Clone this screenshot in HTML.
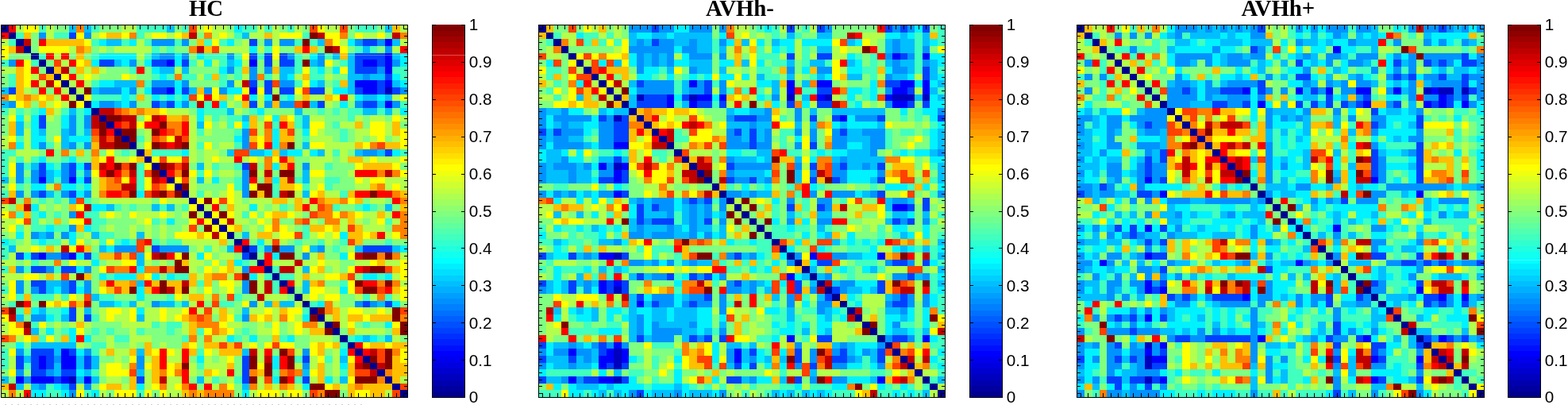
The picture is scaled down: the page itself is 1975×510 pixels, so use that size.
<!DOCTYPE html>
<html><head><meta charset="utf-8"><title>Connectivity matrices</title>
<style>
html,body{margin:0;padding:0;background:#fff;}
body{width:1975px;height:510px;overflow:hidden;position:relative;}
svg{position:absolute;left:0;top:0;display:block;}
.t{font-family:"Liberation Serif",serif;font-weight:bold;font-size:28.8px;text-anchor:middle;fill:#000;}
.l{font-family:"Liberation Sans",sans-serif;font-size:20.7px;fill:#000;}
.k{stroke:#000;stroke-width:1;fill:none;}
</style></head><body>
<svg width="1975" height="510" viewBox="0 0 1975 510">
<rect width="1975" height="510" fill="#fff"/>
<g shape-rendering="crispEdges">
<path fill="#00008f" d="M1.5 32H10.98V40.67H1.5zM10.98 40.67H20.46V49.33H10.98zM20.46 49.33H29.94V58H20.46zM29.94 58H39.42V66.67H29.94zM39.42 66.67H48.9V75.33H39.42zM48.9 75.33H58.38V84H48.9zM58.38 84H67.86V92.67H58.38zM67.86 92.67H77.34V101.33H67.86zM77.34 101.33H86.82V110H77.34zM86.82 110H96.3V118.67H86.82zM96.3 118.67H105.78V127.33H96.3zM105.78 127.33H115.26V136H105.78zM115.26 136H124.74V144.67H115.26zM124.74 144.67H134.21V153.33H124.74zM134.21 153.33H143.69V162H134.21zM143.69 162H153.17V170.67H143.69zM153.17 170.67H162.65V179.33H153.17zM162.65 179.33H172.13V188H162.65zM172.13 188H181.61V196.67H172.13zM181.61 196.67H191.09V205.33H181.61zM191.09 205.33H200.57V214H191.09zM200.57 214H210.05V222.67H200.57zM210.05 222.67H219.53V231.33H210.05zM219.53 231.33H229.01V240H219.53zM229.01 240H238.49V248.67H229.01zM238.49 248.67H247.97V257.33H238.49zM247.97 257.33H257.45V266H247.97zM257.45 266H266.93V274.67H257.45zM266.93 274.67H276.41V283.33H266.93zM276.41 283.33H285.89V292H276.41zM285.89 292H295.37V300.67H285.89zM295.37 300.67H304.85V309.33H295.37zM304.85 309.33H314.33V318H304.85zM314.33 318H323.81V326.67H314.33zM323.81 326.67H333.29V335.33H323.81zM333.29 335.33H342.77V344H333.29zM342.77 344H352.25V352.67H342.77zM352.25 352.67H361.73V361.33H352.25zM361.73 361.33H371.21V370H361.73zM371.21 370H380.69V378.67H371.21zM380.69 378.67H390.16V387.33H380.69zM390.16 387.33H399.64V396H390.16zM399.64 396H409.12V404.67H399.64zM409.12 404.67H418.6V413.33H409.12zM418.6 413.33H428.08V422H418.6zM428.08 422H437.56V430.67H428.08zM437.56 430.67H447.04V439.33H437.56zM447.04 439.33H456.52V448H447.04zM456.52 448H466V456.67H456.52zM466 456.67H475.48V465.33H466zM475.48 465.33H484.96V474H475.48zM484.96 474H494.44V482.67H484.96zM494.44 482.67H503.92V491.33H494.44zM503.92 491.33H513.4V500H503.92z"/>
<path fill="#0000bf" d="M484.96 110H494.44V118.67H484.96zM86.82 474H96.3V482.67H86.82z"/>
<path fill="#0000ff" d="M484.96 49.33H494.44V58H484.96zM484.96 66.67H494.44V75.33H484.96zM210.05 75.33H219.53V84H210.05zM314.33 75.33H323.81V84H314.33zM456.52 75.33H475.48V84H456.52zM484.96 75.33H494.44V84H484.96zM484.96 84H494.44V92.67H484.96zM447.04 101.33H475.48V110H447.04zM484.96 101.33H494.44V110H484.96zM210.05 110H219.53V118.67H210.05zM314.33 110H323.81V118.67H314.33zM456.52 110H475.48V118.67H456.52zM484.96 127.33H494.44V136H484.96zM48.9 222.67H58.38V231.33H48.9zM86.82 222.67H96.3V231.33H86.82zM48.9 318H58.38V326.67H48.9zM86.82 318H96.3V326.67H86.82zM77.34 439.33H86.82V448H77.34zM48.9 448H58.38V456.67H48.9zM77.34 448H96.3V456.67H77.34zM48.9 456.67H58.38V465.33H48.9zM77.34 456.67H96.3V465.33H77.34zM20.46 474H29.94V482.67H20.46zM39.42 474H67.86V482.67H39.42zM77.34 474H86.82V482.67H77.34zM105.78 474H115.26V482.67H105.78z"/>
<path fill="#0040ff" d="M86.82 40.67H96.3V49.33H86.82zM314.33 49.33H323.81V58H314.33zM456.52 49.33H475.48V58H456.52zM314.33 66.67H323.81V75.33H314.33zM333.29 66.67H342.77V75.33H333.29zM352.25 66.67H361.73V75.33H352.25zM447.04 66.67H484.96V75.33H447.04zM124.74 75.33H143.69V84H124.74zM191.09 75.33H210.05V84H191.09zM229.01 75.33H238.49V84H229.01zM333.29 75.33H342.77V84H333.29zM352.25 75.33H371.21V84H352.25zM447.04 75.33H456.52V84H447.04zM475.48 75.33H484.96V84H475.48zM447.04 84H475.48V92.67H447.04zM484.96 92.67H494.44V101.33H484.96zM314.33 101.33H323.81V110H314.33zM333.29 101.33H342.77V110H333.29zM475.48 101.33H484.96V110H475.48zM10.98 110H20.46V118.67H10.98zM191.09 110H210.05V118.67H191.09zM229.01 110H238.49V118.67H229.01zM333.29 110H342.77V118.67H333.29zM352.25 110H371.21V118.67H352.25zM390.16 110H409.12V118.67H390.16zM447.04 110H456.52V118.67H447.04zM475.48 110H484.96V118.67H475.48zM494.44 110H503.92V118.67H494.44zM191.09 127.33H200.57V136H191.09zM210.05 127.33H219.53V136H210.05zM314.33 127.33H323.81V136H314.33zM399.64 127.33H409.12V136H399.64zM456.52 127.33H475.48V136H456.52zM48.9 144.67H58.38V153.33H48.9zM48.9 153.33H58.38V162H48.9zM484.96 188H494.44V196.67H484.96zM48.9 205.33H58.38V214H48.9zM86.82 205.33H96.3V214H86.82zM105.78 205.33H115.26V214H105.78zM304.85 205.33H314.33V214H304.85zM48.9 214H58.38V222.67H48.9zM86.82 214H96.3V222.67H86.82zM105.78 222.67H115.26V231.33H105.78zM48.9 240H58.38V248.67H48.9zM86.82 240H96.3V248.67H86.82zM191.09 309.33H200.57V318H191.09zM314.33 309.33H323.81V318H314.33zM456.52 309.33H494.44V318H456.52zM20.46 318H29.94V326.67H20.46zM39.42 318H48.9V326.67H39.42zM77.34 318H86.82V326.67H77.34zM105.78 318H115.26V326.67H105.78zM304.85 318H314.33V326.67H304.85zM39.42 335.33H58.38V344H39.42zM77.34 335.33H96.3V344H77.34zM39.42 352.67H58.38V361.33H39.42zM86.82 352.67H96.3V361.33H86.82zM48.9 361.33H58.38V370H48.9zM86.82 361.33H96.3V370H86.82zM456.52 378.67H466V387.33H456.52zM484.96 378.67H494.44V387.33H484.96zM86.82 387.33H96.3V396H86.82zM86.82 396H96.3V404.67H86.82zM105.78 396H115.26V404.67H105.78zM39.42 439.33H67.86V448H39.42zM86.82 439.33H96.3V448H86.82zM20.46 448H29.94V456.67H20.46zM39.42 448H48.9V456.67H39.42zM58.38 448H67.86V456.67H58.38zM105.78 448H115.26V456.67H105.78zM304.85 448H314.33V456.67H304.85zM380.69 448H390.16V456.67H380.69zM20.46 456.67H29.94V465.33H20.46zM39.42 456.67H48.9V465.33H39.42zM58.38 456.67H67.86V465.33H58.38zM105.78 456.67H115.26V465.33H105.78zM304.85 456.67H314.33V465.33H304.85zM39.42 465.33H58.38V474H39.42zM77.34 465.33H96.3V474H77.34zM304.85 465.33H314.33V474H304.85zM67.86 474H77.34V482.67H67.86zM172.13 474H181.61V482.67H172.13zM304.85 474H314.33V482.67H304.85zM380.69 474H390.16V482.67H380.69zM86.82 482.67H96.3V491.33H86.82z"/>
<path fill="#0093ff" d="M48.9 40.67H58.38V49.33H48.9zM105.78 40.67H115.26V49.33H105.78zM191.09 49.33H219.53V58H191.09zM229.01 49.33H238.49V58H229.01zM333.29 49.33H342.77V58H333.29zM352.25 49.33H371.21V58H352.25zM447.04 49.33H456.52V58H447.04zM475.48 49.33H484.96V58H475.48zM484.96 58H494.44V66.67H484.96zM200.57 66.67H219.53V75.33H200.57zM229.01 66.67H238.49V75.33H229.01zM285.89 66.67H295.37V75.33H285.89zM361.73 66.67H371.21V75.33H361.73zM399.64 66.67H409.12V75.33H399.64zM10.98 75.33H20.46V84H10.98zM162.65 75.33H172.13V84H162.65zM399.64 75.33H409.12V84H399.64zM494.44 75.33H503.92V84H494.44zM285.89 84H295.37V92.67H285.89zM314.33 84H323.81V92.67H314.33zM333.29 84H342.77V92.67H333.29zM475.48 84H484.96V92.67H475.48zM314.33 92.67H323.81V101.33H314.33zM456.52 92.67H466V101.33H456.52zM191.09 101.33H219.53V110H191.09zM229.01 101.33H238.49V110H229.01zM285.89 101.33H295.37V110H285.89zM352.25 101.33H371.21V110H352.25zM124.74 110H153.17V118.67H124.74zM162.65 110H172.13V118.67H162.65zM257.45 110H266.93V118.67H257.45zM276.41 110H285.89V118.67H276.41zM503.92 110H513.4V118.67H503.92zM10.98 127.33H20.46V136H10.98zM124.74 127.33H143.69V136H124.74zM162.65 127.33H172.13V136H162.65zM200.57 127.33H210.05V136H200.57zM229.01 127.33H238.49V136H229.01zM333.29 127.33H342.77V136H333.29zM352.25 127.33H371.21V136H352.25zM447.04 127.33H456.52V136H447.04zM494.44 127.33H503.92V136H494.44zM86.82 144.67H96.3V153.33H86.82zM105.78 144.67H115.26V153.33H105.78zM86.82 153.33H96.3V162H86.82zM105.78 153.33H115.26V162H105.78zM86.82 162H96.3V170.67H86.82zM304.85 162H314.33V170.67H304.85zM304.85 170.67H314.33V179.33H304.85zM48.9 179.33H58.38V188H48.9zM86.82 179.33H96.3V188H86.82zM105.78 179.33H115.26V188H105.78zM304.85 179.33H314.33V188H304.85zM456.52 188H475.48V196.67H456.52zM20.46 205.33H29.94V214H20.46zM77.34 205.33H86.82V214H77.34zM380.69 205.33H390.16V214H380.69zM20.46 214H29.94V222.67H20.46zM39.42 214H48.9V222.67H39.42zM77.34 214H86.82V222.67H77.34zM105.78 214H115.26V222.67H105.78zM304.85 214H314.33V222.67H304.85zM20.46 222.67H29.94V231.33H20.46zM39.42 222.67H48.9V231.33H39.42zM77.34 222.67H86.82V231.33H77.34zM304.85 222.67H314.33V231.33H304.85zM304.85 231.33H314.33V240H304.85zM20.46 240H29.94V248.67H20.46zM39.42 240H48.9V248.67H39.42zM77.34 240H86.82V248.67H77.34zM105.78 240H115.26V248.67H105.78zM304.85 240H314.33V248.67H304.85zM86.82 266H96.3V274.67H86.82zM86.82 283.33H96.3V292H86.82zM39.42 292H48.9V300.67H39.42zM58.38 292H67.86V300.67H58.38zM77.34 292H86.82V300.67H77.34zM143.69 309.33H172.13V318H143.69zM200.57 309.33H238.49V318H200.57zM333.29 309.33H342.77V318H333.29zM352.25 309.33H371.21V318H352.25zM399.64 309.33H409.12V318H399.64zM58.38 318H77.34V326.67H58.38zM380.69 318H390.16V326.67H380.69zM20.46 335.33H29.94V344H20.46zM58.38 335.33H67.86V344H58.38zM105.78 335.33H115.26V344H105.78zM304.85 335.33H314.33V344H304.85zM20.46 352.67H29.94V361.33H20.46zM77.34 352.67H86.82V361.33H77.34zM105.78 352.67H115.26V361.33H105.78zM304.85 352.67H314.33V361.33H304.85zM20.46 361.33H29.94V370H20.46zM39.42 361.33H48.9V370H39.42zM77.34 361.33H86.82V370H77.34zM105.78 361.33H115.26V370H105.78zM304.85 361.33H314.33V370H304.85zM191.09 378.67H200.57V387.33H191.09zM314.33 378.67H323.81V387.33H314.33zM447.04 378.67H456.52V387.33H447.04zM466 378.67H475.48V387.33H466zM39.42 396H58.38V404.67H39.42zM304.85 396H314.33V404.67H304.85zM20.46 439.33H29.94V448H20.46zM105.78 439.33H115.26V448H105.78zM380.69 439.33H390.16V448H380.69zM67.86 448H77.34V456.67H67.86zM172.13 448H181.61V456.67H172.13zM172.13 456.67H181.61V465.33H172.13zM380.69 456.67H390.16V465.33H380.69zM20.46 465.33H29.94V474H20.46zM58.38 465.33H67.86V474H58.38zM29.94 474H39.42V482.67H29.94zM48.9 482.67H58.38V491.33H48.9zM105.78 482.67H115.26V491.33H105.78zM86.82 491.33H96.3V500H86.82z"/>
<path fill="#00bfff" d="M86.82 32H96.3V40.67H86.82zM105.78 32H115.26V40.67H105.78zM210.05 32H219.53V40.67H210.05zM484.96 32H494.44V40.67H484.96zM304.85 40.67H314.33V49.33H304.85zM134.21 49.33H153.17V58H134.21zM399.64 49.33H409.12V58H399.64zM494.44 49.33H503.92V58H494.44zM456.52 58H466V66.67H456.52zM191.09 66.67H200.57V75.33H191.09zM418.6 66.67H428.08V75.33H418.6zM437.56 66.67H447.04V75.33H437.56zM494.44 66.67H503.92V75.33H494.44zM143.69 75.33H153.17V84H143.69zM285.89 75.33H295.37V84H285.89zM390.16 75.33H399.64V84H390.16zM437.56 75.33H447.04V84H437.56zM200.57 84H219.53V92.67H200.57zM229.01 84H238.49V92.67H229.01zM352.25 84H371.21V92.67H352.25zM437.56 84H447.04V92.67H437.56zM352.25 92.67H361.73V101.33H352.25zM437.56 92.67H456.52V101.33H437.56zM466 92.67H484.96V101.33H466zM143.69 101.33H172.13V110H143.69zM399.64 101.33H409.12V110H399.64zM437.56 101.33H447.04V110H437.56zM494.44 101.33H503.92V110H494.44zM1.5 110H10.98V118.67H1.5zM115.26 110H124.74V118.67H115.26zM238.49 110H247.97V118.67H238.49zM437.56 110H447.04V118.67H437.56zM456.52 118.67H475.48V127.33H456.52zM484.96 118.67H494.44V127.33H484.96zM1.5 127.33H10.98V136H1.5zM143.69 127.33H153.17V136H143.69zM390.16 127.33H399.64V136H390.16zM475.48 127.33H484.96V136H475.48zM86.82 136H96.3V144.67H86.82zM285.89 136H295.37V144.67H285.89zM371.21 136H380.69V144.67H371.21zM456.52 136H475.48V144.67H456.52zM484.96 136H494.44V144.67H484.96zM304.85 144.67H314.33V153.33H304.85zM380.69 144.67H390.16V153.33H380.69zM20.46 153.33H29.94V162H20.46zM247.97 153.33H257.45V162H247.97zM380.69 153.33H390.16V162H380.69zM20.46 162H29.94V170.67H20.46zM48.9 162H58.38V170.67H48.9zM77.34 162H86.82V170.67H77.34zM105.78 162H115.26V170.67H105.78zM77.34 170.67H86.82V179.33H77.34zM77.34 179.33H86.82V188H77.34zM380.69 179.33H390.16V188H380.69zM285.89 188H295.37V196.67H285.89zM314.33 188H333.29V196.67H314.33zM352.25 188H361.73V196.67H352.25zM399.64 188H409.12V196.67H399.64zM447.04 188H456.52V196.67H447.04zM475.48 188H484.96V196.67H475.48zM39.42 205.33H48.9V214H39.42zM247.97 205.33H257.45V214H247.97zM58.38 214H67.86V222.67H58.38zM380.69 214H390.16V222.67H380.69zM1.5 222.67H10.98V231.33H1.5zM58.38 222.67H67.86V231.33H58.38zM247.97 222.67H257.45V231.33H247.97zM380.69 222.67H390.16V231.33H380.69zM58.38 240H67.86V248.67H58.38zM380.69 240H390.16V248.67H380.69zM86.82 248.67H96.3V257.33H86.82zM134.21 257.33H143.69V266H134.21zM191.09 257.33H200.57V266H191.09zM210.05 257.33H219.53V266H210.05zM484.96 257.33H494.44V266H484.96zM48.9 292H58.38V300.67H48.9zM115.26 292H124.74V300.67H115.26zM172.13 292H181.61V300.67H172.13zM304.85 292H314.33V300.67H304.85zM10.98 309.33H20.46V318H10.98zM124.74 309.33H134.21V318H124.74zM285.89 309.33H295.37V318H285.89zM390.16 309.33H399.64V318H390.16zM447.04 309.33H456.52V318H447.04zM494.44 309.33H503.92V318H494.44zM172.13 318H181.61V326.67H172.13zM172.13 326.67H181.61V335.33H172.13zM380.69 335.33H390.16V344H380.69zM58.38 352.67H77.34V361.33H58.38zM172.13 352.67H181.61V361.33H172.13zM380.69 352.67H390.16V361.33H380.69zM58.38 361.33H67.86V370H58.38zM380.69 361.33H390.16V370H380.69zM115.26 370H124.74V378.67H115.26zM124.74 378.67H143.69V387.33H124.74zM162.65 378.67H172.13V387.33H162.65zM200.57 378.67H219.53V387.33H200.57zM229.01 378.67H238.49V387.33H229.01zM333.29 378.67H342.77V387.33H333.29zM352.25 378.67H371.21V387.33H352.25zM475.48 378.67H484.96V387.33H475.48zM48.9 387.33H58.38V396H48.9zM105.78 387.33H115.26V396H105.78zM304.85 387.33H314.33V396H304.85zM20.46 396H29.94V404.67H20.46zM77.34 396H86.82V404.67H77.34zM172.13 396H181.61V404.67H172.13zM39.42 413.33H48.9V422H39.42zM456.52 422H466V430.67H456.52zM484.96 422H494.44V430.67H484.96zM39.42 430.67H96.3V439.33H39.42zM67.86 439.33H77.34V448H67.86zM172.13 439.33H181.61V448H172.13zM304.85 439.33H314.33V448H304.85zM29.94 448H39.42V456.67H29.94zM96.3 448H105.78V456.67H96.3zM115.26 448H124.74V456.67H115.26zM428.08 448H437.56V456.67H428.08zM67.86 456.67H77.34V465.33H67.86zM96.3 456.67H105.78V465.33H96.3zM115.26 456.67H124.74V465.33H115.26zM67.86 465.33H77.34V474H67.86zM105.78 465.33H115.26V474H105.78zM172.13 465.33H181.61V474H172.13zM380.69 465.33H390.16V474H380.69zM1.5 474H10.98V482.67H1.5zM96.3 474H105.78V482.67H96.3zM115.26 474H124.74V482.67H115.26zM247.97 474H257.45V482.67H247.97zM428.08 474H437.56V482.67H428.08zM20.46 482.67H29.94V491.33H20.46zM39.42 482.67H48.9V491.33H39.42zM77.34 482.67H86.82V491.33H77.34zM304.85 482.67H314.33V491.33H304.85z"/>
<path fill="#00f2ff" d="M295.37 32H304.85V40.67H295.37zM124.74 49.33H134.21V58H124.74zM162.65 49.33H172.13V58H162.65zM285.89 49.33H295.37V58H285.89zM437.56 49.33H447.04V58H437.56zM314.33 58H323.81V66.67H314.33zM124.74 66.67H172.13V75.33H124.74zM219.53 66.67H229.01V75.33H219.53zM247.97 66.67H257.45V75.33H247.97zM390.16 66.67H399.64V75.33H390.16zM503.92 66.67H513.4V75.33H503.92zM115.26 75.33H124.74V84H115.26zM153.17 75.33H162.65V84H153.17zM181.61 75.33H191.09V84H181.61zM219.53 75.33H229.01V84H219.53zM257.45 75.33H266.93V84H257.45zM295.37 75.33H304.85V84H295.37zM503.92 75.33H513.4V84H503.92zM191.09 84H200.57V92.67H191.09zM276.41 84H285.89V92.67H276.41zM399.64 84H409.12V92.67H399.64zM418.6 84H428.08V92.67H418.6zM200.57 92.67H210.05V101.33H200.57zM361.73 92.67H371.21V101.33H361.73zM494.44 92.67H503.92V101.33H494.44zM124.74 101.33H143.69V110H124.74zM219.53 101.33H229.01V110H219.53zM390.16 101.33H399.64V110H390.16zM503.92 101.33H513.4V110H503.92zM153.17 110H162.65V118.67H153.17zM181.61 110H191.09V118.67H181.61zM219.53 110H229.01V118.67H219.53zM285.89 110H304.85V118.67H285.89zM418.6 110H437.56V118.67H418.6zM153.17 118.67H162.65V127.33H153.17zM191.09 118.67H200.57V127.33H191.09zM210.05 118.67H219.53V127.33H210.05zM229.01 118.67H238.49V127.33H229.01zM314.33 118.67H323.81V127.33H314.33zM333.29 118.67H342.77V127.33H333.29zM361.73 118.67H371.21V127.33H361.73zM447.04 118.67H456.52V127.33H447.04zM475.48 118.67H484.96V127.33H475.48zM115.26 127.33H124.74V136H115.26zM153.17 127.33H162.65V136H153.17zM219.53 127.33H229.01V136H219.53zM276.41 127.33H285.89V136H276.41zM428.08 127.33H437.56V136H428.08zM48.9 136H58.38V144.67H48.9zM105.78 136H115.26V144.67H105.78zM247.97 136H257.45V144.67H247.97zM323.81 136H333.29V144.67H323.81zM503.92 136H513.4V144.67H503.92zM20.46 144.67H29.94V153.33H20.46zM39.42 144.67H48.9V153.33H39.42zM77.34 144.67H86.82V153.33H77.34zM247.97 144.67H257.45V153.33H247.97zM342.77 144.67H352.25V153.33H342.77zM39.42 153.33H48.9V162H39.42zM77.34 153.33H86.82V162H77.34zM304.85 153.33H314.33V162H304.85zM39.42 162H48.9V170.67H39.42zM342.77 162H352.25V170.67H342.77zM380.69 162H390.16V170.67H380.69zM39.42 170.67H58.38V179.33H39.42zM86.82 170.67H115.26V179.33H86.82zM295.37 170.67H304.85V179.33H295.37zM342.77 170.67H352.25V179.33H342.77zM20.46 179.33H29.94V188H20.46zM39.42 179.33H48.9V188H39.42zM342.77 179.33H352.25V188H342.77zM229.01 188H238.49V196.67H229.01zM333.29 188H342.77V196.67H333.29zM361.73 188H380.69V196.67H361.73zM390.16 188H399.64V196.67H390.16zM494.44 188H503.92V196.67H494.44zM48.9 196.67H58.38V205.33H48.9zM86.82 196.67H96.3V205.33H86.82zM58.38 205.33H67.86V214H58.38zM96.3 205.33H105.78V214H96.3zM342.77 205.33H352.25V214H342.77zM67.86 214H77.34V222.67H67.86zM96.3 222.67H105.78V231.33H96.3zM266.93 222.67H276.41V231.33H266.93zM342.77 222.67H352.25V231.33H342.77zM39.42 231.33H58.38V240H39.42zM77.34 231.33H96.3V240H77.34zM105.78 231.33H115.26V240H105.78zM96.3 240H105.78V248.67H96.3zM172.13 240H181.61V248.67H172.13zM39.42 257.33H48.9V266H39.42zM115.26 257.33H134.21V266H115.26zM314.33 257.33H323.81V266H314.33zM456.52 257.33H466V266H456.52zM48.9 266H58.38V274.67H48.9zM210.05 274.67H219.53V283.33H210.05zM58.38 283.33H67.86V292H58.38zM105.78 283.33H115.26V292H105.78zM20.46 292H29.94V300.67H20.46zM86.82 292H96.3V300.67H86.82zM428.08 292H437.56V300.67H428.08zM1.5 300.67H10.98V309.33H1.5zM48.9 300.67H58.38V309.33H48.9zM86.82 300.67H96.3V309.33H86.82zM153.17 300.67H162.65V309.33H153.17zM323.81 300.67H333.29V309.33H323.81zM134.21 309.33H143.69V318H134.21zM503.92 309.33H513.4V318H503.92zM29.94 318H39.42V326.67H29.94zM96.3 318H105.78V326.67H96.3zM247.97 318H257.45V326.67H247.97zM342.77 318H352.25V326.67H342.77zM428.08 318H437.56V326.67H428.08zM115.26 326.67H124.74V335.33H115.26zM295.37 326.67H304.85V335.33H295.37zM96.3 335.33H105.78V344H96.3zM172.13 335.33H181.61V344H172.13zM124.74 344H134.21V352.67H124.74zM143.69 344H172.13V352.67H143.69zM191.09 344H200.57V352.67H191.09zM210.05 344H219.53V352.67H210.05zM314.33 344H323.81V352.67H314.33zM456.52 344H475.48V352.67H456.52zM484.96 344H494.44V352.67H484.96zM67.86 361.33H77.34V370H67.86zM96.3 361.33H105.78V370H96.3zM172.13 361.33H181.61V370H172.13zM428.08 361.33H437.56V370H428.08zM172.13 370H181.61V378.67H172.13zM143.69 378.67H153.17V387.33H143.69zM399.64 378.67H409.12V387.33H399.64zM494.44 378.67H503.92V387.33H494.44zM39.42 387.33H48.9V396H39.42zM77.34 387.33H86.82V396H77.34zM172.13 387.33H181.61V396H172.13zM58.38 396H67.86V404.67H58.38zM380.69 396H390.16V404.67H380.69zM484.96 404.67H494.44V413.33H484.96zM58.38 413.33H67.86V422H58.38zM86.82 413.33H96.3V422H86.82zM86.82 422H96.3V430.67H86.82zM105.78 422H115.26V430.67H105.78zM285.89 422H295.37V430.67H285.89zM314.33 422H323.81V430.67H314.33zM361.73 422H371.21V430.67H361.73zM447.04 422H456.52V430.67H447.04zM466 422H475.48V430.67H466zM20.46 430.67H29.94V439.33H20.46zM96.3 439.33H105.78V448H96.3zM428.08 439.33H437.56V448H428.08zM247.97 448H257.45V456.67H247.97zM342.77 448H352.25V456.67H342.77zM342.77 456.67H352.25V465.33H342.77zM428.08 456.67H437.56V465.33H428.08zM96.3 465.33H105.78V474H96.3zM342.77 474H352.25V482.67H342.77zM409.12 474H418.6V482.67H409.12zM67.86 482.67H77.34V491.33H67.86zM172.13 482.67H181.61V491.33H172.13zM380.69 482.67H390.16V491.33H380.69zM39.42 491.33H58.38V500H39.42zM77.34 491.33H86.82V500H77.34zM115.26 491.33H124.74V500H115.26zM304.85 491.33H314.33V500H304.85z"/>
<path fill="#40ffbf" d="M48.9 32H58.38V40.67H48.9zM115.26 32H124.74V40.67H115.26zM172.13 32H210.05V40.67H172.13zM229.01 32H238.49V40.67H229.01zM304.85 32H323.81V40.67H304.85zM333.29 32H342.77V40.67H333.29zM361.73 32H371.21V40.67H361.73zM447.04 32H475.48V40.67H447.04zM20.46 40.67H29.94V49.33H20.46zM67.86 40.67H86.82V49.33H67.86zM172.13 40.67H181.61V49.33H172.13zM295.37 40.67H304.85V49.33H295.37zM380.69 40.67H390.16V49.33H380.69zM10.98 49.33H20.46V58H10.98zM115.26 49.33H124.74V58H115.26zM153.17 49.33H162.65V58H153.17zM181.61 49.33H191.09V58H181.61zM219.53 49.33H229.01V58H219.53zM257.45 49.33H266.93V58H257.45zM276.41 49.33H285.89V58H276.41zM371.21 49.33H380.69V58H371.21zM390.16 49.33H399.64V58H390.16zM191.09 58H200.57V66.67H191.09zM210.05 58H219.53V66.67H210.05zM333.29 58H342.77V66.67H333.29zM447.04 58H456.52V66.67H447.04zM466 58H475.48V66.67H466zM48.9 66.67H58.38V75.33H48.9zM115.26 66.67H124.74V75.33H115.26zM181.61 66.67H191.09V75.33H181.61zM257.45 66.67H285.89V75.33H257.45zM295.37 66.67H304.85V75.33H295.37zM323.81 66.67H333.29V75.33H323.81zM371.21 66.67H380.69V75.33H371.21zM409.12 66.67H418.6V75.33H409.12zM1.5 75.33H10.98V84H1.5zM39.42 75.33H48.9V84H39.42zM238.49 75.33H247.97V84H238.49zM276.41 75.33H285.89V84H276.41zM371.21 75.33H380.69V84H371.21zM428.08 75.33H437.56V84H428.08zM162.65 84H172.13V92.67H162.65zM295.37 84H304.85V92.67H295.37zM371.21 84H380.69V92.67H371.21zM390.16 84H399.64V92.67H390.16zM494.44 84H513.4V92.67H494.44zM10.98 92.67H20.46V101.33H10.98zM191.09 92.67H200.57V101.33H191.09zM210.05 92.67H219.53V101.33H210.05zM229.01 92.67H247.97V101.33H229.01zM257.45 92.67H266.93V101.33H257.45zM276.41 92.67H285.89V101.33H276.41zM295.37 92.67H304.85V101.33H295.37zM333.29 92.67H342.77V101.33H333.29zM390.16 92.67H409.12V101.33H390.16zM503.92 92.67H513.4V101.33H503.92zM10.98 101.33H20.46V110H10.98zM115.26 101.33H124.74V110H115.26zM181.61 101.33H191.09V110H181.61zM276.41 101.33H285.89V110H276.41zM371.21 101.33H380.69V110H371.21zM418.6 101.33H428.08V110H418.6zM115.26 118.67H153.17V127.33H115.26zM162.65 118.67H172.13V127.33H162.65zM200.57 118.67H210.05V127.33H200.57zM219.53 118.67H229.01V127.33H219.53zM352.25 118.67H361.73V127.33H352.25zM238.49 127.33H247.97V136H238.49zM257.45 127.33H266.93V136H257.45zM503.92 127.33H513.4V136H503.92zM1.5 136H10.98V144.67H1.5zM20.46 136H29.94V144.67H20.46zM39.42 136H48.9V144.67H39.42zM77.34 136H86.82V144.67H77.34zM96.3 136H105.78V144.67H96.3zM257.45 136H285.89V144.67H257.45zM314.33 136H323.81V144.67H314.33zM399.64 136H409.12V144.67H399.64zM418.6 136H428.08V144.67H418.6zM437.56 136H456.52V144.67H437.56zM475.48 136H484.96V144.67H475.48zM96.3 144.67H105.78V153.33H96.3zM266.93 144.67H276.41V153.33H266.93zM285.89 144.67H304.85V153.33H285.89zM371.21 144.67H380.69V153.33H371.21zM437.56 144.67H447.04V153.33H437.56zM96.3 153.33H105.78V162H96.3zM285.89 153.33H295.37V162H285.89zM342.77 153.33H352.25V162H342.77zM371.21 153.33H380.69V162H371.21zM418.6 153.33H428.08V162H418.6zM96.3 162H105.78V170.67H96.3zM247.97 162H257.45V170.67H247.97zM295.37 162H304.85V170.67H295.37zM428.08 162H437.56V170.67H428.08zM20.46 170.67H29.94V179.33H20.46zM172.13 170.67H181.61V179.33H172.13zM380.69 170.67H390.16V179.33H380.69zM428.08 170.67H437.56V179.33H428.08zM58.38 179.33H67.86V188H58.38zM96.3 179.33H105.78V188H96.3zM247.97 179.33H257.45V188H247.97zM295.37 179.33H304.85V188H295.37zM1.5 188H20.46V196.67H1.5zM153.17 188H162.65V196.67H153.17zM191.09 188H229.01V196.67H191.09zM418.6 188H428.08V196.67H418.6zM503.92 188H513.4V196.67H503.92zM1.5 196.67H10.98V205.33H1.5zM20.46 196.67H29.94V205.33H20.46zM39.42 196.67H48.9V205.33H39.42zM77.34 196.67H86.82V205.33H77.34zM1.5 205.33H10.98V214H1.5zM29.94 205.33H39.42V214H29.94zM67.86 205.33H77.34V214H67.86zM172.13 205.33H181.61V214H172.13zM266.93 205.33H276.41V214H266.93zM295.37 205.33H304.85V214H295.37zM409.12 205.33H418.6V214H409.12zM1.5 214H10.98V222.67H1.5zM96.3 214H105.78V222.67H96.3zM172.13 214H181.61V222.67H172.13zM247.97 214H257.45V222.67H247.97zM29.94 222.67H39.42V231.33H29.94zM67.86 222.67H77.34V231.33H67.86zM172.13 222.67H181.61V231.33H172.13zM295.37 222.67H304.85V231.33H295.37zM371.21 222.67H380.69V231.33H371.21zM409.12 222.67H428.08V231.33H409.12zM20.46 231.33H29.94V240H20.46zM96.3 231.33H105.78V240H96.3zM172.13 231.33H181.61V240H172.13zM295.37 231.33H304.85V240H295.37zM342.77 231.33H352.25V240H342.77zM380.69 231.33H390.16V240H380.69zM409.12 231.33H418.6V240H409.12zM1.5 240H10.98V248.67H1.5zM67.86 240H77.34V248.67H67.86zM247.97 240H257.45V248.67H247.97zM342.77 240H352.25V248.67H342.77zM428.08 240H437.56V248.67H428.08zM48.9 248.67H58.38V257.33H48.9zM67.86 248.67H77.34V257.33H67.86zM105.78 248.67H115.26V257.33H105.78zM143.69 257.33H153.17V266H143.69zM162.65 257.33H172.13V266H162.65zM200.57 257.33H210.05V266H200.57zM229.01 257.33H238.49V266H229.01zM352.25 257.33H361.73V266H352.25zM418.6 257.33H428.08V266H418.6zM447.04 257.33H456.52V266H447.04zM466 257.33H475.48V266H466zM20.46 266H29.94V274.67H20.46zM39.42 266H48.9V274.67H39.42zM67.86 266H77.34V274.67H67.86zM105.78 266H124.74V274.67H105.78zM304.85 266H314.33V274.67H304.85zM39.42 274.67H48.9V283.33H39.42zM115.26 274.67H134.21V283.33H115.26zM191.09 274.67H200.57V283.33H191.09zM484.96 274.67H494.44V283.33H484.96zM20.46 283.33H29.94V292H20.46zM39.42 283.33H58.38V292H39.42zM67.86 283.33H86.82V292H67.86zM115.26 283.33H124.74V292H115.26zM380.69 283.33H390.16V292H380.69zM124.74 292H143.69V300.67H124.74zM380.69 292H390.16V300.67H380.69zM10.98 300.67H20.46V309.33H10.98zM39.42 300.67H48.9V309.33H39.42zM58.38 300.67H77.34V309.33H58.38zM124.74 300.67H134.21V309.33H124.74zM143.69 300.67H153.17V309.33H143.69zM162.65 300.67H172.13V309.33H162.65zM191.09 300.67H200.57V309.33H191.09zM210.05 300.67H229.01V309.33H210.05zM371.21 300.67H380.69V309.33H371.21zM399.64 300.67H409.12V309.33H399.64zM428.08 300.67H437.56V309.33H428.08zM484.96 300.67H494.44V309.33H484.96zM1.5 309.33H10.98V318H1.5zM257.45 309.33H266.93V318H257.45zM323.81 309.33H333.29V318H323.81zM418.6 309.33H428.08V318H418.6zM1.5 318H10.98V326.67H1.5zM115.26 318H124.74V326.67H115.26zM39.42 326.67H48.9V335.33H39.42zM304.85 326.67H314.33V335.33H304.85zM1.5 335.33H10.98V344H1.5zM29.94 335.33H39.42V344H29.94zM67.86 335.33H77.34V344H67.86zM342.77 335.33H352.25V344H342.77zM134.21 344H143.69V352.67H134.21zM219.53 344H238.49V352.67H219.53zM333.29 344H342.77V352.67H333.29zM352.25 344H371.21V352.67H352.25zM475.48 344H484.96V352.67H475.48zM96.3 352.67H105.78V361.33H96.3zM247.97 352.67H257.45V361.33H247.97zM342.77 352.67H352.25V361.33H342.77zM428.08 352.67H437.56V361.33H428.08zM1.5 361.33H10.98V370H1.5zM342.77 361.33H352.25V370H342.77zM20.46 370H29.94V378.67H20.46zM39.42 370H67.86V378.67H39.42zM77.34 370H86.82V378.67H77.34zM124.74 370H143.69V378.67H124.74zM210.05 370H219.53V378.67H210.05zM295.37 370H304.85V378.67H295.37zM456.52 370H466V378.67H456.52zM484.96 370H494.44V378.67H484.96zM10.98 378.67H20.46V387.33H10.98zM153.17 378.67H162.65V387.33H153.17zM219.53 378.67H229.01V387.33H219.53zM276.41 378.67H295.37V387.33H276.41zM390.16 378.67H399.64V387.33H390.16zM20.46 387.33H29.94V396H20.46zM58.38 387.33H77.34V396H58.38zM380.69 387.33H390.16V396H380.69zM67.86 396H77.34V404.67H67.86zM115.26 396H124.74V404.67H115.26zM295.37 396H304.85V404.67H295.37zM39.42 404.67H48.9V413.33H39.42zM191.09 404.67H200.57V413.33H191.09zM210.05 404.67H229.01V413.33H210.05zM456.52 404.67H466V413.33H456.52zM77.34 413.33H86.82V422H77.34zM115.26 413.33H124.74V422H115.26zM134.21 413.33H143.69V422H134.21zM172.13 413.33H181.61V422H172.13zM210.05 413.33H219.53V422H210.05zM247.97 413.33H257.45V422H247.97zM304.85 413.33H314.33V422H304.85zM48.9 422H58.38V430.67H48.9zM143.69 422H162.65V430.67H143.69zM229.01 422H238.49V430.67H229.01zM295.37 422H304.85V430.67H295.37zM352.25 422H361.73V430.67H352.25zM437.56 422H447.04V430.67H437.56zM475.48 422H484.96V430.67H475.48zM115.26 430.67H134.21V439.33H115.26zM428.08 430.67H437.56V439.33H428.08zM1.5 439.33H10.98V448H1.5zM29.94 439.33H39.42V448H29.94zM115.26 439.33H124.74V448H115.26zM247.97 439.33H257.45V448H247.97zM1.5 448H10.98V456.67H1.5zM371.21 448H380.69V456.67H371.21zM409.12 448H418.6V456.67H409.12zM1.5 456.67H10.98V465.33H1.5zM29.94 456.67H39.42V465.33H29.94zM247.97 456.67H257.45V465.33H247.97zM115.26 465.33H124.74V474H115.26zM342.77 465.33H352.25V474H342.77zM428.08 465.33H437.56V474H428.08zM266.93 474H276.41V482.67H266.93zM295.37 474H304.85V482.67H295.37zM371.21 474H380.69V482.67H371.21zM58.38 482.67H67.86V491.33H58.38zM58.38 491.33H77.34V500H58.38zM105.78 491.33H115.26V500H105.78zM172.13 491.33H181.61V500H172.13z"/>
<path fill="#80ff80" d="M67.86 32H86.82V40.67H67.86zM124.74 32H153.17V40.67H124.74zM219.53 32H229.01V40.67H219.53zM285.89 32H295.37V40.67H285.89zM352.25 32H361.73V40.67H352.25zM380.69 32H390.16V40.67H380.69zM437.56 32H447.04V40.67H437.56zM475.48 32H484.96V40.67H475.48zM39.42 40.67H48.9V49.33H39.42zM247.97 40.67H257.45V49.33H247.97zM437.56 40.67H447.04V49.33H437.56zM484.96 40.67H494.44V49.33H484.96zM39.42 49.33H48.9V58H39.42zM238.49 49.33H247.97V58H238.49zM295.37 49.33H304.85V58H295.37zM323.81 49.33H333.29V58H323.81zM39.42 58H48.9V66.67H39.42zM115.26 58H124.74V66.67H115.26zM134.21 58H143.69V66.67H134.21zM200.57 58H210.05V66.67H200.57zM219.53 58H238.49V66.67H219.53zM352.25 58H371.21V66.67H352.25zM399.64 58H409.12V66.67H399.64zM437.56 58H447.04V66.67H437.56zM475.48 58H484.96V66.67H475.48zM10.98 66.67H39.42V75.33H10.98zM86.82 66.67H96.3V75.33H86.82zM105.78 66.67H115.26V75.33H105.78zM238.49 66.67H247.97V75.33H238.49zM380.69 66.67H390.16V75.33H380.69zM58.38 75.33H67.86V84H58.38zM172.13 75.33H181.61V84H172.13zM323.81 75.33H333.29V84H323.81zM418.6 75.33H428.08V84H418.6zM48.9 84H58.38V92.67H48.9zM86.82 84H96.3V92.67H86.82zM134.21 84H162.65V92.67H134.21zM181.61 84H191.09V92.67H181.61zM238.49 84H276.41V92.67H238.49zM323.81 84H333.29V92.67H323.81zM409.12 84H418.6V92.67H409.12zM1.5 92.67H10.98V101.33H1.5zM124.74 92.67H153.17V101.33H124.74zM172.13 92.67H191.09V101.33H172.13zM285.89 92.67H295.37V101.33H285.89zM418.6 92.67H437.56V101.33H418.6zM1.5 101.33H10.98V110H1.5zM238.49 101.33H276.41V110H238.49zM323.81 101.33H333.29V110H323.81zM409.12 101.33H418.6V110H409.12zM39.42 110H48.9V118.67H39.42zM58.38 110H67.86V118.67H58.38zM172.13 110H181.61V118.67H172.13zM181.61 118.67H191.09V127.33H181.61zM285.89 118.67H295.37V127.33H285.89zM39.42 127.33H48.9V136H39.42zM172.13 127.33H191.09V136H172.13zM295.37 127.33H304.85V136H295.37zM418.6 127.33H428.08V136H418.6zM437.56 127.33H447.04V136H437.56zM29.94 136H39.42V144.67H29.94zM238.49 136H247.97V144.67H238.49zM304.85 136H314.33V144.67H304.85zM333.29 136H371.21V144.67H333.29zM380.69 136H399.64V144.67H380.69zM409.12 136H418.6V144.67H409.12zM428.08 136H437.56V144.67H428.08zM494.44 136H503.92V144.67H494.44zM1.5 144.67H10.98V153.33H1.5zM67.86 144.67H77.34V153.33H67.86zM172.13 144.67H181.61V153.33H172.13zM276.41 144.67H285.89V153.33H276.41zM323.81 144.67H333.29V153.33H323.81zM409.12 144.67H437.56V153.33H409.12zM456.52 144.67H466V153.33H456.52zM484.96 144.67H494.44V153.33H484.96zM1.5 153.33H10.98V162H1.5zM29.94 153.33H39.42V162H29.94zM58.38 153.33H77.34V162H58.38zM266.93 153.33H276.41V162H266.93zM409.12 153.33H418.6V162H409.12zM456.52 153.33H466V162H456.52zM503.92 153.33H513.4V162H503.92zM1.5 162H10.98V170.67H1.5zM58.38 162H77.34V170.67H58.38zM172.13 162H181.61V170.67H172.13zM266.93 162H295.37V170.67H266.93zM371.21 162H380.69V170.67H371.21zM409.12 162H428.08V170.67H409.12zM437.56 162H447.04V170.67H437.56zM58.38 170.67H67.86V179.33H58.38zM247.97 170.67H295.37V179.33H247.97zM371.21 170.67H380.69V179.33H371.21zM418.6 170.67H428.08V179.33H418.6zM437.56 170.67H447.04V179.33H437.56zM456.52 170.67H466V179.33H456.52zM484.96 170.67H494.44V179.33H484.96zM172.13 179.33H181.61V188H172.13zM266.93 179.33H276.41V188H266.93zM371.21 179.33H380.69V188H371.21zM48.9 188H58.38V196.67H48.9zM67.86 188H77.34V196.67H67.86zM86.82 188H96.3V196.67H86.82zM105.78 188H115.26V196.67H105.78zM124.74 188H134.21V196.67H124.74zM143.69 188H153.17V196.67H143.69zM162.65 188H172.13V196.67H162.65zM247.97 188H257.45V196.67H247.97zM276.41 188H285.89V196.67H276.41zM437.56 188H447.04V196.67H437.56zM58.38 196.67H77.34V205.33H58.38zM96.3 196.67H115.26V205.33H96.3zM247.97 196.67H257.45V205.33H247.97zM371.21 196.67H390.16V205.33H371.21zM418.6 196.67H428.08V205.33H418.6zM238.49 205.33H247.97V214H238.49zM276.41 205.33H295.37V214H276.41zM323.81 205.33H333.29V214H323.81zM371.21 205.33H380.69V214H371.21zM418.6 205.33H447.04V214H418.6zM503.92 205.33H513.4V214H503.92zM29.94 214H39.42V222.67H29.94zM266.93 214H276.41V222.67H266.93zM295.37 214H304.85V222.67H295.37zM342.77 214H352.25V222.67H342.77zM371.21 214H380.69V222.67H371.21zM409.12 214H437.56V222.67H409.12zM276.41 222.67H295.37V231.33H276.41zM323.81 222.67H333.29V231.33H323.81zM428.08 222.67H447.04V231.33H428.08zM1.5 231.33H10.98V240H1.5zM29.94 231.33H39.42V240H29.94zM247.97 231.33H285.89V240H247.97zM418.6 231.33H447.04V240H418.6zM29.94 240H39.42V248.67H29.94zM266.93 240H276.41V248.67H266.93zM20.46 248.67H29.94V257.33H20.46zM39.42 248.67H48.9V257.33H39.42zM58.38 248.67H67.86V257.33H58.38zM77.34 248.67H86.82V257.33H77.34zM115.26 248.67H124.74V257.33H115.26zM191.09 248.67H200.57V257.33H191.09zM304.85 248.67H314.33V257.33H304.85zM456.52 248.67H466V257.33H456.52zM484.96 248.67H494.44V257.33H484.96zM10.98 257.33H20.46V266H10.98zM58.38 257.33H67.86V266H58.38zM77.34 257.33H86.82V266H77.34zM153.17 257.33H162.65V266H153.17zM172.13 257.33H191.09V266H172.13zM219.53 257.33H229.01V266H219.53zM276.41 257.33H285.89V266H276.41zM333.29 257.33H342.77V266H333.29zM361.73 257.33H371.21V266H361.73zM428.08 257.33H447.04V266H428.08zM475.48 257.33H484.96V266H475.48zM494.44 257.33H503.92V266H494.44zM58.38 266H67.86V274.67H58.38zM77.34 266H86.82V274.67H77.34zM153.17 266H162.65V274.67H153.17zM219.53 266H229.01V274.67H219.53zM323.81 266H333.29V274.67H323.81zM380.69 266H390.16V274.67H380.69zM58.38 274.67H67.86V283.33H58.38zM77.34 274.67H86.82V283.33H77.34zM134.21 274.67H172.13V283.33H134.21zM200.57 274.67H210.05V283.33H200.57zM219.53 274.67H238.49V283.33H219.53zM314.33 274.67H323.81V283.33H314.33zM352.25 274.67H371.21V283.33H352.25zM399.64 274.67H409.12V283.33H399.64zM456.52 274.67H466V283.33H456.52zM124.74 283.33H134.21V292H124.74zM143.69 283.33H162.65V292H143.69zM172.13 283.33H181.61V292H172.13zM191.09 283.33H200.57V292H191.09zM210.05 283.33H229.01V292H210.05zM247.97 283.33H257.45V292H247.97zM304.85 283.33H314.33V292H304.85zM323.81 283.33H333.29V292H323.81zM371.21 283.33H380.69V292H371.21zM484.96 283.33H494.44V292H484.96zM1.5 292H10.98V300.67H1.5zM67.86 292H77.34V300.67H67.86zM96.3 292H105.78V300.67H96.3zM143.69 292H162.65V300.67H143.69zM191.09 292H200.57V300.67H191.09zM210.05 292H219.53V300.67H210.05zM295.37 292H304.85V300.67H295.37zM20.46 300.67H29.94V309.33H20.46zM105.78 300.67H115.26V309.33H105.78zM200.57 300.67H210.05V309.33H200.57zM285.89 300.67H295.37V309.33H285.89zM314.33 300.67H323.81V309.33H314.33zM361.73 300.67H371.21V309.33H361.73zM380.69 300.67H399.64V309.33H380.69zM418.6 300.67H428.08V309.33H418.6zM456.52 300.67H484.96V309.33H456.52zM494.44 300.67H513.4V309.33H494.44zM115.26 309.33H124.74V318H115.26zM238.49 309.33H247.97V318H238.49zM276.41 309.33H285.89V318H276.41zM371.21 309.33H380.69V318H371.21zM409.12 309.33H418.6V318H409.12zM428.08 309.33H437.56V318H428.08zM266.93 318H276.41V326.67H266.93zM295.37 318H304.85V326.67H295.37zM323.81 318H333.29V326.67H323.81zM371.21 318H380.69V326.67H371.21zM409.12 318H428.08V326.67H409.12zM20.46 326.67H29.94V335.33H20.46zM48.9 326.67H67.86V335.33H48.9zM77.34 326.67H86.82V335.33H77.34zM124.74 326.67H134.21V335.33H124.74zM191.09 326.67H200.57V335.33H191.09zM210.05 326.67H219.53V335.33H210.05zM257.45 326.67H266.93V335.33H257.45zM276.41 326.67H285.89V335.33H276.41zM314.33 326.67H323.81V335.33H314.33zM428.08 326.67H447.04V335.33H428.08zM115.26 335.33H124.74V344H115.26zM247.97 335.33H257.45V344H247.97zM409.12 335.33H418.6V344H409.12zM428.08 335.33H437.56V344H428.08zM115.26 344H124.74V352.67H115.26zM200.57 344H210.05V352.67H200.57zM447.04 344H456.52V352.67H447.04zM1.5 352.67H10.98V361.33H1.5zM29.94 352.67H39.42V361.33H29.94zM115.26 352.67H124.74V361.33H115.26zM266.93 352.67H276.41V361.33H266.93zM409.12 352.67H428.08V361.33H409.12zM29.94 361.33H39.42V370H29.94zM115.26 361.33H124.74V370H115.26zM247.97 361.33H257.45V370H247.97zM266.93 361.33H276.41V370H266.93zM295.37 361.33H304.85V370H295.37zM371.21 361.33H380.69V370H371.21zM143.69 370H172.13V378.67H143.69zM181.61 370H210.05V378.67H181.61zM276.41 370H285.89V378.67H276.41zM304.85 370H323.81V378.67H304.85zM361.73 370H371.21V378.67H361.73zM428.08 370H447.04V378.67H428.08zM1.5 378.67H10.98V387.33H1.5zM39.42 378.67H48.9V387.33H39.42zM115.26 378.67H124.74V387.33H115.26zM181.61 378.67H191.09V387.33H181.61zM257.45 378.67H266.93V387.33H257.45zM295.37 378.67H304.85V387.33H295.37zM428.08 378.67H447.04V387.33H428.08zM503.92 378.67H513.4V387.33H503.92zM115.26 387.33H124.74V396H115.26zM295.37 387.33H304.85V396H295.37zM29.94 396H39.42V404.67H29.94zM266.93 396H276.41V404.67H266.93zM58.38 404.67H67.86V413.33H58.38zM77.34 404.67H86.82V413.33H77.34zM115.26 404.67H153.17V413.33H115.26zM200.57 404.67H210.05V413.33H200.57zM304.85 404.67H323.81V413.33H304.85zM333.29 404.67H342.77V413.33H333.29zM352.25 404.67H361.73V413.33H352.25zM447.04 404.67H456.52V413.33H447.04zM466 404.67H484.96V413.33H466zM48.9 413.33H58.38V422H48.9zM67.86 413.33H77.34V422H67.86zM105.78 413.33H115.26V422H105.78zM124.74 413.33H134.21V422H124.74zM143.69 413.33H162.65V422H143.69zM181.61 413.33H210.05V422H181.61zM219.53 413.33H229.01V422H219.53zM295.37 413.33H304.85V422H295.37zM314.33 413.33H323.81V422H314.33zM352.25 413.33H361.73V422H352.25zM428.08 413.33H437.56V422H428.08zM484.96 413.33H494.44V422H484.96zM67.86 422H77.34V430.67H67.86zM115.26 422H134.21V430.67H115.26zM191.09 422H229.01V430.67H191.09zM247.97 422H257.45V430.67H247.97zM304.85 422H314.33V430.67H304.85zM323.81 422H342.77V430.67H323.81zM371.21 422H390.16V430.67H371.21zM418.6 422H428.08V430.67H418.6zM503.92 422H513.4V430.67H503.92zM1.5 430.67H20.46V439.33H1.5zM29.94 430.67H39.42V439.33H29.94zM105.78 430.67H115.26V439.33H105.78zM143.69 430.67H162.65V439.33H143.69zM172.13 430.67H181.61V439.33H172.13zM191.09 430.67H200.57V439.33H191.09zM210.05 430.67H229.01V439.33H210.05zM247.97 430.67H257.45V439.33H247.97zM323.81 430.67H333.29V439.33H323.81zM371.21 430.67H390.16V439.33H371.21zM342.77 439.33H352.25V448H342.77zM409.12 439.33H418.6V448H409.12zM124.74 448H143.69V456.67H124.74zM153.17 448H162.65V456.67H153.17zM238.49 448H247.97V456.67H238.49zM266.93 448H276.41V456.67H266.93zM295.37 448H304.85V456.67H295.37zM295.37 456.67H304.85V465.33H295.37zM409.12 456.67H418.6V465.33H409.12zM1.5 465.33H10.98V474H1.5zM29.94 465.33H39.42V474H29.94zM247.97 465.33H257.45V474H247.97zM295.37 465.33H304.85V474H295.37zM409.12 465.33H418.6V474H409.12zM10.98 474H20.46V482.67H10.98zM124.74 474H134.21V482.67H124.74zM153.17 474H162.65V482.67H153.17zM238.49 474H247.97V482.67H238.49zM276.41 474H285.89V482.67H276.41zM418.6 474H428.08V482.67H418.6zM115.26 482.67H124.74V491.33H115.26zM247.97 482.67H257.45V491.33H247.97zM295.37 482.67H304.85V491.33H295.37zM134.21 491.33H143.69V500H134.21zM191.09 491.33H200.57V500H191.09zM295.37 491.33H304.85V500H295.37zM380.69 491.33H390.16V500H380.69zM428.08 491.33H437.56V500H428.08z"/>
<path fill="#b3ff4c" d="M20.46 32H29.94V40.67H20.46zM58.38 32H67.86V40.67H58.38zM153.17 32H172.13V40.67H153.17zM247.97 32H257.45V40.67H247.97zM266.93 32H285.89V40.67H266.93zM323.81 32H333.29V40.67H323.81zM342.77 32H352.25V40.67H342.77zM371.21 32H380.69V40.67H371.21zM409.12 32H428.08V40.67H409.12zM503.92 32H513.4V40.67H503.92zM58.38 40.67H67.86V49.33H58.38zM115.26 40.67H124.74V49.33H115.26zM181.61 40.67H191.09V49.33H181.61zM210.05 40.67H219.53V49.33H210.05zM266.93 40.67H276.41V49.33H266.93zM285.89 40.67H295.37V49.33H285.89zM314.33 40.67H333.29V49.33H314.33zM342.77 40.67H352.25V49.33H342.77zM456.52 40.67H475.48V49.33H456.52zM1.5 49.33H10.98V58H1.5zM172.13 49.33H181.61V58H172.13zM304.85 49.33H314.33V58H304.85zM342.77 49.33H352.25V58H342.77zM428.08 49.33H437.56V58H428.08zM503.92 49.33H513.4V58H503.92zM86.82 58H96.3V66.67H86.82zM124.74 58H134.21V66.67H124.74zM143.69 58H191.09V66.67H143.69zM276.41 58H314.33V66.67H276.41zM323.81 58H333.29V66.67H323.81zM494.44 58H503.92V66.67H494.44zM67.86 66.67H77.34V75.33H67.86zM172.13 66.67H181.61V75.33H172.13zM77.34 75.33H86.82V84H77.34zM247.97 75.33H257.45V84H247.97zM266.93 75.33H276.41V84H266.93zM304.85 75.33H314.33V84H304.85zM342.77 75.33H352.25V84H342.77zM1.5 84H20.46V92.67H1.5zM105.78 84H115.26V92.67H105.78zM124.74 84H134.21V92.67H124.74zM219.53 84H229.01V92.67H219.53zM39.42 92.67H48.9V101.33H39.42zM96.3 92.67H105.78V101.33H96.3zM115.26 92.67H124.74V101.33H115.26zM162.65 92.67H172.13V101.33H162.65zM247.97 92.67H257.45V101.33H247.97zM304.85 92.67H314.33V101.33H304.85zM342.77 92.67H352.25V101.33H342.77zM371.21 92.67H380.69V101.33H371.21zM409.12 92.67H418.6V101.33H409.12zM48.9 101.33H58.38V110H48.9zM86.82 101.33H96.3V110H86.82zM105.78 101.33H115.26V110H105.78zM295.37 101.33H304.85V110H295.37zM29.94 110H39.42V118.67H29.94zM77.34 110H86.82V118.67H77.34zM96.3 110H105.78V118.67H96.3zM342.77 110H352.25V118.67H342.77zM409.12 110H418.6V118.67H409.12zM67.86 118.67H77.34V127.33H67.86zM86.82 118.67H96.3V127.33H86.82zM323.81 118.67H333.29V127.33H323.81zM371.21 118.67H380.69V127.33H371.21zM390.16 118.67H409.12V127.33H390.16zM437.56 118.67H447.04V127.33H437.56zM494.44 118.67H503.92V127.33H494.44zM58.38 127.33H67.86V136H58.38zM77.34 127.33H86.82V136H77.34zM285.89 127.33H295.37V136H285.89zM323.81 127.33H333.29V136H323.81zM409.12 127.33H418.6V136H409.12zM10.98 136H20.46V144.67H10.98zM67.86 136H77.34V144.67H67.86zM210.05 136H238.49V144.67H210.05zM295.37 136H304.85V144.67H295.37zM29.94 144.67H39.42V153.33H29.94zM58.38 144.67H67.86V153.33H58.38zM238.49 144.67H247.97V153.33H238.49zM257.45 144.67H266.93V153.33H257.45zM390.16 144.67H409.12V153.33H390.16zM447.04 144.67H456.52V153.33H447.04zM466 144.67H484.96V153.33H466zM503.92 144.67H513.4V153.33H503.92zM238.49 153.33H247.97V162H238.49zM276.41 153.33H285.89V162H276.41zM323.81 153.33H333.29V162H323.81zM428.08 153.33H447.04V162H428.08zM484.96 153.33H494.44V162H484.96zM29.94 162H39.42V170.67H29.94zM181.61 162H191.09V170.67H181.61zM238.49 162H247.97V170.67H238.49zM257.45 162H266.93V170.67H257.45zM323.81 162H333.29V170.67H323.81zM399.64 162H409.12V170.67H399.64zM447.04 162H466V170.67H447.04zM484.96 162H494.44V170.67H484.96zM1.5 170.67H10.98V179.33H1.5zM29.94 170.67H39.42V179.33H29.94zM181.61 170.67H191.09V179.33H181.61zM238.49 170.67H247.97V179.33H238.49zM390.16 170.67H418.6V179.33H390.16zM447.04 170.67H456.52V179.33H447.04zM466 170.67H475.48V179.33H466zM494.44 170.67H503.92V179.33H494.44zM1.5 179.33H10.98V188H1.5zM29.94 179.33H39.42V188H29.94zM67.86 179.33H77.34V188H67.86zM238.49 179.33H247.97V188H238.49zM276.41 179.33H295.37V188H276.41zM409.12 179.33H447.04V188H409.12zM20.46 188H48.9V196.67H20.46zM238.49 188H247.97V196.67H238.49zM257.45 188H276.41V196.67H257.45zM380.69 188H390.16V196.67H380.69zM409.12 188H418.6V196.67H409.12zM428.08 188H437.56V196.67H428.08zM10.98 196.67H20.46V205.33H10.98zM29.94 196.67H39.42V205.33H29.94zM143.69 196.67H162.65V205.33H143.69zM238.49 196.67H247.97V205.33H238.49zM257.45 196.67H266.93V205.33H257.45zM276.41 196.67H295.37V205.33H276.41zM304.85 196.67H314.33V205.33H304.85zM323.81 196.67H333.29V205.33H323.81zM390.16 196.67H418.6V205.33H390.16zM428.08 196.67H437.56V205.33H428.08zM456.52 196.67H466V205.33H456.52zM475.48 196.67H503.92V205.33H475.48zM257.45 205.33H266.93V214H257.45zM390.16 205.33H409.12V214H390.16zM276.41 214H295.37V222.67H276.41zM323.81 214H333.29V222.67H323.81zM437.56 214H447.04V222.67H437.56zM10.98 222.67H20.46V231.33H10.98zM115.26 222.67H124.74V231.33H115.26zM238.49 222.67H247.97V231.33H238.49zM257.45 222.67H266.93V231.33H257.45zM390.16 222.67H409.12V231.33H390.16zM456.52 222.67H466V231.33H456.52zM484.96 222.67H513.4V231.33H484.96zM58.38 231.33H67.86V240H58.38zM115.26 231.33H124.74V240H115.26zM238.49 231.33H247.97V240H238.49zM390.16 231.33H399.64V240H390.16zM447.04 231.33H466V240H447.04zM484.96 231.33H494.44V240H484.96zM503.92 231.33H513.4V240H503.92zM115.26 240H124.74V248.67H115.26zM238.49 240H247.97V248.67H238.49zM257.45 240H266.93V248.67H257.45zM276.41 240H285.89V248.67H276.41zM295.37 240H304.85V248.67H295.37zM371.21 240H380.69V248.67H371.21zM409.12 240H428.08V248.67H409.12zM124.74 248.67H191.09V257.33H124.74zM210.05 248.67H238.49V257.33H210.05zM295.37 248.67H304.85V257.33H295.37zM314.33 248.67H342.77V257.33H314.33zM361.73 248.67H371.21V257.33H361.73zM380.69 248.67H390.16V257.33H380.69zM466 248.67H484.96V257.33H466zM1.5 257.33H10.98V266H1.5zM48.9 257.33H58.38V266H48.9zM67.86 257.33H77.34V266H67.86zM257.45 257.33H266.93V266H257.45zM295.37 257.33H314.33V266H295.37zM323.81 257.33H333.29V266H323.81zM342.77 257.33H352.25V266H342.77zM390.16 257.33H399.64V266H390.16zM124.74 266H134.21V274.67H124.74zM143.69 266H153.17V274.67H143.69zM172.13 266H200.57V274.67H172.13zM210.05 266H219.53V274.67H210.05zM229.01 266H238.49V274.67H229.01zM247.97 266H257.45V274.67H247.97zM295.37 266H304.85V274.67H295.37zM371.21 266H380.69V274.67H371.21zM456.52 266H475.48V274.67H456.52zM484.96 266H494.44V274.67H484.96zM1.5 274.67H20.46V283.33H1.5zM48.9 274.67H58.38V283.33H48.9zM172.13 274.67H181.61V283.33H172.13zM295.37 274.67H314.33V283.33H295.37zM333.29 274.67H342.77V283.33H333.29zM390.16 274.67H399.64V283.33H390.16zM428.08 274.67H437.56V283.33H428.08zM447.04 274.67H456.52V283.33H447.04zM466 274.67H475.48V283.33H466zM494.44 274.67H503.92V283.33H494.44zM1.5 283.33H10.98V292H1.5zM29.94 283.33H39.42V292H29.94zM134.21 283.33H143.69V292H134.21zM162.65 283.33H172.13V292H162.65zM181.61 283.33H191.09V292H181.61zM200.57 283.33H210.05V292H200.57zM229.01 283.33H238.49V292H229.01zM314.33 283.33H323.81V292H314.33zM361.73 283.33H371.21V292H361.73zM428.08 283.33H437.56V292H428.08zM456.52 283.33H484.96V292H456.52zM10.98 292H20.46V300.67H10.98zM29.94 292H39.42V300.67H29.94zM105.78 292H115.26V300.67H105.78zM162.65 292H172.13V300.67H162.65zM181.61 292H191.09V300.67H181.61zM200.57 292H210.05V300.67H200.57zM314.33 292H323.81V300.67H314.33zM342.77 292H352.25V300.67H342.77zM390.16 292H399.64V300.67H390.16zM409.12 292H418.6V300.67H409.12zM484.96 292H494.44V300.67H484.96zM29.94 300.67H39.42V309.33H29.94zM77.34 300.67H86.82V309.33H77.34zM115.26 300.67H124.74V309.33H115.26zM229.01 300.67H276.41V309.33H229.01zM333.29 300.67H342.77V309.33H333.29zM352.25 300.67H361.73V309.33H352.25zM409.12 300.67H418.6V309.33H409.12zM20.46 309.33H39.42V318H20.46zM48.9 309.33H58.38V318H48.9zM67.86 309.33H77.34V318H67.86zM181.61 309.33H191.09V318H181.61zM247.97 309.33H257.45V318H247.97zM266.93 309.33H276.41V318H266.93zM437.56 309.33H447.04V318H437.56zM10.98 318H20.46V326.67H10.98zM238.49 318H247.97V326.67H238.49zM276.41 318H295.37V326.67H276.41zM390.16 318H399.64V326.67H390.16zM503.92 318H513.4V326.67H503.92zM1.5 326.67H20.46V335.33H1.5zM29.94 326.67H39.42V335.33H29.94zM96.3 326.67H115.26V335.33H96.3zM134.21 326.67H153.17V335.33H134.21zM181.61 326.67H191.09V335.33H181.61zM200.57 326.67H210.05V335.33H200.57zM238.49 326.67H257.45V335.33H238.49zM342.77 326.67H371.21V335.33H342.77zM380.69 326.67H399.64V335.33H380.69zM409.12 326.67H428.08V335.33H409.12zM447.04 326.67H466V335.33H447.04zM484.96 326.67H503.92V335.33H484.96zM238.49 335.33H247.97V344H238.49zM266.93 335.33H276.41V344H266.93zM295.37 335.33H304.85V344H295.37zM371.21 335.33H380.69V344H371.21zM418.6 335.33H428.08V344H418.6zM1.5 344H29.94V352.67H1.5zM48.9 344H58.38V352.67H48.9zM67.86 344H77.34V352.67H67.86zM86.82 344H96.3V352.67H86.82zM247.97 344H257.45V352.67H247.97zM285.89 344H295.37V352.67H285.89zM323.81 344H333.29V352.67H323.81zM371.21 344H380.69V352.67H371.21zM390.16 344H409.12V352.67H390.16zM494.44 344H503.92V352.67H494.44zM295.37 352.67H304.85V361.33H295.37zM323.81 352.67H333.29V361.33H323.81zM371.21 352.67H380.69V361.33H371.21zM503.92 352.67H513.4V361.33H503.92zM238.49 361.33H247.97V370H238.49zM276.41 361.33H285.89V370H276.41zM323.81 361.33H333.29V370H323.81zM409.12 361.33H428.08V370H409.12zM1.5 370H10.98V378.67H1.5zM67.86 370H77.34V378.67H67.86zM96.3 370H105.78V378.67H96.3zM229.01 370H238.49V378.67H229.01zM257.45 370H266.93V378.67H257.45zM333.29 370H361.73V378.67H333.29zM380.69 370H390.16V378.67H380.69zM399.64 370H409.12V378.67H399.64zM447.04 370H456.52V378.67H447.04zM466 370H475.48V378.67H466zM494.44 370H503.92V378.67H494.44zM172.13 378.67H181.61V387.33H172.13zM238.49 378.67H247.97V387.33H238.49zM323.81 378.67H333.29V387.33H323.81zM371.21 378.67H380.69V387.33H371.21zM418.6 378.67H428.08V387.33H418.6zM96.3 387.33H105.78V396H96.3zM124.74 387.33H134.21V396H124.74zM153.17 387.33H162.65V396H153.17zM181.61 387.33H200.57V396H181.61zM210.05 387.33H229.01V396H210.05zM247.97 387.33H257.45V396H247.97zM266.93 387.33H276.41V396H266.93zM285.89 387.33H295.37V396H285.89zM314.33 387.33H333.29V396H314.33zM342.77 387.33H352.25V396H342.77zM428.08 387.33H437.56V396H428.08zM456.52 387.33H475.48V396H456.52zM484.96 387.33H494.44V396H484.96zM96.3 396H105.78V404.67H96.3zM124.74 396H134.21V404.67H124.74zM143.69 396H162.65V404.67H143.69zM181.61 396H200.57V404.67H181.61zM210.05 396H219.53V404.67H210.05zM342.77 396H352.25V404.67H342.77zM371.21 396H380.69V404.67H371.21zM409.12 396H418.6V404.67H409.12zM428.08 396H437.56V404.67H428.08zM1.5 404.67H10.98V413.33H1.5zM67.86 404.67H77.34V413.33H67.86zM86.82 404.67H96.3V413.33H86.82zM105.78 404.67H115.26V413.33H105.78zM153.17 404.67H191.09V413.33H153.17zM229.01 404.67H238.49V413.33H229.01zM285.89 404.67H304.85V413.33H285.89zM323.81 404.67H333.29V413.33H323.81zM361.73 404.67H371.21V413.33H361.73zM399.64 404.67H409.12V413.33H399.64zM428.08 404.67H437.56V413.33H428.08zM1.5 413.33H10.98V422H1.5zM162.65 413.33H172.13V422H162.65zM229.01 413.33H238.49V422H229.01zM323.81 413.33H342.77V422H323.81zM361.73 413.33H371.21V422H361.73zM380.69 413.33H390.16V422H380.69zM447.04 413.33H484.96V422H447.04zM20.46 422H29.94V430.67H20.46zM134.21 422H143.69V430.67H134.21zM162.65 422H191.09V430.67H162.65zM266.93 422H285.89V430.67H266.93zM390.16 422H418.6V430.67H390.16zM494.44 422H503.92V430.67H494.44zM96.3 430.67H105.78V439.33H96.3zM134.21 430.67H143.69V439.33H134.21zM162.65 430.67H172.13V439.33H162.65zM200.57 430.67H210.05V439.33H200.57zM304.85 430.67H314.33V439.33H304.85zM124.74 439.33H134.21V448H124.74zM143.69 439.33H162.65V448H143.69zM219.53 439.33H229.01V448H219.53zM266.93 439.33H276.41V448H266.93zM323.81 439.33H333.29V448H323.81zM371.21 439.33H380.69V448H371.21zM418.6 439.33H428.08V448H418.6zM10.98 448H20.46V456.67H10.98zM143.69 448H153.17V456.67H143.69zM181.61 448H191.09V456.67H181.61zM210.05 448H229.01V456.67H210.05zM257.45 448H266.93V456.67H257.45zM276.41 448H285.89V456.67H276.41zM323.81 448H333.29V456.67H323.81zM390.16 448H399.64V456.67H390.16zM418.6 448H428.08V456.67H418.6zM10.98 456.67H20.46V465.33H10.98zM124.74 456.67H134.21V465.33H124.74zM153.17 456.67H162.65V465.33H153.17zM238.49 456.67H247.97V465.33H238.49zM257.45 456.67H285.89V465.33H257.45zM371.21 456.67H380.69V465.33H371.21zM390.16 456.67H399.64V465.33H390.16zM418.6 456.67H428.08V465.33H418.6zM124.74 465.33H134.21V474H124.74zM181.61 465.33H191.09V474H181.61zM238.49 465.33H247.97V474H238.49zM276.41 465.33H285.89V474H276.41zM418.6 465.33H428.08V474H418.6zM134.21 474H153.17V482.67H134.21zM181.61 474H191.09V482.67H181.61zM210.05 474H229.01V482.67H210.05zM257.45 474H266.93V482.67H257.45zM285.89 474H295.37V482.67H285.89zM323.81 474H333.29V482.67H323.81zM390.16 474H399.64V482.67H390.16zM503.92 474H513.4V482.67H503.92zM29.94 482.67H39.42V491.33H29.94zM96.3 482.67H105.78V491.33H96.3zM153.17 482.67H162.65V491.33H153.17zM181.61 482.67H191.09V491.33H181.61zM210.05 482.67H219.53V491.33H210.05zM266.93 482.67H276.41V491.33H266.93zM323.81 482.67H333.29V491.33H323.81zM342.77 482.67H352.25V491.33H342.77zM371.21 482.67H380.69V491.33H371.21zM428.08 482.67H437.56V491.33H428.08zM1.5 491.33H10.98V500H1.5zM20.46 491.33H29.94V500H20.46zM124.74 491.33H134.21V500H124.74zM210.05 491.33H229.01V500H210.05zM314.33 491.33H323.81V500H314.33zM352.25 491.33H361.73V500H352.25zM484.96 491.33H494.44V500H484.96z"/>
<path fill="#ffff00" d="M29.94 32H48.9V40.67H29.94zM257.45 32H266.93V40.67H257.45zM399.64 32H409.12V40.67H399.64zM96.3 40.67H105.78V49.33H96.3zM124.74 40.67H134.21V49.33H124.74zM153.17 40.67H162.65V49.33H153.17zM191.09 40.67H210.05V49.33H191.09zM219.53 40.67H229.01V49.33H219.53zM276.41 40.67H285.89V49.33H276.41zM352.25 40.67H380.69V49.33H352.25zM409.12 40.67H428.08V49.33H409.12zM447.04 40.67H456.52V49.33H447.04zM475.48 40.67H484.96V49.33H475.48zM105.78 49.33H115.26V58H105.78zM266.93 49.33H276.41V58H266.93zM418.6 49.33H428.08V58H418.6zM1.5 58H10.98V66.67H1.5zM48.9 58H86.82V66.67H48.9zM342.77 58H352.25V66.67H342.77zM428.08 58H437.56V66.67H428.08zM1.5 66.67H10.98V75.33H1.5zM304.85 66.67H314.33V75.33H304.85zM342.77 66.67H352.25V75.33H342.77zM29.94 75.33H39.42V84H29.94zM96.3 75.33H105.78V84H96.3zM409.12 75.33H418.6V84H409.12zM29.94 84H39.42V92.67H29.94zM380.69 84H390.16V92.67H380.69zM428.08 84H437.56V92.67H428.08zM29.94 92.67H39.42V101.33H29.94zM77.34 92.67H86.82V101.33H77.34zM105.78 92.67H115.26V101.33H105.78zM153.17 92.67H162.65V101.33H153.17zM29.94 101.33H39.42V110H29.94zM67.86 101.33H77.34V110H67.86zM380.69 101.33H390.16V110H380.69zM266.93 110H276.41V118.67H266.93zM304.85 110H314.33V118.67H304.85zM323.81 110H333.29V118.67H323.81zM371.21 110H380.69V118.67H371.21zM10.98 118.67H20.46V127.33H10.98zM48.9 118.67H58.38V127.33H48.9zM105.78 118.67H115.26V127.33H105.78zM247.97 118.67H257.45V127.33H247.97zM266.93 118.67H276.41V127.33H266.93zM295.37 118.67H304.85V127.33H295.37zM418.6 118.67H428.08V127.33H418.6zM503.92 118.67H513.4V127.33H503.92zM20.46 127.33H29.94V136H20.46zM67.86 127.33H77.34V136H67.86zM96.3 127.33H105.78V136H96.3zM200.57 136H210.05V144.67H200.57zM10.98 144.67H20.46V153.33H10.98zM181.61 144.67H191.09V153.33H181.61zM333.29 144.67H342.77V153.33H333.29zM361.73 144.67H371.21V153.33H361.73zM494.44 144.67H503.92V153.33H494.44zM172.13 153.33H181.61V162H172.13zM257.45 153.33H266.93V162H257.45zM295.37 153.33H304.85V162H295.37zM390.16 153.33H409.12V162H390.16zM466 153.33H484.96V162H466zM390.16 162H399.64V170.67H390.16zM466 162H484.96V170.67H466zM503.92 162H513.4V170.67H503.92zM10.98 170.67H20.46V179.33H10.98zM67.86 170.67H77.34V179.33H67.86zM210.05 170.67H219.53V179.33H210.05zM323.81 170.67H333.29V179.33H323.81zM475.48 170.67H484.96V179.33H475.48zM503.92 170.67H513.4V179.33H503.92zM181.61 179.33H191.09V188H181.61zM257.45 179.33H266.93V188H257.45zM323.81 179.33H333.29V188H323.81zM390.16 179.33H409.12V188H390.16zM456.52 179.33H466V188H456.52zM503.92 179.33H513.4V188H503.92zM134.21 188H143.69V196.67H134.21zM124.74 196.67H134.21V205.33H124.74zM162.65 196.67H172.13V205.33H162.65zM191.09 196.67H200.57V205.33H191.09zM210.05 196.67H229.01V205.33H210.05zM266.93 196.67H276.41V205.33H266.93zM314.33 196.67H323.81V205.33H314.33zM342.77 196.67H352.25V205.33H342.77zM466 196.67H475.48V205.33H466zM503.92 196.67H513.4V205.33H503.92zM10.98 205.33H20.46V214H10.98zM181.61 205.33H191.09V214H181.61zM447.04 205.33H456.52V214H447.04zM494.44 205.33H503.92V214H494.44zM10.98 214H20.46V222.67H10.98zM115.26 214H124.74V222.67H115.26zM238.49 214H247.97V222.67H238.49zM257.45 214H266.93V222.67H257.45zM390.16 214H409.12V222.67H390.16zM503.92 214H513.4V222.67H503.92zM153.17 222.67H162.65V231.33H153.17zM181.61 222.67H191.09V231.33H181.61zM219.53 222.67H229.01V231.33H219.53zM447.04 222.67H456.52V231.33H447.04zM466 222.67H484.96V231.33H466zM10.98 231.33H20.46V240H10.98zM181.61 231.33H191.09V240H181.61zM210.05 231.33H219.53V240H210.05zM285.89 231.33H295.37V240H285.89zM314.33 231.33H323.81V240H314.33zM371.21 231.33H380.69V240H371.21zM399.64 231.33H409.12V240H399.64zM494.44 231.33H503.92V240H494.44zM285.89 240H295.37V248.67H285.89zM390.16 240H399.64V248.67H390.16zM200.57 248.67H210.05V257.33H200.57zM247.97 248.67H257.45V257.33H247.97zM266.93 248.67H276.41V257.33H266.93zM285.89 248.67H295.37V257.33H285.89zM437.56 248.67H447.04V257.33H437.56zM96.3 257.33H105.78V266H96.3zM238.49 257.33H247.97V266H238.49zM1.5 266H10.98V274.67H1.5zM134.21 266H143.69V274.67H134.21zM162.65 266H172.13V274.67H162.65zM200.57 266H210.05V274.67H200.57zM266.93 266H276.41V274.67H266.93zM285.89 266H295.37V274.67H285.89zM314.33 266H323.81V274.67H314.33zM333.29 266H342.77V274.67H333.29zM361.73 266H371.21V274.67H361.73zM418.6 266H428.08V274.67H418.6zM447.04 266H456.52V274.67H447.04zM20.46 274.67H29.94V283.33H20.46zM86.82 274.67H105.78V283.33H86.82zM181.61 274.67H191.09V283.33H181.61zM238.49 274.67H247.97V283.33H238.49zM257.45 274.67H266.93V283.33H257.45zM276.41 274.67H285.89V283.33H276.41zM323.81 274.67H333.29V283.33H323.81zM475.48 274.67H484.96V283.33H475.48zM10.98 283.33H20.46V292H10.98zM266.93 283.33H276.41V292H266.93zM285.89 283.33H295.37V292H285.89zM333.29 283.33H342.77V292H333.29zM352.25 283.33H361.73V292H352.25zM409.12 283.33H418.6V292H409.12zM219.53 292H247.97V300.67H219.53zM257.45 292H266.93V300.67H257.45zM276.41 292H285.89V300.67H276.41zM352.25 292H371.21V300.67H352.25zM399.64 292H409.12V300.67H399.64zM418.6 292H428.08V300.67H418.6zM456.52 292H466V300.67H456.52zM494.44 292H503.92V300.67H494.44zM96.3 300.67H105.78V309.33H96.3zM134.21 300.67H143.69V309.33H134.21zM39.42 309.33H48.9V318H39.42zM86.82 309.33H96.3V318H86.82zM380.69 309.33H390.16V318H380.69zM181.61 318H191.09V326.67H181.61zM219.53 318H229.01V326.67H219.53zM257.45 318H266.93V326.67H257.45zM437.56 318H447.04V326.67H437.56zM86.82 326.67H96.3V335.33H86.82zM153.17 326.67H172.13V335.33H153.17zM266.93 326.67H276.41V335.33H266.93zM399.64 326.67H409.12V335.33H399.64zM466 326.67H475.48V335.33H466zM503.92 326.67H513.4V335.33H503.92zM124.74 335.33H134.21V344H124.74zM257.45 335.33H266.93V344H257.45zM276.41 335.33H285.89V344H276.41zM390.16 335.33H399.64V344H390.16zM437.56 335.33H447.04V344H437.56zM503.92 335.33H513.4V344H503.92zM29.94 344H48.9V352.67H29.94zM181.61 344H191.09V352.67H181.61zM409.12 344H428.08V352.67H409.12zM503.92 344H513.4V352.67H503.92zM10.98 352.67H20.46V361.33H10.98zM276.41 352.67H295.37V361.33H276.41zM437.56 352.67H447.04V361.33H437.56zM10.98 361.33H20.46V370H10.98zM124.74 361.33H134.21V370H124.74zM257.45 361.33H266.93V370H257.45zM285.89 361.33H295.37V370H285.89zM390.16 361.33H409.12V370H390.16zM437.56 361.33H447.04V370H437.56zM503.92 361.33H513.4V370H503.92zM10.98 370H20.46V378.67H10.98zM86.82 370H96.3V378.67H86.82zM219.53 370H229.01V378.67H219.53zM390.16 370H399.64V378.67H390.16zM409.12 370H428.08V378.67H409.12zM503.92 370H513.4V378.67H503.92zM58.38 378.67H67.86V387.33H58.38zM77.34 378.67H86.82V387.33H77.34zM304.85 378.67H314.33V387.33H304.85zM134.21 387.33H153.17V396H134.21zM162.65 387.33H172.13V396H162.65zM200.57 387.33H210.05V396H200.57zM229.01 387.33H238.49V396H229.01zM333.29 387.33H342.77V396H333.29zM361.73 387.33H380.69V396H361.73zM437.56 387.33H456.52V396H437.56zM475.48 387.33H484.96V396H475.48zM1.5 396H10.98V404.67H1.5zM134.21 396H143.69V404.67H134.21zM162.65 396H172.13V404.67H162.65zM200.57 396H210.05V404.67H200.57zM219.53 396H229.01V404.67H219.53zM285.89 396H295.37V404.67H285.89zM323.81 396H333.29V404.67H323.81zM361.73 396H371.21V404.67H361.73zM456.52 396H466V404.67H456.52zM10.98 404.67H20.46V413.33H10.98zM48.9 404.67H58.38V413.33H48.9zM276.41 404.67H285.89V413.33H276.41zM342.77 404.67H352.25V413.33H342.77zM371.21 404.67H380.69V413.33H371.21zM437.56 404.67H447.04V413.33H437.56zM494.44 404.67H503.92V413.33H494.44zM10.98 413.33H29.94V422H10.98zM96.3 413.33H105.78V422H96.3zM257.45 413.33H266.93V422H257.45zM285.89 413.33H295.37V422H285.89zM342.77 413.33H352.25V422H342.77zM371.21 413.33H380.69V422H371.21zM29.94 422H39.42V430.67H29.94zM58.38 422H67.86V430.67H58.38zM238.49 430.67H247.97V439.33H238.49zM314.33 430.67H323.81V439.33H314.33zM333.29 430.67H342.77V439.33H333.29zM352.25 430.67H371.21V439.33H352.25zM390.16 430.67H399.64V439.33H390.16zM409.12 430.67H418.6V439.33H409.12zM456.52 430.67H466V439.33H456.52zM484.96 430.67H494.44V439.33H484.96zM10.98 439.33H20.46V448H10.98zM191.09 439.33H200.57V448H191.09zM210.05 439.33H219.53V448H210.05zM257.45 439.33H266.93V448H257.45zM390.16 439.33H399.64V448H390.16zM503.92 439.33H513.4V448H503.92zM162.65 448H172.13V456.67H162.65zM285.89 448H295.37V456.67H285.89zM399.64 448H409.12V456.67H399.64zM437.56 448H447.04V456.67H437.56zM503.92 448H513.4V456.67H503.92zM134.21 456.67H153.17V465.33H134.21zM181.61 456.67H191.09V465.33H181.61zM210.05 456.67H219.53V465.33H210.05zM323.81 456.67H333.29V465.33H323.81zM10.98 465.33H20.46V474H10.98zM134.21 465.33H162.65V474H134.21zM210.05 465.33H219.53V474H210.05zM266.93 465.33H276.41V474H266.93zM390.16 465.33H399.64V474H390.16zM437.56 474H447.04V482.67H437.56zM124.74 482.67H134.21V491.33H124.74zM191.09 482.67H200.57V491.33H191.09zM219.53 482.67H229.01V491.33H219.53zM285.89 482.67H295.37V491.33H285.89zM409.12 482.67H418.6V491.33H409.12zM96.3 491.33H105.78V500H96.3zM143.69 491.33H172.13V500H143.69zM181.61 491.33H191.09V500H181.61zM200.57 491.33H210.05V500H200.57zM323.81 491.33H352.25V500H323.81zM361.73 491.33H380.69V500H361.73zM447.04 491.33H466V500H447.04z"/>
<path fill="#ffbf00" d="M494.44 32H503.92V40.67H494.44zM29.94 40.67H39.42V49.33H29.94zM134.21 40.67H153.17V49.33H134.21zM229.01 40.67H238.49V49.33H229.01zM333.29 40.67H342.77V49.33H333.29zM58.38 49.33H105.78V58H58.38zM247.97 49.33H257.45V58H247.97zM10.98 58H20.46V66.67H10.98zM105.78 58H115.26V66.67H105.78zM257.45 58H266.93V66.67H257.45zM371.21 58H380.69V66.67H371.21zM390.16 58H399.64V66.67H390.16zM96.3 66.67H105.78V75.33H96.3zM428.08 66.67H437.56V75.33H428.08zM105.78 75.33H115.26V84H105.78zM20.46 84H29.94V92.67H20.46zM67.86 84H77.34V92.67H67.86zM96.3 84H105.78V92.67H96.3zM115.26 84H124.74V92.67H115.26zM304.85 84H314.33V92.67H304.85zM342.77 84H352.25V92.67H342.77zM20.46 92.67H29.94V101.33H20.46zM58.38 92.67H67.86V101.33H58.38zM266.93 92.67H276.41V101.33H266.93zM380.69 92.67H390.16V101.33H380.69zM20.46 101.33H29.94V110H20.46zM428.08 101.33H437.56V110H428.08zM20.46 110H29.94V118.67H20.46zM247.97 110H257.45V118.67H247.97zM20.46 118.67H29.94V127.33H20.46zM39.42 118.67H48.9V127.33H39.42zM58.38 118.67H67.86V127.33H58.38zM172.13 118.67H181.61V127.33H172.13zM276.41 118.67H285.89V127.33H276.41zM380.69 118.67H390.16V127.33H380.69zM409.12 118.67H418.6V127.33H409.12zM29.94 127.33H39.42V136H29.94zM48.9 127.33H58.38V136H48.9zM304.85 127.33H314.33V136H304.85zM342.77 127.33H352.25V136H342.77zM58.38 136H67.86V144.67H58.38zM162.65 136H172.13V144.67H162.65zM181.61 136H200.57V144.67H181.61zM210.05 144.67H229.01V153.33H210.05zM314.33 144.67H323.81V153.33H314.33zM352.25 144.67H361.73V153.33H352.25zM10.98 153.33H20.46V162H10.98zM314.33 153.33H323.81V162H314.33zM361.73 153.33H371.21V162H361.73zM447.04 153.33H456.52V162H447.04zM494.44 153.33H503.92V162H494.44zM10.98 162H20.46V170.67H10.98zM352.25 162H361.73V170.67H352.25zM494.44 162H503.92V170.67H494.44zM314.33 170.67H323.81V179.33H314.33zM352.25 170.67H371.21V179.33H352.25zM115.26 179.33H124.74V188H115.26zM447.04 179.33H456.52V188H447.04zM484.96 179.33H503.92V188H484.96zM96.3 188H105.78V196.67H96.3zM181.61 188H191.09V196.67H181.61zM342.77 188H352.25V196.67H342.77zM115.26 196.67H124.74V205.33H115.26zM172.13 196.67H181.61V205.33H172.13zM361.73 196.67H371.21V205.33H361.73zM437.56 196.67H456.52V205.33H437.56zM115.26 205.33H124.74V214H115.26zM352.25 205.33H361.73V214H352.25zM456.52 205.33H494.44V214H456.52zM124.74 222.67H134.21V231.33H124.74zM352.25 222.67H361.73V231.33H352.25zM124.74 231.33H134.21V240H124.74zM352.25 231.33H371.21V240H352.25zM466 231.33H475.48V240H466zM10.98 240H20.46V248.67H10.98zM323.81 240H333.29V248.67H323.81zM399.64 240H409.12V248.67H399.64zM437.56 240H447.04V248.67H437.56zM503.92 240H513.4V248.67H503.92zM342.77 248.67H361.73V257.33H342.77zM371.21 248.67H380.69V257.33H371.21zM409.12 248.67H428.08V257.33H409.12zM447.04 248.67H456.52V257.33H447.04zM20.46 257.33H29.94V266H20.46zM86.82 257.33H96.3V266H86.82zM285.89 257.33H295.37V266H285.89zM371.21 257.33H380.69V266H371.21zM503.92 257.33H513.4V266H503.92zM29.94 266H39.42V274.67H29.94zM342.77 266H361.73V274.67H342.77zM437.56 266H447.04V274.67H437.56zM475.48 266H484.96V274.67H475.48zM67.86 274.67H77.34V283.33H67.86zM437.56 274.67H447.04V283.33H437.56zM96.3 283.33H105.78V292H96.3zM295.37 283.33H304.85V292H295.37zM390.16 283.33H409.12V292H390.16zM418.6 283.33H428.08V292H418.6zM447.04 283.33H456.52V292H447.04zM247.97 292H257.45V300.67H247.97zM323.81 292H342.77V300.67H323.81zM437.56 292H456.52V300.67H437.56zM466 292H475.48V300.67H466zM276.41 300.67H285.89V309.33H276.41zM447.04 300.67H456.52V309.33H447.04zM58.38 309.33H67.86V318H58.38zM105.78 309.33H115.26V318H105.78zM124.74 318H143.69V326.67H124.74zM153.17 318H162.65V326.67H153.17zM399.64 318H409.12V326.67H399.64zM229.01 326.67H238.49V335.33H229.01zM285.89 326.67H295.37V335.33H285.89zM475.48 326.67H484.96V335.33H475.48zM10.98 335.33H20.46V344H10.98zM285.89 335.33H295.37V344H285.89zM399.64 335.33H409.12V344H399.64zM494.44 335.33H503.92V344H494.44zM58.38 344H67.86V352.67H58.38zM105.78 344H115.26V352.67H105.78zM172.13 344H181.61V352.67H172.13zM238.49 344H247.97V352.67H238.49zM257.45 344H266.93V352.67H257.45zM380.69 344H390.16V352.67H380.69zM428.08 344H437.56V352.67H428.08zM124.74 352.67H134.21V361.33H124.74zM143.69 352.67H162.65V361.33H143.69zM191.09 352.67H200.57V361.33H191.09zM210.05 352.67H229.01V361.33H210.05zM238.49 352.67H247.97V361.33H238.49zM257.45 352.67H266.93V361.33H257.45zM390.16 352.67H399.64V361.33H390.16zM134.21 361.33H143.69V370H134.21zM153.17 361.33H162.65V370H153.17zM181.61 361.33H191.09V370H181.61zM219.53 361.33H229.01V370H219.53zM494.44 361.33H503.92V370H494.44zM29.94 370H39.42V378.67H29.94zM238.49 370H257.45V378.67H238.49zM67.86 378.67H77.34V387.33H67.86zM96.3 378.67H105.78V387.33H96.3zM342.77 378.67H352.25V387.33H342.77zM29.94 387.33H39.42V396H29.94zM276.41 387.33H285.89V396H276.41zM352.25 387.33H361.73V396H352.25zM418.6 387.33H428.08V396H418.6zM229.01 396H238.49V404.67H229.01zM276.41 396H285.89V404.67H276.41zM314.33 396H323.81V404.67H314.33zM333.29 396H342.77V404.67H333.29zM418.6 396H428.08V404.67H418.6zM437.56 396H456.52V404.67H437.56zM466 396H494.44V404.67H466zM96.3 404.67H105.78V413.33H96.3zM238.49 404.67H247.97V413.33H238.49zM238.49 413.33H247.97V422H238.49zM276.41 413.33H285.89V422H276.41zM390.16 413.33H409.12V422H390.16zM437.56 413.33H447.04V422H437.56zM494.44 413.33H503.92V422H494.44zM39.42 422H48.9V430.67H39.42zM77.34 422H86.82V430.67H77.34zM342.77 422H352.25V430.67H342.77zM181.61 430.67H191.09V439.33H181.61zM229.01 430.67H238.49V439.33H229.01zM257.45 430.67H276.41V439.33H257.45zM285.89 430.67H295.37V439.33H285.89zM399.64 430.67H409.12V439.33H399.64zM418.6 430.67H428.08V439.33H418.6zM466 430.67H484.96V439.33H466zM494.44 430.67H513.4V439.33H494.44zM134.21 439.33H143.69V448H134.21zM162.65 439.33H172.13V448H162.65zM181.61 439.33H191.09V448H181.61zM238.49 439.33H247.97V448H238.49zM276.41 439.33H304.85V448H276.41zM399.64 439.33H409.12V448H399.64zM191.09 448H200.57V456.67H191.09zM494.44 448H503.92V456.67H494.44zM191.09 456.67H200.57V465.33H191.09zM219.53 456.67H229.01V465.33H219.53zM285.89 456.67H295.37V465.33H285.89zM399.64 456.67H409.12V465.33H399.64zM437.56 456.67H447.04V465.33H437.56zM494.44 456.67H513.4V465.33H494.44zM191.09 465.33H200.57V474H191.09zM257.45 465.33H266.93V474H257.45zM323.81 465.33H333.29V474H323.81zM399.64 465.33H409.12V474H399.64zM437.56 465.33H447.04V474H437.56zM494.44 465.33H513.4V474H494.44zM162.65 474H172.13V482.67H162.65zM191.09 474H200.57V482.67H191.09zM399.64 474H409.12V482.67H399.64zM494.44 474H503.92V482.67H494.44zM1.5 482.67H10.98V491.33H1.5zM134.21 482.67H153.17V491.33H134.21zM162.65 482.67H172.13V491.33H162.65zM333.29 482.67H342.77V491.33H333.29zM361.73 482.67H371.21V491.33H361.73zM418.6 482.67H428.08V491.33H418.6zM437.56 482.67H447.04V491.33H437.56zM456.52 482.67H494.44V491.33H456.52zM229.01 491.33H238.49V500H229.01zM247.97 491.33H257.45V500H247.97zM437.56 491.33H447.04V500H437.56zM466 491.33H484.96V500H466z"/>
<path fill="#ff8000" d="M96.3 32H105.78V40.67H96.3zM162.65 40.67H172.13V49.33H162.65zM257.45 40.67H266.93V49.33H257.45zM428.08 40.67H437.56V49.33H428.08zM503.92 40.67H513.4V49.33H503.92zM409.12 49.33H418.6V58H409.12zM96.3 58H105.78V66.67H96.3zM238.49 58H247.97V66.67H238.49zM219.53 92.67H229.01V101.33H219.53zM323.81 92.67H333.29V101.33H323.81zM172.13 101.33H181.61V110H172.13zM1.5 118.67H10.98V127.33H1.5zM29.94 118.67H39.42V127.33H29.94zM153.17 136H162.65V144.67H153.17zM172.13 136H181.61V144.67H172.13zM229.01 144.67H238.49V153.33H229.01zM210.05 153.33H229.01V162H210.05zM219.53 162H229.01V170.67H219.53zM333.29 162H342.77V170.67H333.29zM115.26 170.67H124.74V179.33H115.26zM200.57 170.67H210.05V179.33H200.57zM333.29 170.67H342.77V179.33H333.29zM10.98 179.33H20.46V188H10.98zM352.25 179.33H361.73V188H352.25zM466 179.33H475.48V188H466zM77.34 188H86.82V196.67H77.34zM115.26 188H124.74V196.67H115.26zM333.29 196.67H342.77V205.33H333.29zM333.29 205.33H342.77V214H333.29zM153.17 214H162.65V222.67H153.17zM219.53 214H229.01V222.67H219.53zM475.48 214H484.96V222.67H475.48zM494.44 214H503.92V222.67H494.44zM134.21 222.67H143.69V231.33H134.21zM333.29 222.67H342.77V231.33H333.29zM67.86 231.33H77.34V240H67.86zM134.21 231.33H153.17V240H134.21zM200.57 231.33H210.05V240H200.57zM475.48 231.33H484.96V240H475.48zM124.74 240H134.21V248.67H124.74zM494.44 240H503.92V248.67H494.44zM29.94 248.67H39.42V257.33H29.94zM399.64 248.67H409.12V257.33H399.64zM428.08 248.67H437.56V257.33H428.08zM503.92 248.67H513.4V257.33H503.92zM409.12 257.33H418.6V266H409.12zM10.98 266H20.46V274.67H10.98zM399.64 266H418.6V274.67H399.64zM428.08 266H437.56V274.67H428.08zM503.92 266H513.4V274.67H503.92zM342.77 274.67H352.25V283.33H342.77zM371.21 274.67H380.69V283.33H371.21zM409.12 274.67H428.08V283.33H409.12zM503.92 274.67H513.4V283.33H503.92zM342.77 283.33H352.25V292H342.77zM494.44 283.33H513.4V292H494.44zM503.92 292H513.4V300.67H503.92zM475.48 318H484.96V326.67H475.48zM494.44 318H503.92V326.67H494.44zM67.86 326.67H77.34V335.33H67.86zM143.69 335.33H162.65V344H143.69zM181.61 335.33H200.57V344H181.61zM210.05 335.33H219.53V344H210.05zM266.93 344H285.89V352.67H266.93zM162.65 352.67H172.13V361.33H162.65zM399.64 352.67H409.12V361.33H399.64zM475.48 352.67H484.96V361.33H475.48zM494.44 352.67H503.92V361.33H494.44zM266.93 370H276.41V378.67H266.93zM475.48 370H484.96V378.67H475.48zM409.12 378.67H418.6V387.33H409.12zM409.12 387.33H418.6V396H409.12zM238.49 396H247.97V404.67H238.49zM257.45 396H266.93V404.67H257.45zM352.25 396H361.73V404.67H352.25zM503.92 396H513.4V404.67H503.92zM20.46 404.67H29.94V413.33H20.46zM247.97 404.67H276.41V413.33H247.97zM380.69 404.67H399.64V413.33H380.69zM266.93 413.33H276.41V422H266.93zM10.98 422H20.46V430.67H10.98zM238.49 422H247.97V430.67H238.49zM257.45 422H266.93V430.67H257.45zM494.44 439.33H503.92V448H494.44zM162.65 456.67H172.13V465.33H162.65zM200.57 465.33H210.05V474H200.57zM219.53 465.33H229.01V474H219.53zM314.33 465.33H323.81V474H314.33zM352.25 465.33H361.73V474H352.25zM371.21 465.33H380.69V474H371.21zM484.96 465.33H494.44V474H484.96zM475.48 474H484.96V482.67H475.48zM200.57 482.67H210.05V491.33H200.57zM229.01 482.67H238.49V491.33H229.01zM276.41 482.67H285.89V491.33H276.41zM314.33 482.67H323.81V491.33H314.33zM352.25 482.67H361.73V491.33H352.25zM447.04 482.67H456.52V491.33H447.04zM10.98 491.33H20.46V500H10.98zM238.49 491.33H247.97V500H238.49zM257.45 491.33H295.37V500H257.45zM399.64 491.33H409.12V500H399.64z"/>
<path fill="#ff4000" d="M238.49 32H247.97V40.67H238.49zM390.16 32H399.64V40.67H390.16zM428.08 32H437.56V40.67H428.08zM266.93 58H276.41V66.67H266.93zM67.86 75.33H77.34V84H67.86zM48.9 92.67H58.38V101.33H48.9zM342.77 101.33H352.25V110H342.77zM380.69 110H390.16V118.67H380.69zM238.49 118.67H247.97V127.33H238.49zM371.21 127.33H380.69V136H371.21zM143.69 136H153.17V144.67H143.69zM153.17 153.33H162.65V162H153.17zM333.29 153.33H342.77V162H333.29zM115.26 162H124.74V170.67H115.26zM210.05 162H219.53V170.67H210.05zM314.33 162H323.81V170.67H314.33zM361.73 162H371.21V170.67H361.73zM134.21 170.67H143.69V179.33H134.21zM191.09 170.67H200.57V179.33H191.09zM229.01 170.67H238.49V179.33H229.01zM314.33 179.33H323.81V188H314.33zM475.48 179.33H484.96V188H475.48zM295.37 188H314.33V196.67H295.37zM200.57 196.67H210.05V205.33H200.57zM229.01 196.67H238.49V205.33H229.01zM153.17 205.33H162.65V214H153.17zM219.53 205.33H229.01V214H219.53zM181.61 214H191.09V222.67H181.61zM143.69 222.67H153.17V231.33H143.69zM229.01 222.67H238.49V231.33H229.01zM191.09 231.33H200.57V240H191.09zM153.17 240H162.65V248.67H153.17zM181.61 240H191.09V248.67H181.61zM210.05 240H219.53V248.67H210.05zM1.5 248.67H10.98V257.33H1.5zM96.3 248.67H105.78V257.33H96.3zM276.41 248.67H285.89V257.33H276.41zM399.64 257.33H409.12V266H399.64zM390.16 266H399.64V274.67H390.16zM29.94 274.67H39.42V283.33H29.94zM380.69 274.67H390.16V283.33H380.69zM238.49 283.33H247.97V292H238.49zM437.56 283.33H447.04V292H437.56zM371.21 292H380.69V300.67H371.21zM172.13 300.67H181.61V309.33H172.13zM342.77 300.67H352.25V309.33H342.77zM437.56 300.67H447.04V309.33H437.56zM172.13 309.33H181.61V318H172.13zM143.69 318H153.17V326.67H143.69zM162.65 318H172.13V326.67H162.65zM134.21 335.33H143.69V344H134.21zM484.96 335.33H494.44V344H484.96zM77.34 344H86.82V352.67H77.34zM295.37 344H304.85V352.67H295.37zM437.56 344H447.04V352.67H437.56zM143.69 361.33H153.17V370H143.69zM447.04 361.33H456.52V370H447.04zM475.48 361.33H484.96V370H475.48zM105.78 370H115.26V378.67H105.78zM285.89 370H295.37V378.67H285.89zM86.82 378.67H96.3V387.33H86.82zM266.93 378.67H276.41V387.33H266.93zM1.5 387.33H10.98V396H1.5zM257.45 387.33H266.93V396H257.45zM503.92 387.33H513.4V396H503.92zM247.97 396H257.45V404.67H247.97zM1.5 422H10.98V430.67H1.5zM276.41 430.67H285.89V439.33H276.41zM295.37 430.67H304.85V439.33H295.37zM342.77 430.67H352.25V439.33H342.77zM361.73 439.33H371.21V448H361.73zM475.48 439.33H484.96V448H475.48zM475.48 448H484.96V456.67H475.48zM162.65 465.33H172.13V474H162.65zM361.73 465.33H371.21V474H361.73zM447.04 465.33H466V474H447.04zM333.29 474H342.77V482.67H333.29zM503.92 482.67H513.4V491.33H503.92zM390.16 491.33H399.64V500H390.16zM494.44 491.33H503.92V500H494.44z"/>
<path fill="#ff0000" d="M10.98 32H20.46V40.67H10.98zM1.5 40.67H10.98V49.33H1.5zM48.9 49.33H58.38V58H48.9zM380.69 58H390.16V66.67H380.69zM503.92 58H513.4V66.67H503.92zM58.38 66.67H67.86V75.33H58.38zM77.34 66.67H86.82V75.33H77.34zM20.46 75.33H29.94V84H20.46zM86.82 75.33H96.3V84H86.82zM39.42 84H48.9V92.67H39.42zM172.13 84H181.61V92.67H172.13zM86.82 92.67H96.3V101.33H86.82zM39.42 101.33H48.9V110H39.42zM96.3 101.33H105.78V110H96.3zM48.9 110H58.38V118.67H48.9zM67.86 110H77.34V118.67H67.86zM77.34 118.67H86.82V127.33H77.34zM257.45 118.67H266.93V127.33H257.45zM304.85 118.67H314.33V127.33H304.85zM428.08 118.67H437.56V127.33H428.08zM266.93 127.33H276.41V136H266.93zM200.57 144.67H210.05V153.33H200.57zM143.69 153.33H153.17V162H143.69zM181.61 153.33H200.57V162H181.61zM229.01 153.33H238.49V162H229.01zM352.25 153.33H361.73V162H352.25zM134.21 162H143.69V170.67H134.21zM200.57 162H210.05V170.67H200.57zM229.01 162H238.49V170.67H229.01zM210.05 179.33H219.53V188H210.05zM333.29 179.33H342.77V188H333.29zM58.38 188H67.86V196.67H58.38zM134.21 196.67H143.69V205.33H134.21zM295.37 196.67H304.85V205.33H295.37zM352.25 196.67H361.73V205.33H352.25zM134.21 205.33H143.69V214H134.21zM361.73 205.33H371.21V214H361.73zM124.74 214H134.21V222.67H124.74zM143.69 214H153.17V222.67H143.69zM210.05 214H219.53V222.67H210.05zM447.04 214H475.48V222.67H447.04zM162.65 222.67H172.13V231.33H162.65zM200.57 222.67H210.05V231.33H200.57zM314.33 222.67H323.81V231.33H314.33zM134.21 240H153.17V248.67H134.21zM447.04 240H466V248.67H447.04zM475.48 240H494.44V248.67H475.48zM390.16 248.67H399.64V257.33H390.16zM494.44 248.67H503.92V257.33H494.44zM266.93 257.33H276.41V266H266.93zM380.69 257.33H390.16V266H380.69zM96.3 266H105.78V274.67H96.3zM494.44 266H503.92V274.67H494.44zM105.78 274.67H115.26V283.33H105.78zM247.97 274.67H257.45V283.33H247.97zM475.48 292H484.96V300.67H475.48zM181.61 300.67H191.09V309.33H181.61zM304.85 300.67H314.33V309.33H304.85zM96.3 309.33H105.78V318H96.3zM295.37 309.33H304.85V318H295.37zM210.05 318H219.53V326.67H210.05zM333.29 318H342.77V326.67H333.29zM333.29 326.67H342.77V335.33H333.29zM162.65 335.33H172.13V344H162.65zM314.33 335.33H333.29V344H314.33zM447.04 335.33H456.52V344H447.04zM134.21 352.67H143.69V361.33H134.21zM181.61 352.67H191.09V361.33H181.61zM361.73 352.67H371.21V361.33H361.73zM456.52 352.67H475.48V361.33H456.52zM191.09 361.33H200.57V370H191.09zM352.25 361.33H361.73V370H352.25zM484.96 361.33H494.44V370H484.96zM29.94 378.67H39.42V387.33H29.94zM247.97 378.67H257.45V387.33H247.97zM238.49 387.33H247.97V396H238.49zM96.3 422H105.78V430.67H96.3zM447.04 430.67H456.52V439.33H447.04zM200.57 439.33H210.05V448H200.57zM229.01 439.33H238.49V448H229.01zM333.29 439.33H342.77V448H333.29zM437.56 439.33H447.04V448H437.56zM456.52 439.33H466V448H456.52zM200.57 448H210.05V456.67H200.57zM229.01 448H238.49V456.67H229.01zM352.25 448H361.73V456.67H352.25zM447.04 448H456.52V456.67H447.04zM200.57 456.67H210.05V465.33H200.57zM352.25 456.67H361.73V465.33H352.25zM229.01 465.33H238.49V474H229.01zM285.89 465.33H295.37V474H285.89zM229.01 474H238.49V482.67H229.01zM361.73 474H371.21V482.67H361.73zM238.49 482.67H247.97V491.33H238.49zM257.45 482.67H266.93V491.33H257.45zM29.94 491.33H39.42V500H29.94z"/>
<path fill="#bf0000" d="M238.49 40.67H247.97V49.33H238.49zM399.64 40.67H409.12V49.33H399.64zM494.44 40.67H503.92V49.33H494.44zM29.94 49.33H39.42V58H29.94zM20.46 58H29.94V66.67H20.46zM247.97 58H257.45V66.67H247.97zM418.6 58H428.08V66.67H418.6zM77.34 84H86.82V92.67H77.34zM58.38 101.33H67.86V110H58.38zM304.85 101.33H314.33V110H304.85zM247.97 127.33H257.45V136H247.97zM380.69 127.33H390.16V136H380.69zM124.74 136H143.69V144.67H124.74zM115.26 144.67H124.74V153.33H115.26zM153.17 144.67H172.13V153.33H153.17zM191.09 144.67H200.57V153.33H191.09zM115.26 153.33H124.74V162H115.26zM162.65 153.33H172.13V162H162.65zM124.74 170.67H134.21V179.33H124.74zM219.53 170.67H229.01V179.33H219.53zM124.74 179.33H143.69V188H124.74zM200.57 179.33H210.05V188H200.57zM219.53 179.33H229.01V188H219.53zM124.74 205.33H134.21V214H124.74zM210.05 205.33H219.53V214H210.05zM229.01 205.33H238.49V214H229.01zM314.33 205.33H323.81V214H314.33zM162.65 214H172.13V222.67H162.65zM333.29 214H342.77V222.67H333.29zM484.96 214H494.44V222.67H484.96zM191.09 222.67H200.57V231.33H191.09zM361.73 222.67H371.21V231.33H361.73zM153.17 231.33H172.13V240H153.17zM191.09 240H200.57V248.67H191.09zM352.25 240H361.73V248.67H352.25zM10.98 248.67H20.46V257.33H10.98zM29.94 257.33H39.42V266H29.94zM105.78 257.33H115.26V266H105.78zM285.89 274.67H295.37V283.33H285.89zM266.93 292H276.41V300.67H266.93zM77.34 309.33H86.82V318H77.34zM191.09 318H200.57V326.67H191.09zM447.04 318H456.52V326.67H447.04zM371.21 326.67H380.69V335.33H371.21zM200.57 335.33H210.05V344H200.57zM352.25 335.33H371.21V344H352.25zM456.52 335.33H466V344H456.52zM229.01 352.67H238.49V361.33H229.01zM333.29 352.67H342.77V361.33H333.29zM210.05 361.33H219.53V370H210.05zM333.29 361.33H342.77V370H333.29zM323.81 370H333.29V378.67H323.81zM105.78 378.67H115.26V387.33H105.78zM10.98 396H20.46V404.67H10.98zM29.94 413.33H39.42V422H29.94zM314.33 439.33H323.81V448H314.33zM466 439.33H475.48V448H466zM333.29 448H342.77V456.67H333.29zM447.04 456.67H456.52V465.33H447.04zM475.48 456.67H484.96V465.33H475.48zM466 465.33H475.48V474H466zM200.57 474H210.05V482.67H200.57zM10.98 482.67H20.46V491.33H10.98z"/>
<path fill="#800000" d="M390.16 40.67H399.64V49.33H390.16zM380.69 49.33H390.16V58H380.69zM409.12 58H418.6V66.67H409.12zM380.69 75.33H390.16V84H380.69zM105.78 110H115.26V118.67H105.78zM342.77 118.67H352.25V127.33H342.77zM86.82 127.33H96.3V136H86.82zM134.21 144.67H153.17V153.33H134.21zM124.74 153.33H134.21V162H124.74zM200.57 153.33H210.05V162H200.57zM124.74 162H134.21V170.67H124.74zM153.17 162H172.13V170.67H153.17zM191.09 162H200.57V170.67H191.09zM143.69 170.67H153.17V179.33H143.69zM162.65 170.67H172.13V179.33H162.65zM143.69 179.33H162.65V188H143.69zM191.09 179.33H200.57V188H191.09zM229.01 179.33H238.49V188H229.01zM361.73 179.33H371.21V188H361.73zM143.69 205.33H153.17V214H143.69zM162.65 205.33H172.13V214H162.65zM200.57 205.33H210.05V214H200.57zM134.21 214H143.69V222.67H134.21zM191.09 214H200.57V222.67H191.09zM229.01 214H238.49V222.67H229.01zM314.33 214H323.81V222.67H314.33zM352.25 214H371.21V222.67H352.25zM229.01 231.33H238.49V240H229.01zM323.81 231.33H342.77V240H323.81zM162.65 240H172.13V248.67H162.65zM200.57 240H210.05V248.67H200.57zM219.53 240H229.01V248.67H219.53zM314.33 240H323.81V248.67H314.33zM333.29 240H342.77V248.67H333.29zM361.73 240H371.21V248.67H361.73zM466 240H475.48V248.67H466zM257.45 248.67H266.93V257.33H257.45zM238.49 266H247.97V274.67H238.49zM276.41 266H285.89V274.67H276.41zM257.45 283.33H266.93V292H257.45zM342.77 309.33H352.25V318H342.77zM200.57 318H210.05V326.67H200.57zM229.01 318H238.49V326.67H229.01zM352.25 318H371.21V326.67H352.25zM456.52 318H475.48V326.67H456.52zM484.96 318H494.44V326.67H484.96zM219.53 326.67H229.01V335.33H219.53zM219.53 335.33H238.49V344H219.53zM466 335.33H484.96V344H466zM96.3 344H105.78V352.67H96.3zM304.85 344H314.33V352.67H304.85zM200.57 352.67H210.05V361.33H200.57zM314.33 352.67H323.81V361.33H314.33zM447.04 352.67H456.52V361.33H447.04zM484.96 352.67H494.44V361.33H484.96zM162.65 361.33H172.13V370H162.65zM200.57 361.33H210.05V370H200.57zM229.01 361.33H238.49V370H229.01zM314.33 361.33H323.81V370H314.33zM456.52 361.33H475.48V370H456.52zM20.46 378.67H29.94V387.33H20.46zM48.9 378.67H58.38V387.33H48.9zM10.98 387.33H20.46V396H10.98zM399.64 387.33H409.12V396H399.64zM494.44 387.33H503.92V396H494.44zM390.16 396H399.64V404.67H390.16zM494.44 396H503.92V404.67H494.44zM29.94 404.67H39.42V413.33H29.94zM418.6 404.67H428.08V413.33H418.6zM503.92 404.67H513.4V413.33H503.92zM409.12 413.33H418.6V422H409.12zM503.92 413.33H513.4V422H503.92zM352.25 439.33H361.73V448H352.25zM484.96 439.33H494.44V448H484.96zM314.33 448H323.81V456.67H314.33zM361.73 448H371.21V456.67H361.73zM466 448H475.48V456.67H466zM484.96 448H494.44V456.67H484.96zM229.01 456.67H238.49V465.33H229.01zM314.33 456.67H323.81V465.33H314.33zM333.29 456.67H342.77V465.33H333.29zM361.73 456.67H371.21V465.33H361.73zM456.52 456.67H466V465.33H456.52zM484.96 456.67H494.44V465.33H484.96zM333.29 465.33H342.77V474H333.29zM314.33 474H323.81V482.67H314.33zM352.25 474H361.73V482.67H352.25zM447.04 474H475.48V482.67H447.04zM390.16 482.67H409.12V491.33H390.16zM409.12 491.33H428.08V500H409.12z"/>
<rect x="544.5" y="31" width="41" height="8.33" fill="#800000"/>
<rect x="544.5" y="38.83" width="41" height="7.83" fill="#8f0000"/>
<rect x="544.5" y="46.16" width="41" height="7.83" fill="#9f0000"/>
<rect x="544.5" y="53.48" width="41" height="7.83" fill="#af0000"/>
<rect x="544.5" y="60.81" width="41" height="7.83" fill="#bf0000"/>
<rect x="544.5" y="68.14" width="41" height="7.83" fill="#cf0000"/>
<rect x="544.5" y="75.47" width="41" height="7.83" fill="#df0000"/>
<rect x="544.5" y="82.8" width="41" height="7.83" fill="#ef0000"/>
<rect x="544.5" y="90.12" width="41" height="7.83" fill="#ff0000"/>
<rect x="544.5" y="97.45" width="41" height="7.83" fill="#ff1000"/>
<rect x="544.5" y="104.78" width="41" height="7.83" fill="#ff2000"/>
<rect x="544.5" y="112.11" width="41" height="7.83" fill="#ff3000"/>
<rect x="544.5" y="119.44" width="41" height="7.83" fill="#ff4000"/>
<rect x="544.5" y="126.77" width="41" height="7.83" fill="#ff5000"/>
<rect x="544.5" y="134.09" width="41" height="7.83" fill="#ff6000"/>
<rect x="544.5" y="141.42" width="41" height="7.83" fill="#ff7000"/>
<rect x="544.5" y="148.75" width="41" height="7.83" fill="#ff8000"/>
<rect x="544.5" y="156.08" width="41" height="7.83" fill="#ff8f00"/>
<rect x="544.5" y="163.41" width="41" height="7.83" fill="#ff9f00"/>
<rect x="544.5" y="170.73" width="41" height="7.83" fill="#ffaf00"/>
<rect x="544.5" y="178.06" width="41" height="7.83" fill="#ffbf00"/>
<rect x="544.5" y="185.39" width="41" height="7.83" fill="#ffcf00"/>
<rect x="544.5" y="192.72" width="41" height="7.83" fill="#ffdf00"/>
<rect x="544.5" y="200.05" width="41" height="7.83" fill="#ffef00"/>
<rect x="544.5" y="207.38" width="41" height="7.83" fill="#ffff00"/>
<rect x="544.5" y="214.7" width="41" height="7.83" fill="#efff10"/>
<rect x="544.5" y="222.03" width="41" height="7.83" fill="#dfff20"/>
<rect x="544.5" y="229.36" width="41" height="7.83" fill="#cfff30"/>
<rect x="544.5" y="236.69" width="41" height="7.83" fill="#bfff40"/>
<rect x="544.5" y="244.02" width="41" height="7.83" fill="#afff50"/>
<rect x="544.5" y="251.34" width="41" height="7.83" fill="#9fff60"/>
<rect x="544.5" y="258.67" width="41" height="7.83" fill="#8fff70"/>
<rect x="544.5" y="266" width="41" height="7.83" fill="#80ff80"/>
<rect x="544.5" y="273.33" width="41" height="7.83" fill="#70ff8f"/>
<rect x="544.5" y="280.66" width="41" height="7.83" fill="#60ff9f"/>
<rect x="544.5" y="287.98" width="41" height="7.83" fill="#50ffaf"/>
<rect x="544.5" y="295.31" width="41" height="7.83" fill="#40ffbf"/>
<rect x="544.5" y="302.64" width="41" height="7.83" fill="#30ffcf"/>
<rect x="544.5" y="309.97" width="41" height="7.83" fill="#20ffdf"/>
<rect x="544.5" y="317.3" width="41" height="7.83" fill="#10ffef"/>
<rect x="544.5" y="324.62" width="41" height="7.83" fill="#00ffff"/>
<rect x="544.5" y="331.95" width="41" height="7.83" fill="#00efff"/>
<rect x="544.5" y="339.28" width="41" height="7.83" fill="#00dfff"/>
<rect x="544.5" y="346.61" width="41" height="7.83" fill="#00cfff"/>
<rect x="544.5" y="353.94" width="41" height="7.83" fill="#00bfff"/>
<rect x="544.5" y="361.27" width="41" height="7.83" fill="#00afff"/>
<rect x="544.5" y="368.59" width="41" height="7.83" fill="#009fff"/>
<rect x="544.5" y="375.92" width="41" height="7.83" fill="#008fff"/>
<rect x="544.5" y="383.25" width="41" height="7.83" fill="#0080ff"/>
<rect x="544.5" y="390.58" width="41" height="7.83" fill="#0070ff"/>
<rect x="544.5" y="397.91" width="41" height="7.83" fill="#0060ff"/>
<rect x="544.5" y="405.23" width="41" height="7.83" fill="#0050ff"/>
<rect x="544.5" y="412.56" width="41" height="7.83" fill="#0040ff"/>
<rect x="544.5" y="419.89" width="41" height="7.83" fill="#0030ff"/>
<rect x="544.5" y="427.22" width="41" height="7.83" fill="#0020ff"/>
<rect x="544.5" y="434.55" width="41" height="7.83" fill="#0010ff"/>
<rect x="544.5" y="441.88" width="41" height="7.83" fill="#0000ff"/>
<rect x="544.5" y="449.2" width="41" height="7.83" fill="#0000ef"/>
<rect x="544.5" y="456.53" width="41" height="7.83" fill="#0000df"/>
<rect x="544.5" y="463.86" width="41" height="7.83" fill="#0000cf"/>
<rect x="544.5" y="471.19" width="41" height="7.83" fill="#0000bf"/>
<rect x="544.5" y="478.52" width="41" height="7.83" fill="#0000af"/>
<rect x="544.5" y="485.84" width="41" height="7.83" fill="#00009f"/>
<rect x="544.5" y="493.17" width="41" height="7.83" fill="#00008f"/>
<path fill="#000" d="M6 32h1v5h-1zM6 495h1v5h-1zM2 36h4v1h-4zM509 36h4v1h-4zM15 32h1v5h-1zM15 495h1v5h-1zM2 45h4v1h-4zM509 45h4v1h-4zM25 32h1v5h-1zM25 495h1v5h-1zM2 53h4v1h-4zM509 53h4v1h-4zM34 32h1v5h-1zM34 495h1v5h-1zM2 62h4v1h-4zM509 62h4v1h-4zM44 32h1v5h-1zM44 495h1v5h-1zM2 71h4v1h-4zM509 71h4v1h-4zM53 32h1v5h-1zM53 495h1v5h-1zM2 79h4v1h-4zM509 79h4v1h-4zM63 32h1v5h-1zM63 495h1v5h-1zM2 88h4v1h-4zM509 88h4v1h-4zM72 32h1v5h-1zM72 495h1v5h-1zM2 97h4v1h-4zM509 97h4v1h-4zM82 32h1v5h-1zM82 495h1v5h-1zM2 105h4v1h-4zM509 105h4v1h-4zM91 32h1v5h-1zM91 495h1v5h-1zM2 114h4v1h-4zM509 114h4v1h-4zM101 32h1v5h-1zM101 495h1v5h-1zM2 123h4v1h-4zM509 123h4v1h-4zM110 32h1v5h-1zM110 495h1v5h-1zM2 131h4v1h-4zM509 131h4v1h-4zM119 32h1v5h-1zM119 495h1v5h-1zM2 140h4v1h-4zM509 140h4v1h-4zM129 32h1v5h-1zM129 495h1v5h-1zM2 149h4v1h-4zM509 149h4v1h-4zM138 32h1v5h-1zM138 495h1v5h-1zM2 157h4v1h-4zM509 157h4v1h-4zM148 32h1v5h-1zM148 495h1v5h-1zM2 166h4v1h-4zM509 166h4v1h-4zM157 32h1v5h-1zM157 495h1v5h-1zM2 175h4v1h-4zM509 175h4v1h-4zM167 32h1v5h-1zM167 495h1v5h-1zM2 183h4v1h-4zM509 183h4v1h-4zM176 32h1v5h-1zM176 495h1v5h-1zM2 192h4v1h-4zM509 192h4v1h-4zM186 32h1v5h-1zM186 495h1v5h-1zM2 201h4v1h-4zM509 201h4v1h-4zM195 32h1v5h-1zM195 495h1v5h-1zM2 209h4v1h-4zM509 209h4v1h-4zM205 32h1v5h-1zM205 495h1v5h-1zM2 218h4v1h-4zM509 218h4v1h-4zM214 32h1v5h-1zM214 495h1v5h-1zM2 227h4v1h-4zM509 227h4v1h-4zM224 32h1v5h-1zM224 495h1v5h-1zM2 235h4v1h-4zM509 235h4v1h-4zM233 32h1v5h-1zM233 495h1v5h-1zM2 244h4v1h-4zM509 244h4v1h-4zM243 32h1v5h-1zM243 495h1v5h-1zM2 252h4v1h-4zM509 252h4v1h-4zM252 32h1v5h-1zM252 495h1v5h-1zM2 261h4v1h-4zM509 261h4v1h-4zM262 32h1v5h-1zM262 495h1v5h-1zM2 270h4v1h-4zM509 270h4v1h-4zM271 32h1v5h-1zM271 495h1v5h-1zM2 279h4v1h-4zM509 279h4v1h-4zM281 32h1v5h-1zM281 495h1v5h-1zM2 287h4v1h-4zM509 287h4v1h-4zM290 32h1v5h-1zM290 495h1v5h-1zM2 296h4v1h-4zM509 296h4v1h-4zM300 32h1v5h-1zM300 495h1v5h-1zM2 305h4v1h-4zM509 305h4v1h-4zM309 32h1v5h-1zM309 495h1v5h-1zM2 313h4v1h-4zM509 313h4v1h-4zM319 32h1v5h-1zM319 495h1v5h-1zM2 322h4v1h-4zM509 322h4v1h-4zM328 32h1v5h-1zM328 495h1v5h-1zM2 331h4v1h-4zM509 331h4v1h-4zM338 32h1v5h-1zM338 495h1v5h-1zM2 339h4v1h-4zM509 339h4v1h-4zM347 32h1v5h-1zM347 495h1v5h-1zM2 348h4v1h-4zM509 348h4v1h-4zM356 32h1v5h-1zM356 495h1v5h-1zM2 357h4v1h-4zM509 357h4v1h-4zM366 32h1v5h-1zM366 495h1v5h-1zM2 365h4v1h-4zM509 365h4v1h-4zM375 32h1v5h-1zM375 495h1v5h-1zM2 374h4v1h-4zM509 374h4v1h-4zM385 32h1v5h-1zM385 495h1v5h-1zM2 383h4v1h-4zM509 383h4v1h-4zM394 32h1v5h-1zM394 495h1v5h-1zM2 391h4v1h-4zM509 391h4v1h-4zM404 32h1v5h-1zM404 495h1v5h-1zM2 400h4v1h-4zM509 400h4v1h-4zM413 32h1v5h-1zM413 495h1v5h-1zM2 409h4v1h-4zM509 409h4v1h-4zM423 32h1v5h-1zM423 495h1v5h-1zM2 417h4v1h-4zM509 417h4v1h-4zM432 32h1v5h-1zM432 495h1v5h-1zM2 426h4v1h-4zM509 426h4v1h-4zM442 32h1v5h-1zM442 495h1v5h-1zM2 435h4v1h-4zM509 435h4v1h-4zM451 32h1v5h-1zM451 495h1v5h-1zM2 443h4v1h-4zM509 443h4v1h-4zM461 32h1v5h-1zM461 495h1v5h-1zM2 452h4v1h-4zM509 452h4v1h-4zM470 32h1v5h-1zM470 495h1v5h-1zM2 460h4v1h-4zM509 460h4v1h-4zM480 32h1v5h-1zM480 495h1v5h-1zM2 469h4v1h-4zM509 469h4v1h-4zM489 32h1v5h-1zM489 495h1v5h-1zM2 478h4v1h-4zM509 478h4v1h-4zM499 32h1v5h-1zM499 495h1v5h-1zM2 486h4v1h-4zM509 486h4v1h-4zM508 32h1v5h-1zM508 495h1v5h-1zM2 495h4v1h-4zM509 495h4v1h-4zM545 500h4v1h-4zM581 500h4v1h-4zM545 453h4v1h-4zM581 453h4v1h-4zM545 406h4v1h-4zM581 406h4v1h-4zM545 359h4v1h-4zM581 359h4v1h-4zM545 312h4v1h-4zM581 312h4v1h-4zM545 266h4v1h-4zM581 266h4v1h-4zM545 219h4v1h-4zM581 219h4v1h-4zM545 172h4v1h-4zM581 172h4v1h-4zM545 125h4v1h-4zM581 125h4v1h-4zM545 78h4v1h-4zM581 78h4v1h-4zM545 31h4v1h-4zM581 31h4v1h-4zM1 31h513v1h-513zM1 500h513v1h-513zM1 31h1v470h-1zM513 31h1v470h-1zM544 500h42v1h-42zM544 31h1v470h-1zM585 31h1v470h-1z"/>
</g>
<text class="l" x="590.7" y="507.4">0</text>
<text class="l" x="590.7" y="460.5">0.1</text>
<text class="l" x="590.7" y="413.6">0.2</text>
<text class="l" x="590.7" y="366.7">0.3</text>
<text class="l" x="590.7" y="319.8">0.4</text>
<text class="l" x="590.7" y="272.9">0.5</text>
<text class="l" x="590.7" y="226">0.6</text>
<text class="l" x="590.7" y="179.1">0.7</text>
<text class="l" x="590.7" y="132.2">0.8</text>
<text class="l" x="590.7" y="85.3">0.9</text>
<text class="l" x="590.7" y="38.4">1</text>
<text class="t" x="259.5" y="19.8">HC</text>
<g shape-rendering="crispEdges">
<path fill="#00008f" d="M678.5 32H687.98V40.67H678.5zM687.98 40.67H697.46V49.33H687.98zM697.46 49.33H706.94V58H697.46zM706.94 58H716.42V66.67H706.94zM716.42 66.67H725.9V75.33H716.42zM725.9 75.33H735.38V84H725.9zM735.38 84H744.86V92.67H735.38zM744.86 92.67H754.34V101.33H744.86zM754.34 101.33H763.82V110H754.34zM763.82 110H773.3V118.67H763.82zM773.3 118.67H782.78V127.33H773.3zM782.78 127.33H792.26V136H782.78zM792.26 136H801.74V144.67H792.26zM801.74 144.67H811.21V153.33H801.74zM811.21 153.33H820.69V162H811.21zM820.69 162H830.17V170.67H820.69zM830.17 170.67H839.65V179.33H830.17zM839.65 179.33H849.13V188H839.65zM849.13 188H858.61V196.67H849.13zM858.61 196.67H868.09V205.33H858.61zM868.09 205.33H877.57V214H868.09zM877.57 214H887.05V222.67H877.57zM887.05 222.67H896.53V231.33H887.05zM896.53 231.33H906.01V240H896.53zM906.01 240H915.49V248.67H906.01zM915.49 248.67H924.97V257.33H915.49zM924.97 257.33H934.45V266H924.97zM934.45 266H943.93V274.67H934.45zM943.93 274.67H953.41V283.33H943.93zM953.41 283.33H962.89V292H953.41zM962.89 292H972.37V300.67H962.89zM972.37 300.67H981.85V309.33H972.37zM981.85 309.33H991.33V318H981.85zM991.33 318H1000.81V326.67H991.33zM1000.81 326.67H1010.29V335.33H1000.81zM1010.29 335.33H1019.77V344H1010.29zM1019.77 344H1029.25V352.67H1019.77zM1029.25 352.67H1038.73V361.33H1029.25zM1038.73 361.33H1048.21V370H1038.73zM1048.21 370H1057.69V378.67H1048.21zM1057.69 378.67H1067.16V387.33H1057.69zM1067.16 387.33H1076.64V396H1067.16zM1076.64 396H1086.12V404.67H1076.64zM1086.12 404.67H1095.6V413.33H1086.12zM1095.6 413.33H1105.08V422H1095.6zM1105.08 422H1114.56V430.67H1105.08zM1114.56 430.67H1124.04V439.33H1114.56zM1124.04 439.33H1133.52V448H1124.04zM1133.52 448H1143V456.67H1133.52zM1143 456.67H1152.48V465.33H1143zM1152.48 465.33H1161.96V474H1152.48zM1161.96 474H1171.44V482.67H1161.96zM1171.44 482.67H1180.92V491.33H1171.44zM1180.92 491.33H1190.4V500H1180.92z"/>
<path fill="#0000bf" d="M801.74 118.67H811.21V127.33H801.74zM868.09 118.67H877.57V127.33H868.09zM991.33 118.67H1000.81V127.33H991.33zM1038.73 118.67H1048.21V127.33H1038.73zM1124.04 118.67H1152.48V127.33H1124.04zM1161.96 118.67H1171.44V127.33H1161.96zM773.3 144.67H782.78V153.33H773.3zM773.3 205.33H782.78V214H773.3zM773.3 318H782.78V326.67H773.3zM773.3 361.33H782.78V370H773.3zM773.3 439.33H782.78V448H773.3zM773.3 448H782.78V456.67H773.3zM773.3 456.67H782.78V465.33H773.3zM773.3 474H782.78V482.67H773.3z"/>
<path fill="#0000ff" d="M1124.04 66.67H1133.52V75.33H1124.04zM1161.96 66.67H1171.44V75.33H1161.96zM868.09 101.33H877.57V110H868.09zM991.33 101.33H1000.81V110H991.33zM1029.25 101.33H1048.21V110H1029.25zM1133.52 101.33H1152.48V110H1133.52zM1161.96 101.33H1171.44V110H1161.96zM991.33 110H1000.81V118.67H991.33zM1124.04 110H1143V118.67H1124.04zM1161.96 110H1171.44V118.67H1161.96zM839.65 118.67H849.13V127.33H839.65zM877.57 118.67H896.53V127.33H877.57zM906.01 118.67H915.49V127.33H906.01zM1029.25 118.67H1038.73V127.33H1029.25zM1114.56 118.67H1124.04V127.33H1114.56zM839.65 127.33H849.13V136H839.65zM868.09 127.33H877.57V136H868.09zM1124.04 127.33H1143V136H1124.04zM1057.69 144.67H1067.16V153.33H1057.69zM773.3 179.33H792.26V188H773.3zM754.34 205.33H763.82V214H754.34zM782.78 205.33H792.26V214H782.78zM773.3 214H782.78V222.67H773.3zM773.3 222.67H782.78V231.33H773.3zM773.3 240H782.78V248.67H773.3zM1124.04 257.33H1143V266H1124.04zM754.34 318H773.3V326.67H754.34zM1019.77 318H1029.25V326.67H1019.77zM1105.08 318H1114.56V326.67H1105.08zM991.33 344H1000.81V352.67H991.33zM754.34 352.67H763.82V361.33H754.34zM773.3 352.67H782.78V361.33H773.3zM754.34 361.33H763.82V370H754.34zM801.74 378.67H811.21V387.33H801.74zM991.33 422H1000.81V430.67H991.33zM1161.96 422H1171.44V430.67H1161.96zM773.3 430.67H782.78V439.33H773.3zM716.42 439.33H725.9V448H716.42zM763.82 439.33H773.3V448H763.82zM782.78 439.33H792.26V448H782.78zM924.97 439.33H934.45V448H924.97zM754.34 448H773.3V456.67H754.34zM782.78 448H792.26V456.67H782.78zM924.97 448H934.45V456.67H924.97zM754.34 456.67H763.82V465.33H754.34zM716.42 474H725.9V482.67H716.42zM754.34 474H773.3V482.67H754.34zM1105.08 474H1114.56V482.67H1105.08z"/>
<path fill="#0040ff" d="M820.69 32H830.17V40.67H820.69zM991.33 32H1000.81V40.67H991.33zM1029.25 32H1038.73V40.67H1029.25zM1114.56 32H1124.04V40.67H1114.56zM1133.52 32H1143V40.67H1133.52zM1161.96 32H1171.44V40.67H1161.96zM820.69 49.33H830.17V58H820.69zM991.33 66.67H1000.81V75.33H991.33zM1029.25 66.67H1048.21V75.33H1029.25zM1133.52 66.67H1143V75.33H1133.52zM1161.96 84H1171.44V92.67H1161.96zM1161.96 92.67H1171.44V101.33H1161.96zM801.74 101.33H811.21V110H801.74zM887.05 101.33H896.53V110H887.05zM1114.56 101.33H1133.52V110H1114.56zM887.05 110H896.53V118.67H887.05zM1029.25 110H1048.21V118.67H1029.25zM1143 110H1152.48V118.67H1143zM811.21 118.67H839.65V127.33H811.21zM858.61 118.67H868.09V127.33H858.61zM801.74 127.33H839.65V136H801.74zM877.57 127.33H896.53V136H877.57zM906.01 127.33H915.49V136H906.01zM991.33 127.33H1000.81V136H991.33zM1029.25 127.33H1048.21V136H1029.25zM1143 127.33H1152.48V136H1143zM1161.96 127.33H1171.44V136H1161.96zM754.34 144.67H763.82V153.33H754.34zM782.78 144.67H792.26V153.33H782.78zM924.97 144.67H953.41V153.33H924.97zM1019.77 144.67H1029.25V153.33H1019.77zM1048.21 144.67H1057.69V153.33H1048.21zM1105.08 144.67H1114.56V153.33H1105.08zM1180.92 144.67H1190.4V153.33H1180.92zM773.3 153.33H792.26V162H773.3zM678.5 162H687.98V170.67H678.5zM697.46 162H706.94V170.67H697.46zM773.3 162H792.26V170.67H773.3zM924.97 162H934.45V170.67H924.97zM943.93 162H953.41V170.67H943.93zM1057.69 162H1067.16V170.67H1057.69zM773.3 170.67H792.26V179.33H773.3zM943.93 170.67H953.41V179.33H943.93zM943.93 179.33H953.41V188H943.93zM1019.77 179.33H1029.25V188H1019.77zM773.3 196.67H782.78V205.33H773.3zM915.49 205.33H924.97V214H915.49zM1019.77 205.33H1029.25V214H1019.77zM1057.69 205.33H1067.16V214H1057.69zM1105.08 205.33H1114.56V214H1105.08zM782.78 214H792.26V222.67H782.78zM754.34 222.67H773.3V231.33H754.34zM782.78 222.67H792.26V231.33H782.78zM915.49 222.67H924.97V231.33H915.49zM943.93 222.67H953.41V231.33H943.93zM1019.77 222.67H1029.25V231.33H1019.77zM1048.21 222.67H1057.69V231.33H1048.21zM1105.08 222.67H1114.56V231.33H1105.08zM782.78 240H792.26V248.67H782.78zM1105.08 240H1114.56V248.67H1105.08zM868.09 248.67H877.57V257.33H868.09zM887.05 248.67H896.53V257.33H887.05zM1161.96 248.67H1171.44V257.33H1161.96zM801.74 257.33H811.21V266H801.74zM820.69 257.33H830.17V266H820.69zM991.33 257.33H1000.81V266H991.33zM1029.25 257.33H1038.73V266H1029.25zM1143 257.33H1152.48V266H1143zM1161.96 257.33H1171.44V266H1161.96zM801.74 266H811.21V274.67H801.74zM801.74 274.67H811.21V283.33H801.74zM820.69 274.67H849.13V283.33H820.69zM887.05 274.67H896.53V283.33H887.05zM1124.04 274.67H1133.52V283.33H1124.04zM1143 274.67H1152.48V283.33H1143zM678.5 318H687.98V326.67H678.5zM716.42 318H725.9V326.67H716.42zM782.78 318H792.26V326.67H782.78zM924.97 318H934.45V326.67H924.97zM1029.25 326.67H1048.21V335.33H1029.25zM1124.04 326.67H1143V335.33H1124.04zM1161.96 326.67H1171.44V335.33H1161.96zM801.74 344H811.21V352.67H801.74zM839.65 344H849.13V352.67H839.65zM868.09 344H877.57V352.67H868.09zM887.05 344H896.53V352.67H887.05zM1143 344H1152.48V352.67H1143zM678.5 352.67H687.98V361.33H678.5zM716.42 352.67H725.9V361.33H716.42zM763.82 352.67H773.3V361.33H763.82zM782.78 352.67H792.26V361.33H782.78zM924.97 352.67H934.45V361.33H924.97zM1000.81 352.67H1010.29V361.33H1000.81zM1105.08 352.67H1114.56V361.33H1105.08zM716.42 361.33H725.9V370H716.42zM763.82 361.33H773.3V370H763.82zM782.78 361.33H792.26V370H782.78zM1000.81 361.33H1010.29V370H1000.81zM1048.21 361.33H1057.69V370H1048.21zM1105.08 361.33H1114.56V370H1105.08zM801.74 370H811.21V378.67H801.74zM887.05 370H896.53V378.67H887.05zM1038.73 370H1048.21V378.67H1038.73zM1133.52 370H1143V378.67H1133.52zM820.69 378.67H830.17V387.33H820.69zM868.09 378.67H877.57V387.33H868.09zM1124.04 378.67H1143V387.33H1124.04zM801.74 422H811.21V430.67H801.74zM868.09 422H877.57V430.67H868.09zM887.05 422H896.53V430.67H887.05zM906.01 422H915.49V430.67H906.01zM1029.25 422H1048.21V430.67H1029.25zM1124.04 422H1143V430.67H1124.04zM678.5 430.67H687.98V439.33H678.5zM754.34 430.67H763.82V439.33H754.34zM754.34 439.33H763.82V448H754.34zM943.93 439.33H953.41V448H943.93zM1000.81 439.33H1010.29V448H1000.81zM1057.69 439.33H1067.16V448H1057.69zM1105.08 439.33H1114.56V448H1105.08zM678.5 448H687.98V456.67H678.5zM716.42 448H725.9V456.67H716.42zM1000.81 448H1010.29V456.67H1000.81zM1048.21 448H1067.16V456.67H1048.21zM1105.08 448H1114.56V456.67H1105.08zM763.82 456.67H773.3V465.33H763.82zM782.78 456.67H792.26V465.33H782.78zM924.97 456.67H934.45V465.33H924.97zM943.93 456.67H953.41V465.33H943.93zM1019.77 456.67H1029.25V465.33H1019.77zM678.5 474H687.98V482.67H678.5zM735.38 474H754.34V482.67H735.38zM782.78 474H792.26V482.67H782.78zM915.49 474H934.45V482.67H915.49zM1000.81 474H1010.29V482.67H1000.81zM801.74 491.33H811.21V500H801.74z"/>
<path fill="#0093ff" d="M792.26 32H820.69V40.67H792.26zM830.17 32H849.13V40.67H830.17zM868.09 32H896.53V40.67H868.09zM906.01 32H915.49V40.67H906.01zM1038.73 32H1048.21V40.67H1038.73zM1124.04 32H1133.52V40.67H1124.04zM1143 32H1152.48V40.67H1143zM801.74 49.33H811.21V58H801.74zM830.17 49.33H849.13V58H830.17zM868.09 49.33H877.57V58H868.09zM906.01 49.33H915.49V58H906.01zM1124.04 49.33H1133.52V58H1124.04zM792.26 58H849.13V66.67H792.26zM858.61 58H877.57V66.67H858.61zM1124.04 58H1133.52V66.67H1124.04zM1161.96 58H1171.44V66.67H1161.96zM801.74 66.67H811.21V75.33H801.74zM820.69 66.67H830.17V75.33H820.69zM839.65 66.67H849.13V75.33H839.65zM868.09 66.67H896.53V75.33H868.09zM906.01 66.67H915.49V75.33H906.01zM1114.56 66.67H1124.04V75.33H1114.56zM1143 66.67H1152.48V75.33H1143zM801.74 75.33H811.21V84H801.74zM820.69 75.33H830.17V84H820.69zM839.65 75.33H849.13V84H839.65zM1124.04 75.33H1133.52V84H1124.04zM1161.96 75.33H1171.44V84H1161.96zM801.74 84H811.21V92.67H801.74zM868.09 84H877.57V92.67H868.09zM991.33 84H1000.81V92.67H991.33zM1029.25 84H1048.21V92.67H1029.25zM1124.04 84H1143V92.67H1124.04zM1114.56 92.67H1124.04V101.33H1114.56zM811.21 101.33H849.13V110H811.21zM877.57 101.33H887.05V110H877.57zM906.01 101.33H915.49V110H906.01zM801.74 110H849.13V118.67H801.74zM868.09 110H887.05V118.67H868.09zM906.01 110H915.49V118.67H906.01zM1114.56 110H1124.04V118.67H1114.56zM972.37 118.67H981.85V127.33H972.37zM1114.56 127.33H1124.04V136H1114.56zM678.5 136H687.98V144.67H678.5zM706.94 136H716.42V144.67H706.94zM962.89 136H972.37V144.67H962.89zM1000.81 136H1010.29V144.67H1000.81zM1180.92 136H1190.4V144.67H1180.92zM678.5 144.67H687.98V153.33H678.5zM697.46 144.67H744.86V153.33H697.46zM763.82 144.67H773.3V153.33H763.82zM915.49 144.67H924.97V153.33H915.49zM953.41 144.67H972.37V153.33H953.41zM1000.81 144.67H1010.29V153.33H1000.81zM1076.64 144.67H1105.08V153.33H1076.64zM678.5 153.33H687.98V162H678.5zM706.94 153.33H716.42V162H706.94zM754.34 153.33H773.3V162H754.34zM943.93 153.33H953.41V162H943.93zM706.94 162H735.38V170.67H706.94zM754.34 162H773.3V170.67H754.34zM915.49 162H924.97V170.67H915.49zM962.89 162H972.37V170.67H962.89zM1000.81 162H1010.29V170.67H1000.81zM1019.77 162H1029.25V170.67H1019.77zM1048.21 162H1057.69V170.67H1048.21zM1086.12 162H1114.56V170.67H1086.12zM678.5 170.67H687.98V179.33H678.5zM697.46 170.67H716.42V179.33H697.46zM754.34 170.67H773.3V179.33H754.34zM915.49 170.67H934.45V179.33H915.49zM962.89 170.67H972.37V179.33H962.89zM1019.77 170.67H1029.25V179.33H1019.77zM1048.21 170.67H1067.16V179.33H1048.21zM1095.6 170.67H1114.56V179.33H1095.6zM678.5 179.33H687.98V188H678.5zM697.46 179.33H735.38V188H697.46zM754.34 179.33H773.3V188H754.34zM915.49 179.33H943.93V188H915.49zM953.41 179.33H972.37V188H953.41zM1000.81 179.33H1010.29V188H1000.81zM1048.21 179.33H1067.16V188H1048.21zM1095.6 179.33H1114.56V188H1095.6zM1095.6 188H1105.08V196.67H1095.6zM1180.92 188H1190.4V196.67H1180.92zM706.94 196.67H716.42V205.33H706.94zM915.49 196.67H924.97V205.33H915.49zM1057.69 196.67H1067.16V205.33H1057.69zM678.5 205.33H687.98V214H678.5zM697.46 205.33H725.9V214H697.46zM735.38 205.33H744.86V214H735.38zM763.82 205.33H773.3V214H763.82zM924.97 205.33H972.37V214H924.97zM1000.81 205.33H1010.29V214H1000.81zM1048.21 205.33H1057.69V214H1048.21zM1086.12 205.33H1095.6V214H1086.12zM678.5 214H687.98V222.67H678.5zM716.42 214H725.9V222.67H716.42zM754.34 214H773.3V222.67H754.34zM915.49 214H924.97V222.67H915.49zM1019.77 214H1029.25V222.67H1019.77zM1048.21 214H1067.16V222.67H1048.21zM1105.08 214H1114.56V222.67H1105.08zM678.5 222.67H687.98V231.33H678.5zM716.42 222.67H725.9V231.33H716.42zM924.97 222.67H943.93V231.33H924.97zM962.89 222.67H972.37V231.33H962.89zM1057.69 222.67H1067.16V231.33H1057.69zM678.5 240H687.98V248.67H678.5zM697.46 240H706.94V248.67H697.46zM716.42 240H725.9V248.67H716.42zM754.34 240H773.3V248.67H754.34zM915.49 240H934.45V248.67H915.49zM943.93 240H953.41V248.67H943.93zM1019.77 240H1029.25V248.67H1019.77zM1048.21 240H1076.64V248.67H1048.21zM1095.6 240H1105.08V248.67H1095.6zM1180.92 240H1190.4V248.67H1180.92zM801.74 248.67H811.21V257.33H801.74zM820.69 248.67H849.13V257.33H820.69zM858.61 248.67H868.09V257.33H858.61zM877.57 248.67H887.05V257.33H877.57zM906.01 248.67H915.49V257.33H906.01zM991.33 248.67H1000.81V257.33H991.33zM1029.25 248.67H1048.21V257.33H1029.25zM1124.04 248.67H1143V257.33H1124.04zM830.17 257.33H849.13V266H830.17zM868.09 257.33H877.57V266H868.09zM887.05 257.33H896.53V266H887.05zM906.01 257.33H915.49V266H906.01zM1038.73 257.33H1048.21V266H1038.73zM839.65 266H849.13V274.67H839.65zM868.09 266H877.57V274.67H868.09zM887.05 266H896.53V274.67H887.05zM811.21 274.67H820.69V283.33H811.21zM868.09 274.67H877.57V283.33H868.09zM906.01 274.67H915.49V283.33H906.01zM991.33 274.67H1000.81V283.33H991.33zM1029.25 274.67H1048.21V283.33H1029.25zM1133.52 274.67H1143V283.33H1133.52zM1161.96 274.67H1171.44V283.33H1161.96zM801.74 283.33H811.21V292H801.74zM839.65 283.33H849.13V292H839.65zM868.09 283.33H877.57V292H868.09zM792.26 292H811.21V300.67H792.26zM820.69 292H849.13V300.67H820.69zM868.09 292H877.57V300.67H868.09zM887.05 292H896.53V300.67H887.05zM773.3 300.67H782.78V309.33H773.3zM735.38 318H744.86V326.67H735.38zM915.49 318H924.97V326.67H915.49zM943.93 318H953.41V326.67H943.93zM1000.81 318H1010.29V326.67H1000.81zM1048.21 318H1067.16V326.67H1048.21zM792.26 326.67H811.21V335.33H792.26zM820.69 326.67H830.17V335.33H820.69zM839.65 326.67H849.13V335.33H839.65zM868.09 326.67H877.57V335.33H868.09zM991.33 326.67H1000.81V335.33H991.33zM1114.56 326.67H1124.04V335.33H1114.56zM1143 326.67H1152.48V335.33H1143zM820.69 344H839.65V352.67H820.69zM877.57 344H887.05V352.67H877.57zM906.01 344H915.49V352.67H906.01zM1038.73 344H1048.21V352.67H1038.73zM1124.04 344H1143V352.67H1124.04zM1161.96 344H1171.44V352.67H1161.96zM735.38 352.67H744.86V361.33H735.38zM915.49 352.67H924.97V361.33H915.49zM943.93 352.67H953.41V361.33H943.93zM1057.69 352.67H1076.64V361.33H1057.69zM678.5 361.33H687.98V370H678.5zM735.38 361.33H744.86V370H735.38zM915.49 361.33H934.45V370H915.49zM943.93 361.33H953.41V370H943.93zM1019.77 361.33H1029.25V370H1019.77zM1057.69 361.33H1067.16V370H1057.69zM820.69 370H849.13V378.67H820.69zM868.09 370H887.05V378.67H868.09zM906.01 370H915.49V378.67H906.01zM991.33 370H1000.81V378.67H991.33zM1124.04 370H1133.52V378.67H1124.04zM1143 370H1152.48V378.67H1143zM1161.96 370H1171.44V378.67H1161.96zM830.17 378.67H849.13V387.33H830.17zM858.61 378.67H868.09V387.33H858.61zM877.57 378.67H896.53V387.33H877.57zM906.01 378.67H915.49V387.33H906.01zM991.33 378.67H1000.81V387.33H991.33zM1029.25 378.67H1048.21V387.33H1029.25zM1114.56 378.67H1124.04V387.33H1114.56zM1143 378.67H1152.48V387.33H1143zM1161.96 378.67H1171.44V387.33H1161.96zM906.01 387.33H915.49V396H906.01zM1029.25 387.33H1038.73V396H1029.25zM1133.52 387.33H1143V396H1133.52zM801.74 396H811.21V404.67H801.74zM801.74 404.67H811.21V413.33H801.74zM820.69 404.67H830.17V413.33H820.69zM868.09 404.67H877.57V413.33H868.09zM1124.04 404.67H1133.52V413.33H1124.04zM801.74 413.33H811.21V422H801.74zM820.69 413.33H858.61V422H820.69zM906.01 413.33H915.49V422H906.01zM820.69 422H849.13V430.67H820.69zM877.57 422H887.05V430.67H877.57zM1114.56 422H1124.04V430.67H1114.56zM1143 422H1152.48V430.67H1143zM716.42 430.67H725.9V439.33H716.42zM744.86 430.67H754.34V439.33H744.86zM763.82 430.67H773.3V439.33H763.82zM782.78 430.67H792.26V439.33H782.78zM1000.81 430.67H1010.29V439.33H1000.81zM1057.69 430.67H1067.16V439.33H1057.69zM1105.08 430.67H1114.56V439.33H1105.08zM678.5 439.33H687.98V448H678.5zM697.46 439.33H716.42V448H697.46zM725.9 439.33H744.86V448H725.9zM915.49 439.33H924.97V448H915.49zM1019.77 439.33H1029.25V448H1019.77zM1048.21 439.33H1057.69V448H1048.21zM1086.12 439.33H1095.6V448H1086.12zM735.38 448H744.86V456.67H735.38zM915.49 448H924.97V456.67H915.49zM943.93 448H953.41V456.67H943.93zM1019.77 448H1029.25V456.67H1019.77zM1067.16 448H1076.64V456.67H1067.16zM678.5 456.67H687.98V465.33H678.5zM716.42 456.67H725.9V465.33H716.42zM1000.81 456.67H1010.29V465.33H1000.81zM1048.21 456.67H1067.16V465.33H1048.21zM1105.08 456.67H1114.56V465.33H1105.08zM706.94 474H716.42V482.67H706.94zM725.9 474H735.38V482.67H725.9zM943.93 474H953.41V482.67H943.93zM1019.77 474H1029.25V482.67H1019.77zM1048.21 474H1067.16V482.67H1048.21zM792.26 491.33H801.74V500H792.26zM849.13 491.33H858.61V500H849.13zM906.01 491.33H915.49V500H906.01z"/>
<path fill="#00bfff" d="M792.26 40.67H801.74V49.33H792.26zM820.69 40.67H839.65V49.33H820.69zM849.13 40.67H896.53V49.33H849.13zM991.33 40.67H1000.81V49.33H991.33zM1029.25 40.67H1048.21V49.33H1029.25zM1133.52 40.67H1143V49.33H1133.52zM1161.96 40.67H1171.44V49.33H1161.96zM792.26 49.33H801.74V58H792.26zM811.21 49.33H820.69V58H811.21zM849.13 49.33H868.09V58H849.13zM877.57 49.33H896.53V58H877.57zM934.45 49.33H943.93V58H934.45zM972.37 49.33H981.85V58H972.37zM1067.16 49.33H1076.64V58H1067.16zM1114.56 49.33H1124.04V58H1114.56zM1133.52 49.33H1152.48V58H1133.52zM1161.96 49.33H1171.44V58H1161.96zM877.57 58H896.53V66.67H877.57zM906.01 58H915.49V66.67H906.01zM1029.25 58H1048.21V66.67H1029.25zM1114.56 58H1124.04V66.67H1114.56zM1133.52 58H1152.48V66.67H1133.52zM811.21 66.67H820.69V75.33H811.21zM830.17 66.67H839.65V75.33H830.17zM773.3 75.33H782.78V84H773.3zM811.21 75.33H820.69V84H811.21zM830.17 75.33H839.65V84H830.17zM868.09 75.33H896.53V84H868.09zM934.45 75.33H943.93V84H934.45zM991.33 75.33H1000.81V84H991.33zM1019.77 75.33H1038.73V84H1019.77zM1067.16 75.33H1076.64V84H1067.16zM1114.56 75.33H1124.04V84H1114.56zM1133.52 75.33H1152.48V84H1133.52zM1171.44 75.33H1180.92V84H1171.44zM839.65 84H849.13V92.67H839.65zM877.57 84H896.53V92.67H877.57zM906.01 84H915.49V92.67H906.01zM1143 84H1152.48V92.67H1143zM1171.44 84H1180.92V92.67H1171.44zM953.41 92.67H962.89V101.33H953.41zM991.33 92.67H1000.81V101.33H991.33zM1029.25 92.67H1038.73V101.33H1029.25zM1067.16 92.67H1086.12V101.33H1067.16zM1124.04 92.67H1143V101.33H1124.04zM1171.44 92.67H1180.92V101.33H1171.44zM792.26 101.33H801.74V110H792.26zM858.61 101.33H868.09V110H858.61zM972.37 101.33H981.85V110H972.37zM1010.29 101.33H1019.77V110H1010.29zM1180.92 101.33H1190.4V110H1180.92zM858.61 110H868.09V118.67H858.61zM972.37 110H981.85V118.67H972.37zM1171.44 110H1180.92V118.67H1171.44zM725.9 118.67H735.38V127.33H725.9zM792.26 118.67H801.74V127.33H792.26zM1010.29 118.67H1019.77V127.33H1010.29zM1152.48 118.67H1161.96V127.33H1152.48zM1180.92 118.67H1190.4V127.33H1180.92zM792.26 127.33H801.74V136H792.26zM858.61 127.33H868.09V136H858.61zM687.98 136H706.94V144.67H687.98zM754.34 136H763.82V144.67H754.34zM773.3 136H792.26V144.67H773.3zM915.49 136H924.97V144.67H915.49zM943.93 136H962.89V144.67H943.93zM1019.77 136H1029.25V144.67H1019.77zM1048.21 136H1114.56V144.67H1048.21zM697.46 153.33H706.94V162H697.46zM716.42 153.33H735.38V162H716.42zM915.49 153.33H943.93V162H915.49zM953.41 153.33H972.37V162H953.41zM1000.81 153.33H1010.29V162H1000.81zM1019.77 153.33H1029.25V162H1019.77zM1057.69 153.33H1067.16V162H1057.69zM1105.08 153.33H1114.56V162H1105.08zM687.98 162H697.46V170.67H687.98zM934.45 162H943.93V170.67H934.45zM953.41 162H962.89V170.67H953.41zM1067.16 162H1086.12V170.67H1067.16zM1180.92 162H1190.4V170.67H1180.92zM687.98 170.67H697.46V179.33H687.98zM716.42 170.67H735.38V179.33H716.42zM934.45 170.67H943.93V179.33H934.45zM953.41 170.67H962.89V179.33H953.41zM1067.16 170.67H1095.6V179.33H1067.16zM1180.92 170.67H1190.4V179.33H1180.92zM735.38 179.33H744.86V188H735.38zM1086.12 179.33H1095.6V188H1086.12zM1180.92 179.33H1190.4V188H1180.92zM687.98 188H706.94V196.67H687.98zM953.41 188H972.37V196.67H953.41zM1067.16 188H1095.6V196.67H1067.16zM1171.44 188H1180.92V196.67H1171.44zM687.98 196.67H706.94V205.33H687.98zM754.34 196.67H773.3V205.33H754.34zM782.78 196.67H792.26V205.33H782.78zM924.97 196.67H953.41V205.33H924.97zM962.89 196.67H972.37V205.33H962.89zM1000.81 196.67H1010.29V205.33H1000.81zM1048.21 196.67H1057.69V205.33H1048.21zM1067.16 196.67H1114.56V205.33H1067.16zM687.98 205.33H697.46V214H687.98zM725.9 205.33H735.38V214H725.9zM1067.16 205.33H1086.12V214H1067.16zM1095.6 205.33H1105.08V214H1095.6zM1180.92 205.33H1190.4V214H1180.92zM687.98 214H716.42V222.67H687.98zM725.9 214H744.86V222.67H725.9zM924.97 214H962.89V222.67H924.97zM1000.81 214H1010.29V222.67H1000.81zM1180.92 214H1190.4V222.67H1180.92zM687.98 222.67H716.42V231.33H687.98zM725.9 222.67H744.86V231.33H725.9zM953.41 222.67H962.89V231.33H953.41zM1000.81 222.67H1010.29V231.33H1000.81zM1095.6 222.67H1105.08V231.33H1095.6zM1180.92 222.67H1190.4V231.33H1180.92zM706.94 240H716.42V248.67H706.94zM735.38 240H744.86V248.67H735.38zM934.45 240H943.93V248.67H934.45zM953.41 240H972.37V248.67H953.41zM1086.12 240H1095.6V248.67H1086.12zM792.26 248.67H801.74V257.33H792.26zM811.21 248.67H820.69V257.33H811.21zM1114.56 248.67H1124.04V257.33H1114.56zM1143 248.67H1152.48V257.33H1143zM811.21 257.33H820.69V266H811.21zM858.61 257.33H868.09V266H858.61zM877.57 257.33H887.05V266H877.57zM1114.56 257.33H1124.04V266H1114.56zM697.46 266H706.94V274.67H697.46zM725.9 266H735.38V274.67H725.9zM811.21 266H839.65V274.67H811.21zM858.61 266H868.09V274.67H858.61zM877.57 266H887.05V274.67H877.57zM906.01 266H915.49V274.67H906.01zM991.33 266H1000.81V274.67H991.33zM1029.25 266H1048.21V274.67H1029.25zM1124.04 266H1143V274.67H1124.04zM1161.96 266H1171.44V274.67H1161.96zM792.26 274.67H801.74V283.33H792.26zM858.61 274.67H868.09V283.33H858.61zM877.57 274.67H887.05V283.33H877.57zM1114.56 274.67H1124.04V283.33H1114.56zM744.86 283.33H754.34V292H744.86zM792.26 283.33H801.74V292H792.26zM811.21 283.33H839.65V292H811.21zM849.13 283.33H858.61V292H849.13zM877.57 283.33H896.53V292H877.57zM906.01 283.33H915.49V292H906.01zM1029.25 283.33H1038.73V292H1029.25zM811.21 292H820.69V300.67H811.21zM849.13 292H868.09V300.67H849.13zM906.01 292H915.49V300.67H906.01zM1038.73 292H1048.21V300.67H1038.73zM1133.52 292H1143V300.67H1133.52zM697.46 300.67H706.94V309.33H697.46zM754.34 300.67H773.3V309.33H754.34zM1048.21 300.67H1057.69V309.33H1048.21zM1180.92 300.67H1190.4V309.33H1180.92zM1133.52 309.33H1143V318H1133.52zM1161.96 309.33H1171.44V318H1161.96zM687.98 318H697.46V326.67H687.98zM725.9 318H735.38V326.67H725.9zM744.86 318H754.34V326.67H744.86zM934.45 318H943.93V326.67H934.45zM1067.16 318H1086.12V326.67H1067.16zM1180.92 318H1190.4V326.67H1180.92zM811.21 326.67H820.69V335.33H811.21zM858.61 326.67H868.09V335.33H858.61zM877.57 326.67H896.53V335.33H877.57zM754.34 335.33H763.82V344H754.34zM773.3 335.33H782.78V344H773.3zM1019.77 335.33H1029.25V344H1019.77zM1095.6 335.33H1105.08V344H1095.6zM1180.92 335.33H1190.4V344H1180.92zM725.9 344H735.38V352.67H725.9zM792.26 344H801.74V352.67H792.26zM811.21 344H820.69V352.67H811.21zM1010.29 344H1019.77V352.67H1010.29zM1029.25 344H1038.73V352.67H1029.25zM1152.48 344H1161.96V352.67H1152.48zM687.98 352.67H697.46V361.33H687.98zM706.94 352.67H716.42V361.33H706.94zM725.9 352.67H735.38V361.33H725.9zM744.86 352.67H754.34V361.33H744.86zM934.45 352.67H943.93V361.33H934.45zM953.41 352.67H962.89V361.33H953.41zM1019.77 352.67H1029.25V361.33H1019.77zM1048.21 352.67H1057.69V361.33H1048.21zM1180.92 352.67H1190.4V361.33H1180.92zM687.98 361.33H697.46V370H687.98zM706.94 361.33H716.42V370H706.94zM934.45 361.33H943.93V370H934.45zM962.89 361.33H972.37V370H962.89zM1067.16 361.33H1086.12V370H1067.16zM1095.6 361.33H1105.08V370H1095.6zM792.26 370H801.74V378.67H792.26zM858.61 370H868.09V378.67H858.61zM972.37 370H981.85V378.67H972.37zM1029.25 370H1038.73V378.67H1029.25zM1114.56 370H1124.04V378.67H1114.56zM792.26 378.67H801.74V387.33H792.26zM811.21 378.67H820.69V387.33H811.21zM697.46 387.33H706.94V396H697.46zM725.9 387.33H735.38V396H725.9zM744.86 387.33H754.34V396H744.86zM792.26 387.33H801.74V396H792.26zM820.69 387.33H839.65V396H820.69zM849.13 387.33H877.57V396H849.13zM991.33 387.33H1000.81V396H991.33zM1038.73 387.33H1048.21V396H1038.73zM1114.56 387.33H1133.52V396H1114.56zM744.86 396H754.34V404.67H744.86zM792.26 396H801.74V404.67H792.26zM820.69 396H839.65V404.67H820.69zM849.13 396H877.57V404.67H849.13zM991.33 396H1000.81V404.67H991.33zM1038.73 396H1048.21V404.67H1038.73zM1133.52 396H1143V404.67H1133.52zM792.26 404.67H801.74V413.33H792.26zM830.17 404.67H868.09V413.33H830.17zM906.01 404.67H915.49V413.33H906.01zM792.26 413.33H801.74V422H792.26zM858.61 413.33H877.57V422H858.61zM887.05 413.33H896.53V422H887.05zM1010.29 413.33H1019.77V422H1010.29zM1038.73 413.33H1048.21V422H1038.73zM1124.04 413.33H1143V422H1124.04zM1161.96 413.33H1171.44V422H1161.96zM792.26 422H801.74V430.67H792.26zM811.21 422H820.69V430.67H811.21zM858.61 422H868.09V430.67H858.61zM697.46 430.67H716.42V439.33H697.46zM725.9 430.67H735.38V439.33H725.9zM915.49 430.67H934.45V439.33H915.49zM943.93 430.67H953.41V439.33H943.93zM1048.21 430.67H1057.69V439.33H1048.21zM1067.16 430.67H1076.64V439.33H1067.16zM744.86 439.33H754.34V448H744.86zM934.45 439.33H943.93V448H934.45zM1067.16 439.33H1076.64V448H1067.16zM1095.6 439.33H1105.08V448H1095.6zM687.98 448H716.42V456.67H687.98zM725.9 448H735.38V456.67H725.9zM744.86 448H754.34V456.67H744.86zM934.45 448H943.93V456.67H934.45zM962.89 448H972.37V456.67H962.89zM981.85 448H991.33V456.67H981.85zM1076.64 448H1086.12V456.67H1076.64zM1095.6 448H1105.08V456.67H1095.6zM697.46 456.67H716.42V465.33H697.46zM725.9 456.67H744.86V465.33H725.9zM915.49 456.67H924.97V465.33H915.49zM773.3 465.33H782.78V474H773.3zM1019.77 465.33H1029.25V474H1019.77zM687.98 474H706.94V482.67H687.98zM934.45 474H943.93V482.67H934.45zM981.85 474H991.33V482.67H981.85zM1095.6 474H1105.08V482.67H1095.6zM1180.92 474H1190.4V482.67H1180.92zM725.9 482.67H754.34V491.33H725.9zM763.82 482.67H773.3V491.33H763.82zM849.13 482.67H858.61V491.33H849.13zM754.34 491.33H763.82V500H754.34zM773.3 491.33H782.78V500H773.3zM820.69 491.33H849.13V500H820.69zM868.09 491.33H896.53V500H868.09zM972.37 491.33H981.85V500H972.37zM991.33 491.33H1000.81V500H991.33zM1010.29 491.33H1019.77V500H1010.29zM1029.25 491.33H1038.73V500H1029.25zM1161.96 491.33H1171.44V500H1161.96z"/>
<path fill="#00f2ff" d="M849.13 32H868.09V40.67H849.13zM962.89 32H972.37V40.67H962.89zM1152.48 32H1161.96V40.67H1152.48zM725.9 40.67H735.38V49.33H725.9zM801.74 40.67H820.69V49.33H801.74zM839.65 40.67H849.13V49.33H839.65zM906.01 40.67H915.49V49.33H906.01zM1114.56 40.67H1133.52V49.33H1114.56zM1143 40.67H1152.48V49.33H1143zM915.49 49.33H924.97V58H915.49zM953.41 49.33H962.89V58H953.41zM981.85 49.33H1000.81V58H981.85zM1010.29 49.33H1048.21V58H1010.29zM1076.64 49.33H1086.12V58H1076.64zM1171.44 49.33H1180.92V58H1171.44zM849.13 58H858.61V66.67H849.13zM972.37 58H981.85V66.67H972.37zM991.33 58H1000.81V66.67H991.33zM792.26 66.67H801.74V75.33H792.26zM858.61 66.67H868.09V75.33H858.61zM1067.16 66.67H1076.64V75.33H1067.16zM1171.44 66.67H1190.4V75.33H1171.44zM687.98 75.33H697.46V84H687.98zM754.34 75.33H763.82V84H754.34zM792.26 75.33H801.74V84H792.26zM849.13 75.33H868.09V84H849.13zM906.01 75.33H924.97V84H906.01zM953.41 75.33H962.89V84H953.41zM1076.64 75.33H1086.12V84H1076.64zM1180.92 75.33H1190.4V84H1180.92zM811.21 84H830.17V92.67H811.21zM1010.29 84H1019.77V92.67H1010.29zM1067.16 84H1086.12V92.67H1067.16zM1114.56 84H1124.04V92.67H1114.56zM801.74 92.67H820.69V101.33H801.74zM839.65 92.67H849.13V101.33H839.65zM868.09 92.67H877.57V101.33H868.09zM887.05 92.67H896.53V101.33H887.05zM906.01 92.67H924.97V101.33H906.01zM934.45 92.67H943.93V101.33H934.45zM1038.73 92.67H1048.21V101.33H1038.73zM1143 92.67H1152.48V101.33H1143zM1180.92 92.67H1190.4V101.33H1180.92zM725.9 101.33H735.38V110H725.9zM953.41 101.33H972.37V110H953.41zM1095.6 101.33H1105.08V110H1095.6zM1152.48 101.33H1161.96V110H1152.48zM1171.44 101.33H1180.92V110H1171.44zM792.26 110H801.74V118.67H792.26zM1067.16 110H1086.12V118.67H1067.16zM1095.6 110H1105.08V118.67H1095.6zM849.13 118.67H858.61V127.33H849.13zM896.53 118.67H906.01V127.33H896.53zM953.41 118.67H962.89V127.33H953.41zM1067.16 118.67H1076.64V127.33H1067.16zM1095.6 118.67H1105.08V127.33H1095.6zM1171.44 118.67H1180.92V127.33H1171.44zM972.37 127.33H981.85V136H972.37zM1010.29 127.33H1019.77V136H1010.29zM1076.64 127.33H1086.12V136H1076.64zM1171.44 127.33H1190.4V136H1171.44zM716.42 136H735.38V144.67H716.42zM763.82 136H773.3V144.67H763.82zM924.97 136H943.93V144.67H924.97zM1133.52 136H1143V144.67H1133.52zM1161.96 136H1180.92V144.67H1161.96zM687.98 144.67H697.46V153.33H687.98zM744.86 144.67H754.34V153.33H744.86zM1067.16 144.67H1076.64V153.33H1067.16zM1171.44 144.67H1180.92V153.33H1171.44zM687.98 153.33H697.46V162H687.98zM735.38 153.33H754.34V162H735.38zM1048.21 153.33H1057.69V162H1048.21zM1067.16 153.33H1105.08V162H1067.16zM1180.92 153.33H1190.4V162H1180.92zM735.38 162H744.86V170.67H735.38zM1171.44 162H1180.92V170.67H1171.44zM1000.81 170.67H1010.29V179.33H1000.81zM1171.44 170.67H1180.92V179.33H1171.44zM687.98 179.33H697.46V188H687.98zM744.86 179.33H754.34V188H744.86zM1067.16 179.33H1086.12V188H1067.16zM1171.44 179.33H1180.92V188H1171.44zM678.5 188H687.98V196.67H678.5zM706.94 188H716.42V196.67H706.94zM725.9 188H735.38V196.67H725.9zM773.3 188H782.78V196.67H773.3zM915.49 188H934.45V196.67H915.49zM1029.25 188H1038.73V196.67H1029.25zM1048.21 188H1067.16V196.67H1048.21zM1133.52 188H1143V196.67H1133.52zM1152.48 188H1171.44V196.67H1152.48zM678.5 196.67H687.98V205.33H678.5zM716.42 196.67H735.38V205.33H716.42zM953.41 196.67H962.89V205.33H953.41zM1019.77 196.67H1029.25V205.33H1019.77zM1171.44 196.67H1190.4V205.33H1171.44zM744.86 205.33H754.34V214H744.86zM962.89 214H972.37V222.67H962.89zM1067.16 214H1105.08V222.67H1067.16zM744.86 222.67H754.34V231.33H744.86zM1067.16 222.67H1095.6V231.33H1067.16zM773.3 231.33H782.78V240H773.3zM934.45 231.33H943.93V240H934.45zM962.89 231.33H972.37V240H962.89zM1019.77 231.33H1029.25V240H1019.77zM1114.56 231.33H1143V240H1114.56zM1161.96 231.33H1171.44V240H1161.96zM1180.92 231.33H1190.4V240H1180.92zM687.98 240H697.46V248.67H687.98zM725.9 240H735.38V248.67H725.9zM744.86 240H754.34V248.67H744.86zM1076.64 240H1086.12V248.67H1076.64zM697.46 248.67H706.94V257.33H697.46zM725.9 248.67H735.38V257.33H725.9zM744.86 248.67H754.34V257.33H744.86zM849.13 248.67H858.61V257.33H849.13zM972.37 248.67H981.85V257.33H972.37zM792.26 257.33H801.74V266H792.26zM849.13 257.33H858.61V266H849.13zM744.86 266H754.34V274.67H744.86zM792.26 266H801.74V274.67H792.26zM896.53 266H906.01V274.67H896.53zM1143 266H1152.48V274.67H1143zM972.37 274.67H981.85V283.33H972.37zM1010.29 274.67H1019.77V283.33H1010.29zM697.46 283.33H706.94V292H697.46zM725.9 283.33H735.38V292H725.9zM754.34 283.33H763.82V292H754.34zM773.3 283.33H782.78V292H773.3zM858.61 283.33H868.09V292H858.61zM991.33 283.33H1000.81V292H991.33zM1124.04 283.33H1143V292H1124.04zM1161.96 283.33H1171.44V292H1161.96zM678.5 292H687.98V300.67H678.5zM754.34 292H763.82V300.67H754.34zM877.57 292H887.05V300.67H877.57zM896.53 292H906.01V300.67H896.53zM1010.29 292H1019.77V300.67H1010.29zM1029.25 292H1038.73V300.67H1029.25zM1067.16 292H1076.64V300.67H1067.16zM1143 292H1152.48V300.67H1143zM1161.96 292H1171.44V300.67H1161.96zM706.94 300.67H716.42V309.33H706.94zM782.78 300.67H792.26V309.33H782.78zM915.49 300.67H924.97V309.33H915.49zM943.93 300.67H953.41V309.33H943.93zM1000.81 300.67H1010.29V309.33H1000.81zM1067.16 300.67H1076.64V309.33H1067.16zM1086.12 300.67H1095.6V309.33H1086.12zM1105.08 300.67H1114.56V309.33H1105.08zM697.46 309.33H706.94V318H697.46zM991.33 309.33H1000.81V318H991.33zM1029.25 309.33H1038.73V318H1029.25zM1095.6 309.33H1105.08V318H1095.6zM1124.04 309.33H1133.52V318H1124.04zM1143 309.33H1152.48V318H1143zM1180.92 309.33H1190.4V318H1180.92zM697.46 318H716.42V326.67H697.46zM953.41 318H962.89V326.67H953.41zM981.85 318H991.33V326.67H981.85zM1086.12 318H1105.08V326.67H1086.12zM830.17 326.67H839.65V335.33H830.17zM972.37 326.67H981.85V335.33H972.37zM1019.77 326.67H1029.25V335.33H1019.77zM1171.44 326.67H1180.92V335.33H1171.44zM697.46 335.33H706.94V344H697.46zM735.38 335.33H744.86V344H735.38zM782.78 335.33H792.26V344H782.78zM943.93 335.33H953.41V344H943.93zM962.89 335.33H972.37V344H962.89zM1057.69 335.33H1067.16V344H1057.69zM1086.12 335.33H1095.6V344H1086.12zM697.46 344H706.94V352.67H697.46zM858.61 344H868.09V352.67H858.61zM896.53 344H906.01V352.67H896.53zM1000.81 344H1010.29V352.67H1000.81zM1180.92 344H1190.4V352.67H1180.92zM697.46 352.67H706.94V361.33H697.46zM849.13 352.67H858.61V361.33H849.13zM962.89 352.67H972.37V361.33H962.89zM981.85 352.67H991.33V361.33H981.85zM1076.64 352.67H1105.08V361.33H1076.64zM697.46 361.33H706.94V370H697.46zM744.86 361.33H754.34V370H744.86zM1086.12 361.33H1095.6V370H1086.12zM1180.92 361.33H1190.4V370H1180.92zM811.21 370H820.69V378.67H811.21zM849.13 370H858.61V378.67H849.13zM1067.16 370H1076.64V378.67H1067.16zM1171.44 370H1180.92V378.67H1171.44zM849.13 378.67H858.61V387.33H849.13zM1010.29 378.67H1019.77V387.33H1010.29zM1076.64 378.67H1086.12V387.33H1076.64zM1171.44 378.67H1180.92V387.33H1171.44zM716.42 387.33H725.9V396H716.42zM735.38 387.33H744.86V396H735.38zM763.82 387.33H782.78V396H763.82zM801.74 387.33H820.69V396H801.74zM839.65 387.33H849.13V396H839.65zM877.57 387.33H896.53V396H877.57zM962.89 387.33H981.85V396H962.89zM1048.21 387.33H1057.69V396H1048.21zM1143 387.33H1152.48V396H1143zM1161.96 387.33H1171.44V396H1161.96zM697.46 396H706.94V404.67H697.46zM725.9 396H744.86V404.67H725.9zM763.82 396H773.3V404.67H763.82zM782.78 396H792.26V404.67H782.78zM811.21 396H820.69V404.67H811.21zM839.65 396H849.13V404.67H839.65zM877.57 396H896.53V404.67H877.57zM906.01 396H915.49V404.67H906.01zM1029.25 396H1038.73V404.67H1029.25zM1057.69 396H1067.16V404.67H1057.69zM1114.56 396H1133.52V404.67H1114.56zM1143 396H1152.48V404.67H1143zM1161.96 396H1171.44V404.67H1161.96zM811.21 404.67H820.69V413.33H811.21zM877.57 404.67H896.53V413.33H877.57zM972.37 404.67H981.85V413.33H972.37zM991.33 404.67H1000.81V413.33H991.33zM1010.29 404.67H1019.77V413.33H1010.29zM1029.25 404.67H1048.21V413.33H1029.25zM1114.56 404.67H1124.04V413.33H1114.56zM1161.96 404.67H1171.44V413.33H1161.96zM754.34 413.33H782.78V422H754.34zM811.21 413.33H820.69V422H811.21zM877.57 413.33H887.05V422H877.57zM981.85 413.33H1000.81V422H981.85zM1029.25 413.33H1038.73V422H1029.25zM1114.56 413.33H1124.04V422H1114.56zM1143 413.33H1152.48V422H1143zM972.37 422H981.85V430.67H972.37zM1171.44 422H1180.92V430.67H1171.44zM687.98 430.67H697.46V439.33H687.98zM735.38 430.67H744.86V439.33H735.38zM896.53 430.67H906.01V439.33H896.53zM1076.64 430.67H1105.08V439.33H1076.64zM687.98 439.33H697.46V448H687.98zM896.53 439.33H906.01V448H896.53zM953.41 439.33H962.89V448H953.41zM981.85 439.33H991.33V448H981.85zM1076.64 439.33H1086.12V448H1076.64zM1180.92 439.33H1190.4V448H1180.92zM792.26 448H801.74V456.67H792.26zM849.13 448H858.61V456.67H849.13zM896.53 448H906.01V456.67H896.53zM953.41 448H962.89V456.67H953.41zM1171.44 448H1180.92V456.67H1171.44zM687.98 456.67H697.46V465.33H687.98zM744.86 456.67H754.34V465.33H744.86zM934.45 456.67H943.93V465.33H934.45zM962.89 456.67H972.37V465.33H962.89zM981.85 456.67H991.33V465.33H981.85zM1067.16 456.67H1086.12V465.33H1067.16zM1095.6 456.67H1105.08V465.33H1095.6zM1180.92 456.67H1190.4V465.33H1180.92zM678.5 465.33H687.98V474H678.5zM754.34 465.33H763.82V474H754.34zM849.13 465.33H858.61V474H849.13zM792.26 474H801.74V482.67H792.26zM849.13 474H858.61V482.67H849.13zM896.53 474H906.01V482.67H896.53zM953.41 474H972.37V482.67H953.41zM1067.16 474H1095.6V482.67H1067.16zM697.46 482.67H706.94V491.33H697.46zM716.42 482.67H725.9V491.33H716.42zM754.34 482.67H763.82V491.33H754.34zM773.3 482.67H811.21V491.33H773.3zM820.69 482.67H849.13V491.33H820.69zM858.61 482.67H868.09V491.33H858.61zM1000.81 482.67H1010.29V491.33H1000.81zM1048.21 482.67H1067.16V491.33H1048.21zM1105.08 482.67H1114.56V491.33H1105.08zM1133.52 482.67H1143V491.33H1133.52zM716.42 491.33H735.38V500H716.42zM744.86 491.33H754.34V500H744.86zM782.78 491.33H792.26V500H782.78zM811.21 491.33H820.69V500H811.21zM858.61 491.33H868.09V500H858.61zM896.53 491.33H906.01V500H896.53zM981.85 491.33H991.33V500H981.85zM1019.77 491.33H1029.25V500H1019.77zM1038.73 491.33H1048.21V500H1038.73zM1124.04 491.33H1133.52V500H1124.04zM1143 491.33H1152.48V500H1143z"/>
<path fill="#40ffbf" d="M953.41 32H962.89V40.67H953.41zM972.37 32H981.85V40.67H972.37zM1010.29 32H1019.77V40.67H1010.29zM1180.92 32H1190.4V40.67H1180.92zM697.46 40.67H706.94V49.33H697.46zM735.38 40.67H754.34V49.33H735.38zM763.82 40.67H773.3V49.33H763.82zM972.37 40.67H981.85V49.33H972.37zM1000.81 40.67H1010.29V49.33H1000.81zM1152.48 40.67H1161.96V49.33H1152.48zM1180.92 40.67H1190.4V49.33H1180.92zM687.98 49.33H697.46V58H687.98zM735.38 49.33H744.86V58H735.38zM754.34 49.33H763.82V58H754.34zM773.3 49.33H782.78V58H773.3zM896.53 49.33H906.01V58H896.53zM1152.48 49.33H1161.96V58H1152.48zM1180.92 49.33H1190.4V58H1180.92zM896.53 58H906.01V66.67H896.53zM953.41 58H962.89V66.67H953.41zM981.85 58H991.33V66.67H981.85zM1010.29 58H1019.77V66.67H1010.29zM1152.48 58H1161.96V66.67H1152.48zM953.41 66.67H981.85V75.33H953.41zM1010.29 66.67H1019.77V75.33H1010.29zM1076.64 66.67H1086.12V75.33H1076.64zM1095.6 66.67H1105.08V75.33H1095.6zM1152.48 66.67H1161.96V75.33H1152.48zM972.37 75.33H991.33V84H972.37zM1010.29 75.33H1019.77V84H1010.29zM1038.73 75.33H1048.21V84H1038.73zM1095.6 75.33H1105.08V84H1095.6zM1152.48 75.33H1161.96V84H1152.48zM687.98 84H706.94V92.67H687.98zM830.17 84H839.65V92.67H830.17zM953.41 84H972.37V92.67H953.41zM1086.12 84H1105.08V92.67H1086.12zM1152.48 84H1161.96V92.67H1152.48zM1180.92 84H1190.4V92.67H1180.92zM687.98 92.67H697.46V101.33H687.98zM820.69 92.67H830.17V101.33H820.69zM858.61 92.67H868.09V101.33H858.61zM877.57 92.67H887.05V101.33H877.57zM962.89 92.67H981.85V101.33H962.89zM1019.77 92.67H1029.25V101.33H1019.77zM1095.6 92.67H1105.08V101.33H1095.6zM697.46 101.33H706.94V110H697.46zM849.13 101.33H858.61V110H849.13zM896.53 101.33H906.01V110H896.53zM687.98 110H697.46V118.67H687.98zM849.13 110H858.61V118.67H849.13zM915.49 110H924.97V118.67H915.49zM934.45 110H943.93V118.67H934.45zM953.41 110H962.89V118.67H953.41zM1010.29 110H1029.25V118.67H1010.29zM1086.12 110H1095.6V118.67H1086.12zM1180.92 110H1190.4V118.67H1180.92zM697.46 118.67H706.94V127.33H697.46zM962.89 118.67H972.37V127.33H962.89zM1086.12 118.67H1095.6V127.33H1086.12zM849.13 127.33H858.61V136H849.13zM896.53 127.33H906.01V136H896.53zM1067.16 127.33H1076.64V136H1067.16zM1152.48 136H1161.96V144.67H1152.48zM981.85 144.67H991.33V153.33H981.85zM1133.52 144.67H1143V153.33H1133.52zM1152.48 144.67H1161.96V153.33H1152.48zM1171.44 153.33H1180.92V162H1171.44zM744.86 162H754.34V170.67H744.86zM849.13 162H858.61V170.67H849.13zM981.85 162H1000.81V170.67H981.85zM1114.56 162H1124.04V170.67H1114.56zM1133.52 162H1152.48V170.67H1133.52zM1161.96 162H1171.44V170.67H1161.96zM735.38 170.67H744.86V179.33H735.38zM849.13 170.67H868.09V179.33H849.13zM981.85 170.67H991.33V179.33H981.85zM1114.56 170.67H1124.04V179.33H1114.56zM981.85 179.33H991.33V188H981.85zM1114.56 179.33H1124.04V188H1114.56zM754.34 188H773.3V196.67H754.34zM782.78 188H792.26V196.67H782.78zM820.69 188H839.65V196.67H820.69zM934.45 188H953.41V196.67H934.45zM991.33 188H1010.29V196.67H991.33zM1019.77 188H1029.25V196.67H1019.77zM1038.73 188H1048.21V196.67H1038.73zM1124.04 188H1133.52V196.67H1124.04zM1143 188H1152.48V196.67H1143zM744.86 196.67H754.34V205.33H744.86zM830.17 196.67H839.65V205.33H830.17zM1171.44 205.33H1180.92V214H1171.44zM744.86 214H754.34V222.67H744.86zM1171.44 222.67H1180.92V231.33H1171.44zM697.46 231.33H716.42V240H697.46zM754.34 231.33H763.82V240H754.34zM782.78 231.33H792.26V240H782.78zM915.49 231.33H924.97V240H915.49zM953.41 231.33H962.89V240H953.41zM991.33 231.33H1000.81V240H991.33zM1029.25 231.33H1038.73V240H1029.25zM1095.6 231.33H1105.08V240H1095.6zM1143 231.33H1152.48V240H1143zM1000.81 240H1010.29V248.67H1000.81zM1171.44 240H1180.92V248.67H1171.44zM763.82 248.67H773.3V257.33H763.82zM896.53 248.67H906.01V257.33H896.53zM1010.29 248.67H1019.77V257.33H1010.29zM1057.69 248.67H1067.16V257.33H1057.69zM972.37 257.33H981.85V266H972.37zM1010.29 257.33H1019.77V266H1010.29zM763.82 266H773.3V274.67H763.82zM849.13 266H858.61V274.67H849.13zM972.37 266H981.85V274.67H972.37zM1000.81 266H1010.29V274.67H1000.81zM1114.56 266H1124.04V274.67H1114.56zM1180.92 266H1190.4V274.67H1180.92zM849.13 274.67H858.61V283.33H849.13zM1171.44 274.67H1180.92V283.33H1171.44zM678.5 283.33H687.98V292H678.5zM706.94 283.33H725.9V292H706.94zM735.38 283.33H744.86V292H735.38zM763.82 283.33H773.3V292H763.82zM896.53 283.33H906.01V292H896.53zM972.37 283.33H991.33V292H972.37zM1000.81 283.33H1019.77V292H1000.81zM1038.73 283.33H1048.21V292H1038.73zM1105.08 283.33H1114.56V292H1105.08zM716.42 292H725.9V300.67H716.42zM735.38 292H754.34V300.67H735.38zM773.3 292H782.78V300.67H773.3zM972.37 292H1000.81V300.67H972.37zM1105.08 292H1114.56V300.67H1105.08zM1124.04 292H1133.52V300.67H1124.04zM1180.92 292H1190.4V300.67H1180.92zM678.5 300.67H697.46V309.33H678.5zM716.42 300.67H735.38V309.33H716.42zM744.86 300.67H754.34V309.33H744.86zM924.97 300.67H943.93V309.33H924.97zM953.41 300.67H972.37V309.33H953.41zM1057.69 300.67H1067.16V309.33H1057.69zM1076.64 300.67H1086.12V309.33H1076.64zM1095.6 300.67H1105.08V309.33H1095.6zM706.94 309.33H716.42V318H706.94zM725.9 309.33H735.38V318H725.9zM801.74 309.33H811.21V318H801.74zM820.69 309.33H849.13V318H820.69zM953.41 309.33H972.37V318H953.41zM1038.73 309.33H1048.21V318H1038.73zM1067.16 309.33H1095.6V318H1067.16zM1152.48 309.33H1161.96V318H1152.48zM1171.44 309.33H1180.92V318H1171.44zM820.69 318H830.17V326.67H820.69zM849.13 318H858.61V326.67H849.13zM896.53 318H906.01V326.67H896.53zM962.89 318H972.37V326.67H962.89zM1171.44 318H1180.92V326.67H1171.44zM687.98 326.67H697.46V335.33H687.98zM849.13 326.67H858.61V335.33H849.13zM906.01 326.67H915.49V335.33H906.01zM934.45 326.67H943.93V335.33H934.45zM953.41 326.67H962.89V335.33H953.41zM1076.64 326.67H1105.08V335.33H1076.64zM1180.92 326.67H1190.4V335.33H1180.92zM678.5 335.33H687.98V344H678.5zM706.94 335.33H735.38V344H706.94zM763.82 335.33H773.3V344H763.82zM915.49 335.33H934.45V344H915.49zM953.41 335.33H962.89V344H953.41zM1048.21 335.33H1057.69V344H1048.21zM1067.16 335.33H1076.64V344H1067.16zM1105.08 335.33H1114.56V344H1105.08zM744.86 344H754.34V352.67H744.86zM763.82 344H773.3V352.67H763.82zM849.13 344H858.61V352.67H849.13zM1067.16 344H1076.64V352.67H1067.16zM1171.44 344H1180.92V352.67H1171.44zM896.53 352.67H906.01V361.33H896.53zM1171.44 352.67H1180.92V361.33H1171.44zM725.9 361.33H735.38V370H725.9zM849.13 361.33H858.61V370H849.13zM953.41 361.33H962.89V370H953.41zM981.85 361.33H991.33V370H981.85zM1171.44 361.33H1180.92V370H1171.44zM1010.29 370H1019.77V378.67H1010.29zM1076.64 370H1086.12V378.67H1076.64zM1180.92 370H1190.4V378.67H1180.92zM915.49 378.67H924.97V387.33H915.49zM972.37 378.67H981.85V387.33H972.37zM1067.16 378.67H1076.64V387.33H1067.16zM1180.92 378.67H1190.4V387.33H1180.92zM782.78 387.33H792.26V396H782.78zM981.85 387.33H991.33V396H981.85zM1010.29 387.33H1029.25V396H1010.29zM1057.69 387.33H1067.16V396H1057.69zM1180.92 387.33H1190.4V396H1180.92zM716.42 396H725.9V404.67H716.42zM972.37 396H991.33V404.67H972.37zM1000.81 396H1010.29V404.67H1000.81zM1048.21 396H1057.69V404.67H1048.21zM735.38 404.67H744.86V413.33H735.38zM763.82 404.67H782.78V413.33H763.82zM981.85 404.67H991.33V413.33H981.85zM1000.81 404.67H1010.29V413.33H1000.81zM1133.52 404.67H1152.48V413.33H1133.52zM716.42 413.33H754.34V422H716.42zM896.53 413.33H906.01V422H896.53zM972.37 413.33H981.85V422H972.37zM1000.81 413.33H1010.29V422H1000.81zM1152.48 413.33H1161.96V422H1152.48zM953.41 422H972.37V430.67H953.41zM1010.29 422H1019.77V430.67H1010.29zM1152.48 422H1161.96V430.67H1152.48zM1180.92 422H1190.4V430.67H1180.92zM820.69 430.67H849.13V439.33H820.69zM934.45 430.67H943.93V439.33H934.45zM1171.44 430.67H1190.4V439.33H1171.44zM849.13 439.33H858.61V448H849.13zM962.89 439.33H972.37V448H962.89zM801.74 448H811.21V456.67H801.74zM820.69 448H830.17V456.67H820.69zM1086.12 448H1095.6V456.67H1086.12zM1180.92 448H1190.4V456.67H1180.92zM820.69 456.67H830.17V465.33H820.69zM849.13 456.67H858.61V465.33H849.13zM896.53 456.67H906.01V465.33H896.53zM1086.12 456.67H1095.6V465.33H1086.12zM1171.44 456.67H1180.92V465.33H1171.44zM687.98 465.33H744.86V474H687.98zM792.26 465.33H811.21V474H792.26zM981.85 465.33H991.33V474H981.85zM1095.6 465.33H1114.56V474H1095.6zM1180.92 465.33H1190.4V474H1180.92zM820.69 474H830.17V482.67H820.69zM1171.44 474H1180.92V482.67H1171.44zM811.21 482.67H820.69V491.33H811.21zM868.09 482.67H877.57V491.33H868.09zM887.05 482.67H896.53V491.33H887.05zM906.01 482.67H915.49V491.33H906.01zM943.93 482.67H953.41V491.33H943.93zM981.85 482.67H1000.81V491.33H981.85zM1019.77 482.67H1048.21V491.33H1019.77zM1114.56 482.67H1124.04V491.33H1114.56zM1143 482.67H1152.48V491.33H1143zM1161.96 482.67H1171.44V491.33H1161.96zM678.5 491.33H706.94V500H678.5zM735.38 491.33H744.86V500H735.38zM763.82 491.33H773.3V500H763.82zM934.45 491.33H943.93V500H934.45zM962.89 491.33H972.37V500H962.89zM1000.81 491.33H1010.29V500H1000.81zM1048.21 491.33H1076.64V500H1048.21zM1105.08 491.33H1124.04V500H1105.08zM1133.52 491.33H1143V500H1133.52zM1152.48 491.33H1161.96V500H1152.48z"/>
<path fill="#80ff80" d="M697.46 32H716.42V40.67H697.46zM725.9 32H735.38V40.67H725.9zM763.82 32H773.3V40.67H763.82zM782.78 32H792.26V40.67H782.78zM896.53 32H906.01V40.67H896.53zM943.93 32H953.41V40.67H943.93zM1000.81 32H1010.29V40.67H1000.81zM1048.21 32H1105.08V40.67H1048.21zM1171.44 32H1180.92V40.67H1171.44zM782.78 40.67H792.26V49.33H782.78zM896.53 40.67H906.01V49.33H896.53zM943.93 40.67H953.41V49.33H943.93zM962.89 40.67H972.37V49.33H962.89zM981.85 40.67H991.33V49.33H981.85zM1010.29 40.67H1029.25V49.33H1010.29zM1048.21 40.67H1067.16V49.33H1048.21zM678.5 49.33H687.98V58H678.5zM962.89 49.33H972.37V58H962.89zM1105.08 49.33H1114.56V58H1105.08zM678.5 58H687.98V66.67H678.5zM716.42 58H773.3V66.67H716.42zM1019.77 58H1029.25V66.67H1019.77zM1105.08 58H1114.56V66.67H1105.08zM1171.44 58H1180.92V66.67H1171.44zM706.94 66.67H716.42V75.33H706.94zM896.53 66.67H906.01V75.33H896.53zM934.45 66.67H943.93V75.33H934.45zM1086.12 66.67H1095.6V75.33H1086.12zM678.5 75.33H687.98V84H678.5zM706.94 75.33H716.42V84H706.94zM896.53 75.33H906.01V84H896.53zM962.89 75.33H972.37V84H962.89zM1000.81 75.33H1010.29V84H1000.81zM1086.12 75.33H1095.6V84H1086.12zM1105.08 75.33H1114.56V84H1105.08zM706.94 84H716.42V92.67H706.94zM792.26 84H801.74V92.67H792.26zM858.61 84H868.09V92.67H858.61zM896.53 84H906.01V92.67H896.53zM934.45 84H943.93V92.67H934.45zM972.37 84H981.85V92.67H972.37zM1000.81 84H1010.29V92.67H1000.81zM706.94 92.67H716.42V101.33H706.94zM773.3 92.67H782.78V101.33H773.3zM830.17 92.67H839.65V101.33H830.17zM849.13 92.67H858.61V101.33H849.13zM981.85 92.67H991.33V101.33H981.85zM1010.29 92.67H1019.77V101.33H1010.29zM1086.12 92.67H1095.6V101.33H1086.12zM706.94 101.33H716.42V110H706.94zM1000.81 101.33H1010.29V110H1000.81zM1048.21 101.33H1057.69V110H1048.21zM1067.16 101.33H1095.6V110H1067.16zM678.5 110H687.98V118.67H678.5zM706.94 110H716.42V118.67H706.94zM1105.08 110H1114.56V118.67H1105.08zM744.86 118.67H754.34V127.33H744.86zM1000.81 118.67H1010.29V127.33H1000.81zM1057.69 118.67H1067.16V127.33H1057.69zM1076.64 118.67H1086.12V127.33H1076.64zM678.5 127.33H697.46V136H678.5zM934.45 127.33H943.93V136H934.45zM953.41 127.33H962.89V136H953.41zM981.85 127.33H991.33V136H981.85zM1095.6 127.33H1105.08V136H1095.6zM1152.48 127.33H1161.96V136H1152.48zM735.38 136H744.86V144.67H735.38zM887.05 136H915.49V144.67H887.05zM991.33 136H1000.81V144.67H991.33zM1010.29 136H1019.77V144.67H1010.29zM1029.25 136H1048.21V144.67H1029.25zM1114.56 136H1133.52V144.67H1114.56zM1143 136H1152.48V144.67H1143zM896.53 144.67H915.49V153.33H896.53zM991.33 144.67H1000.81V153.33H991.33zM1010.29 144.67H1019.77V153.33H1010.29zM1029.25 144.67H1038.73V153.33H1029.25zM1114.56 144.67H1133.52V153.33H1114.56zM1143 144.67H1152.48V153.33H1143zM1161.96 144.67H1171.44V153.33H1161.96zM1152.48 153.33H1161.96V162H1152.48zM858.61 162H868.09V170.67H858.61zM1029.25 162H1038.73V170.67H1029.25zM1124.04 162H1133.52V170.67H1124.04zM1152.48 162H1161.96V170.67H1152.48zM744.86 170.67H754.34V179.33H744.86zM972.37 170.67H981.85V179.33H972.37zM1029.25 170.67H1038.73V179.33H1029.25zM1124.04 170.67H1143V179.33H1124.04zM1161.96 170.67H1171.44V179.33H1161.96zM849.13 179.33H858.61V188H849.13zM991.33 179.33H1000.81V188H991.33zM1029.25 179.33H1038.73V188H1029.25zM1124.04 179.33H1133.52V188H1124.04zM1152.48 179.33H1171.44V188H1152.48zM744.86 188H754.34V196.67H744.86zM839.65 188H849.13V196.67H839.65zM896.53 188H906.01V196.67H896.53zM1105.08 188H1114.56V196.67H1105.08zM735.38 196.67H744.86V205.33H735.38zM820.69 196.67H830.17V205.33H820.69zM896.53 196.67H906.01V205.33H896.53zM1152.48 196.67H1161.96V205.33H1152.48zM981.85 205.33H991.33V214H981.85zM1152.48 205.33H1161.96V214H1152.48zM896.53 214H906.01V222.67H896.53zM981.85 214H991.33V222.67H981.85zM1171.44 214H1180.92V222.67H1171.44zM792.26 222.67H801.74V231.33H792.26zM896.53 222.67H906.01V231.33H896.53zM981.85 222.67H991.33V231.33H981.85zM1152.48 222.67H1161.96V231.33H1152.48zM678.5 231.33H697.46V240H678.5zM716.42 231.33H744.86V240H716.42zM792.26 231.33H811.21V240H792.26zM849.13 231.33H868.09V240H849.13zM877.57 231.33H896.53V240H877.57zM924.97 231.33H934.45V240H924.97zM943.93 231.33H953.41V240H943.93zM981.85 231.33H991.33V240H981.85zM1038.73 231.33H1067.16V240H1038.73zM1076.64 231.33H1095.6V240H1076.64zM1105.08 231.33H1114.56V240H1105.08zM792.26 240H811.21V248.67H792.26zM981.85 240H991.33V248.67H981.85zM1152.48 240H1161.96V248.67H1152.48zM981.85 248.67H991.33V257.33H981.85zM1000.81 248.67H1010.29V257.33H1000.81zM1048.21 248.67H1057.69V257.33H1048.21zM1086.12 248.67H1105.08V257.33H1086.12zM1180.92 248.67H1190.4V257.33H1180.92zM896.53 257.33H906.01V266H896.53zM953.41 257.33H962.89V266H953.41zM981.85 257.33H991.33V266H981.85zM1152.48 257.33H1161.96V266H1152.48zM1171.44 257.33H1180.92V266H1171.44zM716.42 266H725.9V274.67H716.42zM735.38 266H744.86V274.67H735.38zM782.78 266H792.26V274.67H782.78zM943.93 266H953.41V274.67H943.93zM981.85 266H991.33V274.67H981.85zM1010.29 266H1019.77V274.67H1010.29zM1048.21 266H1067.16V274.67H1048.21zM1086.12 266H1105.08V274.67H1086.12zM1152.48 266H1161.96V274.67H1152.48zM678.5 274.67H697.46V283.33H678.5zM896.53 274.67H906.01V283.33H896.53zM934.45 274.67H943.93V283.33H934.45zM953.41 274.67H962.89V283.33H953.41zM981.85 274.67H991.33V283.33H981.85zM1067.16 274.67H1086.12V283.33H1067.16zM1152.48 274.67H1161.96V283.33H1152.48zM782.78 283.33H792.26V292H782.78zM924.97 283.33H934.45V292H924.97zM943.93 283.33H953.41V292H943.93zM962.89 283.33H972.37V292H962.89zM1019.77 283.33H1029.25V292H1019.77zM1048.21 283.33H1067.16V292H1048.21zM1086.12 283.33H1095.6V292H1086.12zM1143 283.33H1161.96V292H1143zM1171.44 283.33H1190.4V292H1171.44zM687.98 292H706.94V300.67H687.98zM725.9 292H735.38V300.67H725.9zM953.41 292H962.89V300.67H953.41zM1000.81 292H1010.29V300.67H1000.81zM1019.77 292H1029.25V300.67H1019.77zM1076.64 292H1105.08V300.67H1076.64zM1114.56 292H1124.04V300.67H1114.56zM1171.44 292H1180.92V300.67H1171.44zM735.38 300.67H744.86V309.33H735.38zM830.17 300.67H839.65V309.33H830.17zM1019.77 300.67H1029.25V309.33H1019.77zM1171.44 300.67H1180.92V309.33H1171.44zM687.98 309.33H697.46V318H687.98zM744.86 309.33H754.34V318H744.86zM782.78 309.33H792.26V318H782.78zM868.09 309.33H953.41V318H868.09zM1000.81 309.33H1019.77V318H1000.81zM1048.21 309.33H1067.16V318H1048.21zM792.26 318H811.21V326.67H792.26zM839.65 318H849.13V326.67H839.65zM678.5 326.67H687.98V335.33H678.5zM725.9 326.67H744.86V335.33H725.9zM754.34 326.67H763.82V335.33H754.34zM773.3 326.67H782.78V335.33H773.3zM915.49 326.67H924.97V335.33H915.49zM962.89 326.67H972.37V335.33H962.89zM981.85 326.67H991.33V335.33H981.85zM1067.16 326.67H1076.64V335.33H1067.16zM1105.08 326.67H1114.56V335.33H1105.08zM687.98 335.33H697.46V344H687.98zM744.86 335.33H754.34V344H744.86zM792.26 335.33H811.21V344H792.26zM934.45 335.33H943.93V344H934.45zM981.85 335.33H991.33V344H981.85zM1029.25 335.33H1038.73V344H1029.25zM1076.64 335.33H1086.12V344H1076.64zM1161.96 335.33H1171.44V344H1161.96zM687.98 344H697.46V352.67H687.98zM706.94 344H716.42V352.67H706.94zM953.41 344H981.85V352.67H953.41zM1057.69 344H1067.16V352.67H1057.69zM1076.64 344H1105.08V352.67H1076.64zM1114.56 344H1124.04V352.67H1114.56zM792.26 352.67H811.21V361.33H792.26zM820.69 352.67H849.13V361.33H820.69zM1010.29 352.67H1019.77V361.33H1010.29zM792.26 361.33H801.74V370H792.26zM896.53 361.33H906.01V370H896.53zM678.5 370H697.46V378.67H678.5zM754.34 370H763.82V378.67H754.34zM896.53 370H906.01V378.67H896.53zM915.49 370H924.97V378.67H915.49zM934.45 370H943.93V378.67H934.45zM953.41 370H962.89V378.67H953.41zM981.85 370H991.33V378.67H981.85zM678.5 378.67H697.46V387.33H678.5zM773.3 378.67H782.78V387.33H773.3zM896.53 378.67H906.01V387.33H896.53zM934.45 378.67H943.93V387.33H934.45zM953.41 378.67H962.89V387.33H953.41zM981.85 378.67H991.33V387.33H981.85zM1019.77 378.67H1029.25V387.33H1019.77zM1152.48 378.67H1161.96V387.33H1152.48zM678.5 387.33H687.98V396H678.5zM754.34 387.33H763.82V396H754.34zM943.93 387.33H953.41V396H943.93zM1000.81 387.33H1010.29V396H1000.81zM1086.12 387.33H1095.6V396H1086.12zM1105.08 387.33H1114.56V396H1105.08zM1152.48 387.33H1161.96V396H1152.48zM678.5 396H687.98V404.67H678.5zM754.34 396H763.82V404.67H754.34zM773.3 396H782.78V404.67H773.3zM896.53 396H906.01V404.67H896.53zM943.93 396H953.41V404.67H943.93zM962.89 396H972.37V404.67H962.89zM1010.29 396H1029.25V404.67H1010.29zM1105.08 396H1114.56V404.67H1105.08zM1152.48 396H1161.96V404.67H1152.48zM678.5 404.67H687.98V413.33H678.5zM716.42 404.67H735.38V413.33H716.42zM744.86 404.67H763.82V413.33H744.86zM896.53 404.67H906.01V413.33H896.53zM915.49 404.67H924.97V413.33H915.49zM934.45 404.67H943.93V413.33H934.45zM953.41 404.67H972.37V413.33H953.41zM1019.77 404.67H1029.25V413.33H1019.77zM1067.16 404.67H1076.64V413.33H1067.16zM1105.08 404.67H1114.56V413.33H1105.08zM1152.48 404.67H1161.96V413.33H1152.48zM1171.44 404.67H1180.92V413.33H1171.44zM678.5 413.33H687.98V422H678.5zM782.78 413.33H792.26V422H782.78zM915.49 413.33H924.97V422H915.49zM934.45 413.33H943.93V422H934.45zM962.89 413.33H972.37V422H962.89zM1019.77 413.33H1029.25V422H1019.77zM1105.08 413.33H1114.56V422H1105.08zM697.46 422H716.42V430.67H697.46zM725.9 422H735.38V430.67H725.9zM763.82 422H773.3V430.67H763.82zM849.13 422H858.61V430.67H849.13zM896.53 422H906.01V430.67H896.53zM1000.81 422H1010.29V430.67H1000.81zM1067.16 422H1105.08V430.67H1067.16zM792.26 430.67H811.21V439.33H792.26zM962.89 430.67H972.37V439.33H962.89zM1019.77 430.67H1029.25V439.33H1019.77zM1152.48 430.67H1161.96V439.33H1152.48zM792.26 439.33H811.21V448H792.26zM820.69 439.33H849.13V448H820.69zM1171.44 439.33H1180.92V448H1171.44zM830.17 448H839.65V456.67H830.17zM792.26 456.67H811.21V465.33H792.26zM953.41 456.67H962.89V465.33H953.41zM782.78 465.33H792.26V474H782.78zM811.21 465.33H830.17V474H811.21zM839.65 465.33H849.13V474H839.65zM858.61 465.33H877.57V474H858.61zM887.05 465.33H896.53V474H887.05zM906.01 465.33H915.49V474H906.01zM924.97 465.33H962.89V474H924.97zM1057.69 465.33H1095.6V474H1057.69zM1114.56 465.33H1124.04V474H1114.56zM801.74 474H811.21V482.67H801.74zM830.17 474H849.13V482.67H830.17zM1010.29 474H1019.77V482.67H1010.29zM678.5 482.67H687.98V491.33H678.5zM706.94 482.67H716.42V491.33H706.94zM877.57 482.67H887.05V491.33H877.57zM924.97 482.67H934.45V491.33H924.97zM953.41 482.67H981.85V491.33H953.41zM1086.12 482.67H1095.6V491.33H1086.12zM1124.04 482.67H1133.52V491.33H1124.04zM915.49 491.33H924.97V500H915.49zM953.41 491.33H962.89V500H953.41z"/>
<path fill="#b3ff4c" d="M744.86 32H754.34V40.67H744.86zM773.3 32H782.78V40.67H773.3zM924.97 32H943.93V40.67H924.97zM981.85 32H991.33V40.67H981.85zM1019.77 32H1029.25V40.67H1019.77zM706.94 40.67H725.9V49.33H706.94zM754.34 40.67H763.82V49.33H754.34zM773.3 40.67H782.78V49.33H773.3zM924.97 40.67H934.45V49.33H924.97zM953.41 40.67H962.89V49.33H953.41zM1086.12 40.67H1114.56V49.33H1086.12zM716.42 49.33H725.9V58H716.42zM1000.81 49.33H1010.29V58H1000.81zM1095.6 49.33H1105.08V58H1095.6zM687.98 58H697.46V66.67H687.98zM773.3 58H782.78V66.67H773.3zM915.49 58H924.97V66.67H915.49zM934.45 58H943.93V66.67H934.45zM962.89 58H972.37V66.67H962.89zM1000.81 58H1010.29V66.67H1000.81zM1048.21 58H1057.69V66.67H1048.21zM1067.16 58H1086.12V66.67H1067.16zM687.98 66.67H706.94V75.33H687.98zM849.13 66.67H858.61V75.33H849.13zM915.49 66.67H924.97V75.33H915.49zM981.85 66.67H991.33V75.33H981.85zM1000.81 66.67H1010.29V75.33H1000.81zM1019.77 66.67H1029.25V75.33H1019.77zM1048.21 66.67H1067.16V75.33H1048.21zM735.38 75.33H744.86V84H735.38zM725.9 84H735.38V92.67H725.9zM915.49 84H934.45V92.67H915.49zM943.93 84H953.41V92.67H943.93zM1057.69 84H1067.16V92.67H1057.69zM678.5 92.67H687.98V101.33H678.5zM754.34 92.67H763.82V101.33H754.34zM792.26 92.67H801.74V101.33H792.26zM943.93 92.67H953.41V101.33H943.93zM1000.81 92.67H1010.29V101.33H1000.81zM1105.08 92.67H1114.56V101.33H1105.08zM1152.48 92.67H1161.96V101.33H1152.48zM687.98 101.33H697.46V110H687.98zM744.86 101.33H754.34V110H744.86zM782.78 101.33H792.26V110H782.78zM924.97 101.33H953.41V110H924.97zM1057.69 101.33H1067.16V110H1057.69zM773.3 110H782.78V118.67H773.3zM896.53 110H906.01V118.67H896.53zM962.89 110H972.37V118.67H962.89zM981.85 110H991.33V118.67H981.85zM1152.48 110H1161.96V118.67H1152.48zM678.5 118.67H697.46V127.33H678.5zM706.94 118.67H716.42V127.33H706.94zM763.82 118.67H773.3V127.33H763.82zM943.93 118.67H953.41V127.33H943.93zM981.85 118.67H991.33V127.33H981.85zM1048.21 118.67H1057.69V127.33H1048.21zM754.34 127.33H763.82V136H754.34zM915.49 127.33H924.97V136H915.49zM1019.77 127.33H1029.25V136H1019.77zM1086.12 127.33H1095.6V136H1086.12zM1105.08 127.33H1114.56V136H1105.08zM744.86 136H754.34V144.67H744.86zM877.57 136H887.05V144.67H877.57zM981.85 136H991.33V144.67H981.85zM830.17 144.67H839.65V153.33H830.17zM849.13 144.67H868.09V153.33H849.13zM887.05 144.67H896.53V153.33H887.05zM1038.73 144.67H1048.21V153.33H1038.73zM896.53 153.33H906.01V162H896.53zM1010.29 153.33H1019.77V162H1010.29zM1124.04 153.33H1152.48V162H1124.04zM1161.96 153.33H1171.44V162H1161.96zM896.53 162H915.49V170.67H896.53zM972.37 162H981.85V170.67H972.37zM1010.29 162H1019.77V170.67H1010.29zM801.74 170.67H811.21V179.33H801.74zM991.33 170.67H1000.81V179.33H991.33zM1143 170.67H1152.48V179.33H1143zM858.61 179.33H868.09V188H858.61zM896.53 179.33H906.01V188H896.53zM972.37 179.33H981.85V188H972.37zM1133.52 179.33H1143V188H1133.52zM716.42 188H725.9V196.67H716.42zM801.74 188H811.21V196.67H801.74zM868.09 188H896.53V196.67H868.09zM906.01 188H915.49V196.67H906.01zM1010.29 188H1019.77V196.67H1010.29zM1114.56 188H1124.04V196.67H1114.56zM801.74 196.67H811.21V205.33H801.74zM839.65 196.67H849.13V205.33H839.65zM1161.96 196.67H1171.44V205.33H1161.96zM849.13 205.33H858.61V214H849.13zM896.53 205.33H906.01V214H896.53zM1010.29 205.33H1019.77V214H1010.29zM1114.56 205.33H1124.04V214H1114.56zM792.26 214H801.74V222.67H792.26zM849.13 214H858.61V222.67H849.13zM1152.48 214H1161.96V222.67H1152.48zM801.74 222.67H811.21V231.33H801.74zM849.13 222.67H858.61V231.33H849.13zM763.82 231.33H773.3V240H763.82zM811.21 231.33H830.17V240H811.21zM839.65 231.33H849.13V240H839.65zM868.09 231.33H877.57V240H868.09zM972.37 231.33H981.85V240H972.37zM1067.16 231.33H1076.64V240H1067.16zM1171.44 231.33H1180.92V240H1171.44zM820.69 240H830.17V248.67H820.69zM849.13 240H858.61V248.67H849.13zM1029.25 240H1038.73V248.67H1029.25zM1114.56 240H1133.52V248.67H1114.56zM1161.96 240H1171.44V248.67H1161.96zM706.94 248.67H725.9V257.33H706.94zM735.38 248.67H744.86V257.33H735.38zM782.78 248.67H792.26V257.33H782.78zM924.97 248.67H934.45V257.33H924.97zM943.93 248.67H953.41V257.33H943.93zM962.89 248.67H972.37V257.33H962.89zM1019.77 248.67H1029.25V257.33H1019.77zM1152.48 248.67H1161.96V257.33H1152.48zM1171.44 248.67H1180.92V257.33H1171.44zM678.5 257.33H697.46V266H678.5zM735.38 257.33H744.86V266H735.38zM754.34 257.33H763.82V266H754.34zM915.49 257.33H924.97V266H915.49zM934.45 257.33H943.93V266H934.45zM1019.77 257.33H1029.25V266H1019.77zM1067.16 257.33H1086.12V266H1067.16zM1180.92 257.33H1190.4V266H1180.92zM678.5 266H687.98V274.67H678.5zM706.94 266H716.42V274.67H706.94zM754.34 266H763.82V274.67H754.34zM924.97 266H934.45V274.67H924.97zM962.89 266H972.37V274.67H962.89zM1067.16 266H1076.64V274.67H1067.16zM1171.44 266H1180.92V274.67H1171.44zM735.38 274.67H763.82V283.33H735.38zM773.3 274.67H782.78V283.33H773.3zM915.49 274.67H924.97V283.33H915.49zM1019.77 274.67H1029.25V283.33H1019.77zM1086.12 274.67H1114.56V283.33H1086.12zM1180.92 274.67H1190.4V283.33H1180.92zM687.98 283.33H697.46V292H687.98zM1076.64 283.33H1086.12V292H1076.64zM1095.6 283.33H1105.08V292H1095.6zM1114.56 283.33H1124.04V292H1114.56zM706.94 292H716.42V300.67H706.94zM763.82 292H773.3V300.67H763.82zM915.49 292H924.97V300.67H915.49zM934.45 292H943.93V300.67H934.45zM1057.69 292H1067.16V300.67H1057.69zM820.69 300.67H830.17V309.33H820.69zM839.65 300.67H849.13V309.33H839.65zM896.53 300.67H906.01V309.33H896.53zM1152.48 300.67H1161.96V309.33H1152.48zM678.5 309.33H687.98V318H678.5zM716.42 309.33H725.9V318H716.42zM763.82 309.33H782.78V318H763.82zM792.26 309.33H801.74V318H792.26zM1105.08 309.33H1124.04V318H1105.08zM830.17 318H839.65V326.67H830.17zM1152.48 318H1161.96V326.67H1152.48zM697.46 326.67H725.9V335.33H697.46zM744.86 326.67H754.34V335.33H744.86zM1057.69 326.67H1067.16V335.33H1057.69zM1152.48 326.67H1161.96V335.33H1152.48zM811.21 335.33H830.17V344H811.21zM849.13 335.33H858.61V344H849.13zM868.09 335.33H877.57V344H868.09zM1114.56 335.33H1143V344H1114.56zM1171.44 335.33H1180.92V344H1171.44zM678.5 344H687.98V352.67H678.5zM716.42 344H725.9V352.67H716.42zM782.78 344H792.26V352.67H782.78zM915.49 344H934.45V352.67H915.49zM943.93 344H953.41V352.67H943.93zM1048.21 344H1057.69V352.67H1048.21zM906.01 352.67H915.49V361.33H906.01zM1152.48 352.67H1161.96V361.33H1152.48zM801.74 361.33H811.21V370H801.74zM1152.48 361.33H1161.96V370H1152.48zM706.94 370H725.9V378.67H706.94zM773.3 370H782.78V378.67H773.3zM1019.77 370H1029.25V378.67H1019.77zM1086.12 370H1114.56V378.67H1086.12zM1152.48 370H1161.96V378.67H1152.48zM716.42 378.67H725.9V387.33H716.42zM735.38 378.67H744.86V387.33H735.38zM754.34 378.67H763.82V387.33H754.34zM962.89 378.67H972.37V387.33H962.89zM1000.81 378.67H1010.29V387.33H1000.81zM1086.12 378.67H1114.56V387.33H1086.12zM706.94 387.33H716.42V396H706.94zM896.53 387.33H906.01V396H896.53zM924.97 387.33H943.93V396H924.97zM1095.6 387.33H1105.08V396H1095.6zM706.94 396H716.42V404.67H706.94zM924.97 396H934.45V404.67H924.97zM953.41 396H962.89V404.67H953.41zM1086.12 396H1095.6V404.67H1086.12zM687.98 404.67H697.46V413.33H687.98zM782.78 404.67H792.26V413.33H782.78zM943.93 404.67H953.41V413.33H943.93zM1048.21 404.67H1067.16V413.33H1048.21zM1076.64 404.67H1086.12V413.33H1076.64zM687.98 413.33H706.94V422H687.98zM943.93 413.33H962.89V422H943.93zM1048.21 413.33H1076.64V422H1048.21zM687.98 422H697.46V430.67H687.98zM744.86 422H754.34V430.67H744.86zM782.78 422H792.26V430.67H782.78zM943.93 422H953.41V430.67H943.93zM981.85 422H991.33V430.67H981.85zM1048.21 422H1067.16V430.67H1048.21zM849.13 430.67H858.61V439.33H849.13zM868.09 430.67H877.57V439.33H868.09zM906.01 430.67H915.49V439.33H906.01zM953.41 430.67H962.89V439.33H953.41zM981.85 430.67H991.33V439.33H981.85zM1010.29 430.67H1019.77V439.33H1010.29zM1133.52 430.67H1143V439.33H1133.52zM811.21 439.33H820.69V448H811.21zM906.01 439.33H915.49V448H906.01zM1010.29 439.33H1019.77V448H1010.29zM811.21 448H820.69V456.67H811.21zM839.65 448H849.13V456.67H839.65zM1010.29 448H1019.77V456.67H1010.29zM1114.56 448H1124.04V456.67H1114.56zM1152.48 448H1161.96V456.67H1152.48zM811.21 456.67H820.69V465.33H811.21zM830.17 456.67H839.65V465.33H830.17zM744.86 465.33H754.34V474H744.86zM763.82 465.33H773.3V474H763.82zM877.57 465.33H887.05V474H877.57zM915.49 465.33H924.97V474H915.49zM972.37 465.33H981.85V474H972.37zM991.33 465.33H1010.29V474H991.33zM1029.25 465.33H1057.69V474H1029.25zM1133.52 465.33H1143V474H1133.52zM1161.96 465.33H1180.92V474H1161.96zM811.21 474H820.69V482.67H811.21zM858.61 474H868.09V482.67H858.61zM906.01 474H915.49V482.67H906.01zM1152.48 474H1161.96V482.67H1152.48zM896.53 482.67H906.01V491.33H896.53zM915.49 482.67H924.97V491.33H915.49zM934.45 482.67H943.93V491.33H934.45zM1010.29 482.67H1019.77V491.33H1010.29zM1152.48 482.67H1161.96V491.33H1152.48zM1180.92 482.67H1190.4V491.33H1180.92zM924.97 491.33H934.45V500H924.97zM943.93 491.33H953.41V500H943.93zM1171.44 491.33H1180.92V500H1171.44z"/>
<path fill="#ffff00" d="M735.38 32H744.86V40.67H735.38zM934.45 40.67H943.93V49.33H934.45zM763.82 49.33H773.3V58H763.82zM782.78 49.33H792.26V58H782.78zM943.93 49.33H953.41V58H943.93zM1048.21 49.33H1057.69V58H1048.21zM1086.12 49.33H1095.6V58H1086.12zM782.78 58H792.26V66.67H782.78zM1057.69 58H1067.16V66.67H1057.69zM1180.92 58H1190.4V66.67H1180.92zM725.9 66.67H735.38V75.33H725.9zM744.86 66.67H754.34V75.33H744.86zM763.82 66.67H782.78V75.33H763.82zM943.93 66.67H953.41V75.33H943.93zM716.42 75.33H725.9V84H716.42zM782.78 75.33H792.26V84H782.78zM943.93 75.33H953.41V84H943.93zM1048.21 75.33H1057.69V84H1048.21zM678.5 84H687.98V92.67H678.5zM849.13 84H858.61V92.67H849.13zM1048.21 84H1057.69V92.67H1048.21zM716.42 92.67H725.9V101.33H716.42zM896.53 92.67H906.01V101.33H896.53zM924.97 92.67H934.45V101.33H924.97zM1048.21 92.67H1057.69V101.33H1048.21zM763.82 101.33H773.3V110H763.82zM915.49 101.33H924.97V110H915.49zM697.46 110H706.94V118.67H697.46zM716.42 110H725.9V118.67H716.42zM754.34 110H763.82V118.67H754.34zM716.42 118.67H725.9V127.33H716.42zM924.97 118.67H934.45V127.33H924.97zM697.46 127.33H716.42V136H697.46zM725.9 127.33H735.38V136H725.9zM839.65 136H849.13V144.67H839.65zM868.09 136H877.57V144.67H868.09zM839.65 144.67H849.13V153.33H839.65zM877.57 144.67H887.05V153.33H877.57zM972.37 144.67H981.85V153.33H972.37zM830.17 153.33H839.65V162H830.17zM849.13 153.33H858.61V162H849.13zM906.01 153.33H915.49V162H906.01zM981.85 153.33H1000.81V162H981.85zM1114.56 153.33H1124.04V162H1114.56zM877.57 162H896.53V170.67H877.57zM1038.73 162H1048.21V170.67H1038.73zM811.21 170.67H820.69V179.33H811.21zM868.09 170.67H896.53V179.33H868.09zM1010.29 170.67H1019.77V179.33H1010.29zM1152.48 170.67H1161.96V179.33H1152.48zM792.26 179.33H811.21V188H792.26zM1010.29 179.33H1019.77V188H1010.29zM1143 179.33H1152.48V188H1143zM735.38 188H744.86V196.67H735.38zM811.21 188H820.69V196.67H811.21zM1010.29 196.67H1019.77V205.33H1010.29zM1133.52 196.67H1152.48V205.33H1133.52zM792.26 205.33H801.74V214H792.26zM830.17 205.33H839.65V214H830.17zM906.01 205.33H915.49V214H906.01zM1161.96 205.33H1171.44V214H1161.96zM801.74 214H811.21V222.67H801.74zM820.69 214H839.65V222.67H820.69zM1010.29 214H1019.77V222.67H1010.29zM820.69 222.67H839.65V231.33H820.69zM1010.29 222.67H1019.77V231.33H1010.29zM1114.56 222.67H1133.52V231.33H1114.56zM744.86 231.33H754.34V240H744.86zM811.21 240H820.69V248.67H811.21zM868.09 240H877.57V248.67H868.09zM1133.52 240H1143V248.67H1133.52zM754.34 248.67H763.82V257.33H754.34zM953.41 248.67H962.89V257.33H953.41zM1067.16 248.67H1076.64V257.33H1067.16zM744.86 257.33H754.34V266H744.86zM773.3 257.33H782.78V266H773.3zM1105.08 257.33H1114.56V266H1105.08zM687.98 266H697.46V274.67H687.98zM1105.08 266H1114.56V274.67H1105.08zM697.46 274.67H706.94V283.33H697.46zM716.42 274.67H735.38V283.33H716.42zM915.49 283.33H924.97V292H915.49zM1067.16 283.33H1076.64V292H1067.16zM1152.48 292H1161.96V300.67H1152.48zM801.74 300.67H811.21V309.33H801.74zM811.21 309.33H820.69V318H811.21zM811.21 318H820.69V326.67H811.21zM1010.29 318H1019.77V326.67H1010.29zM830.17 335.33H849.13V344H830.17zM858.61 335.33H868.09V344H858.61zM877.57 335.33H896.53V344H877.57zM991.33 335.33H1000.81V344H991.33zM1105.08 344H1114.56V352.67H1105.08zM820.69 361.33H830.17V370H820.69zM697.46 370H706.94V378.67H697.46zM725.9 370H754.34V378.67H725.9zM706.94 378.67H716.42V387.33H706.94zM915.49 387.33H924.97V396H915.49zM953.41 387.33H962.89V396H953.41zM1180.92 396H1190.4V404.67H1180.92zM697.46 404.67H706.94V413.33H697.46zM1171.44 413.33H1180.92V422H1171.44zM924.97 422H943.93V430.67H924.97zM1019.77 422H1029.25V430.67H1019.77zM811.21 430.67H820.69V439.33H811.21zM887.05 430.67H896.53V439.33H887.05zM887.05 439.33H896.53V448H887.05zM1152.48 439.33H1161.96V448H1152.48zM858.61 448H868.09V456.67H858.61zM906.01 448H915.49V456.67H906.01zM839.65 456.67H849.13V465.33H839.65zM858.61 456.67H868.09V465.33H858.61zM830.17 465.33H839.65V474H830.17zM962.89 465.33H972.37V474H962.89zM1124.04 465.33H1133.52V474H1124.04zM868.09 474H877.57V482.67H868.09zM1095.6 482.67H1105.08V491.33H1095.6zM706.94 491.33H716.42V500H706.94zM1076.64 491.33H1086.12V500H1076.64z"/>
<path fill="#ffbf00" d="M687.98 32H697.46V40.67H687.98zM754.34 32H763.82V40.67H754.34zM678.5 40.67H687.98V49.33H678.5zM1171.44 40.67H1180.92V49.33H1171.44zM744.86 49.33H754.34V58H744.86zM924.97 49.33H934.45V58H924.97zM943.93 58H953.41V66.67H943.93zM782.78 66.67H792.26V75.33H782.78zM924.97 66.67H934.45V75.33H924.97zM924.97 75.33H934.45V84H924.97zM763.82 84H792.26V92.67H763.82zM981.85 84H991.33V92.67H981.85zM1019.77 84H1029.25V92.67H1019.77zM1105.08 84H1114.56V92.67H1105.08zM697.46 92.67H706.94V101.33H697.46zM782.78 92.67H792.26V101.33H782.78zM1057.69 92.67H1067.16V101.33H1057.69zM678.5 101.33H687.98V110H678.5zM981.85 101.33H991.33V110H981.85zM735.38 110H744.86V118.67H735.38zM735.38 118.67H744.86V127.33H735.38zM782.78 118.67H792.26V127.33H782.78zM915.49 118.67H924.97V127.33H915.49zM934.45 118.67H943.93V127.33H934.45zM716.42 127.33H725.9V136H716.42zM735.38 127.33H754.34V136H735.38zM773.3 127.33H782.78V136H773.3zM962.89 127.33H972.37V136H962.89zM801.74 136H811.21V144.67H801.74zM820.69 136H839.65V144.67H820.69zM849.13 136H868.09V144.67H849.13zM972.37 136H981.85V144.67H972.37zM792.26 144.67H801.74V153.33H792.26zM820.69 153.33H830.17V162H820.69zM839.65 153.33H849.13V162H839.65zM1038.73 153.33H1048.21V162H1038.73zM792.26 162H801.74V170.67H792.26zM811.21 162H820.69V170.67H811.21zM792.26 170.67H801.74V179.33H792.26zM906.01 170.67H915.49V179.33H906.01zM1038.73 170.67H1048.21V179.33H1038.73zM811.21 179.33H820.69V188H811.21zM877.57 179.33H887.05V188H877.57zM792.26 188H801.74V196.67H792.26zM792.26 196.67H801.74V205.33H792.26zM868.09 196.67H877.57V205.33H868.09zM981.85 196.67H1000.81V205.33H981.85zM858.61 205.33H868.09V214H858.61zM1124.04 205.33H1152.48V214H1124.04zM839.65 214H849.13V222.67H839.65zM1114.56 214H1124.04V222.67H1114.56zM1143 214H1152.48V222.67H1143zM1029.25 222.67H1038.73V231.33H1029.25zM1161.96 222.67H1171.44V231.33H1161.96zM906.01 231.33H915.49V240H906.01zM1152.48 231.33H1161.96V240H1152.48zM830.17 240H839.65V248.67H830.17zM896.53 240H906.01V248.67H896.53zM972.37 240H981.85V248.67H972.37zM773.3 248.67H782.78V257.33H773.3zM697.46 257.33H706.94V266H697.46zM716.42 257.33H735.38V266H716.42zM962.89 257.33H972.37V266H962.89zM1000.81 257.33H1010.29V266H1000.81zM1048.21 257.33H1057.69V266H1048.21zM1086.12 257.33H1105.08V266H1086.12zM773.3 266H782.78V274.67H773.3zM953.41 266H962.89V274.67H953.41zM1019.77 266H1029.25V274.67H1019.77zM1076.64 266H1086.12V274.67H1076.64zM706.94 274.67H716.42V283.33H706.94zM1000.81 274.67H1010.29V283.33H1000.81zM934.45 283.33H943.93V292H934.45zM782.78 292H792.26V300.67H782.78zM924.97 292H934.45V300.67H924.97zM1048.21 292H1057.69V300.67H1048.21zM792.26 300.67H801.74V309.33H792.26zM906.01 300.67H915.49V309.33H906.01zM991.33 300.67H1000.81V309.33H991.33zM1010.29 300.67H1019.77V309.33H1010.29zM1133.52 300.67H1143V309.33H1133.52zM1161.96 300.67H1171.44V309.33H1161.96zM735.38 309.33H744.86V318H735.38zM754.34 309.33H763.82V318H754.34zM858.61 309.33H868.09V318H858.61zM858.61 318H868.09V326.67H858.61zM972.37 318H981.85V326.67H972.37zM1114.56 318H1124.04V326.67H1114.56zM924.97 326.67H934.45V335.33H924.97zM943.93 326.67H953.41V335.33H943.93zM1010.29 326.67H1019.77V335.33H1010.29zM972.37 335.33H981.85V344H972.37zM1000.81 335.33H1010.29V344H1000.81zM1038.73 335.33H1048.21V344H1038.73zM735.38 344H744.86V352.67H735.38zM934.45 344H943.93V352.67H934.45zM887.05 352.67H896.53V361.33H887.05zM1114.56 352.67H1124.04V361.33H1114.56zM811.21 361.33H820.69V370H811.21zM830.17 361.33H839.65V370H830.17zM1010.29 361.33H1019.77V370H1010.29zM1114.56 361.33H1124.04V370H1114.56zM924.97 370H934.45V378.67H924.97zM962.89 370H972.37V378.67H962.89zM1057.69 370H1067.16V378.67H1057.69zM744.86 378.67H754.34V387.33H744.86zM1048.21 378.67H1057.69V387.33H1048.21zM934.45 396H943.93V404.67H934.45zM1095.6 396H1105.08V404.67H1095.6zM924.97 404.67H934.45V413.33H924.97zM1180.92 404.67H1190.4V413.33H1180.92zM924.97 413.33H934.45V422H924.97zM1076.64 413.33H1086.12V422H1076.64zM735.38 422H744.86V430.67H735.38zM877.57 430.67H887.05V439.33H877.57zM991.33 430.67H1000.81V439.33H991.33zM1029.25 430.67H1048.21V439.33H1029.25zM1143 430.67H1152.48V439.33H1143zM1161.96 430.67H1171.44V439.33H1161.96zM868.09 439.33H877.57V448H868.09zM868.09 448H877.57V456.67H868.09zM972.37 448H981.85V456.67H972.37zM868.09 456.67H887.05V465.33H868.09zM1114.56 456.67H1124.04V465.33H1114.56zM1152.48 456.67H1161.96V465.33H1152.48zM896.53 465.33H906.01V474H896.53zM1143 465.33H1152.48V474H1143zM887.05 474H896.53V482.67H887.05zM972.37 474H981.85V482.67H972.37zM1114.56 474H1124.04V482.67H1114.56zM687.98 482.67H697.46V491.33H687.98zM1086.12 491.33H1095.6V500H1086.12z"/>
<path fill="#ff8000" d="M915.49 32H924.97V40.67H915.49zM706.94 49.33H716.42V58H706.94zM697.46 58H706.94V66.67H697.46zM924.97 58H934.45V66.67H924.97zM754.34 66.67H763.82V75.33H754.34zM716.42 101.33H725.9V110H716.42zM1019.77 101.33H1029.25V110H1019.77zM1105.08 101.33H1114.56V110H1105.08zM924.97 110H934.45V118.67H924.97zM1057.69 110H1067.16V118.67H1057.69zM1000.81 127.33H1010.29V136H1000.81zM811.21 136H820.69V144.67H811.21zM811.21 144.67H820.69V153.33H811.21zM792.26 153.33H811.21V162H792.26zM887.05 153.33H896.53V162H887.05zM1029.25 153.33H1038.73V162H1029.25zM896.53 170.67H906.01V179.33H896.53zM868.09 179.33H877.57V188H868.09zM1038.73 179.33H1048.21V188H1038.73zM906.01 196.67H915.49V205.33H906.01zM1029.25 196.67H1048.21V205.33H1029.25zM1114.56 196.67H1133.52V205.33H1114.56zM839.65 205.33H849.13V214H839.65zM972.37 205.33H981.85V214H972.37zM1029.25 205.33H1038.73V214H1029.25zM906.01 214H915.49V222.67H906.01zM1124.04 214H1133.52V222.67H1124.04zM811.21 222.67H820.69V231.33H811.21zM972.37 222.67H981.85V231.33H972.37zM830.17 231.33H839.65V240H830.17zM1000.81 231.33H1010.29V240H1000.81zM858.61 240H868.09V248.67H858.61zM877.57 240H887.05V248.67H877.57zM991.33 240H1000.81V248.67H991.33zM678.5 248.67H687.98V257.33H678.5zM706.94 257.33H716.42V266H706.94zM763.82 257.33H773.3V266H763.82zM868.09 300.67H877.57V309.33H868.09zM887.05 300.67H896.53V309.33H887.05zM1143 300.67H1152.48V309.33H1143zM906.01 318H915.49V326.67H906.01zM1124.04 318H1133.52V326.67H1124.04zM782.78 326.67H792.26V335.33H782.78zM896.53 326.67H906.01V335.33H896.53zM754.34 344H763.82V352.67H754.34zM811.21 352.67H820.69V361.33H811.21zM858.61 352.67H877.57V361.33H858.61zM1143 352.67H1152.48V361.33H1143zM839.65 361.33H849.13V370H839.65zM858.61 361.33H868.09V370H858.61zM763.82 378.67H773.3V387.33H763.82zM1171.44 387.33H1180.92V396H1171.44zM754.34 422H763.82V430.67H754.34zM858.61 430.67H868.09V439.33H858.61zM858.61 439.33H868.09V448H858.61zM877.57 439.33H887.05V448H877.57zM991.33 439.33H1000.81V448H991.33zM1133.52 439.33H1143V448H1133.52zM1124.04 448H1133.52V456.67H1124.04zM972.37 456.67H981.85V465.33H972.37zM1029.25 456.67H1038.73V465.33H1029.25zM1161.96 456.67H1171.44V465.33H1161.96zM1143 474H1152.48V482.67H1143zM1067.16 482.67H1076.64V491.33H1067.16z"/>
<path fill="#ff4000" d="M716.42 32H725.9V40.67H716.42zM915.49 40.67H924.97V49.33H915.49zM725.9 49.33H735.38V58H725.9zM1057.69 49.33H1067.16V58H1057.69zM678.5 66.67H687.98V75.33H678.5zM735.38 66.67H744.86V75.33H735.38zM697.46 75.33H706.94V84H697.46zM744.86 75.33H754.34V84H744.86zM763.82 75.33H773.3V84H763.82zM716.42 84H725.9V92.67H716.42zM744.86 84H754.34V92.67H744.86zM725.9 92.67H744.86V101.33H725.9zM725.9 110H735.38V118.67H725.9zM1105.08 118.67H1114.56V127.33H1105.08zM1057.69 127.33H1067.16V136H1057.69zM868.09 144.67H877.57V153.33H868.09zM868.09 162H877.57V170.67H868.09zM887.05 179.33H896.53V188H887.05zM906.01 179.33H915.49V188H906.01zM858.61 188H868.09V196.67H858.61zM972.37 188H981.85V196.67H972.37zM849.13 196.67H858.61V205.33H849.13zM887.05 196.67H896.53V205.33H887.05zM801.74 205.33H811.21V214H801.74zM820.69 205.33H830.17V214H820.69zM991.33 205.33H1000.81V214H991.33zM1038.73 205.33H1048.21V214H1038.73zM972.37 214H981.85V222.67H972.37zM1038.73 214H1048.21V222.67H1038.73zM1133.52 214H1143V222.67H1133.52zM1161.96 214H1171.44V222.67H1161.96zM839.65 222.67H849.13V231.33H839.65zM858.61 222.67H868.09V231.33H858.61zM1133.52 222.67H1152.48V231.33H1133.52zM839.65 240H849.13V248.67H839.65zM1143 240H1152.48V248.67H1143zM687.98 248.67H697.46V257.33H687.98zM1076.64 248.67H1086.12V257.33H1076.64zM849.13 300.67H858.61V309.33H849.13zM877.57 300.67H887.05V309.33H877.57zM981.85 300.67H991.33V309.33H981.85zM1029.25 300.67H1048.21V309.33H1029.25zM1124.04 300.67H1133.52V309.33H1124.04zM972.37 309.33H981.85V318H972.37zM1019.77 309.33H1029.25V318H1019.77zM868.09 318H877.57V326.67H868.09zM1048.21 326.67H1057.69V335.33H1048.21zM1143 335.33H1161.96V344H1143zM981.85 344H991.33V352.67H981.85zM972.37 352.67H981.85V361.33H972.37zM1133.52 352.67H1143V361.33H1133.52zM868.09 361.33H887.05V370H868.09zM972.37 361.33H981.85V370H972.37zM1124.04 361.33H1133.52V370H1124.04zM1000.81 370H1010.29V378.67H1000.81zM697.46 378.67H706.94V387.33H697.46zM782.78 378.67H792.26V387.33H782.78zM915.49 396H924.97V404.67H915.49zM773.3 422H782.78V430.67H773.3zM1124.04 430.67H1133.52V439.33H1124.04zM972.37 439.33H981.85V448H972.37zM1038.73 439.33H1048.21V448H1038.73zM1114.56 439.33H1124.04V448H1114.56zM1143 439.33H1152.48V448H1143zM877.57 448H896.53V456.67H877.57zM1029.25 448H1038.73V456.67H1029.25zM887.05 456.67H896.53V465.33H887.05zM906.01 456.67H915.49V465.33H906.01zM1010.29 456.67H1019.77V465.33H1010.29zM1124.04 456.67H1133.52V465.33H1124.04zM1010.29 465.33H1019.77V474H1010.29zM877.57 474H887.05V482.67H877.57z"/>
<path fill="#ff0000" d="M1105.08 32H1114.56V40.67H1105.08zM1076.64 40.67H1086.12V49.33H1076.64zM1095.6 58H1105.08V66.67H1095.6zM1105.08 66.67H1114.56V75.33H1105.08zM1057.69 75.33H1067.16V84H1057.69zM754.34 84H763.82V92.67H754.34zM763.82 92.67H773.3V101.33H763.82zM735.38 101.33H744.86V110H735.38zM744.86 110H754.34V118.67H744.86zM943.93 110H953.41V118.67H943.93zM1000.81 110H1010.29V118.67H1000.81zM1048.21 110H1057.69V118.67H1048.21zM1019.77 118.67H1029.25V127.33H1019.77zM924.97 127.33H934.45V136H924.97zM820.69 144.67H830.17V153.33H820.69zM858.61 153.33H868.09V162H858.61zM877.57 153.33H887.05V162H877.57zM972.37 153.33H981.85V162H972.37zM801.74 162H811.21V170.67H801.74zM830.17 162H839.65V170.67H830.17zM820.69 170.67H830.17V179.33H820.69zM981.85 188H991.33V196.67H981.85zM811.21 196.67H820.69V205.33H811.21zM811.21 214H820.69V222.67H811.21zM1010.29 231.33H1019.77V240H1010.29zM1010.29 240H1019.77V248.67H1010.29zM1038.73 240H1048.21V248.67H1038.73zM1105.08 248.67H1114.56V257.33H1105.08zM782.78 257.33H792.26V266H782.78zM763.82 274.67H773.3V283.33H763.82zM1048.21 274.67H1067.16V283.33H1048.21zM811.21 300.67H820.69V309.33H811.21zM1114.56 300.67H1124.04V309.33H1114.56zM849.13 309.33H858.61V318H849.13zM1029.25 318H1048.21V326.67H1029.25zM1143 318H1152.48V326.67H1143zM763.82 326.67H773.3V335.33H763.82zM896.53 335.33H915.49V344H896.53zM773.3 344H782.78V352.67H773.3zM991.33 352.67H1000.81V361.33H991.33zM906.01 361.33H915.49V370H906.01zM991.33 361.33H1000.81V370H991.33zM1161.96 361.33H1171.44V370H1161.96zM763.82 370H773.3V378.67H763.82zM943.93 370H953.41V378.67H943.93zM725.9 378.67H735.38V387.33H725.9zM943.93 378.67H953.41V387.33H943.93zM687.98 396H697.46V404.67H687.98zM706.94 413.33H716.42V422H706.94zM678.5 422H687.98V430.67H678.5zM716.42 422H725.9V430.67H716.42zM915.49 422H924.97V430.67H915.49zM972.37 430.67H981.85V439.33H972.37zM1161.96 439.33H1171.44V448H1161.96zM991.33 456.67H1000.81V465.33H991.33zM1038.73 474H1048.21V482.67H1038.73zM1124.04 474H1133.52V482.67H1124.04z"/>
<path fill="#bf0000" d="M1067.16 40.67H1076.64V49.33H1067.16zM773.3 101.33H782.78V110H773.3zM754.34 118.67H763.82V127.33H754.34zM1048.21 127.33H1057.69V136H1048.21zM868.09 153.33H877.57V162H868.09zM839.65 162H849.13V170.67H839.65zM839.65 170.67H849.13V179.33H839.65zM820.69 179.33H839.65V188H820.69zM877.57 196.67H887.05V205.33H877.57zM811.21 205.33H820.69V214H811.21zM877.57 205.33H896.53V214H877.57zM858.61 214H877.57V222.67H858.61zM1029.25 214H1038.73V222.67H1029.25zM868.09 222.67H877.57V231.33H868.09zM906.01 222.67H915.49V231.33H906.01zM887.05 240H896.53V248.67H887.05zM1057.69 257.33H1067.16V266H1057.69zM1161.96 318H1171.44V326.67H1161.96zM877.57 352.67H887.05V361.33H877.57zM1038.73 352.67H1048.21V361.33H1038.73zM1029.25 361.33H1038.73V370H1029.25zM1133.52 361.33H1152.48V370H1133.52zM782.78 370H792.26V378.67H782.78zM924.97 378.67H934.45V387.33H924.97zM687.98 387.33H697.46V396H687.98zM1076.64 387.33H1086.12V396H1076.64zM1067.16 396H1076.64V404.67H1067.16zM1180.92 413.33H1190.4V422H1180.92zM1038.73 448H1048.21V456.67H1038.73zM1143 448H1152.48V456.67H1143zM1161.96 448H1171.44V456.67H1161.96zM1038.73 456.67H1048.21V465.33H1038.73zM1133.52 456.67H1143V465.33H1133.52zM991.33 474H1000.81V482.67H991.33zM1133.52 474H1143V482.67H1133.52zM1095.6 491.33H1105.08V500H1095.6z"/>
<path fill="#800000" d="M1086.12 58H1095.6V66.67H1086.12zM782.78 110H792.26V118.67H782.78zM763.82 127.33H773.3V136H763.82zM943.93 127.33H953.41V136H943.93zM972.37 196.67H981.85V205.33H972.37zM887.05 214H896.53V222.67H887.05zM991.33 214H1000.81V222.67H991.33zM877.57 222.67H887.05V231.33H877.57zM991.33 222.67H1000.81V231.33H991.33zM1038.73 222.67H1048.21V231.33H1038.73zM934.45 248.67H943.93V257.33H934.45zM943.93 257.33H953.41V266H943.93zM915.49 266H924.97V274.67H915.49zM782.78 274.67H792.26V283.33H782.78zM924.97 274.67H934.45V283.33H924.97zM962.89 274.67H972.37V283.33H962.89zM943.93 292H953.41V300.67H943.93zM858.61 300.67H868.09V309.33H858.61zM877.57 318H896.53V326.67H877.57zM1133.52 318H1143V326.67H1133.52zM1124.04 352.67H1133.52V361.33H1124.04zM1161.96 352.67H1171.44V361.33H1161.96zM887.05 361.33H896.53V370H887.05zM1171.44 396H1180.92V404.67H1171.44zM706.94 404.67H716.42V413.33H706.94zM1095.6 404.67H1105.08V413.33H1095.6zM1086.12 413.33H1095.6V422H1086.12zM1029.25 439.33H1038.73V448H1029.25zM991.33 448H1000.81V456.67H991.33zM1029.25 474H1038.73V482.67H1029.25zM1076.64 482.67H1086.12V491.33H1076.64z"/>
<rect x="1221.5" y="31" width="41" height="8.33" fill="#800000"/>
<rect x="1221.5" y="38.83" width="41" height="7.83" fill="#8f0000"/>
<rect x="1221.5" y="46.16" width="41" height="7.83" fill="#9f0000"/>
<rect x="1221.5" y="53.48" width="41" height="7.83" fill="#af0000"/>
<rect x="1221.5" y="60.81" width="41" height="7.83" fill="#bf0000"/>
<rect x="1221.5" y="68.14" width="41" height="7.83" fill="#cf0000"/>
<rect x="1221.5" y="75.47" width="41" height="7.83" fill="#df0000"/>
<rect x="1221.5" y="82.8" width="41" height="7.83" fill="#ef0000"/>
<rect x="1221.5" y="90.12" width="41" height="7.83" fill="#ff0000"/>
<rect x="1221.5" y="97.45" width="41" height="7.83" fill="#ff1000"/>
<rect x="1221.5" y="104.78" width="41" height="7.83" fill="#ff2000"/>
<rect x="1221.5" y="112.11" width="41" height="7.83" fill="#ff3000"/>
<rect x="1221.5" y="119.44" width="41" height="7.83" fill="#ff4000"/>
<rect x="1221.5" y="126.77" width="41" height="7.83" fill="#ff5000"/>
<rect x="1221.5" y="134.09" width="41" height="7.83" fill="#ff6000"/>
<rect x="1221.5" y="141.42" width="41" height="7.83" fill="#ff7000"/>
<rect x="1221.5" y="148.75" width="41" height="7.83" fill="#ff8000"/>
<rect x="1221.5" y="156.08" width="41" height="7.83" fill="#ff8f00"/>
<rect x="1221.5" y="163.41" width="41" height="7.83" fill="#ff9f00"/>
<rect x="1221.5" y="170.73" width="41" height="7.83" fill="#ffaf00"/>
<rect x="1221.5" y="178.06" width="41" height="7.83" fill="#ffbf00"/>
<rect x="1221.5" y="185.39" width="41" height="7.83" fill="#ffcf00"/>
<rect x="1221.5" y="192.72" width="41" height="7.83" fill="#ffdf00"/>
<rect x="1221.5" y="200.05" width="41" height="7.83" fill="#ffef00"/>
<rect x="1221.5" y="207.38" width="41" height="7.83" fill="#ffff00"/>
<rect x="1221.5" y="214.7" width="41" height="7.83" fill="#efff10"/>
<rect x="1221.5" y="222.03" width="41" height="7.83" fill="#dfff20"/>
<rect x="1221.5" y="229.36" width="41" height="7.83" fill="#cfff30"/>
<rect x="1221.5" y="236.69" width="41" height="7.83" fill="#bfff40"/>
<rect x="1221.5" y="244.02" width="41" height="7.83" fill="#afff50"/>
<rect x="1221.5" y="251.34" width="41" height="7.83" fill="#9fff60"/>
<rect x="1221.5" y="258.67" width="41" height="7.83" fill="#8fff70"/>
<rect x="1221.5" y="266" width="41" height="7.83" fill="#80ff80"/>
<rect x="1221.5" y="273.33" width="41" height="7.83" fill="#70ff8f"/>
<rect x="1221.5" y="280.66" width="41" height="7.83" fill="#60ff9f"/>
<rect x="1221.5" y="287.98" width="41" height="7.83" fill="#50ffaf"/>
<rect x="1221.5" y="295.31" width="41" height="7.83" fill="#40ffbf"/>
<rect x="1221.5" y="302.64" width="41" height="7.83" fill="#30ffcf"/>
<rect x="1221.5" y="309.97" width="41" height="7.83" fill="#20ffdf"/>
<rect x="1221.5" y="317.3" width="41" height="7.83" fill="#10ffef"/>
<rect x="1221.5" y="324.62" width="41" height="7.83" fill="#00ffff"/>
<rect x="1221.5" y="331.95" width="41" height="7.83" fill="#00efff"/>
<rect x="1221.5" y="339.28" width="41" height="7.83" fill="#00dfff"/>
<rect x="1221.5" y="346.61" width="41" height="7.83" fill="#00cfff"/>
<rect x="1221.5" y="353.94" width="41" height="7.83" fill="#00bfff"/>
<rect x="1221.5" y="361.27" width="41" height="7.83" fill="#00afff"/>
<rect x="1221.5" y="368.59" width="41" height="7.83" fill="#009fff"/>
<rect x="1221.5" y="375.92" width="41" height="7.83" fill="#008fff"/>
<rect x="1221.5" y="383.25" width="41" height="7.83" fill="#0080ff"/>
<rect x="1221.5" y="390.58" width="41" height="7.83" fill="#0070ff"/>
<rect x="1221.5" y="397.91" width="41" height="7.83" fill="#0060ff"/>
<rect x="1221.5" y="405.23" width="41" height="7.83" fill="#0050ff"/>
<rect x="1221.5" y="412.56" width="41" height="7.83" fill="#0040ff"/>
<rect x="1221.5" y="419.89" width="41" height="7.83" fill="#0030ff"/>
<rect x="1221.5" y="427.22" width="41" height="7.83" fill="#0020ff"/>
<rect x="1221.5" y="434.55" width="41" height="7.83" fill="#0010ff"/>
<rect x="1221.5" y="441.88" width="41" height="7.83" fill="#0000ff"/>
<rect x="1221.5" y="449.2" width="41" height="7.83" fill="#0000ef"/>
<rect x="1221.5" y="456.53" width="41" height="7.83" fill="#0000df"/>
<rect x="1221.5" y="463.86" width="41" height="7.83" fill="#0000cf"/>
<rect x="1221.5" y="471.19" width="41" height="7.83" fill="#0000bf"/>
<rect x="1221.5" y="478.52" width="41" height="7.83" fill="#0000af"/>
<rect x="1221.5" y="485.84" width="41" height="7.83" fill="#00009f"/>
<rect x="1221.5" y="493.17" width="41" height="7.83" fill="#00008f"/>
<path fill="#000" d="M683 32h1v5h-1zM683 495h1v5h-1zM679 36h4v1h-4zM1186 36h4v1h-4zM692 32h1v5h-1zM692 495h1v5h-1zM679 45h4v1h-4zM1186 45h4v1h-4zM702 32h1v5h-1zM702 495h1v5h-1zM679 53h4v1h-4zM1186 53h4v1h-4zM711 32h1v5h-1zM711 495h1v5h-1zM679 62h4v1h-4zM1186 62h4v1h-4zM721 32h1v5h-1zM721 495h1v5h-1zM679 71h4v1h-4zM1186 71h4v1h-4zM730 32h1v5h-1zM730 495h1v5h-1zM679 79h4v1h-4zM1186 79h4v1h-4zM740 32h1v5h-1zM740 495h1v5h-1zM679 88h4v1h-4zM1186 88h4v1h-4zM749 32h1v5h-1zM749 495h1v5h-1zM679 97h4v1h-4zM1186 97h4v1h-4zM759 32h1v5h-1zM759 495h1v5h-1zM679 105h4v1h-4zM1186 105h4v1h-4zM768 32h1v5h-1zM768 495h1v5h-1zM679 114h4v1h-4zM1186 114h4v1h-4zM778 32h1v5h-1zM778 495h1v5h-1zM679 123h4v1h-4zM1186 123h4v1h-4zM787 32h1v5h-1zM787 495h1v5h-1zM679 131h4v1h-4zM1186 131h4v1h-4zM796 32h1v5h-1zM796 495h1v5h-1zM679 140h4v1h-4zM1186 140h4v1h-4zM806 32h1v5h-1zM806 495h1v5h-1zM679 149h4v1h-4zM1186 149h4v1h-4zM815 32h1v5h-1zM815 495h1v5h-1zM679 157h4v1h-4zM1186 157h4v1h-4zM825 32h1v5h-1zM825 495h1v5h-1zM679 166h4v1h-4zM1186 166h4v1h-4zM834 32h1v5h-1zM834 495h1v5h-1zM679 175h4v1h-4zM1186 175h4v1h-4zM844 32h1v5h-1zM844 495h1v5h-1zM679 183h4v1h-4zM1186 183h4v1h-4zM853 32h1v5h-1zM853 495h1v5h-1zM679 192h4v1h-4zM1186 192h4v1h-4zM863 32h1v5h-1zM863 495h1v5h-1zM679 201h4v1h-4zM1186 201h4v1h-4zM872 32h1v5h-1zM872 495h1v5h-1zM679 209h4v1h-4zM1186 209h4v1h-4zM882 32h1v5h-1zM882 495h1v5h-1zM679 218h4v1h-4zM1186 218h4v1h-4zM891 32h1v5h-1zM891 495h1v5h-1zM679 227h4v1h-4zM1186 227h4v1h-4zM901 32h1v5h-1zM901 495h1v5h-1zM679 235h4v1h-4zM1186 235h4v1h-4zM910 32h1v5h-1zM910 495h1v5h-1zM679 244h4v1h-4zM1186 244h4v1h-4zM920 32h1v5h-1zM920 495h1v5h-1zM679 252h4v1h-4zM1186 252h4v1h-4zM929 32h1v5h-1zM929 495h1v5h-1zM679 261h4v1h-4zM1186 261h4v1h-4zM939 32h1v5h-1zM939 495h1v5h-1zM679 270h4v1h-4zM1186 270h4v1h-4zM948 32h1v5h-1zM948 495h1v5h-1zM679 279h4v1h-4zM1186 279h4v1h-4zM958 32h1v5h-1zM958 495h1v5h-1zM679 287h4v1h-4zM1186 287h4v1h-4zM967 32h1v5h-1zM967 495h1v5h-1zM679 296h4v1h-4zM1186 296h4v1h-4zM977 32h1v5h-1zM977 495h1v5h-1zM679 305h4v1h-4zM1186 305h4v1h-4zM986 32h1v5h-1zM986 495h1v5h-1zM679 313h4v1h-4zM1186 313h4v1h-4zM996 32h1v5h-1zM996 495h1v5h-1zM679 322h4v1h-4zM1186 322h4v1h-4zM1005 32h1v5h-1zM1005 495h1v5h-1zM679 331h4v1h-4zM1186 331h4v1h-4zM1015 32h1v5h-1zM1015 495h1v5h-1zM679 339h4v1h-4zM1186 339h4v1h-4zM1024 32h1v5h-1zM1024 495h1v5h-1zM679 348h4v1h-4zM1186 348h4v1h-4zM1033 32h1v5h-1zM1033 495h1v5h-1zM679 357h4v1h-4zM1186 357h4v1h-4zM1043 32h1v5h-1zM1043 495h1v5h-1zM679 365h4v1h-4zM1186 365h4v1h-4zM1052 32h1v5h-1zM1052 495h1v5h-1zM679 374h4v1h-4zM1186 374h4v1h-4zM1062 32h1v5h-1zM1062 495h1v5h-1zM679 383h4v1h-4zM1186 383h4v1h-4zM1071 32h1v5h-1zM1071 495h1v5h-1zM679 391h4v1h-4zM1186 391h4v1h-4zM1081 32h1v5h-1zM1081 495h1v5h-1zM679 400h4v1h-4zM1186 400h4v1h-4zM1090 32h1v5h-1zM1090 495h1v5h-1zM679 409h4v1h-4zM1186 409h4v1h-4zM1100 32h1v5h-1zM1100 495h1v5h-1zM679 417h4v1h-4zM1186 417h4v1h-4zM1109 32h1v5h-1zM1109 495h1v5h-1zM679 426h4v1h-4zM1186 426h4v1h-4zM1119 32h1v5h-1zM1119 495h1v5h-1zM679 435h4v1h-4zM1186 435h4v1h-4zM1128 32h1v5h-1zM1128 495h1v5h-1zM679 443h4v1h-4zM1186 443h4v1h-4zM1138 32h1v5h-1zM1138 495h1v5h-1zM679 452h4v1h-4zM1186 452h4v1h-4zM1147 32h1v5h-1zM1147 495h1v5h-1zM679 460h4v1h-4zM1186 460h4v1h-4zM1157 32h1v5h-1zM1157 495h1v5h-1zM679 469h4v1h-4zM1186 469h4v1h-4zM1166 32h1v5h-1zM1166 495h1v5h-1zM679 478h4v1h-4zM1186 478h4v1h-4zM1176 32h1v5h-1zM1176 495h1v5h-1zM679 486h4v1h-4zM1186 486h4v1h-4zM1185 32h1v5h-1zM1185 495h1v5h-1zM679 495h4v1h-4zM1186 495h4v1h-4zM1222 500h4v1h-4zM1258 500h4v1h-4zM1222 453h4v1h-4zM1258 453h4v1h-4zM1222 406h4v1h-4zM1258 406h4v1h-4zM1222 359h4v1h-4zM1258 359h4v1h-4zM1222 312h4v1h-4zM1258 312h4v1h-4zM1222 266h4v1h-4zM1258 266h4v1h-4zM1222 219h4v1h-4zM1258 219h4v1h-4zM1222 172h4v1h-4zM1258 172h4v1h-4zM1222 125h4v1h-4zM1258 125h4v1h-4zM1222 78h4v1h-4zM1258 78h4v1h-4zM1222 31h4v1h-4zM1258 31h4v1h-4zM678 31h513v1h-513zM678 500h513v1h-513zM678 31h1v470h-1zM1190 31h1v470h-1zM1221 500h42v1h-42zM1221 31h1v470h-1zM1262 31h1v470h-1z"/>
</g>
<text class="l" x="1267.7" y="507.4">0</text>
<text class="l" x="1267.7" y="460.5">0.1</text>
<text class="l" x="1267.7" y="413.6">0.2</text>
<text class="l" x="1267.7" y="366.7">0.3</text>
<text class="l" x="1267.7" y="319.8">0.4</text>
<text class="l" x="1267.7" y="272.9">0.5</text>
<text class="l" x="1267.7" y="226">0.6</text>
<text class="l" x="1267.7" y="179.1">0.7</text>
<text class="l" x="1267.7" y="132.2">0.8</text>
<text class="l" x="1267.7" y="85.3">0.9</text>
<text class="l" x="1267.7" y="38.4">1</text>
<text class="t" x="932" y="19.8">AVHh-</text>
<g shape-rendering="crispEdges">
<path fill="#00008f" d="M1356.5 32H1366V40.67H1356.5zM1366 40.67H1375.5V49.33H1366zM1375.5 49.33H1384.99V58H1375.5zM1384.99 58H1394.49V66.67H1384.99zM1394.49 66.67H1403.99V75.33H1394.49zM1403.99 75.33H1413.49V84H1403.99zM1413.49 84H1422.99V92.67H1413.49zM1422.99 92.67H1432.49V101.33H1422.99zM1432.49 101.33H1441.98V110H1432.49zM1441.98 110H1451.48V118.67H1441.98zM1451.48 118.67H1460.98V127.33H1451.48zM1460.98 127.33H1470.48V136H1460.98zM1470.48 136H1479.98V144.67H1470.48zM1479.98 144.67H1489.47V153.33H1479.98zM1489.47 153.33H1498.97V162H1489.47zM1498.97 162H1508.47V170.67H1498.97zM1508.47 170.67H1517.97V179.33H1508.47zM1517.97 179.33H1527.47V188H1517.97zM1527.47 188H1536.96V196.67H1527.47zM1536.96 196.67H1546.46V205.33H1536.96zM1546.46 205.33H1555.96V214H1546.46zM1555.96 214H1565.46V222.67H1555.96zM1565.46 222.67H1574.96V231.33H1565.46zM1574.96 231.33H1584.46V240H1574.96zM1584.46 240H1593.95V248.67H1584.46zM1593.95 248.67H1603.45V257.33H1593.95zM1603.45 257.33H1612.95V266H1603.45zM1612.95 266H1622.45V274.67H1612.95zM1622.45 274.67H1631.95V283.33H1622.45zM1631.95 283.33H1641.44V292H1631.95zM1641.44 292H1650.94V300.67H1641.44zM1650.94 300.67H1660.44V309.33H1650.94zM1660.44 309.33H1669.94V318H1660.44zM1669.94 318H1679.44V326.67H1669.94zM1679.44 326.67H1688.94V335.33H1679.44zM1688.94 335.33H1698.43V344H1688.94zM1698.43 344H1707.93V352.67H1698.43zM1707.93 352.67H1717.43V361.33H1707.93zM1717.43 361.33H1726.93V370H1717.43zM1726.93 370H1736.43V378.67H1726.93zM1736.43 378.67H1745.92V387.33H1736.43zM1745.92 387.33H1755.42V396H1745.92zM1755.42 396H1764.92V404.67H1755.42zM1764.92 404.67H1774.42V413.33H1764.92zM1774.42 413.33H1783.92V422H1774.42zM1783.92 422H1793.41V430.67H1783.92zM1793.41 430.67H1802.91V439.33H1793.41zM1802.91 439.33H1812.41V448H1802.91zM1812.41 448H1821.91V456.67H1812.41zM1821.91 456.67H1831.41V465.33H1821.91zM1831.41 465.33H1840.91V474H1831.41zM1840.91 474H1850.4V482.67H1840.91zM1850.4 482.67H1859.9V491.33H1850.4zM1859.9 491.33H1869.4V500H1859.9z"/>
<path fill="#0000bf" d="M1793.41 110H1802.91V118.67H1793.41zM1812.41 110H1831.41V118.67H1812.41zM1840.91 110H1850.4V118.67H1840.91zM1441.98 430.67H1451.48V439.33H1441.98zM1441.98 448H1451.48V456.67H1441.98zM1441.98 456.67H1451.48V465.33H1441.98zM1441.98 474H1451.48V482.67H1441.98z"/>
<path fill="#0000ff" d="M1679.44 58H1688.94V66.67H1679.44zM1565.46 110H1574.96V118.67H1565.46zM1631.95 110H1641.44V118.67H1631.95zM1669.94 110H1679.44V118.67H1669.94zM1707.93 110H1726.93V118.67H1707.93zM1755.42 110H1764.92V118.67H1755.42zM1802.91 110H1812.41V118.67H1802.91zM1812.41 118.67H1821.91V127.33H1812.41zM1584.46 127.33H1593.95V136H1584.46zM1717.43 127.33H1726.93V136H1717.43zM1793.41 127.33H1802.91V136H1793.41zM1812.41 127.33H1821.91V136H1812.41zM1840.91 127.33H1850.4V136H1840.91zM1441.98 222.67H1451.48V231.33H1441.98zM1726.93 222.67H1736.43V231.33H1726.93zM1460.98 240H1470.48V248.67H1460.98zM1783.92 240H1793.41V248.67H1783.92zM1441.98 283.33H1451.48V292H1441.98zM1679.44 283.33H1688.94V292H1679.44zM1441.98 318H1451.48V326.67H1441.98zM1384.99 326.67H1394.49V335.33H1384.99zM1631.95 326.67H1641.44V335.33H1631.95zM1441.98 352.67H1451.48V361.33H1441.98zM1441.98 361.33H1451.48V370H1441.98zM1460.98 361.33H1470.48V370H1460.98zM1783.92 361.33H1793.41V370H1783.92zM1565.46 370H1574.96V378.67H1565.46zM1812.41 370H1821.91V378.67H1812.41zM1840.91 370H1850.4V378.67H1840.91zM1441.98 396H1451.48V404.67H1441.98zM1584.46 422H1593.95V430.67H1584.46zM1717.43 422H1726.93V430.67H1717.43zM1812.41 422H1821.91V430.67H1812.41zM1460.98 430.67H1470.48V439.33H1460.98zM1441.98 439.33H1451.48V448H1441.98zM1451.48 448H1470.48V456.67H1451.48zM1726.93 448H1736.43V456.67H1726.93zM1783.92 448H1793.41V456.67H1783.92zM1460.98 474H1470.48V482.67H1460.98zM1726.93 474H1736.43V482.67H1726.93z"/>
<path fill="#0040ff" d="M1584.46 32H1593.95V40.67H1584.46zM1812.41 32H1821.91V40.67H1812.41zM1574.96 58H1584.46V66.67H1574.96zM1840.91 66.67H1850.4V75.33H1840.91zM1631.95 75.33H1641.44V84H1631.95zM1755.42 75.33H1764.92V84H1755.42zM1793.41 75.33H1802.91V84H1793.41zM1812.41 75.33H1821.91V84H1812.41zM1840.91 75.33H1859.9V84H1840.91zM1631.95 92.67H1650.94V101.33H1631.95zM1755.42 92.67H1764.92V101.33H1755.42zM1774.42 92.67H1783.92V101.33H1774.42zM1812.41 92.67H1821.91V101.33H1812.41zM1840.91 92.67H1850.4V101.33H1840.91zM1584.46 101.33H1593.95V110H1584.46zM1840.91 101.33H1850.4V110H1840.91zM1489.47 110H1498.97V118.67H1489.47zM1536.96 110H1565.46V118.67H1536.96zM1584.46 110H1593.95V118.67H1584.46zM1650.94 110H1660.44V118.67H1650.94zM1850.4 110H1859.9V118.67H1850.4zM1669.94 118.67H1679.44V127.33H1669.94zM1717.43 118.67H1726.93V127.33H1717.43zM1821.91 118.67H1831.41V127.33H1821.91zM1840.91 118.67H1850.4V127.33H1840.91zM1527.47 127.33H1546.46V136H1527.47zM1565.46 127.33H1574.96V136H1565.46zM1631.95 127.33H1641.44V136H1631.95zM1650.94 127.33H1660.44V136H1650.94zM1669.94 127.33H1679.44V136H1669.94zM1688.94 127.33H1698.43V136H1688.94zM1707.93 127.33H1717.43V136H1707.93zM1755.42 127.33H1764.92V136H1755.42zM1802.91 127.33H1812.41V136H1802.91zM1821.91 127.33H1831.41V136H1821.91zM1726.93 136H1736.43V144.67H1726.93zM1783.92 144.67H1793.41V153.33H1783.92zM1441.98 153.33H1451.48V162H1441.98zM1726.93 153.33H1736.43V162H1726.93zM1783.92 153.33H1793.41V162H1783.92zM1783.92 179.33H1793.41V188H1783.92zM1460.98 188H1470.48V196.67H1460.98zM1726.93 188H1736.43V196.67H1726.93zM1783.92 188H1793.41V196.67H1783.92zM1441.98 196.67H1451.48V205.33H1441.98zM1460.98 196.67H1470.48V205.33H1460.98zM1726.93 196.67H1736.43V205.33H1726.93zM1783.92 196.67H1793.41V205.33H1783.92zM1441.98 205.33H1451.48V214H1441.98zM1726.93 205.33H1736.43V214H1726.93zM1783.92 205.33H1793.41V214H1783.92zM1441.98 214H1451.48V222.67H1441.98zM1726.93 214H1736.43V222.67H1726.93zM1783.92 214H1793.41V222.67H1783.92zM1460.98 222.67H1470.48V231.33H1460.98zM1783.92 222.67H1793.41V231.33H1783.92zM1384.99 231.33H1394.49V240H1384.99zM1356.5 240H1366V248.67H1356.5zM1432.49 240H1451.48V248.67H1432.49zM1688.94 248.67H1698.43V257.33H1688.94zM1403.99 283.33H1413.49V292H1403.99zM1422.99 283.33H1432.49V292H1422.99zM1460.98 283.33H1470.48V292H1460.98zM1422.99 292H1432.49V300.67H1422.99zM1441.98 300.67H1451.48V309.33H1441.98zM1460.98 300.67H1470.48V309.33H1460.98zM1451.48 318H1470.48V326.67H1451.48zM1726.93 318H1745.92V326.67H1726.93zM1783.92 318H1793.41V326.67H1783.92zM1764.92 326.67H1783.92V335.33H1764.92zM1793.41 326.67H1802.91V335.33H1793.41zM1812.41 326.67H1821.91V335.33H1812.41zM1859.9 326.67H1869.4V335.33H1859.9zM1460.98 335.33H1470.48V344H1460.98zM1593.95 335.33H1603.45V344H1593.95zM1460.98 352.67H1470.48V361.33H1460.98zM1726.93 352.67H1736.43V361.33H1726.93zM1783.92 352.67H1793.41V361.33H1783.92zM1451.48 361.33H1460.98V370H1451.48zM1470.48 370H1479.98V378.67H1470.48zM1489.47 370H1498.97V378.67H1489.47zM1527.47 370H1565.46V378.67H1527.47zM1669.94 370H1679.44V378.67H1669.94zM1707.93 370H1717.43V378.67H1707.93zM1793.41 370H1812.41V378.67H1793.41zM1669.94 378.67H1679.44V387.33H1669.94zM1793.41 378.67H1802.91V387.33H1793.41zM1812.41 378.67H1821.91V387.33H1812.41zM1840.91 378.67H1850.4V387.33H1840.91zM1403.99 396H1413.49V404.67H1403.99zM1422.99 396H1432.49V404.67H1422.99zM1460.98 396H1470.48V404.67H1460.98zM1679.44 404.67H1688.94V413.33H1679.44zM1422.99 413.33H1432.49V422H1422.99zM1679.44 413.33H1688.94V422H1679.44zM1479.98 422H1498.97V430.67H1479.98zM1517.97 422H1574.96V430.67H1517.97zM1669.94 422H1679.44V430.67H1669.94zM1707.93 422H1717.43V430.67H1707.93zM1793.41 422H1802.91V430.67H1793.41zM1821.91 422H1831.41V430.67H1821.91zM1840.91 422H1850.4V430.67H1840.91zM1403.99 430.67H1413.49V439.33H1403.99zM1679.44 430.67H1688.94V439.33H1679.44zM1726.93 430.67H1745.92V439.33H1726.93zM1783.92 430.67H1793.41V439.33H1783.92zM1460.98 439.33H1470.48V448H1460.98zM1726.93 439.33H1736.43V448H1726.93zM1356.5 448H1366V456.67H1356.5zM1403.99 448H1413.49V456.67H1403.99zM1422.99 448H1432.49V456.67H1422.99zM1679.44 448H1688.94V456.67H1679.44zM1736.43 448H1745.92V456.67H1736.43zM1451.48 456.67H1470.48V465.33H1451.48zM1783.92 456.67H1793.41V465.33H1783.92zM1394.49 474H1413.49V482.67H1394.49zM1422.99 474H1441.98V482.67H1422.99zM1451.48 474H1460.98V482.67H1451.48zM1736.43 474H1745.92V482.67H1736.43zM1783.92 474H1793.41V482.67H1783.92zM1403.99 482.67H1413.49V491.33H1403.99zM1441.98 482.67H1451.48V491.33H1441.98zM1679.44 491.33H1688.94V500H1679.44z"/>
<path fill="#0093ff" d="M1479.98 32H1508.47V40.67H1479.98zM1517.97 32H1527.47V40.67H1517.97zM1536.96 32H1546.46V40.67H1536.96zM1555.96 32H1565.46V40.67H1555.96zM1574.96 32H1584.46V40.67H1574.96zM1631.95 32H1641.44V40.67H1631.95zM1650.94 32H1660.44V40.67H1650.94zM1669.94 32H1698.43V40.67H1669.94zM1707.93 32H1726.93V40.67H1707.93zM1774.42 32H1783.92V40.67H1774.42zM1793.41 32H1812.41V40.67H1793.41zM1821.91 32H1831.41V40.67H1821.91zM1840.91 32H1850.4V40.67H1840.91zM1859.9 32H1869.4V40.67H1859.9zM1403.99 40.67H1413.49V49.33H1403.99zM1422.99 40.67H1432.49V49.33H1422.99zM1441.98 40.67H1451.48V49.33H1441.98zM1479.98 40.67H1489.47V49.33H1479.98zM1574.96 40.67H1593.95V49.33H1574.96zM1679.44 40.67H1688.94V49.33H1679.44zM1631.95 49.33H1641.44V58H1631.95zM1698.43 49.33H1707.93V58H1698.43zM1755.42 49.33H1764.92V58H1755.42zM1793.41 49.33H1802.91V58H1793.41zM1812.41 49.33H1821.91V58H1812.41zM1840.91 49.33H1850.4V58H1840.91zM1422.99 58H1432.49V66.67H1422.99zM1527.47 58H1536.96V66.67H1527.47zM1584.46 58H1593.95V66.67H1584.46zM1479.98 66.67H1527.47V75.33H1479.98zM1546.46 66.67H1565.46V75.33H1546.46zM1574.96 66.67H1593.95V75.33H1574.96zM1641.44 66.67H1650.94V75.33H1641.44zM1669.94 66.67H1688.94V75.33H1669.94zM1707.93 66.67H1736.43V75.33H1707.93zM1755.42 66.67H1764.92V75.33H1755.42zM1774.42 66.67H1783.92V75.33H1774.42zM1793.41 66.67H1840.91V75.33H1793.41zM1859.9 66.67H1869.4V75.33H1859.9zM1366 75.33H1375.5V84H1366zM1479.98 75.33H1498.97V84H1479.98zM1517.97 75.33H1527.47V84H1517.97zM1546.46 75.33H1574.96V84H1546.46zM1669.94 75.33H1679.44V84H1669.94zM1698.43 75.33H1717.43V84H1698.43zM1774.42 75.33H1783.92V84H1774.42zM1802.91 75.33H1812.41V84H1802.91zM1821.91 75.33H1831.41V84H1821.91zM1859.9 75.33H1869.4V84H1859.9zM1641.44 84H1650.94V92.67H1641.44zM1726.93 84H1736.43V92.67H1726.93zM1755.42 84H1764.92V92.67H1755.42zM1774.42 84H1783.92V92.67H1774.42zM1366 92.67H1375.5V101.33H1366zM1384.99 92.67H1394.49V101.33H1384.99zM1479.98 92.67H1489.47V101.33H1479.98zM1593.95 92.67H1603.45V101.33H1593.95zM1707.93 92.67H1717.43V101.33H1707.93zM1745.92 92.67H1755.42V101.33H1745.92zM1764.92 92.67H1774.42V101.33H1764.92zM1793.41 92.67H1812.41V101.33H1793.41zM1850.4 92.67H1869.4V101.33H1850.4zM1479.98 101.33H1498.97V110H1479.98zM1517.97 101.33H1527.47V110H1517.97zM1546.46 101.33H1584.46V110H1546.46zM1641.44 101.33H1650.94V110H1641.44zM1669.94 101.33H1679.44V110H1669.94zM1688.94 101.33H1698.43V110H1688.94zM1707.93 101.33H1726.93V110H1707.93zM1774.42 101.33H1783.92V110H1774.42zM1802.91 101.33H1840.91V110H1802.91zM1859.9 101.33H1869.4V110H1859.9zM1366 110H1375.5V118.67H1366zM1470.48 110H1489.47V118.67H1470.48zM1498.97 110H1508.47V118.67H1498.97zM1517.97 110H1536.96V118.67H1517.97zM1593.95 110H1603.45V118.67H1593.95zM1612.95 110H1622.45V118.67H1612.95zM1660.44 110H1669.94V118.67H1660.44zM1688.94 110H1707.93V118.67H1688.94zM1745.92 110H1755.42V118.67H1745.92zM1774.42 110H1783.92V118.67H1774.42zM1831.41 110H1840.91V118.67H1831.41zM1859.9 110H1869.4V118.67H1859.9zM1470.48 118.67H1508.47V127.33H1470.48zM1517.97 118.67H1527.47V127.33H1517.97zM1546.46 118.67H1574.96V127.33H1546.46zM1584.46 118.67H1593.95V127.33H1584.46zM1707.93 118.67H1717.43V127.33H1707.93zM1774.42 118.67H1783.92V127.33H1774.42zM1793.41 118.67H1812.41V127.33H1793.41zM1831.41 118.67H1840.91V127.33H1831.41zM1859.9 118.67H1869.4V127.33H1859.9zM1470.48 127.33H1498.97V136H1470.48zM1546.46 127.33H1565.46V136H1546.46zM1698.43 127.33H1707.93V136H1698.43zM1745.92 127.33H1755.42V136H1745.92zM1850.4 127.33H1859.9V136H1850.4zM1441.98 136H1470.48V144.67H1441.98zM1593.95 136H1603.45V144.67H1593.95zM1641.44 136H1650.94V144.67H1641.44zM1679.44 136H1688.94V144.67H1679.44zM1783.92 136H1793.41V144.67H1783.92zM1356.5 144.67H1375.5V153.33H1356.5zM1394.49 144.67H1413.49V153.33H1394.49zM1422.99 144.67H1470.48V153.33H1422.99zM1593.95 144.67H1603.45V153.33H1593.95zM1612.95 144.67H1622.45V153.33H1612.95zM1631.95 144.67H1641.44V153.33H1631.95zM1698.43 144.67H1707.93V153.33H1698.43zM1726.93 144.67H1745.92V153.33H1726.93zM1356.5 153.33H1366V162H1356.5zM1394.49 153.33H1413.49V162H1394.49zM1432.49 153.33H1441.98V162H1432.49zM1451.48 153.33H1470.48V162H1451.48zM1593.95 153.33H1603.45V162H1593.95zM1736.43 153.33H1745.92V162H1736.43zM1356.5 162H1366V170.67H1356.5zM1394.49 162H1403.99V170.67H1394.49zM1441.98 162H1460.98V170.67H1441.98zM1726.93 162H1736.43V170.67H1726.93zM1783.92 162H1793.41V170.67H1783.92zM1394.49 170.67H1403.99V179.33H1394.49zM1774.42 170.67H1793.41V179.33H1774.42zM1356.5 179.33H1366V188H1356.5zM1394.49 179.33H1413.49V188H1394.49zM1432.49 179.33H1460.98V188H1432.49zM1593.95 179.33H1603.45V188H1593.95zM1726.93 179.33H1736.43V188H1726.93zM1384.99 188H1394.49V196.67H1384.99zM1441.98 188H1451.48V196.67H1441.98zM1593.95 188H1603.45V196.67H1593.95zM1774.42 188H1783.92V196.67H1774.42zM1356.5 196.67H1366V205.33H1356.5zM1593.95 196.67H1603.45V205.33H1593.95zM1736.43 196.67H1745.92V205.33H1736.43zM1394.49 205.33H1413.49V214H1394.49zM1432.49 205.33H1441.98V214H1432.49zM1451.48 205.33H1470.48V214H1451.48zM1593.95 205.33H1603.45V214H1593.95zM1612.95 205.33H1622.45V214H1612.95zM1736.43 205.33H1745.92V214H1736.43zM1356.5 214H1366V222.67H1356.5zM1394.49 214H1413.49V222.67H1394.49zM1432.49 214H1441.98V222.67H1432.49zM1451.48 214H1470.48V222.67H1451.48zM1593.95 214H1603.45V222.67H1593.95zM1736.43 214H1745.92V222.67H1736.43zM1403.99 222.67H1413.49V231.33H1403.99zM1432.49 222.67H1441.98V231.33H1432.49zM1451.48 222.67H1460.98V231.33H1451.48zM1593.95 222.67H1603.45V231.33H1593.95zM1679.44 222.67H1688.94V231.33H1679.44zM1736.43 222.67H1745.92V231.33H1736.43zM1356.5 231.33H1375.5V240H1356.5zM1394.49 231.33H1403.99V240H1394.49zM1432.49 231.33H1441.98V240H1432.49zM1631.95 231.33H1650.94V240H1631.95zM1745.92 231.33H1821.91V240H1745.92zM1859.9 231.33H1869.4V240H1859.9zM1366 240H1375.5V248.67H1366zM1384.99 240H1403.99V248.67H1384.99zM1451.48 240H1460.98V248.67H1451.48zM1593.95 240H1603.45V248.67H1593.95zM1726.93 240H1745.92V248.67H1726.93zM1422.99 248.67H1432.49V257.33H1422.99zM1441.98 248.67H1451.48V257.33H1441.98zM1470.48 248.67H1498.97V257.33H1470.48zM1517.97 248.67H1574.96V257.33H1517.97zM1584.46 248.67H1593.95V257.33H1584.46zM1650.94 248.67H1660.44V257.33H1650.94zM1669.94 248.67H1679.44V257.33H1669.94zM1707.93 248.67H1736.43V257.33H1707.93zM1812.41 248.67H1850.4V257.33H1812.41zM1441.98 266H1451.48V274.67H1441.98zM1479.98 266H1489.47V274.67H1479.98zM1546.46 266H1555.96V274.67H1546.46zM1812.41 266H1821.91V274.67H1812.41zM1356.5 283.33H1366V292H1356.5zM1375.5 283.33H1384.99V292H1375.5zM1479.98 283.33H1489.47V292H1479.98zM1574.96 283.33H1584.46V292H1574.96zM1726.93 283.33H1745.92V292H1726.93zM1394.49 292H1403.99V300.67H1394.49zM1413.49 292H1422.99V300.67H1413.49zM1432.49 292H1441.98V300.67H1432.49zM1470.48 292H1479.98V300.67H1470.48zM1574.96 292H1584.46V300.67H1574.96zM1679.44 292H1688.94V300.67H1679.44zM1356.5 300.67H1366V309.33H1356.5zM1593.95 300.67H1603.45V309.33H1593.95zM1726.93 300.67H1745.92V309.33H1726.93zM1783.92 300.67H1793.41V309.33H1783.92zM1441.98 309.33H1451.48V318H1441.98zM1726.93 309.33H1736.43V318H1726.93zM1356.5 318H1366V326.67H1356.5zM1394.49 318H1413.49V326.67H1394.49zM1432.49 318H1441.98V326.67H1432.49zM1593.95 318H1603.45V326.67H1593.95zM1679.44 318H1688.94V326.67H1679.44zM1356.5 326.67H1375.5V335.33H1356.5zM1394.49 326.67H1403.99V335.33H1394.49zM1470.48 326.67H1479.98V335.33H1470.48zM1565.46 326.67H1574.96V335.33H1565.46zM1641.44 326.67H1650.94V335.33H1641.44zM1669.94 326.67H1679.44V335.33H1669.94zM1745.92 326.67H1764.92V335.33H1745.92zM1783.92 326.67H1793.41V335.33H1783.92zM1802.91 326.67H1812.41V335.33H1802.91zM1821.91 326.67H1831.41V335.33H1821.91zM1840.91 326.67H1859.9V335.33H1840.91zM1356.5 335.33H1366V344H1356.5zM1432.49 335.33H1451.48V344H1432.49zM1783.92 335.33H1793.41V344H1783.92zM1375.5 344H1384.99V352.67H1375.5zM1403.99 344H1413.49V352.67H1403.99zM1441.98 344H1451.48V352.67H1441.98zM1460.98 344H1470.48V352.67H1460.98zM1479.98 344H1489.47V352.67H1479.98zM1774.42 344H1783.92V352.67H1774.42zM1356.5 352.67H1366V361.33H1356.5zM1394.49 352.67H1413.49V361.33H1394.49zM1422.99 352.67H1441.98V361.33H1422.99zM1451.48 352.67H1460.98V361.33H1451.48zM1593.95 352.67H1603.45V361.33H1593.95zM1736.43 352.67H1745.92V361.33H1736.43zM1356.5 361.33H1366V370H1356.5zM1394.49 361.33H1403.99V370H1394.49zM1432.49 361.33H1441.98V370H1432.49zM1593.95 361.33H1603.45V370H1593.95zM1726.93 361.33H1745.92V370H1726.93zM1394.49 370H1403.99V378.67H1394.49zM1413.49 370H1422.99V378.67H1413.49zM1479.98 370H1489.47V378.67H1479.98zM1498.97 370H1508.47V378.67H1498.97zM1517.97 370H1527.47V378.67H1517.97zM1584.46 370H1603.45V378.67H1584.46zM1631.95 370H1641.44V378.67H1631.95zM1650.94 370H1669.94V378.67H1650.94zM1717.43 370H1726.93V378.67H1717.43zM1774.42 370H1783.92V378.67H1774.42zM1821.91 370H1831.41V378.67H1821.91zM1859.9 370H1869.4V378.67H1859.9zM1479.98 378.67H1498.97V387.33H1479.98zM1536.96 378.67H1574.96V387.33H1536.96zM1584.46 378.67H1593.95V387.33H1584.46zM1631.95 378.67H1641.44V387.33H1631.95zM1650.94 378.67H1660.44V387.33H1650.94zM1707.93 378.67H1726.93V387.33H1707.93zM1802.91 378.67H1812.41V387.33H1802.91zM1821.91 378.67H1831.41V387.33H1821.91zM1422.99 387.33H1432.49V396H1422.99zM1441.98 387.33H1451.48V396H1441.98zM1460.98 387.33H1470.48V396H1460.98zM1574.96 387.33H1584.46V396H1574.96zM1679.44 387.33H1688.94V396H1679.44zM1375.5 396H1384.99V404.67H1375.5zM1394.49 396H1403.99V404.67H1394.49zM1413.49 396H1422.99V404.67H1413.49zM1574.96 396H1584.46V404.67H1574.96zM1679.44 396H1688.94V404.67H1679.44zM1422.99 404.67H1432.49V413.33H1422.99zM1574.96 404.67H1584.46V413.33H1574.96zM1356.5 413.33H1366V422H1356.5zM1394.49 413.33H1422.99V422H1394.49zM1432.49 413.33H1460.98V422H1432.49zM1508.47 413.33H1517.97V422H1508.47zM1527.47 413.33H1536.96V422H1527.47zM1574.96 413.33H1584.46V422H1574.96zM1698.43 413.33H1707.93V422H1698.43zM1726.93 413.33H1736.43V422H1726.93zM1470.48 422H1479.98V430.67H1470.48zM1498.97 422H1517.97V430.67H1498.97zM1574.96 422H1584.46V430.67H1574.96zM1650.94 422H1660.44V430.67H1650.94zM1679.44 422H1698.43V430.67H1679.44zM1802.91 422H1812.41V430.67H1802.91zM1831.41 422H1840.91V430.67H1831.41zM1859.9 422H1869.4V430.67H1859.9zM1356.5 430.67H1366V439.33H1356.5zM1375.5 430.67H1384.99V439.33H1375.5zM1394.49 430.67H1403.99V439.33H1394.49zM1422.99 430.67H1432.49V439.33H1422.99zM1451.48 430.67H1460.98V439.33H1451.48zM1574.96 430.67H1584.46V439.33H1574.96zM1356.5 439.33H1366V448H1356.5zM1394.49 439.33H1413.49V448H1394.49zM1422.99 439.33H1441.98V448H1422.99zM1451.48 439.33H1460.98V448H1451.48zM1574.96 439.33H1584.46V448H1574.96zM1679.44 439.33H1688.94V448H1679.44zM1736.43 439.33H1745.92V448H1736.43zM1783.92 439.33H1793.41V448H1783.92zM1375.5 448H1384.99V456.67H1375.5zM1394.49 448H1403.99V456.67H1394.49zM1432.49 448H1441.98V456.67H1432.49zM1574.96 448H1584.46V456.67H1574.96zM1593.95 448H1603.45V456.67H1593.95zM1612.95 448H1622.45V456.67H1612.95zM1356.5 456.67H1366V465.33H1356.5zM1394.49 456.67H1413.49V465.33H1394.49zM1432.49 456.67H1441.98V465.33H1432.49zM1593.95 456.67H1603.45V465.33H1593.95zM1679.44 456.67H1688.94V465.33H1679.44zM1726.93 456.67H1745.92V465.33H1726.93zM1394.49 465.33H1403.99V474H1394.49zM1432.49 465.33H1460.98V474H1432.49zM1593.95 465.33H1603.45V474H1593.95zM1783.92 465.33H1793.41V474H1783.92zM1356.5 474H1366V482.67H1356.5zM1375.5 474H1384.99V482.67H1375.5zM1593.95 474H1603.45V482.67H1593.95zM1679.44 474H1688.94V482.67H1679.44zM1422.99 482.67H1432.49V491.33H1422.99zM1460.98 482.67H1470.48V491.33H1460.98zM1679.44 482.67H1688.94V491.33H1679.44zM1356.5 491.33H1366V500H1356.5zM1394.49 491.33H1413.49V500H1394.49zM1422.99 491.33H1460.98V500H1422.99zM1574.96 491.33H1584.46V500H1574.96zM1726.93 491.33H1736.43V500H1726.93zM1783.92 491.33H1793.41V500H1783.92z"/>
<path fill="#00bfff" d="M1508.47 32H1517.97V40.67H1508.47zM1527.47 32H1536.96V40.67H1527.47zM1546.46 32H1555.96V40.67H1546.46zM1565.46 32H1574.96V40.67H1565.46zM1726.93 32H1736.43V40.67H1726.93zM1831.41 32H1840.91V40.67H1831.41zM1470.48 40.67H1479.98V49.33H1470.48zM1498.97 40.67H1536.96V49.33H1498.97zM1546.46 40.67H1555.96V49.33H1546.46zM1650.94 40.67H1660.44V49.33H1650.94zM1688.94 40.67H1698.43V49.33H1688.94zM1707.93 40.67H1717.43V49.33H1707.93zM1726.93 40.67H1736.43V49.33H1726.93zM1793.41 40.67H1802.91V49.33H1793.41zM1479.98 49.33H1498.97V58H1479.98zM1536.96 49.33H1565.46V58H1536.96zM1574.96 49.33H1603.45V58H1574.96zM1641.44 49.33H1660.44V58H1641.44zM1669.94 49.33H1679.44V58H1669.94zM1707.93 49.33H1736.43V58H1707.93zM1850.4 49.33H1859.9V58H1850.4zM1470.48 58H1479.98V66.67H1470.48zM1726.93 58H1736.43V66.67H1726.93zM1536.96 66.67H1546.46V75.33H1536.96zM1565.46 66.67H1574.96V75.33H1565.46zM1631.95 66.67H1641.44V75.33H1631.95zM1650.94 66.67H1660.44V75.33H1650.94zM1688.94 66.67H1698.43V75.33H1688.94zM1498.97 75.33H1508.47V84H1498.97zM1536.96 75.33H1546.46V84H1536.96zM1584.46 75.33H1593.95V84H1584.46zM1612.95 75.33H1622.45V84H1612.95zM1650.94 75.33H1660.44V84H1650.94zM1717.43 75.33H1726.93V84H1717.43zM1764.92 75.33H1774.42V84H1764.92zM1584.46 84H1593.95V92.67H1584.46zM1679.44 84H1688.94V92.67H1679.44zM1812.41 84H1821.91V92.67H1812.41zM1831.41 84H1850.4V92.67H1831.41zM1859.9 84H1869.4V92.67H1859.9zM1555.96 92.67H1565.46V101.33H1555.96zM1612.95 92.67H1622.45V101.33H1612.95zM1669.94 92.67H1679.44V101.33H1669.94zM1698.43 92.67H1707.93V101.33H1698.43zM1821.91 92.67H1840.91V101.33H1821.91zM1470.48 101.33H1479.98V110H1470.48zM1498.97 101.33H1508.47V110H1498.97zM1536.96 101.33H1546.46V110H1536.96zM1650.94 101.33H1660.44V110H1650.94zM1679.44 101.33H1688.94V110H1679.44zM1726.93 101.33H1736.43V110H1726.93zM1755.42 101.33H1764.92V110H1755.42zM1793.41 101.33H1802.91V110H1793.41zM1641.44 110H1650.94V118.67H1641.44zM1764.92 110H1774.42V118.67H1764.92zM1527.47 118.67H1546.46V127.33H1527.47zM1641.44 118.67H1660.44V127.33H1641.44zM1688.94 118.67H1698.43V127.33H1688.94zM1498.97 127.33H1527.47V136H1498.97zM1612.95 127.33H1622.45V136H1612.95zM1660.44 127.33H1669.94V136H1660.44zM1774.42 127.33H1783.92V136H1774.42zM1366 136H1375.5V144.67H1366zM1384.99 136H1394.49V144.67H1384.99zM1432.49 136H1441.98V144.67H1432.49zM1603.45 136H1631.95V144.67H1603.45zM1745.92 136H1764.92V144.67H1745.92zM1774.42 136H1783.92V144.67H1774.42zM1375.5 144.67H1384.99V153.33H1375.5zM1622.45 144.67H1631.95V153.33H1622.45zM1641.44 144.67H1650.94V153.33H1641.44zM1679.44 144.67H1688.94V153.33H1679.44zM1375.5 153.33H1384.99V162H1375.5zM1641.44 153.33H1650.94V162H1641.44zM1679.44 153.33H1688.94V162H1679.44zM1774.42 153.33H1783.92V162H1774.42zM1366 162H1375.5V170.67H1366zM1403.99 162H1413.49V170.67H1403.99zM1432.49 162H1441.98V170.67H1432.49zM1460.98 162H1470.48V170.67H1460.98zM1593.95 162H1603.45V170.67H1593.95zM1612.95 162H1622.45V170.67H1612.95zM1641.44 162H1650.94V170.67H1641.44zM1698.43 162H1707.93V170.67H1698.43zM1356.5 170.67H1375.5V179.33H1356.5zM1460.98 170.67H1470.48V179.33H1460.98zM1593.95 170.67H1603.45V179.33H1593.95zM1631.95 170.67H1641.44V179.33H1631.95zM1755.42 170.67H1764.92V179.33H1755.42zM1366 179.33H1375.5V188H1366zM1460.98 179.33H1470.48V188H1460.98zM1356.5 188H1375.5V196.67H1356.5zM1451.48 188H1460.98V196.67H1451.48zM1641.44 188H1650.94V196.67H1641.44zM1679.44 188H1688.94V196.67H1679.44zM1736.43 188H1745.92V196.67H1736.43zM1764.92 188H1774.42V196.67H1764.92zM1375.5 196.67H1384.99V205.33H1375.5zM1394.49 196.67H1413.49V205.33H1394.49zM1432.49 196.67H1441.98V205.33H1432.49zM1451.48 196.67H1460.98V205.33H1451.48zM1574.96 196.67H1584.46V205.33H1574.96zM1612.95 196.67H1622.45V205.33H1612.95zM1641.44 196.67H1650.94V205.33H1641.44zM1356.5 205.33H1384.99V214H1356.5zM1641.44 205.33H1650.94V214H1641.44zM1698.43 205.33H1707.93V214H1698.43zM1774.42 205.33H1783.92V214H1774.42zM1375.5 214H1384.99V222.67H1375.5zM1422.99 214H1432.49V222.67H1422.99zM1679.44 214H1688.94V222.67H1679.44zM1356.5 222.67H1366V231.33H1356.5zM1394.49 222.67H1403.99V231.33H1394.49zM1612.95 222.67H1622.45V231.33H1612.95zM1375.5 231.33H1384.99V240H1375.5zM1536.96 231.33H1546.46V240H1536.96zM1593.95 231.33H1622.45V240H1593.95zM1669.94 231.33H1679.44V240H1669.94zM1707.93 231.33H1717.43V240H1707.93zM1821.91 231.33H1831.41V240H1821.91zM1840.91 231.33H1859.9V240H1840.91zM1375.5 240H1384.99V248.67H1375.5zM1403.99 240H1422.99V248.67H1403.99zM1612.95 240H1631.95V248.67H1612.95zM1764.92 240H1774.42V248.67H1764.92zM1375.5 248.67H1384.99V257.33H1375.5zM1498.97 248.67H1517.97V257.33H1498.97zM1574.96 248.67H1584.46V257.33H1574.96zM1679.44 248.67H1688.94V257.33H1679.44zM1793.41 248.67H1802.91V257.33H1793.41zM1470.48 257.33H1479.98V266H1470.48zM1574.96 257.33H1584.46V266H1574.96zM1631.95 257.33H1641.44V266H1631.95zM1650.94 257.33H1660.44V266H1650.94zM1793.41 257.33H1802.91V266H1793.41zM1403.99 266H1413.49V274.67H1403.99zM1422.99 266H1432.49V274.67H1422.99zM1460.98 266H1479.98V274.67H1460.98zM1498.97 266H1508.47V274.67H1498.97zM1536.96 266H1546.46V274.67H1536.96zM1565.46 266H1593.95V274.67H1565.46zM1679.44 266H1688.94V274.67H1679.44zM1726.93 266H1736.43V274.67H1726.93zM1831.41 266H1850.4V274.67H1831.41zM1470.48 274.67H1489.47V283.33H1470.48zM1584.46 274.67H1593.95V283.33H1584.46zM1679.44 274.67H1688.94V283.33H1679.44zM1698.43 274.67H1707.93V283.33H1698.43zM1793.41 274.67H1802.91V283.33H1793.41zM1394.49 283.33H1403.99V292H1394.49zM1508.47 283.33H1517.97V292H1508.47zM1603.45 283.33H1612.95V292H1603.45zM1375.5 292H1384.99V300.67H1375.5zM1441.98 292H1460.98V300.67H1441.98zM1479.98 292H1508.47V300.67H1479.98zM1527.47 292H1555.96V300.67H1527.47zM1660.44 292H1669.94V300.67H1660.44zM1698.43 292H1707.93V300.67H1698.43zM1783.92 292H1793.41V300.67H1783.92zM1366 300.67H1384.99V309.33H1366zM1394.49 300.67H1413.49V309.33H1394.49zM1432.49 300.67H1441.98V309.33H1432.49zM1451.48 300.67H1460.98V309.33H1451.48zM1603.45 300.67H1612.95V309.33H1603.45zM1679.44 300.67H1688.94V309.33H1679.44zM1460.98 309.33H1470.48V318H1460.98zM1641.44 309.33H1650.94V318H1641.44zM1764.92 309.33H1783.92V318H1764.92zM1375.5 318H1384.99V326.67H1375.5zM1422.99 318H1432.49V326.67H1422.99zM1574.96 318H1584.46V326.67H1574.96zM1413.49 326.67H1422.99V335.33H1413.49zM1432.49 326.67H1441.98V335.33H1432.49zM1479.98 326.67H1498.97V335.33H1479.98zM1527.47 326.67H1536.96V335.33H1527.47zM1555.96 326.67H1565.46V335.33H1555.96zM1593.95 326.67H1603.45V335.33H1593.95zM1612.95 326.67H1631.95V335.33H1612.95zM1650.94 326.67H1660.44V335.33H1650.94zM1698.43 326.67H1726.93V335.33H1698.43zM1831.41 326.67H1840.91V335.33H1831.41zM1366 335.33H1375.5V344H1366zM1394.49 335.33H1403.99V344H1394.49zM1451.48 335.33H1460.98V344H1451.48zM1736.43 335.33H1745.92V344H1736.43zM1422.99 344H1432.49V352.67H1422.99zM1498.97 344H1508.47V352.67H1498.97zM1546.46 344H1555.96V352.67H1546.46zM1622.45 344H1631.95V352.67H1622.45zM1641.44 344H1650.94V352.67H1641.44zM1679.44 344H1688.94V352.67H1679.44zM1736.43 344H1745.92V352.67H1736.43zM1812.41 344H1840.91V352.67H1812.41zM1859.9 344H1869.4V352.67H1859.9zM1366 352.67H1384.99V361.33H1366zM1574.96 352.67H1584.46V361.33H1574.96zM1679.44 352.67H1688.94V361.33H1679.44zM1375.5 361.33H1384.99V370H1375.5zM1403.99 361.33H1413.49V370H1403.99zM1679.44 361.33H1688.94V370H1679.44zM1356.5 370H1394.49V378.67H1356.5zM1432.49 370H1441.98V378.67H1432.49zM1612.95 370H1622.45V378.67H1612.95zM1745.92 370H1774.42V378.67H1745.92zM1850.4 370H1859.9V378.67H1850.4zM1527.47 378.67H1536.96V387.33H1527.47zM1688.94 378.67H1707.93V387.33H1688.94zM1755.42 378.67H1764.92V387.33H1755.42zM1850.4 378.67H1859.9V387.33H1850.4zM1470.48 387.33H1479.98V396H1470.48zM1726.93 387.33H1736.43V396H1726.93zM1432.49 396H1441.98V404.67H1432.49zM1470.48 396H1479.98V404.67H1470.48zM1508.47 396H1517.97V404.67H1508.47zM1726.93 396H1745.92V404.67H1726.93zM1783.92 396H1793.41V404.67H1783.92zM1403.99 404.67H1413.49V413.33H1403.99zM1441.98 404.67H1451.48V413.33H1441.98zM1527.47 404.67H1536.96V413.33H1527.47zM1584.46 404.67H1593.95V413.33H1584.46zM1660.44 404.67H1669.94V413.33H1660.44zM1726.93 404.67H1736.43V413.33H1726.93zM1460.98 413.33H1479.98V422H1460.98zM1489.47 413.33H1498.97V422H1489.47zM1546.46 413.33H1555.96V422H1546.46zM1660.44 413.33H1669.94V422H1660.44zM1783.92 413.33H1802.91V422H1783.92zM1840.91 413.33H1850.4V422H1840.91zM1641.44 422H1650.94V430.67H1641.44zM1755.42 422H1764.92V430.67H1755.42zM1774.42 422H1783.92V430.67H1774.42zM1850.4 422H1859.9V430.67H1850.4zM1366 430.67H1375.5V439.33H1366zM1432.49 430.67H1441.98V439.33H1432.49zM1593.95 430.67H1612.95V439.33H1593.95zM1622.45 430.67H1631.95V439.33H1622.45zM1774.42 430.67H1783.92V439.33H1774.42zM1413.49 448H1422.99V456.67H1413.49zM1698.43 448H1707.93V456.67H1698.43zM1422.99 456.67H1432.49V465.33H1422.99zM1574.96 456.67H1584.46V465.33H1574.96zM1698.43 456.67H1707.93V465.33H1698.43zM1356.5 465.33H1366V474H1356.5zM1413.49 465.33H1432.49V474H1413.49zM1612.95 465.33H1622.45V474H1612.95zM1679.44 465.33H1688.94V474H1679.44zM1698.43 465.33H1707.93V474H1698.43zM1413.49 474H1422.99V482.67H1413.49zM1574.96 474H1584.46V482.67H1574.96zM1612.95 474H1622.45V482.67H1612.95zM1774.42 474H1783.92V482.67H1774.42zM1375.5 482.67H1384.99V491.33H1375.5zM1574.96 482.67H1584.46V491.33H1574.96zM1726.93 482.67H1745.92V491.33H1726.93zM1783.92 482.67H1793.41V491.33H1783.92zM1413.49 491.33H1422.99V500H1413.49zM1698.43 491.33H1707.93V500H1698.43z"/>
<path fill="#00f2ff" d="M1470.48 32H1479.98V40.67H1470.48zM1641.44 32H1650.94V40.67H1641.44zM1660.44 32H1669.94V40.67H1660.44zM1755.42 32H1764.92V40.67H1755.42zM1850.4 32H1859.9V40.67H1850.4zM1460.98 40.67H1470.48V49.33H1460.98zM1536.96 40.67H1546.46V49.33H1536.96zM1555.96 40.67H1574.96V49.33H1555.96zM1631.95 40.67H1641.44V49.33H1631.95zM1669.94 40.67H1679.44V49.33H1669.94zM1717.43 40.67H1726.93V49.33H1717.43zM1736.43 40.67H1745.92V49.33H1736.43zM1802.91 40.67H1850.4V49.33H1802.91zM1498.97 49.33H1508.47V58H1498.97zM1517.97 49.33H1536.96V58H1517.97zM1565.46 49.33H1574.96V58H1565.46zM1612.95 49.33H1622.45V58H1612.95zM1660.44 49.33H1669.94V58H1660.44zM1679.44 49.33H1698.43V58H1679.44zM1802.91 49.33H1812.41V58H1802.91zM1821.91 49.33H1831.41V58H1821.91zM1479.98 58H1527.47V66.67H1479.98zM1536.96 58H1555.96V66.67H1536.96zM1631.95 58H1641.44V66.67H1631.95zM1650.94 58H1669.94V66.67H1650.94zM1688.94 58H1707.93V66.67H1688.94zM1470.48 66.67H1479.98V75.33H1470.48zM1527.47 66.67H1536.96V75.33H1527.47zM1603.45 66.67H1612.95V75.33H1603.45zM1622.45 66.67H1631.95V75.33H1622.45zM1745.92 66.67H1755.42V75.33H1745.92zM1764.92 66.67H1774.42V75.33H1764.92zM1850.4 66.67H1859.9V75.33H1850.4zM1470.48 75.33H1479.98V84H1470.48zM1527.47 75.33H1536.96V84H1527.47zM1593.95 75.33H1603.45V84H1593.95zM1641.44 75.33H1650.94V84H1641.44zM1660.44 75.33H1669.94V84H1660.44zM1688.94 75.33H1698.43V84H1688.94zM1745.92 75.33H1755.42V84H1745.92zM1831.41 75.33H1840.91V84H1831.41zM1479.98 84H1489.47V92.67H1479.98zM1555.96 84H1565.46V92.67H1555.96zM1574.96 84H1584.46V92.67H1574.96zM1622.45 84H1641.44V92.67H1622.45zM1688.94 84H1698.43V92.67H1688.94zM1745.92 84H1755.42V92.67H1745.92zM1802.91 84H1812.41V92.67H1802.91zM1850.4 84H1859.9V92.67H1850.4zM1489.47 92.67H1498.97V101.33H1489.47zM1536.96 92.67H1555.96V101.33H1536.96zM1565.46 92.67H1574.96V101.33H1565.46zM1650.94 92.67H1660.44V101.33H1650.94zM1717.43 92.67H1726.93V101.33H1717.43zM1783.92 92.67H1793.41V101.33H1783.92zM1508.47 101.33H1517.97V110H1508.47zM1622.45 101.33H1641.44V110H1622.45zM1745.92 101.33H1755.42V110H1745.92zM1764.92 101.33H1774.42V110H1764.92zM1850.4 101.33H1859.9V110H1850.4zM1508.47 110H1517.97V118.67H1508.47zM1574.96 110H1584.46V118.67H1574.96zM1508.47 118.67H1517.97V127.33H1508.47zM1574.96 118.67H1584.46V127.33H1574.96zM1631.95 118.67H1641.44V127.33H1631.95zM1679.44 118.67H1688.94V127.33H1679.44zM1745.92 118.67H1764.92V127.33H1745.92zM1366 127.33H1375.5V136H1366zM1574.96 127.33H1584.46V136H1574.96zM1593.95 127.33H1603.45V136H1593.95zM1831.41 127.33H1840.91V136H1831.41zM1859.9 127.33H1869.4V136H1859.9zM1356.5 136H1366V144.67H1356.5zM1394.49 136H1413.49V144.67H1394.49zM1574.96 136H1584.46V144.67H1574.96zM1631.95 136H1641.44V144.67H1631.95zM1698.43 136H1707.93V144.67H1698.43zM1736.43 136H1745.92V144.67H1736.43zM1764.92 136H1774.42V144.67H1764.92zM1859.9 136H1869.4V144.67H1859.9zM1384.99 144.67H1394.49V153.33H1384.99zM1413.49 144.67H1422.99V153.33H1413.49zM1574.96 144.67H1584.46V153.33H1574.96zM1603.45 144.67H1612.95V153.33H1603.45zM1745.92 144.67H1783.92V153.33H1745.92zM1831.41 144.67H1840.91V153.33H1831.41zM1384.99 153.33H1394.49V162H1384.99zM1422.99 153.33H1432.49V162H1422.99zM1603.45 153.33H1631.95V162H1603.45zM1745.92 153.33H1755.42V162H1745.92zM1764.92 153.33H1774.42V162H1764.92zM1375.5 162H1394.49V170.67H1375.5zM1631.95 162H1641.44V170.67H1631.95zM1736.43 162H1783.92V170.67H1736.43zM1384.99 170.67H1394.49V179.33H1384.99zM1432.49 170.67H1460.98V179.33H1432.49zM1612.95 170.67H1622.45V179.33H1612.95zM1641.44 170.67H1650.94V179.33H1641.44zM1726.93 170.67H1736.43V179.33H1726.93zM1745.92 170.67H1755.42V179.33H1745.92zM1764.92 170.67H1774.42V179.33H1764.92zM1859.9 170.67H1869.4V179.33H1859.9zM1375.5 179.33H1394.49V188H1375.5zM1612.95 179.33H1622.45V188H1612.95zM1631.95 179.33H1650.94V188H1631.95zM1698.43 179.33H1707.93V188H1698.43zM1736.43 179.33H1745.92V188H1736.43zM1375.5 188H1384.99V196.67H1375.5zM1394.49 188H1413.49V196.67H1394.49zM1622.45 188H1641.44V196.67H1622.45zM1745.92 188H1764.92V196.67H1745.92zM1831.41 188H1840.91V196.67H1831.41zM1859.9 188H1869.4V196.67H1859.9zM1366 196.67H1375.5V205.33H1366zM1384.99 196.67H1394.49V205.33H1384.99zM1422.99 196.67H1432.49V205.33H1422.99zM1603.45 196.67H1612.95V205.33H1603.45zM1622.45 196.67H1631.95V205.33H1622.45zM1679.44 196.67H1688.94V205.33H1679.44zM1774.42 196.67H1783.92V205.33H1774.42zM1859.9 196.67H1869.4V205.33H1859.9zM1384.99 205.33H1394.49V214H1384.99zM1422.99 205.33H1432.49V214H1422.99zM1603.45 205.33H1612.95V214H1603.45zM1622.45 205.33H1641.44V214H1622.45zM1679.44 205.33H1688.94V214H1679.44zM1745.92 205.33H1774.42V214H1745.92zM1859.9 205.33H1869.4V214H1859.9zM1366 214H1375.5V222.67H1366zM1413.49 214H1422.99V222.67H1413.49zM1574.96 214H1584.46V222.67H1574.96zM1612.95 214H1631.95V222.67H1612.95zM1698.43 214H1707.93V222.67H1698.43zM1774.42 214H1783.92V222.67H1774.42zM1366 222.67H1384.99V231.33H1366zM1422.99 222.67H1432.49V231.33H1422.99zM1631.95 222.67H1650.94V231.33H1631.95zM1698.43 222.67H1707.93V231.33H1698.43zM1755.42 222.67H1764.92V231.33H1755.42zM1774.42 222.67H1783.92V231.33H1774.42zM1413.49 231.33H1422.99V240H1413.49zM1441.98 231.33H1489.47V240H1441.98zM1555.96 231.33H1565.46V240H1555.96zM1622.45 231.33H1631.95V240H1622.45zM1650.94 231.33H1669.94V240H1650.94zM1698.43 231.33H1707.93V240H1698.43zM1717.43 231.33H1736.43V240H1717.43zM1831.41 231.33H1840.91V240H1831.41zM1603.45 240H1612.95V248.67H1603.45zM1631.95 240H1650.94V248.67H1631.95zM1698.43 240H1707.93V248.67H1698.43zM1774.42 240H1783.92V248.67H1774.42zM1403.99 248.67H1413.49V257.33H1403.99zM1460.98 248.67H1470.48V257.33H1460.98zM1641.44 248.67H1650.94V257.33H1641.44zM1660.44 248.67H1669.94V257.33H1660.44zM1802.91 248.67H1812.41V257.33H1802.91zM1394.49 257.33H1403.99V266H1394.49zM1479.98 257.33H1498.97V266H1479.98zM1536.96 257.33H1555.96V266H1536.96zM1584.46 257.33H1593.95V266H1584.46zM1660.44 257.33H1669.94V266H1660.44zM1679.44 257.33H1736.43V266H1679.44zM1802.91 257.33H1812.41V266H1802.91zM1821.91 257.33H1831.41V266H1821.91zM1840.91 257.33H1850.4V266H1840.91zM1375.5 266H1384.99V274.67H1375.5zM1489.47 266H1498.97V274.67H1489.47zM1508.47 266H1527.47V274.67H1508.47zM1555.96 266H1565.46V274.67H1555.96zM1669.94 266H1679.44V274.67H1669.94zM1688.94 266H1698.43V274.67H1688.94zM1707.93 266H1726.93V274.67H1707.93zM1774.42 266H1783.92V274.67H1774.42zM1793.41 266H1802.91V274.67H1793.41zM1821.91 266H1831.41V274.67H1821.91zM1394.49 274.67H1403.99V283.33H1394.49zM1413.49 274.67H1422.99V283.33H1413.49zM1432.49 274.67H1441.98V283.33H1432.49zM1489.47 274.67H1498.97V283.33H1489.47zM1527.47 274.67H1565.46V283.33H1527.47zM1574.96 274.67H1584.46V283.33H1574.96zM1631.95 274.67H1641.44V283.33H1631.95zM1650.94 274.67H1660.44V283.33H1650.94zM1707.93 274.67H1717.43V283.33H1707.93zM1726.93 274.67H1736.43V283.33H1726.93zM1755.42 274.67H1764.92V283.33H1755.42zM1366 283.33H1375.5V292H1366zM1384.99 283.33H1394.49V292H1384.99zM1413.49 283.33H1422.99V292H1413.49zM1432.49 283.33H1441.98V292H1432.49zM1451.48 283.33H1460.98V292H1451.48zM1470.48 283.33H1479.98V292H1470.48zM1498.97 283.33H1508.47V292H1498.97zM1517.97 283.33H1536.96V292H1517.97zM1546.46 283.33H1555.96V292H1546.46zM1565.46 283.33H1574.96V292H1565.46zM1584.46 283.33H1593.95V292H1584.46zM1622.45 283.33H1631.95V292H1622.45zM1641.44 283.33H1650.94V292H1641.44zM1669.94 283.33H1679.44V292H1669.94zM1745.92 283.33H1755.42V292H1745.92zM1764.92 283.33H1774.42V292H1764.92zM1783.92 283.33H1793.41V292H1783.92zM1356.5 292H1366V300.67H1356.5zM1403.99 292H1413.49V300.67H1403.99zM1508.47 292H1527.47V300.67H1508.47zM1565.46 292H1574.96V300.67H1565.46zM1584.46 292H1603.45V300.67H1584.46zM1631.95 292H1641.44V300.67H1631.95zM1726.93 292H1745.92V300.67H1726.93zM1812.41 292H1821.91V300.67H1812.41zM1840.91 292H1850.4V300.67H1840.91zM1384.99 300.67H1394.49V309.33H1384.99zM1422.99 300.67H1432.49V309.33H1422.99zM1574.96 300.67H1584.46V309.33H1574.96zM1622.45 300.67H1631.95V309.33H1622.45zM1774.42 300.67H1783.92V309.33H1774.42zM1356.5 309.33H1366V318H1356.5zM1375.5 309.33H1394.49V318H1375.5zM1403.99 309.33H1413.49V318H1403.99zM1574.96 309.33H1584.46V318H1574.96zM1593.95 309.33H1612.95V318H1593.95zM1679.44 309.33H1688.94V318H1679.44zM1736.43 309.33H1755.42V318H1736.43zM1783.92 309.33H1793.41V318H1783.92zM1812.41 309.33H1821.91V318H1812.41zM1366 318H1375.5V326.67H1366zM1612.95 318H1622.45V326.67H1612.95zM1631.95 318H1641.44V326.67H1631.95zM1698.43 318H1707.93V326.67H1698.43zM1859.9 318H1869.4V326.67H1859.9zM1375.5 326.67H1384.99V335.33H1375.5zM1451.48 326.67H1460.98V335.33H1451.48zM1536.96 326.67H1555.96V335.33H1536.96zM1603.45 326.67H1612.95V335.33H1603.45zM1660.44 326.67H1669.94V335.33H1660.44zM1375.5 335.33H1394.49V344H1375.5zM1403.99 335.33H1422.99V344H1403.99zM1603.45 335.33H1622.45V344H1603.45zM1726.93 335.33H1736.43V344H1726.93zM1764.92 335.33H1783.92V344H1764.92zM1384.99 344H1394.49V352.67H1384.99zM1470.48 344H1479.98V352.67H1470.48zM1517.97 344H1527.47V352.67H1517.97zM1555.96 344H1593.95V352.67H1555.96zM1603.45 344H1612.95V352.67H1603.45zM1669.94 344H1679.44V352.67H1669.94zM1726.93 344H1736.43V352.67H1726.93zM1745.92 344H1755.42V352.67H1745.92zM1764.92 344H1774.42V352.67H1764.92zM1802.91 344H1812.41V352.67H1802.91zM1840.91 344H1850.4V352.67H1840.91zM1603.45 352.67H1631.95V361.33H1603.45zM1774.42 352.67H1783.92V361.33H1774.42zM1366 361.33H1375.5V370H1366zM1422.99 361.33H1432.49V370H1422.99zM1574.96 361.33H1584.46V370H1574.96zM1603.45 361.33H1622.45V370H1603.45zM1764.92 361.33H1774.42V370H1764.92zM1508.47 370H1517.97V378.67H1508.47zM1574.96 370H1584.46V378.67H1574.96zM1603.45 370H1612.95V378.67H1603.45zM1622.45 370H1631.95V378.67H1622.45zM1641.44 370H1650.94V378.67H1641.44zM1688.94 370H1707.93V378.67H1688.94zM1783.92 370H1793.41V378.67H1783.92zM1831.41 370H1840.91V378.67H1831.41zM1366 378.67H1375.5V387.33H1366zM1470.48 378.67H1479.98V387.33H1470.48zM1498.97 378.67H1508.47V387.33H1498.97zM1517.97 378.67H1527.47V387.33H1517.97zM1641.44 378.67H1650.94V387.33H1641.44zM1660.44 378.67H1669.94V387.33H1660.44zM1745.92 378.67H1755.42V387.33H1745.92zM1774.42 378.67H1783.92V387.33H1774.42zM1831.41 378.67H1840.91V387.33H1831.41zM1394.49 387.33H1422.99V396H1394.49zM1432.49 387.33H1441.98V396H1432.49zM1451.48 387.33H1460.98V396H1451.48zM1479.98 387.33H1517.97V396H1479.98zM1527.47 387.33H1536.96V396H1527.47zM1546.46 387.33H1555.96V396H1546.46zM1631.95 387.33H1641.44V396H1631.95zM1660.44 387.33H1669.94V396H1660.44zM1698.43 387.33H1707.93V396H1698.43zM1736.43 387.33H1745.92V396H1736.43zM1793.41 387.33H1812.41V396H1793.41zM1831.41 387.33H1840.91V396H1831.41zM1356.5 396H1366V404.67H1356.5zM1451.48 396H1460.98V404.67H1451.48zM1479.98 396H1489.47V404.67H1479.98zM1498.97 396H1508.47V404.67H1498.97zM1527.47 396H1536.96V404.67H1527.47zM1546.46 396H1555.96V404.67H1546.46zM1565.46 396H1574.96V404.67H1565.46zM1622.45 396H1631.95V404.67H1622.45zM1793.41 396H1802.91V404.67H1793.41zM1821.91 396H1850.4V404.67H1821.91zM1394.49 404.67H1403.99V413.33H1394.49zM1432.49 404.67H1441.98V413.33H1432.49zM1470.48 404.67H1517.97V413.33H1470.48zM1546.46 404.67H1555.96V413.33H1546.46zM1631.95 404.67H1641.44V413.33H1631.95zM1688.94 404.67H1707.93V413.33H1688.94zM1717.43 404.67H1726.93V413.33H1717.43zM1840.91 404.67H1850.4V413.33H1840.91zM1479.98 413.33H1489.47V422H1479.98zM1498.97 413.33H1508.47V422H1498.97zM1536.96 413.33H1546.46V422H1536.96zM1555.96 413.33H1574.96V422H1555.96zM1584.46 413.33H1593.95V422H1584.46zM1612.95 413.33H1622.45V422H1612.95zM1650.94 413.33H1660.44V422H1650.94zM1688.94 413.33H1698.43V422H1688.94zM1707.93 413.33H1717.43V422H1707.93zM1736.43 413.33H1745.92V422H1736.43zM1422.99 422H1432.49V430.67H1422.99zM1631.95 422H1641.44V430.67H1631.95zM1660.44 422H1669.94V430.67H1660.44zM1726.93 422H1736.43V430.67H1726.93zM1612.95 430.67H1622.45V439.33H1612.95zM1745.92 430.67H1764.92V439.33H1745.92zM1859.9 430.67H1869.4V439.33H1859.9zM1366 439.33H1384.99V448H1366zM1413.49 439.33H1422.99V448H1413.49zM1593.95 439.33H1612.95V448H1593.95zM1698.43 439.33H1707.93V448H1698.43zM1745.92 439.33H1755.42V448H1745.92zM1366 448H1375.5V456.67H1366zM1641.44 448H1650.94V456.67H1641.44zM1660.44 448H1669.94V456.67H1660.44zM1366 456.67H1384.99V465.33H1366zM1603.45 456.67H1622.45V465.33H1603.45zM1755.42 456.67H1764.92V465.33H1755.42zM1366 465.33H1375.5V474H1366zM1403.99 465.33H1413.49V474H1403.99zM1460.98 465.33H1470.48V474H1460.98zM1479.98 465.33H1489.47V474H1479.98zM1527.47 465.33H1536.96V474H1527.47zM1574.96 465.33H1584.46V474H1574.96zM1726.93 465.33H1764.92V474H1726.93zM1366 474H1375.5V482.67H1366zM1603.45 474H1612.95V482.67H1603.45zM1641.44 474H1650.94V482.67H1641.44zM1698.43 474H1707.93V482.67H1698.43zM1755.42 474H1774.42V482.67H1755.42zM1356.5 482.67H1366V491.33H1356.5zM1394.49 482.67H1403.99V491.33H1394.49zM1413.49 482.67H1422.99V491.33H1413.49zM1432.49 482.67H1441.98V491.33H1432.49zM1460.98 491.33H1479.98V500H1460.98zM1508.47 491.33H1517.97V500H1508.47zM1527.47 491.33H1555.96V500H1527.47zM1669.94 491.33H1679.44V500H1669.94zM1793.41 491.33H1802.91V500H1793.41z"/>
<path fill="#40ffbf" d="M1422.99 32H1432.49V40.67H1422.99zM1622.45 32H1631.95V40.67H1622.45zM1698.43 32H1707.93V40.67H1698.43zM1764.92 32H1774.42V40.67H1764.92zM1375.5 40.67H1384.99V49.33H1375.5zM1489.47 40.67H1498.97V49.33H1489.47zM1622.45 40.67H1631.95V49.33H1622.45zM1641.44 40.67H1650.94V49.33H1641.44zM1660.44 40.67H1669.94V49.33H1660.44zM1774.42 40.67H1783.92V49.33H1774.42zM1366 49.33H1375.5V58H1366zM1451.48 49.33H1460.98V58H1451.48zM1470.48 49.33H1479.98V58H1470.48zM1508.47 49.33H1517.97V58H1508.47zM1745.92 49.33H1755.42V58H1745.92zM1831.41 49.33H1840.91V58H1831.41zM1859.9 49.33H1869.4V58H1859.9zM1403.99 58H1422.99V66.67H1403.99zM1432.49 58H1460.98V66.67H1432.49zM1555.96 58H1565.46V66.67H1555.96zM1593.95 58H1603.45V66.67H1593.95zM1612.95 58H1622.45V66.67H1612.95zM1707.93 58H1726.93V66.67H1707.93zM1840.91 58H1850.4V66.67H1840.91zM1422.99 66.67H1432.49V75.33H1422.99zM1698.43 66.67H1707.93V75.33H1698.43zM1384.99 75.33H1394.49V84H1384.99zM1451.48 75.33H1460.98V84H1451.48zM1574.96 75.33H1584.46V84H1574.96zM1726.93 75.33H1736.43V84H1726.93zM1384.99 84H1394.49V92.67H1384.99zM1460.98 84H1470.48V92.67H1460.98zM1612.95 84H1622.45V92.67H1612.95zM1669.94 84H1679.44V92.67H1669.94zM1707.93 84H1726.93V92.67H1707.93zM1764.92 84H1774.42V92.67H1764.92zM1821.91 84H1831.41V92.67H1821.91zM1356.5 92.67H1366V101.33H1356.5zM1394.49 92.67H1403.99V101.33H1394.49zM1517.97 92.67H1527.47V101.33H1517.97zM1584.46 92.67H1593.95V101.33H1584.46zM1603.45 92.67H1612.95V101.33H1603.45zM1622.45 92.67H1631.95V101.33H1622.45zM1660.44 92.67H1669.94V101.33H1660.44zM1726.93 92.67H1736.43V101.33H1726.93zM1384.99 101.33H1394.49V110H1384.99zM1527.47 101.33H1536.96V110H1527.47zM1384.99 110H1394.49V118.67H1384.99zM1375.5 118.67H1394.49V127.33H1375.5zM1403.99 118.67H1413.49V127.33H1403.99zM1622.45 118.67H1631.95V127.33H1622.45zM1660.44 118.67H1669.94V127.33H1660.44zM1726.93 118.67H1736.43V127.33H1726.93zM1764.92 118.67H1774.42V127.33H1764.92zM1850.4 118.67H1859.9V127.33H1850.4zM1413.49 127.33H1422.99V136H1413.49zM1641.44 127.33H1650.94V136H1641.44zM1375.5 136H1384.99V144.67H1375.5zM1831.41 136H1850.4V144.67H1831.41zM1793.41 144.67H1802.91V153.33H1793.41zM1812.41 144.67H1821.91V153.33H1812.41zM1850.4 144.67H1869.4V153.33H1850.4zM1366 153.33H1375.5V162H1366zM1574.96 153.33H1584.46V162H1574.96zM1631.95 153.33H1641.44V162H1631.95zM1698.43 153.33H1707.93V162H1698.43zM1755.42 153.33H1764.92V162H1755.42zM1859.9 153.33H1869.4V162H1859.9zM1603.45 162H1612.95V170.67H1603.45zM1622.45 162H1631.95V170.67H1622.45zM1679.44 162H1688.94V170.67H1679.44zM1831.41 162H1840.91V170.67H1831.41zM1859.9 162H1869.4V170.67H1859.9zM1375.5 170.67H1384.99V179.33H1375.5zM1603.45 170.67H1612.95V179.33H1603.45zM1622.45 170.67H1631.95V179.33H1622.45zM1698.43 170.67H1707.93V179.33H1698.43zM1831.41 170.67H1840.91V179.33H1831.41zM1850.4 170.67H1859.9V179.33H1850.4zM1422.99 179.33H1432.49V188H1422.99zM1603.45 179.33H1612.95V188H1603.45zM1622.45 179.33H1631.95V188H1622.45zM1679.44 179.33H1688.94V188H1679.44zM1745.92 179.33H1783.92V188H1745.92zM1859.9 179.33H1869.4V188H1859.9zM1432.49 188H1441.98V196.67H1432.49zM1574.96 188H1584.46V196.67H1574.96zM1603.45 188H1622.45V196.67H1603.45zM1698.43 188H1707.93V196.67H1698.43zM1850.4 188H1859.9V196.67H1850.4zM1631.95 196.67H1641.44V205.33H1631.95zM1698.43 196.67H1707.93V205.33H1698.43zM1745.92 196.67H1774.42V205.33H1745.92zM1574.96 205.33H1584.46V214H1574.96zM1384.99 214H1394.49V222.67H1384.99zM1603.45 214H1612.95V222.67H1603.45zM1631.95 214H1650.94V222.67H1631.95zM1745.92 214H1755.42V222.67H1745.92zM1764.92 214H1774.42V222.67H1764.92zM1859.9 214H1869.4V222.67H1859.9zM1574.96 222.67H1584.46V231.33H1574.96zM1603.45 222.67H1612.95V231.33H1603.45zM1622.45 222.67H1631.95V231.33H1622.45zM1745.92 222.67H1755.42V231.33H1745.92zM1859.9 222.67H1869.4V231.33H1859.9zM1403.99 231.33H1413.49V240H1403.99zM1489.47 231.33H1498.97V240H1489.47zM1527.47 231.33H1536.96V240H1527.47zM1546.46 231.33H1555.96V240H1546.46zM1565.46 231.33H1574.96V240H1565.46zM1736.43 231.33H1745.92V240H1736.43zM1422.99 240H1432.49V248.67H1422.99zM1679.44 240H1688.94V248.67H1679.44zM1745.92 240H1764.92V248.67H1745.92zM1859.9 240H1869.4V248.67H1859.9zM1384.99 248.67H1394.49V257.33H1384.99zM1631.95 248.67H1641.44V257.33H1631.95zM1745.92 248.67H1755.42V257.33H1745.92zM1764.92 248.67H1783.92V257.33H1764.92zM1859.9 248.67H1869.4V257.33H1859.9zM1422.99 257.33H1432.49V266H1422.99zM1498.97 257.33H1536.96V266H1498.97zM1555.96 257.33H1574.96V266H1555.96zM1669.94 257.33H1679.44V266H1669.94zM1812.41 257.33H1821.91V266H1812.41zM1831.41 257.33H1840.91V266H1831.41zM1384.99 266H1394.49V274.67H1384.99zM1413.49 266H1422.99V274.67H1413.49zM1527.47 266H1536.96V274.67H1527.47zM1650.94 266H1660.44V274.67H1650.94zM1736.43 266H1745.92V274.67H1736.43zM1764.92 266H1774.42V274.67H1764.92zM1802.91 266H1812.41V274.67H1802.91zM1859.9 266H1869.4V274.67H1859.9zM1356.5 274.67H1375.5V283.33H1356.5zM1422.99 274.67H1432.49V283.33H1422.99zM1451.48 274.67H1460.98V283.33H1451.48zM1498.97 274.67H1527.47V283.33H1498.97zM1565.46 274.67H1574.96V283.33H1565.46zM1660.44 274.67H1679.44V283.33H1660.44zM1688.94 274.67H1698.43V283.33H1688.94zM1717.43 274.67H1726.93V283.33H1717.43zM1745.92 274.67H1755.42V283.33H1745.92zM1802.91 274.67H1859.9V283.33H1802.91zM1489.47 283.33H1498.97V292H1489.47zM1536.96 283.33H1546.46V292H1536.96zM1555.96 283.33H1565.46V292H1555.96zM1593.95 283.33H1603.45V292H1593.95zM1660.44 283.33H1669.94V292H1660.44zM1688.94 283.33H1698.43V292H1688.94zM1755.42 283.33H1764.92V292H1755.42zM1831.41 283.33H1850.4V292H1831.41zM1859.9 283.33H1869.4V292H1859.9zM1366 292H1375.5V300.67H1366zM1460.98 292H1470.48V300.67H1460.98zM1555.96 292H1565.46V300.67H1555.96zM1650.94 292H1660.44V300.67H1650.94zM1669.94 292H1679.44V300.67H1669.94zM1688.94 292H1698.43V300.67H1688.94zM1707.93 292H1717.43V300.67H1707.93zM1745.92 292H1755.42V300.67H1745.92zM1793.41 292H1812.41V300.67H1793.41zM1859.9 292H1869.4V300.67H1859.9zM1612.95 300.67H1622.45V309.33H1612.95zM1641.44 300.67H1650.94V309.33H1641.44zM1755.42 300.67H1774.42V309.33H1755.42zM1859.9 300.67H1869.4V309.33H1859.9zM1366 309.33H1375.5V318H1366zM1422.99 309.33H1432.49V318H1422.99zM1451.48 309.33H1460.98V318H1451.48zM1622.45 309.33H1641.44V318H1622.45zM1755.42 309.33H1764.92V318H1755.42zM1831.41 309.33H1840.91V318H1831.41zM1859.9 309.33H1869.4V318H1859.9zM1413.49 318H1422.99V326.67H1413.49zM1603.45 318H1612.95V326.67H1603.45zM1622.45 318H1631.95V326.67H1622.45zM1641.44 318H1650.94V326.67H1641.44zM1755.42 318H1764.92V326.67H1755.42zM1774.42 318H1783.92V326.67H1774.42zM1498.97 326.67H1508.47V335.33H1498.97zM1517.97 326.67H1527.47V335.33H1517.97zM1584.46 326.67H1593.95V335.33H1584.46zM1622.45 335.33H1650.94V344H1622.45zM1745.92 335.33H1764.92V344H1745.92zM1859.9 335.33H1869.4V344H1859.9zM1356.5 344H1366V352.67H1356.5zM1394.49 344H1403.99V352.67H1394.49zM1489.47 344H1498.97V352.67H1489.47zM1508.47 344H1517.97V352.67H1508.47zM1527.47 344H1546.46V352.67H1527.47zM1707.93 344H1726.93V352.67H1707.93zM1755.42 344H1764.92V352.67H1755.42zM1384.99 352.67H1394.49V361.33H1384.99zM1413.49 352.67H1422.99V361.33H1413.49zM1641.44 352.67H1650.94V361.33H1641.44zM1698.43 352.67H1707.93V361.33H1698.43zM1745.92 352.67H1774.42V361.33H1745.92zM1384.99 361.33H1394.49V370H1384.99zM1413.49 361.33H1422.99V370H1413.49zM1622.45 361.33H1631.95V370H1622.45zM1698.43 361.33H1707.93V370H1698.43zM1755.42 361.33H1764.92V370H1755.42zM1774.42 361.33H1783.92V370H1774.42zM1403.99 370H1413.49V378.67H1403.99zM1422.99 370H1432.49V378.67H1422.99zM1451.48 370H1460.98V378.67H1451.48zM1736.43 370H1745.92V378.67H1736.43zM1574.96 378.67H1584.46V387.33H1574.96zM1612.95 378.67H1622.45V387.33H1612.95zM1726.93 378.67H1736.43V387.33H1726.93zM1764.92 378.67H1774.42V387.33H1764.92zM1859.9 378.67H1869.4V387.33H1859.9zM1375.5 387.33H1384.99V396H1375.5zM1517.97 387.33H1527.47V396H1517.97zM1536.96 387.33H1546.46V396H1536.96zM1555.96 387.33H1574.96V396H1555.96zM1584.46 387.33H1603.45V396H1584.46zM1622.45 387.33H1631.95V396H1622.45zM1641.44 387.33H1650.94V396H1641.44zM1688.94 387.33H1698.43V396H1688.94zM1707.93 387.33H1717.43V396H1707.93zM1774.42 387.33H1793.41V396H1774.42zM1812.41 387.33H1831.41V396H1812.41zM1840.91 387.33H1850.4V396H1840.91zM1489.47 396H1498.97V404.67H1489.47zM1517.97 396H1527.47V404.67H1517.97zM1536.96 396H1546.46V404.67H1536.96zM1584.46 396H1593.95V404.67H1584.46zM1631.95 396H1641.44V404.67H1631.95zM1650.94 396H1679.44V404.67H1650.94zM1688.94 396H1726.93V404.67H1688.94zM1812.41 396H1821.91V404.67H1812.41zM1356.5 404.67H1366V413.33H1356.5zM1413.49 404.67H1422.99V413.33H1413.49zM1451.48 404.67H1460.98V413.33H1451.48zM1517.97 404.67H1527.47V413.33H1517.97zM1536.96 404.67H1546.46V413.33H1536.96zM1555.96 404.67H1565.46V413.33H1555.96zM1593.95 404.67H1603.45V413.33H1593.95zM1612.95 404.67H1622.45V413.33H1612.95zM1650.94 404.67H1660.44V413.33H1650.94zM1707.93 404.67H1717.43V413.33H1707.93zM1736.43 404.67H1745.92V413.33H1736.43zM1802.91 404.67H1840.91V413.33H1802.91zM1366 413.33H1375.5V422H1366zM1517.97 413.33H1527.47V422H1517.97zM1593.95 413.33H1603.45V422H1593.95zM1669.94 413.33H1679.44V422H1669.94zM1717.43 413.33H1726.93V422H1717.43zM1745.92 413.33H1755.42V422H1745.92zM1821.91 413.33H1831.41V422H1821.91zM1745.92 422H1755.42V430.67H1745.92zM1479.98 430.67H1489.47V439.33H1479.98zM1641.44 430.67H1650.94V439.33H1641.44zM1612.95 439.33H1631.95V448H1612.95zM1641.44 439.33H1650.94V448H1641.44zM1764.92 439.33H1774.42V448H1764.92zM1479.98 448H1489.47V456.67H1479.98zM1603.45 448H1612.95V456.67H1603.45zM1622.45 448H1631.95V456.67H1622.45zM1745.92 448H1774.42V456.67H1745.92zM1413.49 456.67H1422.99V465.33H1413.49zM1622.45 456.67H1631.95V465.33H1622.45zM1745.92 456.67H1755.42V465.33H1745.92zM1764.92 456.67H1783.92V465.33H1764.92zM1375.5 465.33H1384.99V474H1375.5zM1470.48 465.33H1479.98V474H1470.48zM1498.97 465.33H1517.97V474H1498.97zM1603.45 465.33H1612.95V474H1603.45zM1622.45 465.33H1641.44V474H1622.45zM1660.44 465.33H1669.94V474H1660.44zM1764.92 465.33H1774.42V474H1764.92zM1840.91 465.33H1859.9V474H1840.91zM1384.99 474H1394.49V482.67H1384.99zM1470.48 474H1479.98V482.67H1470.48zM1622.45 474H1641.44V482.67H1622.45zM1745.92 474H1755.42V482.67H1745.92zM1831.41 474H1840.91V482.67H1831.41zM1859.9 474H1869.4V482.67H1859.9zM1451.48 482.67H1460.98V491.33H1451.48zM1479.98 482.67H1489.47V491.33H1479.98zM1508.47 482.67H1517.97V491.33H1508.47zM1527.47 482.67H1536.96V491.33H1527.47zM1622.45 482.67H1631.95V491.33H1622.45zM1831.41 482.67H1840.91V491.33H1831.41zM1375.5 491.33H1384.99V500H1375.5zM1479.98 491.33H1508.47V500H1479.98zM1517.97 491.33H1527.47V500H1517.97zM1555.96 491.33H1574.96V500H1555.96zM1584.46 491.33H1603.45V500H1584.46zM1612.95 491.33H1622.45V500H1612.95zM1631.95 491.33H1669.94V500H1631.95zM1688.94 491.33H1698.43V500H1688.94zM1736.43 491.33H1745.92V500H1736.43zM1840.91 491.33H1850.4V500H1840.91z"/>
<path fill="#80ff80" d="M1403.99 32H1413.49V40.67H1403.99zM1441.98 32H1451.48V40.67H1441.98zM1603.45 32H1612.95V40.67H1603.45zM1736.43 32H1755.42V40.67H1736.43zM1394.49 40.67H1403.99V49.33H1394.49zM1413.49 40.67H1422.99V49.33H1413.49zM1432.49 40.67H1441.98V49.33H1432.49zM1603.45 40.67H1612.95V49.33H1603.45zM1698.43 40.67H1707.93V49.33H1698.43zM1764.92 40.67H1774.42V49.33H1764.92zM1859.9 40.67H1869.4V49.33H1859.9zM1422.99 49.33H1441.98V58H1422.99zM1460.98 49.33H1470.48V58H1460.98zM1622.45 49.33H1631.95V58H1622.45zM1764.92 49.33H1793.41V58H1764.92zM1394.49 58H1403.99V66.67H1394.49zM1460.98 58H1470.48V66.67H1460.98zM1565.46 58H1574.96V66.67H1565.46zM1669.94 58H1679.44V66.67H1669.94zM1755.42 58H1764.92V66.67H1755.42zM1783.92 58H1840.91V66.67H1783.92zM1850.4 58H1859.9V66.67H1850.4zM1366 66.67H1375.5V75.33H1366zM1384.99 66.67H1394.49V75.33H1384.99zM1612.95 66.67H1622.45V75.33H1612.95zM1660.44 66.67H1669.94V75.33H1660.44zM1736.43 66.67H1745.92V75.33H1736.43zM1356.5 75.33H1366V84H1356.5zM1432.49 75.33H1441.98V84H1432.49zM1508.47 75.33H1517.97V84H1508.47zM1603.45 75.33H1612.95V84H1603.45zM1622.45 75.33H1631.95V84H1622.45zM1679.44 75.33H1688.94V84H1679.44zM1783.92 75.33H1793.41V84H1783.92zM1366 84H1375.5V92.67H1366zM1441.98 84H1451.48V92.67H1441.98zM1489.47 84H1527.47V92.67H1489.47zM1536.96 84H1555.96V92.67H1536.96zM1565.46 84H1574.96V92.67H1565.46zM1593.95 84H1603.45V92.67H1593.95zM1650.94 84H1660.44V92.67H1650.94zM1698.43 84H1707.93V92.67H1698.43zM1736.43 84H1745.92V92.67H1736.43zM1793.41 84H1802.91V92.67H1793.41zM1375.5 92.67H1384.99V101.33H1375.5zM1451.48 92.67H1479.98V101.33H1451.48zM1498.97 92.67H1508.47V101.33H1498.97zM1527.47 92.67H1536.96V101.33H1527.47zM1688.94 92.67H1698.43V101.33H1688.94zM1366 101.33H1384.99V110H1366zM1403.99 101.33H1413.49V110H1403.99zM1441.98 101.33H1451.48V110H1441.98zM1460.98 101.33H1470.48V110H1460.98zM1603.45 101.33H1622.45V110H1603.45zM1736.43 101.33H1745.92V110H1736.43zM1356.5 110H1366V118.67H1356.5zM1413.49 110H1422.99V118.67H1413.49zM1432.49 110H1441.98V118.67H1432.49zM1451.48 110H1460.98V118.67H1451.48zM1603.45 110H1612.95V118.67H1603.45zM1622.45 110H1631.95V118.67H1622.45zM1679.44 110H1688.94V118.67H1679.44zM1726.93 110H1736.43V118.67H1726.93zM1422.99 118.67H1432.49V127.33H1422.99zM1441.98 118.67H1451.48V127.33H1441.98zM1603.45 118.67H1612.95V127.33H1603.45zM1736.43 118.67H1745.92V127.33H1736.43zM1375.5 127.33H1394.49V136H1375.5zM1422.99 127.33H1441.98V136H1422.99zM1679.44 127.33H1688.94V136H1679.44zM1764.92 127.33H1774.42V136H1764.92zM1422.99 136H1432.49V144.67H1422.99zM1802.91 136H1821.91V144.67H1802.91zM1850.4 136H1859.9V144.67H1850.4zM1565.46 144.67H1574.96V153.33H1565.46zM1650.94 144.67H1679.44V153.33H1650.94zM1688.94 144.67H1698.43V153.33H1688.94zM1802.91 144.67H1812.41V153.33H1802.91zM1821.91 144.67H1831.41V153.33H1821.91zM1840.91 144.67H1850.4V153.33H1840.91zM1413.49 153.33H1422.99V162H1413.49zM1831.41 153.33H1840.91V162H1831.41zM1850.4 153.33H1859.9V162H1850.4zM1413.49 162H1432.49V170.67H1413.49zM1574.96 162H1584.46V170.67H1574.96zM1660.44 162H1669.94V170.67H1660.44zM1850.4 162H1859.9V170.67H1850.4zM1403.99 170.67H1422.99V179.33H1403.99zM1736.43 170.67H1745.92V179.33H1736.43zM1793.41 170.67H1821.91V179.33H1793.41zM1840.91 170.67H1850.4V179.33H1840.91zM1413.49 179.33H1422.99V188H1413.49zM1831.41 179.33H1840.91V188H1831.41zM1850.4 179.33H1859.9V188H1850.4zM1422.99 188H1432.49V196.67H1422.99zM1812.41 188H1821.91V196.67H1812.41zM1413.49 196.67H1422.99V205.33H1413.49zM1831.41 196.67H1840.91V205.33H1831.41zM1850.4 196.67H1859.9V205.33H1850.4zM1413.49 205.33H1422.99V214H1413.49zM1831.41 205.33H1840.91V214H1831.41zM1850.4 205.33H1859.9V214H1850.4zM1755.42 214H1764.92V222.67H1755.42zM1831.41 214H1840.91V222.67H1831.41zM1850.4 214H1859.9V222.67H1850.4zM1384.99 222.67H1394.49V231.33H1384.99zM1413.49 222.67H1422.99V231.33H1413.49zM1479.98 222.67H1489.47V231.33H1479.98zM1764.92 222.67H1774.42V231.33H1764.92zM1831.41 222.67H1840.91V231.33H1831.41zM1850.4 222.67H1859.9V231.33H1850.4zM1498.97 231.33H1508.47V240H1498.97zM1584.46 231.33H1593.95V240H1584.46zM1574.96 240H1584.46V248.67H1574.96zM1793.41 240H1802.91V248.67H1793.41zM1831.41 240H1840.91V248.67H1831.41zM1850.4 240H1859.9V248.67H1850.4zM1413.49 248.67H1422.99V257.33H1413.49zM1603.45 248.67H1612.95V257.33H1603.45zM1622.45 248.67H1631.95V257.33H1622.45zM1698.43 248.67H1707.93V257.33H1698.43zM1736.43 248.67H1745.92V257.33H1736.43zM1755.42 248.67H1764.92V257.33H1755.42zM1850.4 248.67H1859.9V257.33H1850.4zM1356.5 257.33H1375.5V266H1356.5zM1403.99 257.33H1413.49V266H1403.99zM1432.49 257.33H1460.98V266H1432.49zM1593.95 257.33H1603.45V266H1593.95zM1612.95 257.33H1622.45V266H1612.95zM1745.92 257.33H1764.92V266H1745.92zM1783.92 257.33H1793.41V266H1783.92zM1850.4 257.33H1859.9V266H1850.4zM1394.49 266H1403.99V274.67H1394.49zM1432.49 266H1441.98V274.67H1432.49zM1603.45 266H1612.95V274.67H1603.45zM1622.45 266H1631.95V274.67H1622.45zM1641.44 266H1650.94V274.67H1641.44zM1660.44 266H1669.94V274.67H1660.44zM1375.5 274.67H1384.99V283.33H1375.5zM1403.99 274.67H1413.49V283.33H1403.99zM1441.98 274.67H1451.48V283.33H1441.98zM1593.95 274.67H1603.45V283.33H1593.95zM1612.95 274.67H1622.45V283.33H1612.95zM1783.92 274.67H1793.41V283.33H1783.92zM1650.94 283.33H1660.44V292H1650.94zM1698.43 283.33H1707.93V292H1698.43zM1717.43 283.33H1726.93V292H1717.43zM1774.42 283.33H1783.92V292H1774.42zM1812.41 283.33H1831.41V292H1812.41zM1612.95 292H1622.45V300.67H1612.95zM1717.43 292H1726.93V300.67H1717.43zM1755.42 292H1774.42V300.67H1755.42zM1821.91 292H1831.41V300.67H1821.91zM1850.4 292H1859.9V300.67H1850.4zM1413.49 300.67H1422.99V309.33H1413.49zM1479.98 300.67H1489.47V309.33H1479.98zM1631.95 300.67H1641.44V309.33H1631.95zM1745.92 300.67H1755.42V309.33H1745.92zM1831.41 300.67H1840.91V309.33H1831.41zM1394.49 309.33H1403.99V318H1394.49zM1479.98 309.33H1489.47V318H1479.98zM1498.97 309.33H1508.47V318H1498.97zM1612.95 309.33H1622.45V318H1612.95zM1669.94 309.33H1679.44V318H1669.94zM1840.91 309.33H1859.9V318H1840.91zM1384.99 318H1394.49V326.67H1384.99zM1479.98 318H1489.47V326.67H1479.98zM1660.44 318H1669.94V326.67H1660.44zM1745.92 318H1755.42V326.67H1745.92zM1764.92 318H1774.42V326.67H1764.92zM1831.41 318H1840.91V326.67H1831.41zM1403.99 326.67H1413.49V335.33H1403.99zM1441.98 326.67H1451.48V335.33H1441.98zM1460.98 326.67H1470.48V335.33H1460.98zM1736.43 326.67H1745.92V335.33H1736.43zM1422.99 335.33H1432.49V344H1422.99zM1479.98 335.33H1489.47V344H1479.98zM1698.43 335.33H1707.93V344H1698.43zM1850.4 335.33H1859.9V344H1850.4zM1366 344H1375.5V352.67H1366zM1413.49 344H1422.99V352.67H1413.49zM1593.95 344H1603.45V352.67H1593.95zM1631.95 344H1641.44V352.67H1631.95zM1688.94 344H1698.43V352.67H1688.94zM1783.92 344H1802.91V352.67H1783.92zM1850.4 344H1859.9V352.67H1850.4zM1831.41 352.67H1840.91V361.33H1831.41zM1859.9 352.67H1869.4V361.33H1859.9zM1631.95 361.33H1650.94V370H1631.95zM1745.92 361.33H1755.42V370H1745.92zM1831.41 361.33H1840.91V370H1831.41zM1859.9 361.33H1869.4V370H1859.9zM1441.98 370H1451.48V378.67H1441.98zM1356.5 378.67H1366V387.33H1356.5zM1394.49 378.67H1403.99V387.33H1394.49zM1413.49 378.67H1422.99V387.33H1413.49zM1432.49 378.67H1441.98V387.33H1432.49zM1451.48 378.67H1460.98V387.33H1451.48zM1508.47 378.67H1517.97V387.33H1508.47zM1593.95 378.67H1603.45V387.33H1593.95zM1679.44 378.67H1688.94V387.33H1679.44zM1356.5 387.33H1366V396H1356.5zM1603.45 387.33H1612.95V396H1603.45zM1650.94 387.33H1660.44V396H1650.94zM1669.94 387.33H1679.44V396H1669.94zM1717.43 387.33H1726.93V396H1717.43zM1764.92 387.33H1774.42V396H1764.92zM1859.9 387.33H1869.4V396H1859.9zM1384.99 396H1394.49V404.67H1384.99zM1555.96 396H1565.46V404.67H1555.96zM1593.95 396H1612.95V404.67H1593.95zM1641.44 396H1650.94V404.67H1641.44zM1764.92 396H1783.92V404.67H1764.92zM1366 404.67H1384.99V413.33H1366zM1460.98 404.67H1470.48V413.33H1460.98zM1565.46 404.67H1574.96V413.33H1565.46zM1641.44 404.67H1650.94V413.33H1641.44zM1669.94 404.67H1679.44V413.33H1669.94zM1745.92 404.67H1764.92V413.33H1745.92zM1783.92 404.67H1802.91V413.33H1783.92zM1375.5 413.33H1384.99V422H1375.5zM1631.95 413.33H1641.44V422H1631.95zM1755.42 413.33H1764.92V422H1755.42zM1802.91 413.33H1821.91V422H1802.91zM1831.41 413.33H1840.91V422H1831.41zM1375.5 422H1394.49V430.67H1375.5zM1403.99 422H1413.49V430.67H1403.99zM1603.45 422H1612.95V430.67H1603.45zM1622.45 422H1631.95V430.67H1622.45zM1698.43 422H1707.93V430.67H1698.43zM1764.92 422H1774.42V430.67H1764.92zM1384.99 430.67H1394.49V439.33H1384.99zM1413.49 430.67H1422.99V439.33H1413.49zM1508.47 430.67H1517.97V439.33H1508.47zM1584.46 430.67H1593.95V439.33H1584.46zM1698.43 430.67H1707.93V439.33H1698.43zM1764.92 430.67H1774.42V439.33H1764.92zM1384.99 439.33H1394.49V448H1384.99zM1470.48 439.33H1489.47V448H1470.48zM1508.47 439.33H1517.97V448H1508.47zM1774.42 439.33H1783.92V448H1774.42zM1831.41 439.33H1840.91V448H1831.41zM1384.99 448H1394.49V456.67H1384.99zM1470.48 448H1479.98V456.67H1470.48zM1508.47 448H1517.97V456.67H1508.47zM1527.47 448H1536.96V456.67H1527.47zM1631.95 448H1641.44V456.67H1631.95zM1774.42 448H1783.92V456.67H1774.42zM1831.41 448H1840.91V456.67H1831.41zM1859.9 448H1869.4V456.67H1859.9zM1384.99 456.67H1394.49V465.33H1384.99zM1479.98 456.67H1489.47V465.33H1479.98zM1631.95 456.67H1650.94V465.33H1631.95zM1850.4 456.67H1869.4V465.33H1850.4zM1384.99 465.33H1394.49V474H1384.99zM1489.47 465.33H1498.97V474H1489.47zM1517.97 465.33H1527.47V474H1517.97zM1536.96 465.33H1574.96V474H1536.96zM1584.46 465.33H1593.95V474H1584.46zM1650.94 465.33H1660.44V474H1650.94zM1669.94 465.33H1679.44V474H1669.94zM1707.93 465.33H1726.93V474H1707.93zM1774.42 465.33H1783.92V474H1774.42zM1802.91 465.33H1821.91V474H1802.91zM1859.9 465.33H1869.4V474H1859.9zM1479.98 474H1489.47V482.67H1479.98zM1508.47 474H1517.97V482.67H1508.47zM1660.44 474H1669.94V482.67H1660.44zM1850.4 474H1859.9V482.67H1850.4zM1384.99 482.67H1394.49V491.33H1384.99zM1470.48 482.67H1479.98V491.33H1470.48zM1489.47 482.67H1508.47V491.33H1489.47zM1517.97 482.67H1527.47V491.33H1517.97zM1536.96 482.67H1574.96V491.33H1536.96zM1584.46 482.67H1612.95V491.33H1584.46zM1641.44 482.67H1650.94V491.33H1641.44zM1660.44 482.67H1669.94V491.33H1660.44zM1688.94 482.67H1707.93V491.33H1688.94zM1821.91 482.67H1831.41V491.33H1821.91zM1840.91 482.67H1850.4V491.33H1840.91zM1366 491.33H1375.5V500H1366zM1707.93 491.33H1726.93V500H1707.93zM1745.92 491.33H1755.42V500H1745.92zM1812.41 491.33H1840.91V500H1812.41z"/>
<path fill="#b3ff4c" d="M1375.5 32H1394.49V40.67H1375.5zM1460.98 32H1470.48V40.67H1460.98zM1593.95 32H1603.45V40.67H1593.95zM1612.95 32H1622.45V40.67H1612.95zM1384.99 40.67H1394.49V49.33H1384.99zM1451.48 40.67H1460.98V49.33H1451.48zM1612.95 40.67H1622.45V49.33H1612.95zM1783.92 40.67H1793.41V49.33H1783.92zM1356.5 49.33H1366V58H1356.5zM1394.49 49.33H1403.99V58H1394.49zM1413.49 49.33H1422.99V58H1413.49zM1441.98 49.33H1451.48V58H1441.98zM1603.45 49.33H1612.95V58H1603.45zM1356.5 58H1375.5V66.67H1356.5zM1641.44 58H1650.94V66.67H1641.44zM1736.43 58H1755.42V66.67H1736.43zM1375.5 66.67H1384.99V75.33H1375.5zM1403.99 66.67H1413.49V75.33H1403.99zM1441.98 66.67H1451.48V75.33H1441.98zM1460.98 66.67H1470.48V75.33H1460.98zM1593.95 66.67H1603.45V75.33H1593.95zM1394.49 75.33H1403.99V84H1394.49zM1413.49 75.33H1422.99V84H1413.49zM1460.98 75.33H1470.48V84H1460.98zM1375.5 84H1384.99V92.67H1375.5zM1403.99 84H1413.49V92.67H1403.99zM1422.99 84H1432.49V92.67H1422.99zM1451.48 84H1460.98V92.67H1451.48zM1603.45 84H1612.95V92.67H1603.45zM1783.92 84H1793.41V92.67H1783.92zM1413.49 92.67H1422.99V101.33H1413.49zM1432.49 92.67H1441.98V101.33H1432.49zM1679.44 92.67H1688.94V101.33H1679.44zM1736.43 92.67H1745.92V101.33H1736.43zM1422.99 101.33H1432.49V110H1422.99zM1593.95 101.33H1603.45V110H1593.95zM1660.44 101.33H1669.94V110H1660.44zM1375.5 110H1384.99V118.67H1375.5zM1394.49 110H1403.99V118.67H1394.49zM1783.92 110H1793.41V118.67H1783.92zM1366 118.67H1375.5V127.33H1366zM1413.49 118.67H1422.99V127.33H1413.49zM1460.98 118.67H1470.48V127.33H1460.98zM1356.5 127.33H1366V136H1356.5zM1394.49 127.33H1413.49V136H1394.49zM1451.48 127.33H1460.98V136H1451.48zM1783.92 127.33H1793.41V136H1783.92zM1669.94 136H1679.44V144.67H1669.94zM1688.94 136H1698.43V144.67H1688.94zM1717.43 136H1726.93V144.67H1717.43zM1793.41 136H1802.91V144.67H1793.41zM1821.91 136H1831.41V144.67H1821.91zM1508.47 144.67H1517.97V153.33H1508.47zM1527.47 144.67H1536.96V153.33H1527.47zM1555.96 144.67H1565.46V153.33H1555.96zM1584.46 144.67H1593.95V153.33H1584.46zM1707.93 144.67H1726.93V153.33H1707.93zM1793.41 162H1821.91V170.67H1793.41zM1840.91 162H1850.4V170.67H1840.91zM1479.98 170.67H1489.47V179.33H1479.98zM1565.46 170.67H1574.96V179.33H1565.46zM1650.94 170.67H1688.94V179.33H1650.94zM1707.93 170.67H1726.93V179.33H1707.93zM1821.91 170.67H1831.41V179.33H1821.91zM1574.96 179.33H1584.46V188H1574.96zM1660.44 179.33H1669.94V188H1660.44zM1793.41 179.33H1802.91V188H1793.41zM1840.91 179.33H1850.4V188H1840.91zM1479.98 188H1489.47V196.67H1479.98zM1688.94 188H1698.43V196.67H1688.94zM1802.91 188H1812.41V196.67H1802.91zM1821.91 188H1831.41V196.67H1821.91zM1840.91 188H1850.4V196.67H1840.91zM1660.44 205.33H1669.94V214H1660.44zM1688.94 205.33H1698.43V214H1688.94zM1793.41 205.33H1821.91V214H1793.41zM1479.98 214H1489.47V222.67H1479.98zM1508.47 222.67H1517.97V231.33H1508.47zM1660.44 222.67H1669.94V231.33H1660.44zM1517.97 231.33H1527.47V240H1517.97zM1688.94 231.33H1698.43V240H1688.94zM1479.98 240H1489.47V248.67H1479.98zM1660.44 240H1669.94V248.67H1660.44zM1802.91 240H1812.41V248.67H1802.91zM1356.5 248.67H1366V257.33H1356.5zM1394.49 248.67H1403.99V257.33H1394.49zM1432.49 248.67H1441.98V257.33H1432.49zM1375.5 257.33H1384.99V266H1375.5zM1413.49 257.33H1422.99V266H1413.49zM1641.44 257.33H1650.94V266H1641.44zM1356.5 266H1375.5V274.67H1356.5zM1698.43 266H1707.93V274.67H1698.43zM1745.92 266H1764.92V274.67H1745.92zM1850.4 266H1859.9V274.67H1850.4zM1774.42 274.67H1783.92V283.33H1774.42zM1859.9 274.67H1869.4V283.33H1859.9zM1707.93 283.33H1717.43V292H1707.93zM1793.41 283.33H1812.41V292H1793.41zM1850.4 283.33H1859.9V292H1850.4zM1384.99 292H1394.49V300.67H1384.99zM1603.45 292H1612.95V300.67H1603.45zM1774.42 292H1783.92V300.67H1774.42zM1831.41 292H1840.91V300.67H1831.41zM1508.47 300.67H1517.97V309.33H1508.47zM1698.43 300.67H1707.93V309.33H1698.43zM1850.4 300.67H1859.9V309.33H1850.4zM1432.49 309.33H1441.98V318H1432.49zM1508.47 309.33H1527.47V318H1508.47zM1546.46 309.33H1555.96V318H1546.46zM1565.46 309.33H1574.96V318H1565.46zM1584.46 309.33H1593.95V318H1584.46zM1688.94 309.33H1698.43V318H1688.94zM1717.43 309.33H1726.93V318H1717.43zM1793.41 309.33H1812.41V318H1793.41zM1821.91 309.33H1831.41V318H1821.91zM1470.48 318H1479.98V326.67H1470.48zM1508.47 318H1517.97V326.67H1508.47zM1850.4 318H1859.9V326.67H1850.4zM1422.99 326.67H1432.49V335.33H1422.99zM1508.47 326.67H1517.97V335.33H1508.47zM1688.94 326.67H1698.43V335.33H1688.94zM1726.93 326.67H1736.43V335.33H1726.93zM1470.48 335.33H1479.98V344H1470.48zM1527.47 335.33H1536.96V344H1527.47zM1546.46 335.33H1555.96V344H1546.46zM1574.96 335.33H1584.46V344H1574.96zM1660.44 335.33H1669.94V344H1660.44zM1679.44 335.33H1688.94V344H1679.44zM1793.41 335.33H1802.91V344H1793.41zM1840.91 335.33H1850.4V344H1840.91zM1612.95 344H1622.45V352.67H1612.95zM1650.94 344H1660.44V352.67H1650.94zM1479.98 352.67H1489.47V361.33H1479.98zM1508.47 352.67H1517.97V361.33H1508.47zM1631.95 352.67H1641.44V361.33H1631.95zM1850.4 352.67H1859.9V361.33H1850.4zM1470.48 361.33H1489.47V370H1470.48zM1508.47 361.33H1517.97V370H1508.47zM1660.44 361.33H1669.94V370H1660.44zM1850.4 361.33H1859.9V370H1850.4zM1679.44 370H1688.94V378.67H1679.44zM1384.99 378.67H1394.49V387.33H1384.99zM1422.99 378.67H1432.49V387.33H1422.99zM1783.92 378.67H1793.41V387.33H1783.92zM1384.99 387.33H1394.49V396H1384.99zM1612.95 387.33H1622.45V396H1612.95zM1612.95 396H1622.45V404.67H1612.95zM1802.91 396H1812.41V404.67H1802.91zM1850.4 404.67H1859.9V413.33H1850.4zM1622.45 413.33H1631.95V422H1622.45zM1641.44 413.33H1650.94V422H1641.44zM1850.4 413.33H1859.9V422H1850.4zM1366 422H1375.5V430.67H1366zM1413.49 422H1422.99V430.67H1413.49zM1441.98 422H1451.48V430.67H1441.98zM1460.98 422H1470.48V430.67H1460.98zM1736.43 422H1745.92V430.67H1736.43zM1470.48 430.67H1479.98V439.33H1470.48zM1498.97 430.67H1508.47V439.33H1498.97zM1517.97 430.67H1527.47V439.33H1517.97zM1546.46 430.67H1555.96V439.33H1546.46zM1631.95 430.67H1641.44V439.33H1631.95zM1660.44 430.67H1669.94V439.33H1660.44zM1688.94 430.67H1698.43V439.33H1688.94zM1831.41 430.67H1840.91V439.33H1831.41zM1850.4 430.67H1859.9V439.33H1850.4zM1498.97 439.33H1508.47V448H1498.97zM1527.47 439.33H1536.96V448H1527.47zM1546.46 439.33H1555.96V448H1546.46zM1584.46 439.33H1593.95V448H1584.46zM1631.95 439.33H1641.44V448H1631.95zM1660.44 439.33H1669.94V448H1660.44zM1755.42 439.33H1764.92V448H1755.42zM1859.9 439.33H1869.4V448H1859.9zM1498.97 448H1508.47V456.67H1498.97zM1546.46 448H1555.96V456.67H1546.46zM1850.4 448H1859.9V456.67H1850.4zM1470.48 456.67H1479.98V465.33H1470.48zM1508.47 456.67H1517.97V465.33H1508.47zM1527.47 456.67H1536.96V465.33H1527.47zM1660.44 456.67H1669.94V465.33H1660.44zM1641.44 465.33H1650.94V474H1641.44zM1793.41 465.33H1802.91V474H1793.41zM1498.97 474H1508.47V482.67H1498.97zM1517.97 474H1536.96V482.67H1517.97zM1688.94 474H1698.43V482.67H1688.94zM1612.95 482.67H1622.45V491.33H1612.95zM1631.95 482.67H1641.44V491.33H1631.95zM1650.94 482.67H1660.44V491.33H1650.94zM1669.94 482.67H1679.44V491.33H1669.94zM1707.93 482.67H1726.93V491.33H1707.93zM1764.92 482.67H1783.92V491.33H1764.92zM1793.41 482.67H1802.91V491.33H1793.41zM1812.41 482.67H1821.91V491.33H1812.41zM1622.45 491.33H1631.95V500H1622.45zM1802.91 491.33H1812.41V500H1802.91z"/>
<path fill="#ffff00" d="M1413.49 32H1422.99V40.67H1413.49zM1622.45 58H1631.95V66.67H1622.45zM1356.5 84H1366V92.67H1356.5zM1470.48 84H1479.98V92.67H1470.48zM1441.98 92.67H1451.48V101.33H1441.98zM1698.43 101.33H1707.93V110H1698.43zM1422.99 110H1432.49V118.67H1422.99zM1736.43 110H1745.92V118.67H1736.43zM1603.45 127.33H1612.95V136H1603.45zM1622.45 127.33H1631.95V136H1622.45zM1413.49 136H1422.99V144.67H1413.49zM1479.98 136H1489.47V144.67H1479.98zM1555.96 136H1574.96V144.67H1555.96zM1584.46 136H1593.95V144.67H1584.46zM1707.93 136H1717.43V144.67H1707.93zM1470.48 144.67H1479.98V153.33H1470.48zM1536.96 144.67H1546.46V153.33H1536.96zM1508.47 153.33H1517.97V162H1508.47zM1688.94 153.33H1698.43V162H1688.94zM1793.41 153.33H1831.41V162H1793.41zM1840.91 153.33H1850.4V162H1840.91zM1650.94 162H1660.44V170.67H1650.94zM1669.94 162H1679.44V170.67H1669.94zM1489.47 170.67H1498.97V179.33H1489.47zM1527.47 170.67H1565.46V179.33H1527.47zM1812.41 179.33H1821.91V188H1812.41zM1508.47 188H1517.97V196.67H1508.47zM1555.96 188H1574.96V196.67H1555.96zM1584.46 188H1593.95V196.67H1584.46zM1669.94 188H1679.44V196.67H1669.94zM1717.43 188H1726.93V196.67H1717.43zM1479.98 196.67H1489.47V205.33H1479.98zM1508.47 196.67H1517.97V205.33H1508.47zM1508.47 205.33H1517.97V214H1508.47zM1650.94 205.33H1660.44V214H1650.94zM1840.91 205.33H1850.4V214H1840.91zM1470.48 214H1479.98V222.67H1470.48zM1508.47 214H1517.97V222.67H1508.47zM1527.47 214H1536.96V222.67H1527.47zM1660.44 214H1669.94V222.67H1660.44zM1793.41 214H1802.91V222.67H1793.41zM1470.48 222.67H1479.98V231.33H1470.48zM1527.47 222.67H1536.96V231.33H1527.47zM1470.48 240H1479.98V248.67H1470.48zM1527.47 240H1536.96V248.67H1527.47zM1812.41 240H1821.91V248.67H1812.41zM1840.91 240H1850.4V248.67H1840.91zM1460.98 257.33H1470.48V266H1460.98zM1631.95 266H1641.44V274.67H1631.95zM1783.92 266H1793.41V274.67H1783.92zM1384.99 274.67H1394.49V283.33H1384.99zM1460.98 274.67H1470.48V283.33H1460.98zM1764.92 274.67H1774.42V283.33H1764.92zM1612.95 283.33H1622.45V292H1612.95zM1498.97 300.67H1508.47V309.33H1498.97zM1546.46 300.67H1555.96V309.33H1546.46zM1812.41 300.67H1821.91V309.33H1812.41zM1555.96 309.33H1565.46V318H1555.96zM1707.93 309.33H1717.43V318H1707.93zM1498.97 318H1508.47V326.67H1498.97zM1527.47 318H1536.96V326.67H1527.47zM1489.47 335.33H1498.97V344H1489.47zM1802.91 335.33H1821.91V344H1802.91zM1831.41 335.33H1840.91V344H1831.41zM1432.49 344H1441.98V352.67H1432.49zM1470.48 352.67H1479.98V361.33H1470.48zM1660.44 352.67H1669.94V361.33H1660.44zM1527.47 361.33H1536.96V370H1527.47zM1793.41 361.33H1802.91V370H1793.41zM1441.98 378.67H1451.48V387.33H1441.98zM1859.9 396H1869.4V404.67H1859.9zM1622.45 404.67H1631.95V413.33H1622.45zM1612.95 422H1622.45V430.67H1612.95zM1489.47 430.67H1498.97V439.33H1489.47zM1555.96 430.67H1565.46V439.33H1555.96zM1717.43 430.67H1726.93V439.33H1717.43zM1840.91 430.67H1850.4V439.33H1840.91zM1489.47 439.33H1498.97V448H1489.47zM1688.94 439.33H1698.43V448H1688.94zM1850.4 439.33H1859.9V448H1850.4zM1489.47 448H1498.97V456.67H1489.47zM1517.97 448H1527.47V456.67H1517.97zM1584.46 448H1593.95V456.67H1584.46zM1650.94 448H1660.44V456.67H1650.94zM1688.94 448H1698.43V456.67H1688.94zM1489.47 456.67H1498.97V465.33H1489.47zM1688.94 465.33H1698.43V474H1688.94zM1489.47 474H1498.97V482.67H1489.47zM1546.46 474H1555.96V482.67H1546.46zM1584.46 474H1593.95V482.67H1584.46zM1793.41 474H1802.91V482.67H1793.41zM1802.91 482.67H1812.41V491.33H1802.91zM1859.9 482.67H1869.4V491.33H1859.9zM1755.42 491.33H1764.92V500H1755.42zM1850.4 491.33H1859.9V500H1850.4z"/>
<path fill="#ffbf00" d="M1366 32H1375.5V40.67H1366zM1432.49 32H1441.98V40.67H1432.49zM1356.5 40.67H1366V49.33H1356.5zM1593.95 40.67H1603.45V49.33H1593.95zM1850.4 40.67H1859.9V49.33H1850.4zM1384.99 49.33H1394.49V58H1384.99zM1375.5 58H1384.99V66.67H1375.5zM1422.99 75.33H1432.49V84H1422.99zM1441.98 75.33H1451.48V84H1441.98zM1527.47 84H1536.96V92.67H1527.47zM1660.44 84H1669.94V92.67H1660.44zM1403.99 92.67H1413.49V101.33H1403.99zM1508.47 92.67H1517.97V101.33H1508.47zM1574.96 92.67H1584.46V101.33H1574.96zM1356.5 101.33H1366V110H1356.5zM1783.92 101.33H1793.41V110H1783.92zM1403.99 110H1413.49V118.67H1403.99zM1593.95 118.67H1603.45V127.33H1593.95zM1612.95 118.67H1622.45V127.33H1612.95zM1698.43 118.67H1707.93V127.33H1698.43zM1726.93 127.33H1745.92V136H1726.93zM1536.96 136H1555.96V144.67H1536.96zM1650.94 136H1669.94V144.67H1650.94zM1489.47 144.67H1498.97V153.33H1489.47zM1479.98 153.33H1489.47V162H1479.98zM1584.46 153.33H1593.95V162H1584.46zM1650.94 153.33H1669.94V162H1650.94zM1527.47 162H1546.46V170.67H1527.47zM1555.96 162H1574.96V170.67H1555.96zM1584.46 162H1593.95V170.67H1584.46zM1688.94 162H1698.43V170.67H1688.94zM1707.93 162H1717.43V170.67H1707.93zM1821.91 162H1831.41V170.67H1821.91zM1422.99 170.67H1432.49V179.33H1422.99zM1574.96 170.67H1593.95V179.33H1574.96zM1527.47 179.33H1536.96V188H1527.47zM1650.94 179.33H1660.44V188H1650.94zM1669.94 179.33H1679.44V188H1669.94zM1688.94 179.33H1698.43V188H1688.94zM1802.91 179.33H1812.41V188H1802.91zM1821.91 179.33H1831.41V188H1821.91zM1413.49 188H1422.99V196.67H1413.49zM1498.97 188H1508.47V196.67H1498.97zM1517.97 188H1527.47V196.67H1517.97zM1546.46 188H1555.96V196.67H1546.46zM1707.93 188H1717.43V196.67H1707.93zM1793.41 188H1802.91V196.67H1793.41zM1470.48 196.67H1479.98V205.33H1470.48zM1498.97 196.67H1508.47V205.33H1498.97zM1688.94 196.67H1698.43V205.33H1688.94zM1793.41 196.67H1802.91V205.33H1793.41zM1812.41 196.67H1831.41V205.33H1812.41zM1840.91 196.67H1850.4V205.33H1840.91zM1470.48 205.33H1479.98V214H1470.48zM1527.47 205.33H1536.96V214H1527.47zM1584.46 205.33H1593.95V214H1584.46zM1821.91 205.33H1831.41V214H1821.91zM1498.97 214H1508.47V222.67H1498.97zM1584.46 214H1593.95V222.67H1584.46zM1688.94 214H1698.43V222.67H1688.94zM1821.91 214H1831.41V222.67H1821.91zM1498.97 222.67H1508.47V231.33H1498.97zM1688.94 222.67H1698.43V231.33H1688.94zM1793.41 222.67H1812.41V231.33H1793.41zM1422.99 231.33H1432.49V240H1422.99zM1508.47 231.33H1517.97V240H1508.47zM1679.44 231.33H1688.94V240H1679.44zM1489.47 240H1517.97V248.67H1489.47zM1546.46 240H1565.46V248.67H1546.46zM1650.94 240H1660.44V248.67H1650.94zM1669.94 240H1679.44V248.67H1669.94zM1821.91 240H1831.41V248.67H1821.91zM1366 248.67H1375.5V257.33H1366zM1451.48 248.67H1460.98V257.33H1451.48zM1783.92 248.67H1793.41V257.33H1783.92zM1774.42 257.33H1783.92V266H1774.42zM1859.9 257.33H1869.4V266H1859.9zM1451.48 266H1460.98V274.67H1451.48zM1736.43 274.67H1745.92V283.33H1736.43zM1470.48 300.67H1479.98V309.33H1470.48zM1489.47 300.67H1498.97V309.33H1489.47zM1517.97 300.67H1527.47V309.33H1517.97zM1584.46 300.67H1593.95V309.33H1584.46zM1669.94 300.67H1679.44V309.33H1669.94zM1821.91 300.67H1831.41V309.33H1821.91zM1840.91 300.67H1850.4V309.33H1840.91zM1413.49 309.33H1422.99V318H1413.49zM1470.48 309.33H1479.98V318H1470.48zM1489.47 309.33H1498.97V318H1489.47zM1698.43 309.33H1707.93V318H1698.43zM1517.97 318H1527.47V326.67H1517.97zM1584.46 318H1593.95V326.67H1584.46zM1650.94 318H1660.44V326.67H1650.94zM1688.94 318H1698.43V326.67H1688.94zM1793.41 318H1802.91V326.67H1793.41zM1574.96 326.67H1584.46V335.33H1574.96zM1498.97 335.33H1508.47V344H1498.97zM1517.97 335.33H1527.47V344H1517.97zM1536.96 335.33H1546.46V344H1536.96zM1555.96 335.33H1574.96V344H1555.96zM1669.94 335.33H1679.44V344H1669.94zM1707.93 335.33H1717.43V344H1707.93zM1451.48 344H1460.98V352.67H1451.48zM1660.44 344H1669.94V352.67H1660.44zM1498.97 352.67H1508.47V361.33H1498.97zM1527.47 352.67H1536.96V361.33H1527.47zM1688.94 352.67H1698.43V361.33H1688.94zM1793.41 352.67H1802.91V361.33H1793.41zM1460.98 370H1470.48V378.67H1460.98zM1460.98 378.67H1470.48V387.33H1460.98zM1622.45 378.67H1631.95V387.33H1622.45zM1603.45 413.33H1612.95V422H1603.45zM1432.49 422H1441.98V430.67H1432.49zM1593.95 422H1603.45V430.67H1593.95zM1527.47 430.67H1546.46V439.33H1527.47zM1565.46 430.67H1574.96V439.33H1565.46zM1669.94 430.67H1679.44V439.33H1669.94zM1707.93 430.67H1717.43V439.33H1707.93zM1802.91 430.67H1821.91V439.33H1802.91zM1517.97 439.33H1527.47V448H1517.97zM1565.46 439.33H1574.96V448H1565.46zM1793.41 439.33H1802.91V448H1793.41zM1536.96 448H1546.46V456.67H1536.96zM1793.41 448H1802.91V456.67H1793.41zM1498.97 456.67H1508.47V465.33H1498.97zM1517.97 456.67H1527.47V465.33H1517.97zM1536.96 456.67H1565.46V465.33H1536.96zM1584.46 456.67H1593.95V465.33H1584.46zM1650.94 456.67H1660.44V465.33H1650.94zM1831.41 456.67H1840.91V465.33H1831.41zM1821.91 465.33H1831.41V474H1821.91zM1536.96 474H1546.46V482.67H1536.96zM1650.94 474H1660.44V482.67H1650.94zM1366 482.67H1375.5V491.33H1366zM1603.45 491.33H1612.95V500H1603.45z"/>
<path fill="#ff8000" d="M1451.48 32H1460.98V40.67H1451.48zM1755.42 40.67H1764.92V49.33H1755.42zM1859.9 58H1869.4V66.67H1859.9zM1451.48 66.67H1460.98V75.33H1451.48zM1356.5 118.67H1366V127.33H1356.5zM1394.49 118.67H1403.99V127.33H1394.49zM1508.47 136H1527.47V144.67H1508.47zM1517.97 144.67H1527.47V153.33H1517.97zM1498.97 153.33H1508.47V162H1498.97zM1527.47 153.33H1536.96V162H1527.47zM1669.94 153.33H1679.44V162H1669.94zM1717.43 153.33H1726.93V162H1717.43zM1489.47 162H1498.97V170.67H1489.47zM1717.43 162H1726.93V170.67H1717.43zM1470.48 170.67H1479.98V179.33H1470.48zM1517.97 170.67H1527.47V179.33H1517.97zM1688.94 170.67H1698.43V179.33H1688.94zM1470.48 179.33H1489.47V188H1470.48zM1508.47 179.33H1517.97V188H1508.47zM1489.47 188H1498.97V196.67H1489.47zM1660.44 196.67H1669.94V205.33H1660.44zM1802.91 196.67H1812.41V205.33H1802.91zM1707.93 205.33H1726.93V214H1707.93zM1650.94 214H1660.44V222.67H1650.94zM1802.91 214H1821.91V222.67H1802.91zM1584.46 222.67H1593.95V231.33H1584.46zM1650.94 222.67H1660.44V231.33H1650.94zM1812.41 222.67H1821.91V231.33H1812.41zM1840.91 222.67H1850.4V231.33H1840.91zM1565.46 240H1574.96V248.67H1565.46zM1736.43 257.33H1745.92V266H1736.43zM1764.92 257.33H1774.42V266H1764.92zM1641.44 274.67H1650.94V283.33H1641.44zM1622.45 292H1631.95V300.67H1622.45zM1555.96 300.67H1574.96V309.33H1555.96zM1688.94 300.67H1698.43V309.33H1688.94zM1793.41 300.67H1802.91V309.33H1793.41zM1536.96 309.33H1546.46V318H1536.96zM1489.47 318H1498.97V326.67H1489.47zM1508.47 335.33H1517.97V344H1508.47zM1650.94 335.33H1660.44V344H1650.94zM1546.46 352.67H1555.96V361.33H1546.46zM1489.47 361.33H1508.47V370H1489.47zM1546.46 361.33H1555.96V370H1546.46zM1802.91 361.33H1812.41V370H1802.91zM1603.45 378.67H1612.95V387.33H1603.45zM1850.4 387.33H1859.9V396H1850.4zM1366 396H1375.5V404.67H1366zM1603.45 404.67H1612.95V413.33H1603.45zM1650.94 430.67H1660.44V439.33H1650.94zM1821.91 430.67H1831.41V439.33H1821.91zM1536.96 439.33H1546.46V448H1536.96zM1555.96 439.33H1565.46V448H1555.96zM1717.43 439.33H1726.93V448H1717.43zM1555.96 448H1574.96V456.67H1555.96zM1793.41 456.67H1802.91V465.33H1793.41zM1565.46 474H1574.96V482.67H1565.46zM1745.92 482.67H1755.42V491.33H1745.92zM1384.99 491.33H1394.49V500H1384.99z"/>
<path fill="#ff4000" d="M1603.45 58H1612.95V66.67H1603.45zM1774.42 58H1783.92V66.67H1774.42zM1460.98 110H1470.48V118.67H1460.98zM1441.98 127.33H1451.48V136H1441.98zM1489.47 136H1508.47V144.67H1489.47zM1498.97 144.67H1508.47V153.33H1498.97zM1546.46 144.67H1555.96V153.33H1546.46zM1470.48 153.33H1479.98V162H1470.48zM1565.46 153.33H1574.96V162H1565.46zM1470.48 162H1489.47V170.67H1470.48zM1508.47 162H1517.97V170.67H1508.47zM1498.97 170.67H1508.47V179.33H1498.97zM1555.96 179.33H1565.46V188H1555.96zM1650.94 188H1669.94V196.67H1650.94zM1584.46 196.67H1593.95V205.33H1584.46zM1479.98 205.33H1489.47V214H1479.98zM1669.94 205.33H1679.44V214H1669.94zM1517.97 214H1527.47V222.67H1517.97zM1717.43 214H1726.93V222.67H1717.43zM1840.91 214H1850.4V222.67H1840.91zM1489.47 222.67H1498.97V231.33H1489.47zM1821.91 222.67H1831.41V231.33H1821.91zM1536.96 240H1546.46V248.67H1536.96zM1707.93 240H1717.43V248.67H1707.93zM1384.99 257.33H1394.49V266H1384.99zM1527.47 300.67H1536.96V309.33H1527.47zM1660.44 300.67H1669.94V309.33H1660.44zM1802.91 300.67H1812.41V309.33H1802.91zM1527.47 309.33H1536.96V318H1527.47zM1650.94 309.33H1660.44V318H1650.94zM1546.46 318H1555.96V326.67H1546.46zM1717.43 335.33H1726.93V344H1717.43zM1821.91 335.33H1831.41V344H1821.91zM1584.46 352.67H1593.95V361.33H1584.46zM1821.91 352.67H1831.41V361.33H1821.91zM1555.96 361.33H1565.46V370H1555.96zM1688.94 361.33H1698.43V370H1688.94zM1755.42 387.33H1764.92V396H1755.42zM1745.92 396H1755.42V404.67H1745.92zM1859.9 404.67H1869.4V413.33H1859.9zM1384.99 413.33H1394.49V422H1384.99zM1650.94 439.33H1660.44V448H1650.94zM1565.46 456.67H1574.96V465.33H1565.46zM1688.94 456.67H1698.43V465.33H1688.94zM1707.93 456.67H1717.43V465.33H1707.93zM1555.96 474H1565.46V482.67H1555.96zM1764.92 491.33H1774.42V500H1764.92z"/>
<path fill="#ff0000" d="M1394.49 32H1403.99V40.67H1394.49zM1745.92 40.67H1755.42V49.33H1745.92zM1403.99 49.33H1413.49V58H1403.99zM1736.43 49.33H1745.92V58H1736.43zM1356.5 66.67H1366V75.33H1356.5zM1413.49 66.67H1422.99V75.33H1413.49zM1432.49 66.67H1441.98V75.33H1432.49zM1375.5 75.33H1384.99V84H1375.5zM1736.43 75.33H1745.92V84H1736.43zM1394.49 84H1403.99V92.67H1394.49zM1432.49 84H1441.98V92.67H1432.49zM1394.49 101.33H1403.99V110H1394.49zM1413.49 101.33H1422.99V110H1413.49zM1451.48 101.33H1460.98V110H1451.48zM1432.49 118.67H1441.98V127.33H1432.49zM1783.92 118.67H1793.41V127.33H1783.92zM1527.47 136H1536.96V144.67H1527.47zM1707.93 153.33H1717.43V162H1707.93zM1546.46 162H1555.96V170.67H1546.46zM1536.96 179.33H1546.46V188H1536.96zM1584.46 179.33H1593.95V188H1584.46zM1707.93 179.33H1717.43V188H1707.93zM1470.48 188H1479.98V196.67H1470.48zM1536.96 188H1546.46V196.67H1536.96zM1517.97 196.67H1536.96V205.33H1517.97zM1546.46 196.67H1555.96V205.33H1546.46zM1565.46 196.67H1574.96V205.33H1565.46zM1669.94 196.67H1679.44V205.33H1669.94zM1498.97 205.33H1508.47V214H1498.97zM1536.96 205.33H1546.46V214H1536.96zM1565.46 205.33H1574.96V214H1565.46zM1536.96 222.67H1555.96V231.33H1536.96zM1517.97 240H1527.47V248.67H1517.97zM1612.95 248.67H1622.45V257.33H1612.95zM1593.95 266H1603.45V274.67H1593.95zM1536.96 318H1546.46V326.67H1536.96zM1802.91 318H1812.41V326.67H1802.91zM1821.91 318H1831.41V326.67H1821.91zM1489.47 352.67H1498.97V361.33H1489.47zM1517.97 352.67H1527.47V361.33H1517.97zM1840.91 361.33H1850.4V370H1840.91zM1375.5 378.67H1384.99V387.33H1375.5zM1403.99 378.67H1413.49V387.33H1403.99zM1366 387.33H1375.5V396H1366zM1451.48 422H1460.98V430.67H1451.48zM1669.94 439.33H1679.44V448H1669.94zM1821.91 439.33H1831.41V448H1821.91zM1669.94 456.67H1679.44V465.33H1669.94zM1802.91 456.67H1812.41V465.33H1802.91zM1717.43 474H1726.93V482.67H1717.43z"/>
<path fill="#bf0000" d="M1783.92 32H1793.41V40.67H1783.92zM1517.97 153.33H1527.47V162H1517.97zM1536.96 153.33H1565.46V162H1536.96zM1489.47 179.33H1498.97V188H1489.47zM1546.46 179.33H1555.96V188H1546.46zM1565.46 179.33H1574.96V188H1565.46zM1717.43 179.33H1726.93V188H1717.43zM1489.47 196.67H1498.97V205.33H1489.47zM1555.96 196.67H1565.46V205.33H1555.96zM1650.94 196.67H1660.44V205.33H1650.94zM1717.43 196.67H1726.93V205.33H1717.43zM1489.47 205.33H1498.97V214H1489.47zM1517.97 205.33H1527.47V214H1517.97zM1555.96 205.33H1565.46V214H1555.96zM1489.47 214H1498.97V222.67H1489.47zM1536.96 214H1555.96V222.67H1536.96zM1517.97 222.67H1527.47V231.33H1517.97zM1707.93 222.67H1726.93V231.33H1707.93zM1688.94 240H1698.43V248.67H1688.94zM1536.96 300.67H1546.46V309.33H1536.96zM1707.93 300.67H1726.93V309.33H1707.93zM1717.43 318H1726.93V326.67H1717.43zM1584.46 335.33H1593.95V344H1584.46zM1565.46 352.67H1574.96V361.33H1565.46zM1650.94 352.67H1660.44V361.33H1650.94zM1802.91 352.67H1821.91V361.33H1802.91zM1840.91 352.67H1850.4V361.33H1840.91zM1517.97 361.33H1527.47V370H1517.97zM1536.96 361.33H1546.46V370H1536.96zM1565.46 361.33H1574.96V370H1565.46zM1650.94 361.33H1660.44V370H1650.94zM1669.94 361.33H1679.44V370H1669.94zM1812.41 361.33H1831.41V370H1812.41zM1774.42 404.67H1783.92V413.33H1774.42zM1764.92 413.33H1774.42V422H1764.92zM1356.5 422H1366V430.67H1356.5zM1707.93 439.33H1717.43V448H1707.93zM1812.41 439.33H1821.91V448H1812.41zM1840.91 439.33H1850.4V448H1840.91zM1707.93 448H1726.93V456.67H1707.93zM1802.91 448H1812.41V456.67H1802.91zM1821.91 448H1831.41V456.67H1821.91zM1717.43 456.67H1726.93V465.33H1717.43zM1812.41 456.67H1821.91V465.33H1812.41zM1840.91 456.67H1850.4V465.33H1840.91zM1707.93 474H1717.43V482.67H1707.93zM1802.91 474H1812.41V482.67H1802.91zM1821.91 474H1831.41V482.67H1821.91z"/>
<path fill="#800000" d="M1764.92 58H1774.42V66.67H1764.92zM1783.92 66.67H1793.41V75.33H1783.92zM1517.97 162H1527.47V170.67H1517.97zM1498.97 179.33H1508.47V188H1498.97zM1707.93 196.67H1717.43V205.33H1707.93zM1565.46 214H1574.96V222.67H1565.46zM1669.94 214H1679.44V222.67H1669.94zM1707.93 214H1717.43V222.67H1707.93zM1555.96 222.67H1565.46V231.33H1555.96zM1669.94 222.67H1679.44V231.33H1669.94zM1717.43 240H1726.93V248.67H1717.43zM1622.45 257.33H1631.95V266H1622.45zM1603.45 274.67H1612.95V283.33H1603.45zM1555.96 318H1574.96V326.67H1555.96zM1707.93 318H1717.43V326.67H1707.93zM1812.41 318H1821.91V326.67H1812.41zM1840.91 318H1850.4V326.67H1840.91zM1536.96 352.67H1546.46V361.33H1536.96zM1555.96 352.67H1565.46V361.33H1555.96zM1669.94 352.67H1679.44V361.33H1669.94zM1717.43 352.67H1726.93V361.33H1717.43zM1584.46 361.33H1593.95V370H1584.46zM1707.93 361.33H1717.43V370H1707.93zM1850.4 396H1859.9V404.67H1850.4zM1384.99 404.67H1394.49V413.33H1384.99zM1859.9 413.33H1869.4V422H1859.9zM1394.49 422H1403.99V430.67H1394.49zM1669.94 448H1679.44V456.67H1669.94zM1840.91 448H1850.4V456.67H1840.91zM1669.94 474H1679.44V482.67H1669.94zM1812.41 474H1821.91V482.67H1812.41zM1755.42 482.67H1764.92V491.33H1755.42zM1774.42 491.33H1783.92V500H1774.42z"/>
<rect x="1899.5" y="31" width="41" height="8.33" fill="#800000"/>
<rect x="1899.5" y="38.83" width="41" height="7.83" fill="#8f0000"/>
<rect x="1899.5" y="46.16" width="41" height="7.83" fill="#9f0000"/>
<rect x="1899.5" y="53.48" width="41" height="7.83" fill="#af0000"/>
<rect x="1899.5" y="60.81" width="41" height="7.83" fill="#bf0000"/>
<rect x="1899.5" y="68.14" width="41" height="7.83" fill="#cf0000"/>
<rect x="1899.5" y="75.47" width="41" height="7.83" fill="#df0000"/>
<rect x="1899.5" y="82.8" width="41" height="7.83" fill="#ef0000"/>
<rect x="1899.5" y="90.12" width="41" height="7.83" fill="#ff0000"/>
<rect x="1899.5" y="97.45" width="41" height="7.83" fill="#ff1000"/>
<rect x="1899.5" y="104.78" width="41" height="7.83" fill="#ff2000"/>
<rect x="1899.5" y="112.11" width="41" height="7.83" fill="#ff3000"/>
<rect x="1899.5" y="119.44" width="41" height="7.83" fill="#ff4000"/>
<rect x="1899.5" y="126.77" width="41" height="7.83" fill="#ff5000"/>
<rect x="1899.5" y="134.09" width="41" height="7.83" fill="#ff6000"/>
<rect x="1899.5" y="141.42" width="41" height="7.83" fill="#ff7000"/>
<rect x="1899.5" y="148.75" width="41" height="7.83" fill="#ff8000"/>
<rect x="1899.5" y="156.08" width="41" height="7.83" fill="#ff8f00"/>
<rect x="1899.5" y="163.41" width="41" height="7.83" fill="#ff9f00"/>
<rect x="1899.5" y="170.73" width="41" height="7.83" fill="#ffaf00"/>
<rect x="1899.5" y="178.06" width="41" height="7.83" fill="#ffbf00"/>
<rect x="1899.5" y="185.39" width="41" height="7.83" fill="#ffcf00"/>
<rect x="1899.5" y="192.72" width="41" height="7.83" fill="#ffdf00"/>
<rect x="1899.5" y="200.05" width="41" height="7.83" fill="#ffef00"/>
<rect x="1899.5" y="207.38" width="41" height="7.83" fill="#ffff00"/>
<rect x="1899.5" y="214.7" width="41" height="7.83" fill="#efff10"/>
<rect x="1899.5" y="222.03" width="41" height="7.83" fill="#dfff20"/>
<rect x="1899.5" y="229.36" width="41" height="7.83" fill="#cfff30"/>
<rect x="1899.5" y="236.69" width="41" height="7.83" fill="#bfff40"/>
<rect x="1899.5" y="244.02" width="41" height="7.83" fill="#afff50"/>
<rect x="1899.5" y="251.34" width="41" height="7.83" fill="#9fff60"/>
<rect x="1899.5" y="258.67" width="41" height="7.83" fill="#8fff70"/>
<rect x="1899.5" y="266" width="41" height="7.83" fill="#80ff80"/>
<rect x="1899.5" y="273.33" width="41" height="7.83" fill="#70ff8f"/>
<rect x="1899.5" y="280.66" width="41" height="7.83" fill="#60ff9f"/>
<rect x="1899.5" y="287.98" width="41" height="7.83" fill="#50ffaf"/>
<rect x="1899.5" y="295.31" width="41" height="7.83" fill="#40ffbf"/>
<rect x="1899.5" y="302.64" width="41" height="7.83" fill="#30ffcf"/>
<rect x="1899.5" y="309.97" width="41" height="7.83" fill="#20ffdf"/>
<rect x="1899.5" y="317.3" width="41" height="7.83" fill="#10ffef"/>
<rect x="1899.5" y="324.62" width="41" height="7.83" fill="#00ffff"/>
<rect x="1899.5" y="331.95" width="41" height="7.83" fill="#00efff"/>
<rect x="1899.5" y="339.28" width="41" height="7.83" fill="#00dfff"/>
<rect x="1899.5" y="346.61" width="41" height="7.83" fill="#00cfff"/>
<rect x="1899.5" y="353.94" width="41" height="7.83" fill="#00bfff"/>
<rect x="1899.5" y="361.27" width="41" height="7.83" fill="#00afff"/>
<rect x="1899.5" y="368.59" width="41" height="7.83" fill="#009fff"/>
<rect x="1899.5" y="375.92" width="41" height="7.83" fill="#008fff"/>
<rect x="1899.5" y="383.25" width="41" height="7.83" fill="#0080ff"/>
<rect x="1899.5" y="390.58" width="41" height="7.83" fill="#0070ff"/>
<rect x="1899.5" y="397.91" width="41" height="7.83" fill="#0060ff"/>
<rect x="1899.5" y="405.23" width="41" height="7.83" fill="#0050ff"/>
<rect x="1899.5" y="412.56" width="41" height="7.83" fill="#0040ff"/>
<rect x="1899.5" y="419.89" width="41" height="7.83" fill="#0030ff"/>
<rect x="1899.5" y="427.22" width="41" height="7.83" fill="#0020ff"/>
<rect x="1899.5" y="434.55" width="41" height="7.83" fill="#0010ff"/>
<rect x="1899.5" y="441.88" width="41" height="7.83" fill="#0000ff"/>
<rect x="1899.5" y="449.2" width="41" height="7.83" fill="#0000ef"/>
<rect x="1899.5" y="456.53" width="41" height="7.83" fill="#0000df"/>
<rect x="1899.5" y="463.86" width="41" height="7.83" fill="#0000cf"/>
<rect x="1899.5" y="471.19" width="41" height="7.83" fill="#0000bf"/>
<rect x="1899.5" y="478.52" width="41" height="7.83" fill="#0000af"/>
<rect x="1899.5" y="485.84" width="41" height="7.83" fill="#00009f"/>
<rect x="1899.5" y="493.17" width="41" height="7.83" fill="#00008f"/>
<path fill="#000" d="M1361 32h1v5h-1zM1361 495h1v5h-1zM1357 36h4v1h-4zM1865 36h4v1h-4zM1370 32h1v5h-1zM1370 495h1v5h-1zM1357 45h4v1h-4zM1865 45h4v1h-4zM1380 32h1v5h-1zM1380 495h1v5h-1zM1357 53h4v1h-4zM1865 53h4v1h-4zM1389 32h1v5h-1zM1389 495h1v5h-1zM1357 62h4v1h-4zM1865 62h4v1h-4zM1399 32h1v5h-1zM1399 495h1v5h-1zM1357 71h4v1h-4zM1865 71h4v1h-4zM1408 32h1v5h-1zM1408 495h1v5h-1zM1357 79h4v1h-4zM1865 79h4v1h-4zM1418 32h1v5h-1zM1418 495h1v5h-1zM1357 88h4v1h-4zM1865 88h4v1h-4zM1427 32h1v5h-1zM1427 495h1v5h-1zM1357 97h4v1h-4zM1865 97h4v1h-4zM1437 32h1v5h-1zM1437 495h1v5h-1zM1357 105h4v1h-4zM1865 105h4v1h-4zM1446 32h1v5h-1zM1446 495h1v5h-1zM1357 114h4v1h-4zM1865 114h4v1h-4zM1456 32h1v5h-1zM1456 495h1v5h-1zM1357 123h4v1h-4zM1865 123h4v1h-4zM1465 32h1v5h-1zM1465 495h1v5h-1zM1357 131h4v1h-4zM1865 131h4v1h-4zM1475 32h1v5h-1zM1475 495h1v5h-1zM1357 140h4v1h-4zM1865 140h4v1h-4zM1484 32h1v5h-1zM1484 495h1v5h-1zM1357 149h4v1h-4zM1865 149h4v1h-4zM1494 32h1v5h-1zM1494 495h1v5h-1zM1357 157h4v1h-4zM1865 157h4v1h-4zM1503 32h1v5h-1zM1503 495h1v5h-1zM1357 166h4v1h-4zM1865 166h4v1h-4zM1513 32h1v5h-1zM1513 495h1v5h-1zM1357 175h4v1h-4zM1865 175h4v1h-4zM1522 32h1v5h-1zM1522 495h1v5h-1zM1357 183h4v1h-4zM1865 183h4v1h-4zM1532 32h1v5h-1zM1532 495h1v5h-1zM1357 192h4v1h-4zM1865 192h4v1h-4zM1541 32h1v5h-1zM1541 495h1v5h-1zM1357 201h4v1h-4zM1865 201h4v1h-4zM1551 32h1v5h-1zM1551 495h1v5h-1zM1357 209h4v1h-4zM1865 209h4v1h-4zM1560 32h1v5h-1zM1560 495h1v5h-1zM1357 218h4v1h-4zM1865 218h4v1h-4zM1570 32h1v5h-1zM1570 495h1v5h-1zM1357 227h4v1h-4zM1865 227h4v1h-4zM1579 32h1v5h-1zM1579 495h1v5h-1zM1357 235h4v1h-4zM1865 235h4v1h-4zM1589 32h1v5h-1zM1589 495h1v5h-1zM1357 244h4v1h-4zM1865 244h4v1h-4zM1598 32h1v5h-1zM1598 495h1v5h-1zM1357 252h4v1h-4zM1865 252h4v1h-4zM1608 32h1v5h-1zM1608 495h1v5h-1zM1357 261h4v1h-4zM1865 261h4v1h-4zM1617 32h1v5h-1zM1617 495h1v5h-1zM1357 270h4v1h-4zM1865 270h4v1h-4zM1627 32h1v5h-1zM1627 495h1v5h-1zM1357 279h4v1h-4zM1865 279h4v1h-4zM1636 32h1v5h-1zM1636 495h1v5h-1zM1357 287h4v1h-4zM1865 287h4v1h-4zM1646 32h1v5h-1zM1646 495h1v5h-1zM1357 296h4v1h-4zM1865 296h4v1h-4zM1655 32h1v5h-1zM1655 495h1v5h-1zM1357 305h4v1h-4zM1865 305h4v1h-4zM1665 32h1v5h-1zM1665 495h1v5h-1zM1357 313h4v1h-4zM1865 313h4v1h-4zM1674 32h1v5h-1zM1674 495h1v5h-1zM1357 322h4v1h-4zM1865 322h4v1h-4zM1684 32h1v5h-1zM1684 495h1v5h-1zM1357 331h4v1h-4zM1865 331h4v1h-4zM1693 32h1v5h-1zM1693 495h1v5h-1zM1357 339h4v1h-4zM1865 339h4v1h-4zM1703 32h1v5h-1zM1703 495h1v5h-1zM1357 348h4v1h-4zM1865 348h4v1h-4zM1712 32h1v5h-1zM1712 495h1v5h-1zM1357 357h4v1h-4zM1865 357h4v1h-4zM1722 32h1v5h-1zM1722 495h1v5h-1zM1357 365h4v1h-4zM1865 365h4v1h-4zM1731 32h1v5h-1zM1731 495h1v5h-1zM1357 374h4v1h-4zM1865 374h4v1h-4zM1741 32h1v5h-1zM1741 495h1v5h-1zM1357 383h4v1h-4zM1865 383h4v1h-4zM1750 32h1v5h-1zM1750 495h1v5h-1zM1357 391h4v1h-4zM1865 391h4v1h-4zM1760 32h1v5h-1zM1760 495h1v5h-1zM1357 400h4v1h-4zM1865 400h4v1h-4zM1769 32h1v5h-1zM1769 495h1v5h-1zM1357 409h4v1h-4zM1865 409h4v1h-4zM1779 32h1v5h-1zM1779 495h1v5h-1zM1357 417h4v1h-4zM1865 417h4v1h-4zM1788 32h1v5h-1zM1788 495h1v5h-1zM1357 426h4v1h-4zM1865 426h4v1h-4zM1798 32h1v5h-1zM1798 495h1v5h-1zM1357 435h4v1h-4zM1865 435h4v1h-4zM1807 32h1v5h-1zM1807 495h1v5h-1zM1357 443h4v1h-4zM1865 443h4v1h-4zM1817 32h1v5h-1zM1817 495h1v5h-1zM1357 452h4v1h-4zM1865 452h4v1h-4zM1826 32h1v5h-1zM1826 495h1v5h-1zM1357 460h4v1h-4zM1865 460h4v1h-4zM1836 32h1v5h-1zM1836 495h1v5h-1zM1357 469h4v1h-4zM1865 469h4v1h-4zM1845 32h1v5h-1zM1845 495h1v5h-1zM1357 478h4v1h-4zM1865 478h4v1h-4zM1855 32h1v5h-1zM1855 495h1v5h-1zM1357 486h4v1h-4zM1865 486h4v1h-4zM1864 32h1v5h-1zM1864 495h1v5h-1zM1357 495h4v1h-4zM1865 495h4v1h-4zM1900 500h4v1h-4zM1936 500h4v1h-4zM1900 453h4v1h-4zM1936 453h4v1h-4zM1900 406h4v1h-4zM1936 406h4v1h-4zM1900 359h4v1h-4zM1936 359h4v1h-4zM1900 312h4v1h-4zM1936 312h4v1h-4zM1900 266h4v1h-4zM1936 266h4v1h-4zM1900 219h4v1h-4zM1936 219h4v1h-4zM1900 172h4v1h-4zM1936 172h4v1h-4zM1900 125h4v1h-4zM1936 125h4v1h-4zM1900 78h4v1h-4zM1936 78h4v1h-4zM1900 31h4v1h-4zM1936 31h4v1h-4zM1356 31h514v1h-514zM1356 500h514v1h-514zM1356 31h1v470h-1zM1869 31h1v470h-1zM1899 500h42v1h-42zM1899 31h1v470h-1zM1940 31h1v470h-1z"/>
</g>
<text class="l" x="1945.7" y="507.4">0</text>
<text class="l" x="1945.7" y="460.5">0.1</text>
<text class="l" x="1945.7" y="413.6">0.2</text>
<text class="l" x="1945.7" y="366.7">0.3</text>
<text class="l" x="1945.7" y="319.8">0.4</text>
<text class="l" x="1945.7" y="272.9">0.5</text>
<text class="l" x="1945.7" y="226">0.6</text>
<text class="l" x="1945.7" y="179.1">0.7</text>
<text class="l" x="1945.7" y="132.2">0.8</text>
<text class="l" x="1945.7" y="85.3">0.9</text>
<text class="l" x="1945.7" y="38.4">1</text>
<text class="t" x="1609.9" y="19.8">AVHh+</text>
<rect x="0" y="69" width="586" height="1" fill="#fff" fill-opacity="0.3"/>
<rect x="1356" y="327" width="585" height="1" fill="#fff" fill-opacity="0.3"/>
<path d="M6 509.5H460" stroke="#bbb" stroke-width="1" stroke-dasharray="2 6" stroke-opacity="0.7" fill="none"/>
</svg>
</body></html>
